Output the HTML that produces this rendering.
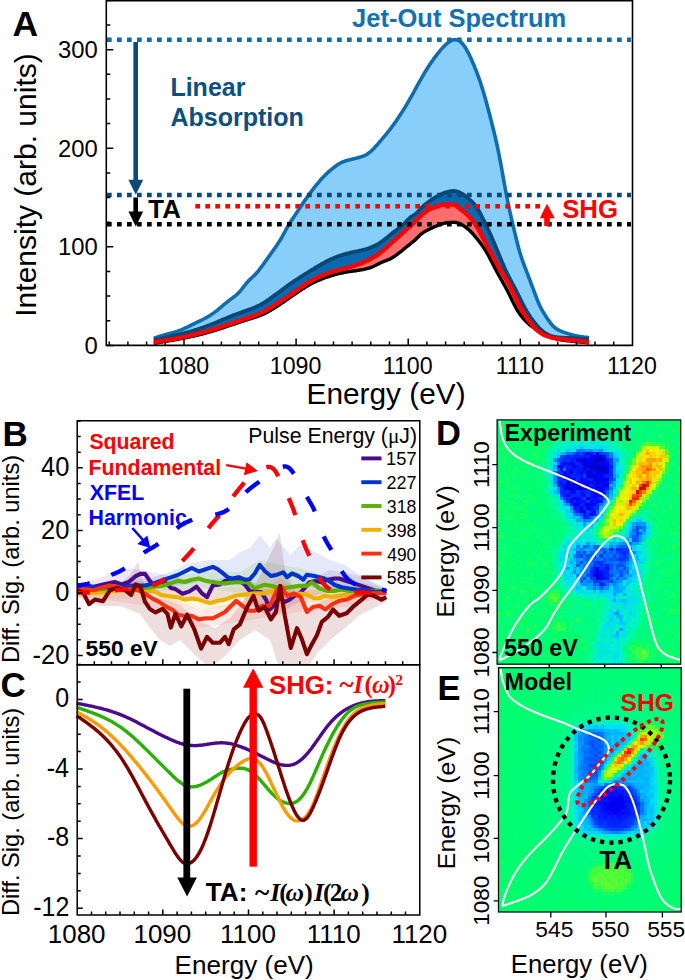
<!DOCTYPE html>
<html><head><meta charset="utf-8"><style>
html,body{margin:0;padding:0;background:#fff;}
body{width:685px;height:980px;overflow:hidden;font-family:"Liberation Sans",sans-serif;}
svg{display:block;}
</style></head><body>
<svg width="685" height="980" viewBox="0 0 685 980">
<path d="M153.8 338.2 L154.8 337.9 L155.8 337.6 L156.8 337.3 L157.8 336.9 L158.8 336.6 L159.8 336.3 L160.8 336 L161.8 335.7 L162.8 335.4 L163.8 335.1 L164.8 334.8 L165.8 334.6 L166.8 334.3 L167.8 334 L168.8 333.7 L169.8 333.5 L170.8 333.2 L171.8 332.9 L172.8 332.6 L173.8 332.4 L174.8 332.1 L175.8 331.8 L176.8 331.4 L177.8 331.1 L178.8 330.7 L179.8 330.4 L180.8 330 L181.8 329.6 L182.8 329.1 L183.8 328.7 L184.8 328.2 L185.8 327.7 L186.8 327.3 L187.8 326.8 L188.8 326.3 L189.8 325.8 L190.8 325.3 L191.8 324.8 L192.8 324.3 L193.8 323.8 L194.8 323.3 L195.8 322.8 L196.8 322.4 L197.8 321.9 L198.8 321.4 L199.8 321 L200.8 320.5 L201.8 320 L202.8 319.5 L203.8 319 L204.8 318.5 L205.8 317.9 L206.8 317.4 L207.8 316.8 L208.8 316.2 L209.8 315.6 L210.8 315 L211.8 314.3 L212.8 313.6 L213.8 312.9 L214.8 312.1 L215.8 311.4 L216.8 310.6 L217.8 309.8 L218.8 308.9 L219.8 308.1 L220.8 307.3 L221.8 306.4 L222.8 305.6 L223.8 304.7 L224.8 303.9 L225.8 303.1 L226.8 302.3 L227.8 301.4 L228.8 300.7 L229.8 299.9 L230.8 299.1 L231.8 298.4 L232.8 297.7 L233.8 296.9 L234.8 296.2 L235.8 295.4 L236.8 294.5 L237.8 293.6 L238.8 292.6 L239.8 291.5 L240.8 290.3 L241.8 289.1 L242.8 287.8 L243.8 286.5 L244.8 285.3 L245.8 284 L246.8 282.8 L247.8 281.7 L248.8 280.6 L249.8 279.6 L250.8 278.7 L251.8 277.7 L252.8 276.8 L253.8 275.8 L254.8 274.9 L255.8 273.8 L256.8 272.7 L257.8 271.6 L258.8 270.3 L259.8 269 L260.8 267.7 L261.8 266.4 L262.8 265 L263.8 263.6 L264.8 262.2 L265.8 260.8 L266.8 259.4 L267.8 258 L268.8 256.6 L269.8 255.2 L270.8 253.8 L271.8 252.4 L272.8 251 L273.8 249.6 L274.8 248.2 L275.8 246.7 L276.8 245.3 L277.8 243.7 L278.8 242.2 L279.8 240.6 L280.8 239 L281.8 237.3 L282.8 235.5 L283.8 233.7 L284.8 231.9 L285.8 230 L286.8 228.2 L287.8 226.4 L288.8 224.7 L289.8 223.1 L290.8 221.4 L291.8 219.9 L292.8 218.4 L293.8 216.9 L294.8 215.4 L295.8 214 L296.8 212.5 L297.8 211 L298.8 209.6 L299.8 208.1 L300.8 206.6 L301.8 205.1 L302.8 203.6 L303.8 202.1 L304.8 200.6 L305.8 199.1 L306.8 197.7 L307.8 196.3 L308.8 194.9 L309.8 193.5 L310.8 192.2 L311.8 190.8 L312.8 189.5 L313.8 188.2 L314.8 187 L315.8 185.7 L316.8 184.5 L317.8 183.2 L318.8 182.1 L319.8 180.9 L320.8 179.7 L321.8 178.6 L322.8 177.6 L323.8 176.5 L324.8 175.5 L325.8 174.5 L326.8 173.5 L327.8 172.6 L328.8 171.7 L329.8 170.8 L330.8 170 L331.8 169.1 L332.8 168.3 L333.8 167.5 L334.8 166.8 L335.8 166 L336.8 165.3 L337.8 164.6 L338.8 164 L339.8 163.4 L340.8 162.9 L341.8 162.4 L342.8 161.9 L343.8 161.5 L344.8 161.2 L345.8 160.8 L346.8 160.6 L347.8 160.3 L348.8 160 L349.8 159.8 L350.8 159.5 L351.8 159.3 L352.8 159 L353.8 158.8 L354.8 158.5 L355.8 158.3 L356.8 158 L357.8 157.8 L358.8 157.5 L359.8 157.2 L360.8 156.9 L361.8 156.6 L362.8 156.3 L363.8 155.9 L364.8 155.5 L365.8 155 L366.8 154.4 L367.8 153.8 L368.8 153 L369.8 152.2 L370.8 151.4 L371.8 150.5 L372.8 149.5 L373.8 148.5 L374.8 147.4 L375.8 146.3 L376.8 145.2 L377.8 144.1 L378.8 142.9 L379.8 141.7 L380.8 140.6 L381.8 139.4 L382.8 138.2 L383.8 137 L384.8 135.9 L385.8 134.6 L386.8 133.4 L387.8 132.2 L388.8 130.9 L389.8 129.6 L390.8 128.3 L391.8 127 L392.8 125.7 L393.8 124.3 L394.8 122.9 L395.8 121.5 L396.8 120 L397.8 118.6 L398.8 117.1 L399.8 115.5 L400.8 114 L401.8 112.5 L402.8 110.9 L403.8 109.3 L404.8 107.6 L405.8 106 L406.8 104.3 L407.8 102.6 L408.8 100.9 L409.8 99.1 L410.8 97.3 L411.8 95.6 L412.8 93.8 L413.8 92 L414.8 90.2 L415.8 88.3 L416.8 86.5 L417.8 84.7 L418.8 82.9 L419.8 81.1 L420.8 79.4 L421.8 77.6 L422.8 75.9 L423.8 74.1 L424.8 72.4 L425.8 70.8 L426.8 69.2 L427.8 67.6 L428.8 66 L429.8 64.5 L430.8 63 L431.8 61.6 L432.8 60.2 L433.8 58.8 L434.8 57.4 L435.8 56.1 L436.8 54.8 L437.8 53.5 L438.8 52.3 L439.8 51.1 L440.8 49.9 L441.8 48.7 L442.8 47.6 L443.8 46.5 L444.8 45.5 L445.8 44.5 L446.8 43.6 L447.8 42.8 L448.8 42 L449.8 41.3 L450.8 40.8 L451.8 40.3 L452.8 40 L453.8 39.8 L454.8 39.7 L455.8 39.7 L456.8 39.9 L457.8 40.2 L458.8 40.7 L459.8 41.3 L460.8 42.1 L461.8 43 L462.8 44.1 L463.8 45.4 L464.8 46.8 L465.8 48.4 L466.8 50.1 L467.8 52 L468.8 53.9 L469.8 56 L470.8 58.1 L471.8 60.3 L472.8 62.6 L473.8 65 L474.8 67.4 L475.8 69.9 L476.8 72.4 L477.8 75.1 L478.8 77.8 L479.8 80.7 L480.8 83.7 L481.8 86.8 L482.8 90 L483.8 93.3 L484.8 96.8 L485.8 100.3 L486.8 104 L487.8 107.7 L488.8 111.5 L489.8 115.3 L490.8 119.2 L491.8 123.2 L492.8 127.2 L493.8 131.2 L494.8 135.3 L495.8 139.6 L496.8 144 L497.8 148.7 L498.8 153.5 L499.8 158.6 L500.8 163.9 L501.8 169.5 L502.8 175.1 L503.8 180.7 L504.8 186.3 L505.8 191.7 L506.8 196.9 L507.8 201.9 L508.8 206.7 L509.8 211.3 L510.8 215.7 L511.8 220.1 L512.8 224.3 L513.8 228.6 L514.8 232.8 L515.8 237 L516.8 241 L517.8 245 L518.8 248.8 L519.8 252.3 L520.8 255.5 L521.8 258.6 L522.8 261.5 L523.8 264.2 L524.8 266.9 L525.8 269.5 L526.8 272.1 L527.8 274.7 L528.8 277.3 L529.8 279.9 L530.8 282.6 L531.8 285.3 L532.8 287.9 L533.8 290.6 L534.8 293.3 L535.8 296 L536.8 298.6 L537.8 301.1 L538.8 303.5 L539.8 305.7 L540.8 307.7 L541.8 309.6 L542.8 311.4 L543.8 313 L544.8 314.6 L545.8 316.2 L546.8 317.7 L547.8 319.2 L548.8 320.6 L549.8 322 L550.8 323.3 L551.8 324.6 L552.8 325.7 L553.8 326.7 L554.8 327.6 L555.8 328.4 L556.8 329 L557.8 329.6 L558.8 330.2 L559.8 330.7 L560.8 331.1 L561.8 331.5 L562.8 331.9 L563.8 332.2 L564.8 332.6 L565.8 332.9 L566.8 333.2 L567.8 333.6 L568.8 333.9 L569.8 334.2 L570.8 334.5 L571.8 334.8 L572.8 335 L573.8 335.3 L574.8 335.5 L575.8 335.7 L576.8 336 L577.8 336.1 L578.8 336.3 L579.8 336.5 L580.8 336.7 L581.8 336.8 L582.8 336.9 L583.8 337.1 L584.8 337.2 L585.8 337.3 L586.8 337.4 L587.8 337.6 L588.8 337.7 L589 337.7 L589 345.4 L153.8 345.4 Z" fill="#87cefa"/>
<path d="M153.8 339.9 L154.8 339.7 L155.8 339.5 L156.8 339.3 L157.8 339.1 L158.8 338.9 L159.8 338.7 L160.8 338.5 L161.8 338.3 L162.8 338 L163.8 337.8 L164.8 337.6 L165.8 337.4 L166.8 337.2 L167.8 337 L168.8 336.8 L169.8 336.5 L170.8 336.3 L171.8 336.1 L172.8 335.9 L173.8 335.6 L174.8 335.4 L175.8 335.2 L176.8 334.9 L177.8 334.7 L178.8 334.5 L179.8 334.2 L180.8 334 L181.8 333.7 L182.8 333.5 L183.8 333.2 L184.8 332.9 L185.8 332.7 L186.8 332.4 L187.8 332.1 L188.8 331.8 L189.8 331.6 L190.8 331.3 L191.8 331 L192.8 330.7 L193.8 330.4 L194.8 330.1 L195.8 329.8 L196.8 329.5 L197.8 329.2 L198.8 328.8 L199.8 328.5 L200.8 328.2 L201.8 327.8 L202.8 327.5 L203.8 327.2 L204.8 326.8 L205.8 326.5 L206.8 326.1 L207.8 325.7 L208.8 325.3 L209.8 325 L210.8 324.6 L211.8 324.2 L212.8 323.8 L213.8 323.4 L214.8 323 L215.8 322.6 L216.8 322.2 L217.8 321.7 L218.8 321.3 L219.8 320.9 L220.8 320.5 L221.8 320 L222.8 319.6 L223.8 319.2 L224.8 318.8 L225.8 318.4 L226.8 317.9 L227.8 317.5 L228.8 317.1 L229.8 316.7 L230.8 316.3 L231.8 315.9 L232.8 315.5 L233.8 315.1 L234.8 314.7 L235.8 314.4 L236.8 314 L237.8 313.6 L238.8 313.3 L239.8 312.9 L240.8 312.5 L241.8 312.2 L242.8 311.8 L243.8 311.4 L244.8 311.1 L245.8 310.7 L246.8 310.4 L247.8 310 L248.8 309.6 L249.8 309.3 L250.8 308.9 L251.8 308.5 L252.8 308.2 L253.8 307.8 L254.8 307.4 L255.8 307 L256.8 306.5 L257.8 306.1 L258.8 305.6 L259.8 305.1 L260.8 304.6 L261.8 304 L262.8 303.4 L263.8 302.8 L264.8 302.2 L265.8 301.6 L266.8 300.9 L267.8 300.2 L268.8 299.5 L269.8 298.8 L270.8 298.1 L271.8 297.4 L272.8 296.6 L273.8 295.9 L274.8 295.1 L275.8 294.4 L276.8 293.7 L277.8 292.9 L278.8 292.2 L279.8 291.4 L280.8 290.7 L281.8 289.9 L282.8 289.2 L283.8 288.5 L284.8 287.7 L285.8 287 L286.8 286.3 L287.8 285.6 L288.8 284.8 L289.8 284.1 L290.8 283.4 L291.8 282.8 L292.8 282.1 L293.8 281.4 L294.8 280.7 L295.8 280.1 L296.8 279.4 L297.8 278.8 L298.8 278.1 L299.8 277.5 L300.8 276.8 L301.8 276.2 L302.8 275.6 L303.8 275 L304.8 274.3 L305.8 273.7 L306.8 273.1 L307.8 272.5 L308.8 271.8 L309.8 271.2 L310.8 270.6 L311.8 270 L312.8 269.4 L313.8 268.8 L314.8 268.1 L315.8 267.5 L316.8 266.9 L317.8 266.3 L318.8 265.7 L319.8 265.2 L320.8 264.6 L321.8 264 L322.8 263.4 L323.8 262.9 L324.8 262.3 L325.8 261.8 L326.8 261.3 L327.8 260.8 L328.8 260.3 L329.8 259.8 L330.8 259.3 L331.8 258.9 L332.8 258.4 L333.8 258 L334.8 257.6 L335.8 257.2 L336.8 256.8 L337.8 256.4 L338.8 256.1 L339.8 255.7 L340.8 255.4 L341.8 255.1 L342.8 254.7 L343.8 254.4 L344.8 254.2 L345.8 253.9 L346.8 253.6 L347.8 253.3 L348.8 253.1 L349.8 252.8 L350.8 252.6 L351.8 252.4 L352.8 252.2 L353.8 252 L354.8 251.7 L355.8 251.5 L356.8 251.3 L357.8 251.1 L358.8 250.9 L359.8 250.7 L360.8 250.5 L361.8 250.2 L362.8 250 L363.8 249.7 L364.8 249.5 L365.8 249.2 L366.8 248.9 L367.8 248.6 L368.8 248.3 L369.8 247.9 L370.8 247.5 L371.8 247.1 L372.8 246.7 L373.8 246.3 L374.8 245.8 L375.8 245.3 L376.8 244.8 L377.8 244.2 L378.8 243.6 L379.8 243 L380.8 242.3 L381.8 241.6 L382.8 240.9 L383.8 240.1 L384.8 239.4 L385.8 238.6 L386.8 237.8 L387.8 236.9 L388.8 236.1 L389.8 235.3 L390.8 234.5 L391.8 233.6 L392.8 232.8 L393.8 232 L394.8 231.2 L395.8 230.5 L396.8 229.7 L397.8 229 L398.8 228.2 L399.8 227.5 L400.8 226.7 L401.8 225.9 L402.8 225 L403.8 224.1 L404.8 223.1 L405.8 222 L406.8 220.9 L407.8 219.8 L408.8 218.8 L409.8 217.9 L410.8 217.1 L411.8 216.4 L412.8 215.8 L413.8 215.2 L414.8 214.5 L415.8 213.7 L416.8 212.8 L417.8 211.8 L418.8 210.8 L419.8 209.7 L420.8 208.6 L421.8 207.6 L422.8 206.7 L423.8 205.7 L424.8 204.8 L425.8 204 L426.8 203.2 L427.8 202.4 L428.8 201.7 L429.8 200.9 L430.8 200.2 L431.8 199.5 L432.8 198.9 L433.8 198.3 L434.8 197.7 L435.8 197.1 L436.8 196.5 L437.8 196 L438.8 195.5 L439.8 194.9 L440.8 194.4 L441.8 194 L442.8 193.5 L443.8 193.1 L444.8 192.7 L445.8 192.3 L446.8 192 L447.8 191.8 L448.8 191.5 L449.8 191.3 L450.8 191.2 L451.8 191.1 L452.8 191 L453.8 191 L454.8 191.1 L455.8 191.2 L456.8 191.4 L457.8 191.7 L458.8 192.1 L459.8 192.6 L460.8 193.1 L461.8 193.6 L462.8 194.2 L463.8 194.9 L464.8 195.6 L465.8 196.4 L466.8 197.2 L467.8 198 L468.8 198.9 L469.8 199.8 L470.8 200.7 L471.8 201.6 L472.8 202.6 L473.8 203.7 L474.8 204.9 L475.8 206.2 L476.8 207.6 L477.8 209.1 L478.8 210.8 L479.8 212.6 L480.8 214.5 L481.8 216.5 L482.8 218.5 L483.8 220.4 L484.8 222.4 L485.8 224.5 L486.8 226.5 L487.8 228.7 L488.8 230.8 L489.8 233.1 L490.8 235.3 L491.8 237.6 L492.8 239.9 L493.8 242.2 L494.8 244.6 L495.8 247 L496.8 249.4 L497.8 251.8 L498.8 254.2 L499.8 256.7 L500.8 259.1 L501.8 261.5 L502.8 263.8 L503.8 266.1 L504.8 268.4 L505.8 270.6 L506.8 272.7 L507.8 274.7 L508.8 276.7 L509.8 278.7 L510.8 280.6 L511.8 282.5 L512.8 284.3 L513.8 286.2 L514.8 288.1 L515.8 290 L516.8 292 L517.8 294 L518.8 296 L519.8 298 L520.8 300 L521.8 302.1 L522.8 304 L523.8 306 L524.8 307.8 L525.8 309.6 L526.8 311.4 L527.8 313 L528.8 314.6 L529.8 316.1 L530.8 317.6 L531.8 319 L532.8 320.3 L533.8 321.7 L534.8 323 L535.8 324.2 L536.8 325.4 L537.8 326.5 L538.8 327.6 L539.8 328.6 L540.8 329.5 L541.8 330.4 L542.8 331.3 L543.8 332 L544.8 332.7 L545.8 333.4 L546.8 333.9 L547.8 334.5 L548.8 334.9 L549.8 335.4 L550.8 335.8 L551.8 336.1 L552.8 336.4 L553.8 336.6 L554.8 336.9 L555.8 337 L556.8 337.2 L557.8 337.3 L558.8 337.4 L559.8 337.5 L560.8 337.6 L561.8 337.6 L562.8 337.7 L563.8 337.7 L564.8 337.8 L565.8 337.8 L566.8 337.8 L567.8 337.9 L568.8 337.9 L569.8 338 L570.8 338 L571.8 338.1 L572.8 338.1 L573.8 338.2 L574.8 338.3 L575.8 338.3 L576.8 338.4 L577.8 338.4 L578.8 338.5 L579.8 338.6 L580.8 338.7 L581.8 338.7 L582.8 338.8 L583.8 338.9 L584.8 339 L585.8 339 L586.8 339.1 L587.8 339.2 L588.8 339.3 L589 339.3 L589 345.4 L153.8 345.4 Z" fill="#0a68ad"/>
<path d="M153.8 342.2 L154.8 342.1 L155.8 341.9 L156.8 341.8 L157.8 341.6 L158.8 341.5 L159.8 341.3 L160.8 341.2 L161.8 341 L162.8 340.9 L163.8 340.7 L164.8 340.6 L165.8 340.4 L166.8 340.2 L167.8 340.1 L168.8 339.9 L169.8 339.7 L170.8 339.6 L171.8 339.4 L172.8 339.2 L173.8 339 L174.8 338.8 L175.8 338.6 L176.8 338.4 L177.8 338.2 L178.8 338 L179.8 337.8 L180.8 337.6 L181.8 337.4 L182.8 337.2 L183.8 337 L184.8 336.8 L185.8 336.6 L186.8 336.3 L187.8 336.1 L188.8 335.9 L189.8 335.6 L190.8 335.4 L191.8 335.2 L192.8 334.9 L193.8 334.7 L194.8 334.5 L195.8 334.2 L196.8 334 L197.8 333.7 L198.8 333.5 L199.8 333.2 L200.8 333 L201.8 332.7 L202.8 332.4 L203.8 332.2 L204.8 331.9 L205.8 331.6 L206.8 331.4 L207.8 331.1 L208.8 330.8 L209.8 330.5 L210.8 330.2 L211.8 329.9 L212.8 329.6 L213.8 329.3 L214.8 329 L215.8 328.7 L216.8 328.3 L217.8 328 L218.8 327.7 L219.8 327.4 L220.8 327 L221.8 326.7 L222.8 326.4 L223.8 326 L224.8 325.7 L225.8 325.3 L226.8 325 L227.8 324.7 L228.8 324.3 L229.8 324 L230.8 323.6 L231.8 323.3 L232.8 323 L233.8 322.6 L234.8 322.3 L235.8 321.9 L236.8 321.6 L237.8 321.3 L238.8 320.9 L239.8 320.6 L240.8 320.3 L241.8 319.9 L242.8 319.6 L243.8 319.3 L244.8 318.9 L245.8 318.6 L246.8 318.3 L247.8 317.9 L248.8 317.6 L249.8 317.3 L250.8 316.9 L251.8 316.6 L252.8 316.3 L253.8 315.9 L254.8 315.6 L255.8 315.2 L256.8 314.8 L257.8 314.4 L258.8 314 L259.8 313.6 L260.8 313.1 L261.8 312.7 L262.8 312.2 L263.8 311.6 L264.8 311.1 L265.8 310.6 L266.8 310 L267.8 309.4 L268.8 308.8 L269.8 308.2 L270.8 307.6 L271.8 307 L272.8 306.4 L273.8 305.8 L274.8 305.1 L275.8 304.5 L276.8 303.9 L277.8 303.2 L278.8 302.6 L279.8 302 L280.8 301.3 L281.8 300.7 L282.8 300 L283.8 299.4 L284.8 298.7 L285.8 298 L286.8 297.4 L287.8 296.7 L288.8 296 L289.8 295.3 L290.8 294.6 L291.8 293.9 L292.8 293.2 L293.8 292.5 L294.8 291.8 L295.8 291.1 L296.8 290.4 L297.8 289.7 L298.8 289 L299.8 288.3 L300.8 287.6 L301.8 286.9 L302.8 286.2 L303.8 285.5 L304.8 284.9 L305.8 284.2 L306.8 283.6 L307.8 282.9 L308.8 282.3 L309.8 281.7 L310.8 281.1 L311.8 280.6 L312.8 280 L313.8 279.5 L314.8 278.9 L315.8 278.4 L316.8 277.9 L317.8 277.4 L318.8 277 L319.8 276.5 L320.8 276.1 L321.8 275.7 L322.8 275.2 L323.8 274.8 L324.8 274.4 L325.8 274.1 L326.8 273.7 L327.8 273.3 L328.8 273 L329.8 272.7 L330.8 272.3 L331.8 272 L332.8 271.7 L333.8 271.4 L334.8 271.1 L335.8 270.8 L336.8 270.6 L337.8 270.3 L338.8 270 L339.8 269.8 L340.8 269.5 L341.8 269.2 L342.8 269 L343.8 268.7 L344.8 268.4 L345.8 268.2 L346.8 267.9 L347.8 267.6 L348.8 267.3 L349.8 267.1 L350.8 266.8 L351.8 266.5 L352.8 266.2 L353.8 265.9 L354.8 265.5 L355.8 265.2 L356.8 264.9 L357.8 264.5 L358.8 264.2 L359.8 263.8 L360.8 263.4 L361.8 263 L362.8 262.6 L363.8 262.2 L364.8 261.7 L365.8 261.3 L366.8 260.8 L367.8 260.4 L368.8 259.9 L369.8 259.3 L370.8 258.8 L371.8 258.3 L372.8 257.7 L373.8 257.1 L374.8 256.5 L375.8 255.9 L376.8 255.3 L377.8 254.6 L378.8 253.9 L379.8 253.2 L380.8 252.4 L381.8 251.6 L382.8 250.8 L383.8 250 L384.8 249.1 L385.8 248.2 L386.8 247.3 L387.8 246.4 L388.8 245.5 L389.8 244.5 L390.8 243.6 L391.8 242.7 L392.8 241.8 L393.8 240.9 L394.8 240 L395.8 239.1 L396.8 238.2 L397.8 237.3 L398.8 236.4 L399.8 235.5 L400.8 234.6 L401.8 233.7 L402.8 232.8 L403.8 231.9 L404.8 231 L405.8 230.1 L406.8 229.2 L407.8 228.3 L408.8 227.4 L409.8 226.5 L410.8 225.6 L411.8 224.7 L412.8 223.8 L413.8 222.8 L414.8 221.9 L415.8 220.9 L416.8 219.9 L417.8 218.9 L418.8 217.9 L419.8 216.9 L420.8 215.9 L421.8 215 L422.8 214.1 L423.8 213.2 L424.8 212.4 L425.8 211.7 L426.8 211 L427.8 210.4 L428.8 209.8 L429.8 209.3 L430.8 208.8 L431.8 208.4 L432.8 207.9 L433.8 207.5 L434.8 207.1 L435.8 206.7 L436.8 206.4 L437.8 206 L438.8 205.7 L439.8 205.4 L440.8 205.2 L441.8 205 L442.8 204.9 L443.8 204.7 L444.8 204.7 L445.8 204.6 L446.8 204.5 L447.8 204.5 L448.8 204.5 L449.8 204.5 L450.8 204.5 L451.8 204.6 L452.8 204.6 L453.8 204.7 L454.8 205 L455.8 205.5 L456.8 206.1 L457.8 206.9 L458.8 207.7 L459.8 208.6 L460.8 209.5 L461.8 210.3 L462.8 211.1 L463.8 211.8 L464.8 212.6 L465.8 213.4 L466.8 214.3 L467.8 215.3 L468.8 216.3 L469.8 217.4 L470.8 218.5 L471.8 219.7 L472.8 220.9 L473.8 222.2 L474.8 223.5 L475.8 224.9 L476.8 226.4 L477.8 228.1 L478.8 229.9 L479.8 231.7 L480.8 233.7 L481.8 235.6 L482.8 237.5 L483.8 239.4 L484.8 241.3 L485.8 243.2 L486.8 245.1 L487.8 247 L488.8 248.9 L489.8 250.8 L490.8 252.7 L491.8 254.5 L492.8 256.4 L493.8 258.2 L494.8 260 L495.8 261.8 L496.8 263.6 L497.8 265.3 L498.8 267.1 L499.8 268.8 L500.8 270.5 L501.8 272.2 L502.8 273.8 L503.8 275.4 L504.8 277.1 L505.8 278.7 L506.8 280.4 L507.8 282.1 L508.8 283.9 L509.8 285.7 L510.8 287.6 L511.8 289.6 L512.8 291.6 L513.8 293.8 L514.8 296 L515.8 298.2 L516.8 300.3 L517.8 302.4 L518.8 304.4 L519.8 306.3 L520.8 308.1 L521.8 309.9 L522.8 311.5 L523.8 313.1 L524.8 314.7 L525.8 316.2 L526.8 317.7 L527.8 319.1 L528.8 320.5 L529.8 321.9 L530.8 323.2 L531.8 324.5 L532.8 325.7 L533.8 326.8 L534.8 327.9 L535.8 328.9 L536.8 329.9 L537.8 330.8 L538.8 331.6 L539.8 332.3 L540.8 333 L541.8 333.6 L542.8 334.2 L543.8 334.7 L544.8 335.2 L545.8 335.6 L546.8 336 L547.8 336.4 L548.8 336.7 L549.8 337 L550.8 337.3 L551.8 337.6 L552.8 337.8 L553.8 338 L554.8 338.2 L555.8 338.4 L556.8 338.6 L557.8 338.7 L558.8 338.8 L559.8 339 L560.8 339.1 L561.8 339.2 L562.8 339.3 L563.8 339.4 L564.8 339.5 L565.8 339.6 L566.8 339.7 L567.8 339.8 L568.8 339.9 L569.8 340 L570.8 340.1 L571.8 340.2 L572.8 340.3 L573.8 340.4 L574.8 340.5 L575.8 340.6 L576.8 340.7 L577.8 340.8 L578.8 340.9 L579.8 341.1 L580.8 341.2 L581.8 341.3 L582.8 341.4 L583.8 341.5 L584.8 341.6 L585.8 341.7 L586.8 341.8 L587.8 342 L588.8 342.1 L589 342.1 L589 345.4 L153.8 345.4 Z" fill="#ff6e6e"/>
<path d="M153.8 343.3 L154.8 343.1 L155.8 343 L156.8 342.8 L157.8 342.7 L158.8 342.5 L159.8 342.3 L160.8 342.2 L161.8 342 L162.8 341.9 L163.8 341.7 L164.8 341.5 L165.8 341.4 L166.8 341.2 L167.8 341 L168.8 340.9 L169.8 340.7 L170.8 340.5 L171.8 340.3 L172.8 340.2 L173.8 340 L174.8 339.8 L175.8 339.6 L176.8 339.5 L177.8 339.3 L178.8 339.1 L179.8 338.9 L180.8 338.7 L181.8 338.5 L182.8 338.3 L183.8 338.1 L184.8 337.9 L185.8 337.7 L186.8 337.5 L187.8 337.3 L188.8 337.1 L189.8 336.9 L190.8 336.7 L191.8 336.4 L192.8 336.2 L193.8 336 L194.8 335.8 L195.8 335.5 L196.8 335.3 L197.8 335.1 L198.8 334.8 L199.8 334.6 L200.8 334.3 L201.8 334.1 L202.8 333.8 L203.8 333.5 L204.8 333.3 L205.8 333 L206.8 332.7 L207.8 332.5 L208.8 332.2 L209.8 331.9 L210.8 331.6 L211.8 331.3 L212.8 331 L213.8 330.7 L214.8 330.4 L215.8 330.1 L216.8 329.8 L217.8 329.4 L218.8 329.1 L219.8 328.8 L220.8 328.5 L221.8 328.2 L222.8 327.8 L223.8 327.5 L224.8 327.2 L225.8 326.8 L226.8 326.5 L227.8 326.1 L228.8 325.8 L229.8 325.5 L230.8 325.1 L231.8 324.8 L232.8 324.5 L233.8 324.1 L234.8 323.8 L235.8 323.4 L236.8 323.1 L237.8 322.8 L238.8 322.4 L239.8 322.1 L240.8 321.8 L241.8 321.4 L242.8 321.1 L243.8 320.8 L244.8 320.4 L245.8 320.1 L246.8 319.8 L247.8 319.5 L248.8 319.2 L249.8 318.9 L250.8 318.6 L251.8 318.3 L252.8 317.9 L253.8 317.6 L254.8 317.3 L255.8 317 L256.8 316.7 L257.8 316.3 L258.8 316 L259.8 315.6 L260.8 315.2 L261.8 314.8 L262.8 314.3 L263.8 313.9 L264.8 313.4 L265.8 312.9 L266.8 312.4 L267.8 311.9 L268.8 311.3 L269.8 310.8 L270.8 310.2 L271.8 309.6 L272.8 309 L273.8 308.4 L274.8 307.8 L275.8 307.1 L276.8 306.5 L277.8 305.9 L278.8 305.2 L279.8 304.5 L280.8 303.9 L281.8 303.2 L282.8 302.5 L283.8 301.8 L284.8 301.1 L285.8 300.4 L286.8 299.7 L287.8 299 L288.8 298.3 L289.8 297.6 L290.8 296.9 L291.8 296.2 L292.8 295.5 L293.8 294.8 L294.8 294.1 L295.8 293.5 L296.8 292.8 L297.8 292.1 L298.8 291.4 L299.8 290.8 L300.8 290.1 L301.8 289.4 L302.8 288.8 L303.8 288.2 L304.8 287.5 L305.8 286.9 L306.8 286.3 L307.8 285.7 L308.8 285.2 L309.8 284.6 L310.8 284.1 L311.8 283.5 L312.8 283 L313.8 282.5 L314.8 282 L315.8 281.6 L316.8 281.1 L317.8 280.6 L318.8 280.2 L319.8 279.8 L320.8 279.4 L321.8 279 L322.8 278.6 L323.8 278.2 L324.8 277.8 L325.8 277.5 L326.8 277.1 L327.8 276.8 L328.8 276.5 L329.8 276.2 L330.8 275.9 L331.8 275.6 L332.8 275.3 L333.8 275 L334.8 274.7 L335.8 274.4 L336.8 274.2 L337.8 273.9 L338.8 273.7 L339.8 273.5 L340.8 273.2 L341.8 273 L342.8 272.8 L343.8 272.6 L344.8 272.4 L345.8 272.2 L346.8 272 L347.8 271.9 L348.8 271.7 L349.8 271.5 L350.8 271.4 L351.8 271.2 L352.8 271.1 L353.8 271 L354.8 270.8 L355.8 270.7 L356.8 270.5 L357.8 270.4 L358.8 270.2 L359.8 270.1 L360.8 269.9 L361.8 269.7 L362.8 269.6 L363.8 269.4 L364.8 269.1 L365.8 268.9 L366.8 268.6 L367.8 268.4 L368.8 268.1 L369.8 267.8 L370.8 267.4 L371.8 267.1 L372.8 266.7 L373.8 266.2 L374.8 265.8 L375.8 265.3 L376.8 264.8 L377.8 264.3 L378.8 263.7 L379.8 263.2 L380.8 262.7 L381.8 262.2 L382.8 261.8 L383.8 261.4 L384.8 261 L385.8 260.7 L386.8 260.3 L387.8 259.9 L388.8 259.5 L389.8 259.1 L390.8 258.6 L391.8 258 L392.8 257.4 L393.8 256.8 L394.8 256.1 L395.8 255.4 L396.8 254.7 L397.8 254 L398.8 253.2 L399.8 252.4 L400.8 251.6 L401.8 250.8 L402.8 250 L403.8 249.1 L404.8 248.3 L405.8 247.5 L406.8 246.7 L407.8 245.9 L408.8 245.1 L409.8 244.3 L410.8 243.5 L411.8 242.7 L412.8 241.9 L413.8 241.1 L414.8 240.2 L415.8 239.2 L416.8 238.2 L417.8 237.2 L418.8 236.2 L419.8 235.2 L420.8 234.3 L421.8 233.5 L422.8 232.8 L423.8 232.1 L424.8 231.6 L425.8 231 L426.8 230.5 L427.8 230 L428.8 229.5 L429.8 229 L430.8 228.5 L431.8 228.1 L432.8 227.6 L433.8 227.1 L434.8 226.7 L435.8 226.2 L436.8 225.8 L437.8 225.4 L438.8 225.1 L439.8 224.7 L440.8 224.3 L441.8 224 L442.8 223.7 L443.8 223.4 L444.8 223.2 L445.8 223 L446.8 222.8 L447.8 222.7 L448.8 222.6 L449.8 222.5 L450.8 222.4 L451.8 222.4 L452.8 222.4 L453.8 222.3 L454.8 222.4 L455.8 222.5 L456.8 222.7 L457.8 223 L458.8 223.3 L459.8 223.7 L460.8 224.2 L461.8 224.7 L462.8 225.3 L463.8 225.9 L464.8 226.6 L465.8 227.3 L466.8 228.1 L467.8 228.9 L468.8 229.8 L469.8 230.7 L470.8 231.7 L471.8 232.7 L472.8 233.8 L473.8 234.9 L474.8 236.1 L475.8 237.3 L476.8 238.5 L477.8 239.7 L478.8 241 L479.8 242.3 L480.8 243.6 L481.8 245 L482.8 246.4 L483.8 247.8 L484.8 249.3 L485.8 250.9 L486.8 252.6 L487.8 254.4 L488.8 256.3 L489.8 258.2 L490.8 260.1 L491.8 262 L492.8 264 L493.8 266 L494.8 267.9 L495.8 269.8 L496.8 271.7 L497.8 273.5 L498.8 275.3 L499.8 277 L500.8 278.8 L501.8 280.5 L502.8 282.3 L503.8 284.1 L504.8 285.9 L505.8 287.7 L506.8 289.6 L507.8 291.6 L508.8 293.6 L509.8 295.6 L510.8 297.6 L511.8 299.7 L512.8 301.7 L513.8 303.7 L514.8 305.6 L515.8 307.5 L516.8 309.3 L517.8 311 L518.8 312.6 L519.8 314.1 L520.8 315.5 L521.8 316.8 L522.8 318 L523.8 319.2 L524.8 320.2 L525.8 321.3 L526.8 322.2 L527.8 323.1 L528.8 324 L529.8 324.8 L530.8 325.6 L531.8 326.3 L532.8 327 L533.8 327.7 L534.8 328.4 L535.8 329 L536.8 329.7 L537.8 330.3 L538.8 330.9 L539.8 331.5 L540.8 332.1 L541.8 332.7 L542.8 333.3 L543.8 333.8 L544.8 334.3 L545.8 334.9 L546.8 335.3 L547.8 335.8 L548.8 336.3 L549.8 336.7 L550.8 337.1 L551.8 337.4 L552.8 337.8 L553.8 338.1 L554.8 338.4 L555.8 338.7 L556.8 339 L557.8 339.2 L558.8 339.4 L559.8 339.6 L560.8 339.8 L561.8 340 L562.8 340.1 L563.8 340.3 L564.8 340.4 L565.8 340.5 L566.8 340.7 L567.8 340.8 L568.8 340.9 L569.8 341 L570.8 341.1 L571.8 341.2 L572.8 341.3 L573.8 341.4 L574.8 341.5 L575.8 341.6 L576.8 341.7 L577.8 341.8 L578.8 341.9 L579.8 342 L580.8 342.1 L581.8 342.1 L582.8 342.2 L583.8 342.3 L584.8 342.4 L585.8 342.5 L586.8 342.6 L587.8 342.7 L588.8 342.8 L589 342.8 L589 346 L153.8 346 Z" fill="#fff"/>
<path d="M153.8 338.2 L154.8 337.9 L155.8 337.6 L156.8 337.3 L157.8 336.9 L158.8 336.6 L159.8 336.3 L160.8 336 L161.8 335.7 L162.8 335.4 L163.8 335.1 L164.8 334.8 L165.8 334.6 L166.8 334.3 L167.8 334 L168.8 333.7 L169.8 333.5 L170.8 333.2 L171.8 332.9 L172.8 332.6 L173.8 332.4 L174.8 332.1 L175.8 331.8 L176.8 331.4 L177.8 331.1 L178.8 330.7 L179.8 330.4 L180.8 330 L181.8 329.6 L182.8 329.1 L183.8 328.7 L184.8 328.2 L185.8 327.7 L186.8 327.3 L187.8 326.8 L188.8 326.3 L189.8 325.8 L190.8 325.3 L191.8 324.8 L192.8 324.3 L193.8 323.8 L194.8 323.3 L195.8 322.8 L196.8 322.4 L197.8 321.9 L198.8 321.4 L199.8 321 L200.8 320.5 L201.8 320 L202.8 319.5 L203.8 319 L204.8 318.5 L205.8 317.9 L206.8 317.4 L207.8 316.8 L208.8 316.2 L209.8 315.6 L210.8 315 L211.8 314.3 L212.8 313.6 L213.8 312.9 L214.8 312.1 L215.8 311.4 L216.8 310.6 L217.8 309.8 L218.8 308.9 L219.8 308.1 L220.8 307.3 L221.8 306.4 L222.8 305.6 L223.8 304.7 L224.8 303.9 L225.8 303.1 L226.8 302.3 L227.8 301.4 L228.8 300.7 L229.8 299.9 L230.8 299.1 L231.8 298.4 L232.8 297.7 L233.8 296.9 L234.8 296.2 L235.8 295.4 L236.8 294.5 L237.8 293.6 L238.8 292.6 L239.8 291.5 L240.8 290.3 L241.8 289.1 L242.8 287.8 L243.8 286.5 L244.8 285.3 L245.8 284 L246.8 282.8 L247.8 281.7 L248.8 280.6 L249.8 279.6 L250.8 278.7 L251.8 277.7 L252.8 276.8 L253.8 275.8 L254.8 274.9 L255.8 273.8 L256.8 272.7 L257.8 271.6 L258.8 270.3 L259.8 269 L260.8 267.7 L261.8 266.4 L262.8 265 L263.8 263.6 L264.8 262.2 L265.8 260.8 L266.8 259.4 L267.8 258 L268.8 256.6 L269.8 255.2 L270.8 253.8 L271.8 252.4 L272.8 251 L273.8 249.6 L274.8 248.2 L275.8 246.7 L276.8 245.3 L277.8 243.7 L278.8 242.2 L279.8 240.6 L280.8 239 L281.8 237.3 L282.8 235.5 L283.8 233.7 L284.8 231.9 L285.8 230 L286.8 228.2 L287.8 226.4 L288.8 224.7 L289.8 223.1 L290.8 221.4 L291.8 219.9 L292.8 218.4 L293.8 216.9 L294.8 215.4 L295.8 214 L296.8 212.5 L297.8 211 L298.8 209.6 L299.8 208.1 L300.8 206.6 L301.8 205.1 L302.8 203.6 L303.8 202.1 L304.8 200.6 L305.8 199.1 L306.8 197.7 L307.8 196.3 L308.8 194.9 L309.8 193.5 L310.8 192.2 L311.8 190.8 L312.8 189.5 L313.8 188.2 L314.8 187 L315.8 185.7 L316.8 184.5 L317.8 183.2 L318.8 182.1 L319.8 180.9 L320.8 179.7 L321.8 178.6 L322.8 177.6 L323.8 176.5 L324.8 175.5 L325.8 174.5 L326.8 173.5 L327.8 172.6 L328.8 171.7 L329.8 170.8 L330.8 170 L331.8 169.1 L332.8 168.3 L333.8 167.5 L334.8 166.8 L335.8 166 L336.8 165.3 L337.8 164.6 L338.8 164 L339.8 163.4 L340.8 162.9 L341.8 162.4 L342.8 161.9 L343.8 161.5 L344.8 161.2 L345.8 160.8 L346.8 160.6 L347.8 160.3 L348.8 160 L349.8 159.8 L350.8 159.5 L351.8 159.3 L352.8 159 L353.8 158.8 L354.8 158.5 L355.8 158.3 L356.8 158 L357.8 157.8 L358.8 157.5 L359.8 157.2 L360.8 156.9 L361.8 156.6 L362.8 156.3 L363.8 155.9 L364.8 155.5 L365.8 155 L366.8 154.4 L367.8 153.8 L368.8 153 L369.8 152.2 L370.8 151.4 L371.8 150.5 L372.8 149.5 L373.8 148.5 L374.8 147.4 L375.8 146.3 L376.8 145.2 L377.8 144.1 L378.8 142.9 L379.8 141.7 L380.8 140.6 L381.8 139.4 L382.8 138.2 L383.8 137 L384.8 135.9 L385.8 134.6 L386.8 133.4 L387.8 132.2 L388.8 130.9 L389.8 129.6 L390.8 128.3 L391.8 127 L392.8 125.7 L393.8 124.3 L394.8 122.9 L395.8 121.5 L396.8 120 L397.8 118.6 L398.8 117.1 L399.8 115.5 L400.8 114 L401.8 112.5 L402.8 110.9 L403.8 109.3 L404.8 107.6 L405.8 106 L406.8 104.3 L407.8 102.6 L408.8 100.9 L409.8 99.1 L410.8 97.3 L411.8 95.6 L412.8 93.8 L413.8 92 L414.8 90.2 L415.8 88.3 L416.8 86.5 L417.8 84.7 L418.8 82.9 L419.8 81.1 L420.8 79.4 L421.8 77.6 L422.8 75.9 L423.8 74.1 L424.8 72.4 L425.8 70.8 L426.8 69.2 L427.8 67.6 L428.8 66 L429.8 64.5 L430.8 63 L431.8 61.6 L432.8 60.2 L433.8 58.8 L434.8 57.4 L435.8 56.1 L436.8 54.8 L437.8 53.5 L438.8 52.3 L439.8 51.1 L440.8 49.9 L441.8 48.7 L442.8 47.6 L443.8 46.5 L444.8 45.5 L445.8 44.5 L446.8 43.6 L447.8 42.8 L448.8 42 L449.8 41.3 L450.8 40.8 L451.8 40.3 L452.8 40 L453.8 39.8 L454.8 39.7 L455.8 39.7 L456.8 39.9 L457.8 40.2 L458.8 40.7 L459.8 41.3 L460.8 42.1 L461.8 43 L462.8 44.1 L463.8 45.4 L464.8 46.8 L465.8 48.4 L466.8 50.1 L467.8 52 L468.8 53.9 L469.8 56 L470.8 58.1 L471.8 60.3 L472.8 62.6 L473.8 65 L474.8 67.4 L475.8 69.9 L476.8 72.4 L477.8 75.1 L478.8 77.8 L479.8 80.7 L480.8 83.7 L481.8 86.8 L482.8 90 L483.8 93.3 L484.8 96.8 L485.8 100.3 L486.8 104 L487.8 107.7 L488.8 111.5 L489.8 115.3 L490.8 119.2 L491.8 123.2 L492.8 127.2 L493.8 131.2 L494.8 135.3 L495.8 139.6 L496.8 144 L497.8 148.7 L498.8 153.5 L499.8 158.6 L500.8 163.9 L501.8 169.5 L502.8 175.1 L503.8 180.7 L504.8 186.3 L505.8 191.7 L506.8 196.9 L507.8 201.9 L508.8 206.7 L509.8 211.3 L510.8 215.7 L511.8 220.1 L512.8 224.3 L513.8 228.6 L514.8 232.8 L515.8 237 L516.8 241 L517.8 245 L518.8 248.8 L519.8 252.3 L520.8 255.5 L521.8 258.6 L522.8 261.5 L523.8 264.2 L524.8 266.9 L525.8 269.5 L526.8 272.1 L527.8 274.7 L528.8 277.3 L529.8 279.9 L530.8 282.6 L531.8 285.3 L532.8 287.9 L533.8 290.6 L534.8 293.3 L535.8 296 L536.8 298.6 L537.8 301.1 L538.8 303.5 L539.8 305.7 L540.8 307.7 L541.8 309.6 L542.8 311.4 L543.8 313 L544.8 314.6 L545.8 316.2 L546.8 317.7 L547.8 319.2 L548.8 320.6 L549.8 322 L550.8 323.3 L551.8 324.6 L552.8 325.7 L553.8 326.7 L554.8 327.6 L555.8 328.4 L556.8 329 L557.8 329.6 L558.8 330.2 L559.8 330.7 L560.8 331.1 L561.8 331.5 L562.8 331.9 L563.8 332.2 L564.8 332.6 L565.8 332.9 L566.8 333.2 L567.8 333.6 L568.8 333.9 L569.8 334.2 L570.8 334.5 L571.8 334.8 L572.8 335 L573.8 335.3 L574.8 335.5 L575.8 335.7 L576.8 336 L577.8 336.1 L578.8 336.3 L579.8 336.5 L580.8 336.7 L581.8 336.8 L582.8 336.9 L583.8 337.1 L584.8 337.2 L585.8 337.3 L586.8 337.4 L587.8 337.6 L588.8 337.7 L589 337.7" fill="none" stroke="#116cae" stroke-width="3.6"/>
<path d="M153.8 339.9 L154.8 339.7 L155.8 339.5 L156.8 339.3 L157.8 339.1 L158.8 338.9 L159.8 338.7 L160.8 338.5 L161.8 338.3 L162.8 338 L163.8 337.8 L164.8 337.6 L165.8 337.4 L166.8 337.2 L167.8 337 L168.8 336.8 L169.8 336.5 L170.8 336.3 L171.8 336.1 L172.8 335.9 L173.8 335.6 L174.8 335.4 L175.8 335.2 L176.8 334.9 L177.8 334.7 L178.8 334.5 L179.8 334.2 L180.8 334 L181.8 333.7 L182.8 333.5 L183.8 333.2 L184.8 332.9 L185.8 332.7 L186.8 332.4 L187.8 332.1 L188.8 331.8 L189.8 331.6 L190.8 331.3 L191.8 331 L192.8 330.7 L193.8 330.4 L194.8 330.1 L195.8 329.8 L196.8 329.5 L197.8 329.2 L198.8 328.8 L199.8 328.5 L200.8 328.2 L201.8 327.8 L202.8 327.5 L203.8 327.2 L204.8 326.8 L205.8 326.5 L206.8 326.1 L207.8 325.7 L208.8 325.3 L209.8 325 L210.8 324.6 L211.8 324.2 L212.8 323.8 L213.8 323.4 L214.8 323 L215.8 322.6 L216.8 322.2 L217.8 321.7 L218.8 321.3 L219.8 320.9 L220.8 320.5 L221.8 320 L222.8 319.6 L223.8 319.2 L224.8 318.8 L225.8 318.4 L226.8 317.9 L227.8 317.5 L228.8 317.1 L229.8 316.7 L230.8 316.3 L231.8 315.9 L232.8 315.5 L233.8 315.1 L234.8 314.7 L235.8 314.4 L236.8 314 L237.8 313.6 L238.8 313.3 L239.8 312.9 L240.8 312.5 L241.8 312.2 L242.8 311.8 L243.8 311.4 L244.8 311.1 L245.8 310.7 L246.8 310.4 L247.8 310 L248.8 309.6 L249.8 309.3 L250.8 308.9 L251.8 308.5 L252.8 308.2 L253.8 307.8 L254.8 307.4 L255.8 307 L256.8 306.5 L257.8 306.1 L258.8 305.6 L259.8 305.1 L260.8 304.6 L261.8 304 L262.8 303.4 L263.8 302.8 L264.8 302.2 L265.8 301.6 L266.8 300.9 L267.8 300.2 L268.8 299.5 L269.8 298.8 L270.8 298.1 L271.8 297.4 L272.8 296.6 L273.8 295.9 L274.8 295.1 L275.8 294.4 L276.8 293.7 L277.8 292.9 L278.8 292.2 L279.8 291.4 L280.8 290.7 L281.8 289.9 L282.8 289.2 L283.8 288.5 L284.8 287.7 L285.8 287 L286.8 286.3 L287.8 285.6 L288.8 284.8 L289.8 284.1 L290.8 283.4 L291.8 282.8 L292.8 282.1 L293.8 281.4 L294.8 280.7 L295.8 280.1 L296.8 279.4 L297.8 278.8 L298.8 278.1 L299.8 277.5 L300.8 276.8 L301.8 276.2 L302.8 275.6 L303.8 275 L304.8 274.3 L305.8 273.7 L306.8 273.1 L307.8 272.5 L308.8 271.8 L309.8 271.2 L310.8 270.6 L311.8 270 L312.8 269.4 L313.8 268.8 L314.8 268.1 L315.8 267.5 L316.8 266.9 L317.8 266.3 L318.8 265.7 L319.8 265.2 L320.8 264.6 L321.8 264 L322.8 263.4 L323.8 262.9 L324.8 262.3 L325.8 261.8 L326.8 261.3 L327.8 260.8 L328.8 260.3 L329.8 259.8 L330.8 259.3 L331.8 258.9 L332.8 258.4 L333.8 258 L334.8 257.6 L335.8 257.2 L336.8 256.8 L337.8 256.4 L338.8 256.1 L339.8 255.7 L340.8 255.4 L341.8 255.1 L342.8 254.7 L343.8 254.4 L344.8 254.2 L345.8 253.9 L346.8 253.6 L347.8 253.3 L348.8 253.1 L349.8 252.8 L350.8 252.6 L351.8 252.4 L352.8 252.2 L353.8 252 L354.8 251.7 L355.8 251.5 L356.8 251.3 L357.8 251.1 L358.8 250.9 L359.8 250.7 L360.8 250.5 L361.8 250.2 L362.8 250 L363.8 249.7 L364.8 249.5 L365.8 249.2 L366.8 248.9 L367.8 248.6 L368.8 248.3 L369.8 247.9 L370.8 247.5 L371.8 247.1 L372.8 246.7 L373.8 246.3 L374.8 245.8 L375.8 245.3 L376.8 244.8 L377.8 244.2 L378.8 243.6 L379.8 243 L380.8 242.3 L381.8 241.6 L382.8 240.9 L383.8 240.1 L384.8 239.4 L385.8 238.6 L386.8 237.8 L387.8 236.9 L388.8 236.1 L389.8 235.3 L390.8 234.5 L391.8 233.6 L392.8 232.8 L393.8 232 L394.8 231.2 L395.8 230.5 L396.8 229.7 L397.8 229 L398.8 228.2 L399.8 227.5 L400.8 226.7 L401.8 225.9 L402.8 225 L403.8 224.1 L404.8 223.1 L405.8 222 L406.8 220.9 L407.8 219.8 L408.8 218.8 L409.8 217.9 L410.8 217.1 L411.8 216.4 L412.8 215.8 L413.8 215.2 L414.8 214.5 L415.8 213.7 L416.8 212.8 L417.8 211.8 L418.8 210.8 L419.8 209.7 L420.8 208.6 L421.8 207.6 L422.8 206.7 L423.8 205.7 L424.8 204.8 L425.8 204 L426.8 203.2 L427.8 202.4 L428.8 201.7 L429.8 200.9 L430.8 200.2 L431.8 199.5 L432.8 198.9 L433.8 198.3 L434.8 197.7 L435.8 197.1 L436.8 196.5 L437.8 196 L438.8 195.5 L439.8 194.9 L440.8 194.4 L441.8 194 L442.8 193.5 L443.8 193.1 L444.8 192.7 L445.8 192.3 L446.8 192 L447.8 191.8 L448.8 191.5 L449.8 191.3 L450.8 191.2 L451.8 191.1 L452.8 191 L453.8 191 L454.8 191.1 L455.8 191.2 L456.8 191.4 L457.8 191.7 L458.8 192.1 L459.8 192.6 L460.8 193.1 L461.8 193.6 L462.8 194.2 L463.8 194.9 L464.8 195.6 L465.8 196.4 L466.8 197.2 L467.8 198 L468.8 198.9 L469.8 199.8 L470.8 200.7 L471.8 201.6 L472.8 202.6 L473.8 203.7 L474.8 204.9 L475.8 206.2 L476.8 207.6 L477.8 209.1 L478.8 210.8 L479.8 212.6 L480.8 214.5 L481.8 216.5 L482.8 218.5 L483.8 220.4 L484.8 222.4 L485.8 224.5 L486.8 226.5 L487.8 228.7 L488.8 230.8 L489.8 233.1 L490.8 235.3 L491.8 237.6 L492.8 239.9 L493.8 242.2 L494.8 244.6 L495.8 247 L496.8 249.4 L497.8 251.8 L498.8 254.2 L499.8 256.7 L500.8 259.1 L501.8 261.5 L502.8 263.8 L503.8 266.1 L504.8 268.4 L505.8 270.6 L506.8 272.7 L507.8 274.7 L508.8 276.7 L509.8 278.7 L510.8 280.6 L511.8 282.5 L512.8 284.3 L513.8 286.2 L514.8 288.1 L515.8 290 L516.8 292 L517.8 294 L518.8 296 L519.8 298 L520.8 300 L521.8 302.1 L522.8 304 L523.8 306 L524.8 307.8 L525.8 309.6 L526.8 311.4 L527.8 313 L528.8 314.6 L529.8 316.1 L530.8 317.6 L531.8 319 L532.8 320.3 L533.8 321.7 L534.8 323 L535.8 324.2 L536.8 325.4 L537.8 326.5 L538.8 327.6 L539.8 328.6 L540.8 329.5 L541.8 330.4 L542.8 331.3 L543.8 332 L544.8 332.7 L545.8 333.4 L546.8 333.9 L547.8 334.5 L548.8 334.9 L549.8 335.4 L550.8 335.8 L551.8 336.1 L552.8 336.4 L553.8 336.6 L554.8 336.9 L555.8 337 L556.8 337.2 L557.8 337.3 L558.8 337.4 L559.8 337.5 L560.8 337.6 L561.8 337.6 L562.8 337.7 L563.8 337.7 L564.8 337.8 L565.8 337.8 L566.8 337.8 L567.8 337.9 L568.8 337.9 L569.8 338 L570.8 338 L571.8 338.1 L572.8 338.1 L573.8 338.2 L574.8 338.3 L575.8 338.3 L576.8 338.4 L577.8 338.4 L578.8 338.5 L579.8 338.6 L580.8 338.7 L581.8 338.7 L582.8 338.8 L583.8 338.9 L584.8 339 L585.8 339 L586.8 339.1 L587.8 339.2 L588.8 339.3 L589 339.3" fill="none" stroke="#0a4774" stroke-width="3.8"/>
<path d="M153.8 343.3 L154.8 343.1 L155.8 343 L156.8 342.8 L157.8 342.7 L158.8 342.5 L159.8 342.3 L160.8 342.2 L161.8 342 L162.8 341.9 L163.8 341.7 L164.8 341.5 L165.8 341.4 L166.8 341.2 L167.8 341 L168.8 340.9 L169.8 340.7 L170.8 340.5 L171.8 340.3 L172.8 340.2 L173.8 340 L174.8 339.8 L175.8 339.6 L176.8 339.5 L177.8 339.3 L178.8 339.1 L179.8 338.9 L180.8 338.7 L181.8 338.5 L182.8 338.3 L183.8 338.1 L184.8 337.9 L185.8 337.7 L186.8 337.5 L187.8 337.3 L188.8 337.1 L189.8 336.9 L190.8 336.7 L191.8 336.4 L192.8 336.2 L193.8 336 L194.8 335.8 L195.8 335.5 L196.8 335.3 L197.8 335.1 L198.8 334.8 L199.8 334.6 L200.8 334.3 L201.8 334.1 L202.8 333.8 L203.8 333.5 L204.8 333.3 L205.8 333 L206.8 332.7 L207.8 332.5 L208.8 332.2 L209.8 331.9 L210.8 331.6 L211.8 331.3 L212.8 331 L213.8 330.7 L214.8 330.4 L215.8 330.1 L216.8 329.8 L217.8 329.4 L218.8 329.1 L219.8 328.8 L220.8 328.5 L221.8 328.2 L222.8 327.8 L223.8 327.5 L224.8 327.2 L225.8 326.8 L226.8 326.5 L227.8 326.1 L228.8 325.8 L229.8 325.5 L230.8 325.1 L231.8 324.8 L232.8 324.5 L233.8 324.1 L234.8 323.8 L235.8 323.4 L236.8 323.1 L237.8 322.8 L238.8 322.4 L239.8 322.1 L240.8 321.8 L241.8 321.4 L242.8 321.1 L243.8 320.8 L244.8 320.4 L245.8 320.1 L246.8 319.8 L247.8 319.5 L248.8 319.2 L249.8 318.9 L250.8 318.6 L251.8 318.3 L252.8 317.9 L253.8 317.6 L254.8 317.3 L255.8 317 L256.8 316.7 L257.8 316.3 L258.8 316 L259.8 315.6 L260.8 315.2 L261.8 314.8 L262.8 314.3 L263.8 313.9 L264.8 313.4 L265.8 312.9 L266.8 312.4 L267.8 311.9 L268.8 311.3 L269.8 310.8 L270.8 310.2 L271.8 309.6 L272.8 309 L273.8 308.4 L274.8 307.8 L275.8 307.1 L276.8 306.5 L277.8 305.9 L278.8 305.2 L279.8 304.5 L280.8 303.9 L281.8 303.2 L282.8 302.5 L283.8 301.8 L284.8 301.1 L285.8 300.4 L286.8 299.7 L287.8 299 L288.8 298.3 L289.8 297.6 L290.8 296.9 L291.8 296.2 L292.8 295.5 L293.8 294.8 L294.8 294.1 L295.8 293.5 L296.8 292.8 L297.8 292.1 L298.8 291.4 L299.8 290.8 L300.8 290.1 L301.8 289.4 L302.8 288.8 L303.8 288.2 L304.8 287.5 L305.8 286.9 L306.8 286.3 L307.8 285.7 L308.8 285.2 L309.8 284.6 L310.8 284.1 L311.8 283.5 L312.8 283 L313.8 282.5 L314.8 282 L315.8 281.6 L316.8 281.1 L317.8 280.6 L318.8 280.2 L319.8 279.8 L320.8 279.4 L321.8 279 L322.8 278.6 L323.8 278.2 L324.8 277.8 L325.8 277.5 L326.8 277.1 L327.8 276.8 L328.8 276.5 L329.8 276.2 L330.8 275.9 L331.8 275.6 L332.8 275.3 L333.8 275 L334.8 274.7 L335.8 274.4 L336.8 274.2 L337.8 273.9 L338.8 273.7 L339.8 273.5 L340.8 273.2 L341.8 273 L342.8 272.8 L343.8 272.6 L344.8 272.4 L345.8 272.2 L346.8 272 L347.8 271.9 L348.8 271.7 L349.8 271.5 L350.8 271.4 L351.8 271.2 L352.8 271.1 L353.8 271 L354.8 270.8 L355.8 270.7 L356.8 270.5 L357.8 270.4 L358.8 270.2 L359.8 270.1 L360.8 269.9 L361.8 269.7 L362.8 269.6 L363.8 269.4 L364.8 269.1 L365.8 268.9 L366.8 268.6 L367.8 268.4 L368.8 268.1 L369.8 267.8 L370.8 267.4 L371.8 267.1 L372.8 266.7 L373.8 266.2 L374.8 265.8 L375.8 265.3 L376.8 264.8 L377.8 264.3 L378.8 263.7 L379.8 263.2 L380.8 262.7 L381.8 262.2 L382.8 261.8 L383.8 261.4 L384.8 261 L385.8 260.7 L386.8 260.3 L387.8 259.9 L388.8 259.5 L389.8 259.1 L390.8 258.6 L391.8 258 L392.8 257.4 L393.8 256.8 L394.8 256.1 L395.8 255.4 L396.8 254.7 L397.8 254 L398.8 253.2 L399.8 252.4 L400.8 251.6 L401.8 250.8 L402.8 250 L403.8 249.1 L404.8 248.3 L405.8 247.5 L406.8 246.7 L407.8 245.9 L408.8 245.1 L409.8 244.3 L410.8 243.5 L411.8 242.7 L412.8 241.9 L413.8 241.1 L414.8 240.2 L415.8 239.2 L416.8 238.2 L417.8 237.2 L418.8 236.2 L419.8 235.2 L420.8 234.3 L421.8 233.5 L422.8 232.8 L423.8 232.1 L424.8 231.6 L425.8 231 L426.8 230.5 L427.8 230 L428.8 229.5 L429.8 229 L430.8 228.5 L431.8 228.1 L432.8 227.6 L433.8 227.1 L434.8 226.7 L435.8 226.2 L436.8 225.8 L437.8 225.4 L438.8 225.1 L439.8 224.7 L440.8 224.3 L441.8 224 L442.8 223.7 L443.8 223.4 L444.8 223.2 L445.8 223 L446.8 222.8 L447.8 222.7 L448.8 222.6 L449.8 222.5 L450.8 222.4 L451.8 222.4 L452.8 222.4 L453.8 222.3 L454.8 222.4 L455.8 222.5 L456.8 222.7 L457.8 223 L458.8 223.3 L459.8 223.7 L460.8 224.2 L461.8 224.7 L462.8 225.3 L463.8 225.9 L464.8 226.6 L465.8 227.3 L466.8 228.1 L467.8 228.9 L468.8 229.8 L469.8 230.7 L470.8 231.7 L471.8 232.7 L472.8 233.8 L473.8 234.9 L474.8 236.1 L475.8 237.3 L476.8 238.5 L477.8 239.7 L478.8 241 L479.8 242.3 L480.8 243.6 L481.8 245 L482.8 246.4 L483.8 247.8 L484.8 249.3 L485.8 250.9 L486.8 252.6 L487.8 254.4 L488.8 256.3 L489.8 258.2 L490.8 260.1 L491.8 262 L492.8 264 L493.8 266 L494.8 267.9 L495.8 269.8 L496.8 271.7 L497.8 273.5 L498.8 275.3 L499.8 277 L500.8 278.8 L501.8 280.5 L502.8 282.3 L503.8 284.1 L504.8 285.9 L505.8 287.7 L506.8 289.6 L507.8 291.6 L508.8 293.6 L509.8 295.6 L510.8 297.6 L511.8 299.7 L512.8 301.7 L513.8 303.7 L514.8 305.6 L515.8 307.5 L516.8 309.3 L517.8 311 L518.8 312.6 L519.8 314.1 L520.8 315.5 L521.8 316.8 L522.8 318 L523.8 319.2 L524.8 320.2 L525.8 321.3 L526.8 322.2 L527.8 323.1 L528.8 324 L529.8 324.8 L530.8 325.6 L531.8 326.3 L532.8 327 L533.8 327.7 L534.8 328.4 L535.8 329 L536.8 329.7 L537.8 330.3 L538.8 330.9 L539.8 331.5 L540.8 332.1 L541.8 332.7 L542.8 333.3 L543.8 333.8 L544.8 334.3 L545.8 334.9 L546.8 335.3 L547.8 335.8 L548.8 336.3 L549.8 336.7 L550.8 337.1 L551.8 337.4 L552.8 337.8 L553.8 338.1 L554.8 338.4 L555.8 338.7 L556.8 339 L557.8 339.2 L558.8 339.4 L559.8 339.6 L560.8 339.8 L561.8 340 L562.8 340.1 L563.8 340.3 L564.8 340.4 L565.8 340.5 L566.8 340.7 L567.8 340.8 L568.8 340.9 L569.8 341 L570.8 341.1 L571.8 341.2 L572.8 341.3 L573.8 341.4 L574.8 341.5 L575.8 341.6 L576.8 341.7 L577.8 341.8 L578.8 341.9 L579.8 342 L580.8 342.1 L581.8 342.1 L582.8 342.2 L583.8 342.3 L584.8 342.4 L585.8 342.5 L586.8 342.6 L587.8 342.7 L588.8 342.8 L589 342.8" fill="none" stroke="#000" stroke-width="3.4"/>
<path d="M153.8 342.2 L154.8 342.1 L155.8 341.9 L156.8 341.8 L157.8 341.6 L158.8 341.5 L159.8 341.3 L160.8 341.2 L161.8 341 L162.8 340.9 L163.8 340.7 L164.8 340.6 L165.8 340.4 L166.8 340.2 L167.8 340.1 L168.8 339.9 L169.8 339.7 L170.8 339.6 L171.8 339.4 L172.8 339.2 L173.8 339 L174.8 338.8 L175.8 338.6 L176.8 338.4 L177.8 338.2 L178.8 338 L179.8 337.8 L180.8 337.6 L181.8 337.4 L182.8 337.2 L183.8 337 L184.8 336.8 L185.8 336.6 L186.8 336.3 L187.8 336.1 L188.8 335.9 L189.8 335.6 L190.8 335.4 L191.8 335.2 L192.8 334.9 L193.8 334.7 L194.8 334.5 L195.8 334.2 L196.8 334 L197.8 333.7 L198.8 333.5 L199.8 333.2 L200.8 333 L201.8 332.7 L202.8 332.4 L203.8 332.2 L204.8 331.9 L205.8 331.6 L206.8 331.4 L207.8 331.1 L208.8 330.8 L209.8 330.5 L210.8 330.2 L211.8 329.9 L212.8 329.6 L213.8 329.3 L214.8 329 L215.8 328.7 L216.8 328.3 L217.8 328 L218.8 327.7 L219.8 327.4 L220.8 327 L221.8 326.7 L222.8 326.4 L223.8 326 L224.8 325.7 L225.8 325.3 L226.8 325 L227.8 324.7 L228.8 324.3 L229.8 324 L230.8 323.6 L231.8 323.3 L232.8 323 L233.8 322.6 L234.8 322.3 L235.8 321.9 L236.8 321.6 L237.8 321.3 L238.8 320.9 L239.8 320.6 L240.8 320.3 L241.8 319.9 L242.8 319.6 L243.8 319.3 L244.8 318.9 L245.8 318.6 L246.8 318.3 L247.8 317.9 L248.8 317.6 L249.8 317.3 L250.8 316.9 L251.8 316.6 L252.8 316.3 L253.8 315.9 L254.8 315.6 L255.8 315.2 L256.8 314.8 L257.8 314.4 L258.8 314 L259.8 313.6 L260.8 313.1 L261.8 312.7 L262.8 312.2 L263.8 311.6 L264.8 311.1 L265.8 310.6 L266.8 310 L267.8 309.4 L268.8 308.8 L269.8 308.2 L270.8 307.6 L271.8 307 L272.8 306.4 L273.8 305.8 L274.8 305.1 L275.8 304.5 L276.8 303.9 L277.8 303.2 L278.8 302.6 L279.8 302 L280.8 301.3 L281.8 300.7 L282.8 300 L283.8 299.4 L284.8 298.7 L285.8 298 L286.8 297.4 L287.8 296.7 L288.8 296 L289.8 295.3 L290.8 294.6 L291.8 293.9 L292.8 293.2 L293.8 292.5 L294.8 291.8 L295.8 291.1 L296.8 290.4 L297.8 289.7 L298.8 289 L299.8 288.3 L300.8 287.6 L301.8 286.9 L302.8 286.2 L303.8 285.5 L304.8 284.9 L305.8 284.2 L306.8 283.6 L307.8 282.9 L308.8 282.3 L309.8 281.7 L310.8 281.1 L311.8 280.6 L312.8 280 L313.8 279.5 L314.8 278.9 L315.8 278.4 L316.8 277.9 L317.8 277.4 L318.8 277 L319.8 276.5 L320.8 276.1 L321.8 275.7 L322.8 275.2 L323.8 274.8 L324.8 274.4 L325.8 274.1 L326.8 273.7 L327.8 273.3 L328.8 273 L329.8 272.7 L330.8 272.3 L331.8 272 L332.8 271.7 L333.8 271.4 L334.8 271.1 L335.8 270.8 L336.8 270.6 L337.8 270.3 L338.8 270 L339.8 269.8 L340.8 269.5 L341.8 269.2 L342.8 269 L343.8 268.7 L344.8 268.4 L345.8 268.2 L346.8 267.9 L347.8 267.6 L348.8 267.3 L349.8 267.1 L350.8 266.8 L351.8 266.5 L352.8 266.2 L353.8 265.9 L354.8 265.5 L355.8 265.2 L356.8 264.9 L357.8 264.5 L358.8 264.2 L359.8 263.8 L360.8 263.4 L361.8 263 L362.8 262.6 L363.8 262.2 L364.8 261.7 L365.8 261.3 L366.8 260.8 L367.8 260.4 L368.8 259.9 L369.8 259.3 L370.8 258.8 L371.8 258.3 L372.8 257.7 L373.8 257.1 L374.8 256.5 L375.8 255.9 L376.8 255.3 L377.8 254.6 L378.8 253.9 L379.8 253.2 L380.8 252.4 L381.8 251.6 L382.8 250.8 L383.8 250 L384.8 249.1 L385.8 248.2 L386.8 247.3 L387.8 246.4 L388.8 245.5 L389.8 244.5 L390.8 243.6 L391.8 242.7 L392.8 241.8 L393.8 240.9 L394.8 240 L395.8 239.1 L396.8 238.2 L397.8 237.3 L398.8 236.4 L399.8 235.5 L400.8 234.6 L401.8 233.7 L402.8 232.8 L403.8 231.9 L404.8 231 L405.8 230.1 L406.8 229.2 L407.8 228.3 L408.8 227.4 L409.8 226.5 L410.8 225.6 L411.8 224.7 L412.8 223.8 L413.8 222.8 L414.8 221.9 L415.8 220.9 L416.8 219.9 L417.8 218.9 L418.8 217.9 L419.8 216.9 L420.8 215.9 L421.8 215 L422.8 214.1 L423.8 213.2 L424.8 212.4 L425.8 211.7 L426.8 211 L427.8 210.4 L428.8 209.8 L429.8 209.3 L430.8 208.8 L431.8 208.4 L432.8 207.9 L433.8 207.5 L434.8 207.1 L435.8 206.7 L436.8 206.4 L437.8 206 L438.8 205.7 L439.8 205.4 L440.8 205.2 L441.8 205 L442.8 204.9 L443.8 204.7 L444.8 204.7 L445.8 204.6 L446.8 204.5 L447.8 204.5 L448.8 204.5 L449.8 204.5 L450.8 204.5 L451.8 204.6 L452.8 204.6 L453.8 204.7 L454.8 205 L455.8 205.5 L456.8 206.1 L457.8 206.9 L458.8 207.7 L459.8 208.6 L460.8 209.5 L461.8 210.3 L462.8 211.1 L463.8 211.8 L464.8 212.6 L465.8 213.4 L466.8 214.3 L467.8 215.3 L468.8 216.3 L469.8 217.4 L470.8 218.5 L471.8 219.7 L472.8 220.9 L473.8 222.2 L474.8 223.5 L475.8 224.9 L476.8 226.4 L477.8 228.1 L478.8 229.9 L479.8 231.7 L480.8 233.7 L481.8 235.6 L482.8 237.5 L483.8 239.4 L484.8 241.3 L485.8 243.2 L486.8 245.1 L487.8 247 L488.8 248.9 L489.8 250.8 L490.8 252.7 L491.8 254.5 L492.8 256.4 L493.8 258.2 L494.8 260 L495.8 261.8 L496.8 263.6 L497.8 265.3 L498.8 267.1 L499.8 268.8 L500.8 270.5 L501.8 272.2 L502.8 273.8 L503.8 275.4 L504.8 277.1 L505.8 278.7 L506.8 280.4 L507.8 282.1 L508.8 283.9 L509.8 285.7 L510.8 287.6 L511.8 289.6 L512.8 291.6 L513.8 293.8 L514.8 296 L515.8 298.2 L516.8 300.3 L517.8 302.4 L518.8 304.4 L519.8 306.3 L520.8 308.1 L521.8 309.9 L522.8 311.5 L523.8 313.1 L524.8 314.7 L525.8 316.2 L526.8 317.7 L527.8 319.1 L528.8 320.5 L529.8 321.9 L530.8 323.2 L531.8 324.5 L532.8 325.7 L533.8 326.8 L534.8 327.9 L535.8 328.9 L536.8 329.9 L537.8 330.8 L538.8 331.6 L539.8 332.3 L540.8 333 L541.8 333.6 L542.8 334.2 L543.8 334.7 L544.8 335.2 L545.8 335.6 L546.8 336 L547.8 336.4 L548.8 336.7 L549.8 337 L550.8 337.3 L551.8 337.6 L552.8 337.8 L553.8 338 L554.8 338.2 L555.8 338.4 L556.8 338.6 L557.8 338.7 L558.8 338.8 L559.8 339 L560.8 339.1 L561.8 339.2 L562.8 339.3 L563.8 339.4 L564.8 339.5 L565.8 339.6 L566.8 339.7 L567.8 339.8 L568.8 339.9 L569.8 340 L570.8 340.1 L571.8 340.2 L572.8 340.3 L573.8 340.4 L574.8 340.5 L575.8 340.6 L576.8 340.7 L577.8 340.8 L578.8 340.9 L579.8 341.1 L580.8 341.2 L581.8 341.3 L582.8 341.4 L583.8 341.5 L584.8 341.6 L585.8 341.7 L586.8 341.8 L587.8 342 L588.8 342.1 L589 342.1" fill="none" stroke="#ff0000" stroke-width="4.4"/>
<line x1="107" y1="39.8" x2="631" y2="39.8" stroke="#116cae" stroke-dasharray="4.7 5.3" stroke-width="4.5"/>
<line x1="107" y1="195" x2="631" y2="195" stroke="#0b4a78" stroke-dasharray="4.7 5.3" stroke-width="4.5"/>
<line x1="195.3" y1="206.3" x2="541" y2="206.3" stroke="#ff0000" stroke-dasharray="4.7 5.3" stroke-width="4.5"/>
<line x1="107" y1="224.2" x2="631" y2="224.2" stroke="#000" stroke-dasharray="4.7 5.3" stroke-width="4.5"/>
<rect x="133.4" y="42" width="4.6" height="140" fill="#0b4a78"/>
<polygon points="128.4,179.8 143.2,179.8 135.8,194.8" fill="#0b4a78"/>
<rect x="133.4" y="197.5" width="4.6" height="15" fill="#000"/>
<polygon points="128.4,211.6 143.2,211.6 135.8,226.6" fill="#000"/>
<rect x="544.2" y="216" width="5.6" height="10" fill="#ff0000"/>
<polygon points="539.8,218.2 554.8,218.2 547,203.7" fill="#ff0000"/>
<path d="M106.3 0.7 H632.5 V345.4 H106.3 Z" fill="none" stroke="#000" stroke-width="1.6"/>
<path d="M106.3 345.4 h7 M106.3 320.8 h4 M106.3 296.1 h4 M106.3 271.5 h4 M106.3 246.8 h7 M106.3 222.2 h4 M106.3 197.5 h4 M106.3 172.9 h4 M106.3 148.3 h7 M106.3 123.6 h4 M106.3 99 h4 M106.3 74.3 h4 M106.3 49.7 h7 M106.3 25 h4 M106.3 0.4 h4 M109.3 345.4 v-4 M127.9 345.4 v-4 M146.6 345.4 v-4 M165.3 345.4 v-4 M184 345.4 v-7 M202.7 345.4 v-4 M221.4 345.4 v-4 M240.1 345.4 v-4 M258.7 345.4 v-4 M277.4 345.4 v-4 M296.1 345.4 v-7 M314.8 345.4 v-4 M333.5 345.4 v-4 M352.1 345.4 v-4 M370.8 345.4 v-4 M389.5 345.4 v-4 M408.2 345.4 v-7 M426.9 345.4 v-4 M445.6 345.4 v-4 M464.2 345.4 v-4 M482.9 345.4 v-4 M501.6 345.4 v-4 M520.3 345.4 v-7 M539 345.4 v-4 M557.7 345.4 v-4 M576.4 345.4 v-4 M595 345.4 v-4 M613.7 345.4 v-4" stroke="#000" stroke-width="1.5" fill="none"/>
<text x="84.4" y="353.6" font-family='"Liberation Sans", sans-serif' font-size="23.80" font-weight="normal" fill="#000" text-anchor="start" >0</text>
<text x="58" y="255" font-family='"Liberation Sans", sans-serif' font-size="23.80" font-weight="normal" fill="#000" text-anchor="start" >100</text>
<text x="58" y="156.5" font-family='"Liberation Sans", sans-serif' font-size="23.80" font-weight="normal" fill="#000" text-anchor="start" >200</text>
<text x="58" y="57.9" font-family='"Liberation Sans", sans-serif' font-size="23.80" font-weight="normal" fill="#000" text-anchor="start" >300</text>
<text x="157.7" y="373.8" font-family='"Liberation Sans", sans-serif' font-size="23.20" font-weight="normal" fill="#000" text-anchor="start" >1080</text>
<text x="269.8" y="373.8" font-family='"Liberation Sans", sans-serif' font-size="23.20" font-weight="normal" fill="#000" text-anchor="start" >1090</text>
<text x="382.8" y="373.8" font-family='"Liberation Sans", sans-serif' font-size="23.20" font-weight="normal" fill="#000" text-anchor="start" >1100</text>
<text x="495.8" y="373.8" font-family='"Liberation Sans", sans-serif' font-size="23.20" font-weight="normal" fill="#000" text-anchor="start" >1110</text>
<text x="607" y="373.8" font-family='"Liberation Sans", sans-serif' font-size="23.20" font-weight="normal" fill="#000" text-anchor="start" >1120</text>
<text x="306.6" y="403.6" font-family='"Liberation Sans", sans-serif' font-size="29.80" font-weight="normal" fill="#000" text-anchor="start" >Energy (eV)</text>
<text x="0" y="0" font-family='"Liberation Sans", sans-serif' font-size="30.00" font-weight="normal" fill="#000" text-anchor="middle" transform="translate(35.6,185) rotate(-90)">Intensity (arb. units)</text>
<text x="12.4" y="36.1" font-family='"Liberation Sans", sans-serif' font-size="35.50" font-weight="bold" fill="#000" text-anchor="start" >A</text>
<text x="352.1" y="26.6" font-family='"Liberation Sans", sans-serif' font-size="25.52" font-weight="bold" fill="#1470b4" text-anchor="start" >Jet-Out Spectrum</text>
<text x="170.4" y="95.6" font-family='"Liberation Sans", sans-serif' font-size="25.00" font-weight="bold" fill="#0d4f7e" text-anchor="start" >Linear</text>
<text x="170.5" y="125.7" font-family='"Liberation Sans", sans-serif' font-size="25.00" font-weight="bold" fill="#0d4f7e" text-anchor="start" >Absorption</text>
<text x="148.3" y="218.4" font-family='"Liberation Sans", sans-serif' font-size="25.82" font-weight="bold" fill="#000" text-anchor="start" >TA</text>
<text x="562.2" y="218.2" font-family='"Liberation Sans", sans-serif' font-size="25.78" font-weight="bold" fill="#ff0000" text-anchor="start" >SHG</text>
<polygon points="77,586 100,588 120,584 130,575 138,562 143,580 150,598 165,600 180,605 200,622 215,628 230,618 240,605 255,585 265,565 275,545 279.6,532.8 285,570 295,592 310,612 320,602 340,596 360,590 386,592 386,602 360,615 345,628 330,640 318,652 310,664 278,664 270,640 255,630 240,640 225,656 215,664 205,664 195,655 180,640 170,646 160,640 150,628 140,614 120,606 100,606 77,597" fill="#7a0000" fill-opacity="0.13"/>
<polygon points="77,584 100,584 130,581 150,578 170,572 190,563 210,560 230,560 240,552 250,548 260,535 270,548 276,538 290,555 300,545 315,552 330,560 345,565 360,575 386,588 386,594 340,592 300,585 250,585 200,582 150,590 77,591" fill="#0033cc" fill-opacity="0.11"/>
<polygon points="77,587 150,582 200,572 240,572 260,560 280,565 300,568 320,575 350,580 386,588 386,594 340,596 300,594 260,595 200,588 150,592 77,594" fill="#55aa10" fill-opacity="0.12"/>
<polygon points="77,585 130,568 150,572 200,582 240,575 270,590 300,585 330,570 360,576 386,590 386,595 360,592 330,590 300,602 270,618 240,596 210,602 170,596 130,590 77,594" fill="#4b0a8c" fill-opacity="0.1"/>
<polygon points="77,586 150,584 200,592 250,586 300,585 350,588 386,589 386,596 350,600 300,603 250,604 200,610 150,598 77,597" fill="#f0b000" fill-opacity="0.12"/>
<polygon points="77,585 150,590 200,610 250,600 280,578 300,590 350,590 386,590 386,596 350,606 300,612 250,620 200,628 150,606 77,596" fill="#ff3010" fill-opacity="0.1"/>
<polyline points="77.3,589.1 89,587.9 103,584.4 114.7,582 121.7,584.4 128.7,582 135.7,576.2 140.4,573.9 145.1,573.9 149.8,580.9 154.4,585.5 161.4,585.5 166.1,583.2 170.8,587.9 175.4,589.1 182.5,593.7 189.5,591.4 196.5,586.7 202.3,593.7 207,597.2 212.8,585.5 219.8,584.4 225,581 232.4,579.7 239.9,581 244.9,584.7 249.8,590.9 254.8,592.1 261,592.1 266,599.6 269.7,609.5 274.6,604.5 279.6,597.1 284.6,602 289.5,599.6 294.5,595.8 299.5,593.4 304.4,588.4 309.4,582.2 315.6,581 321.8,582.2 328,579.7 334.2,578.5 339.2,578.5 346.6,581 354.1,583.4 361.5,585.9 369,588.4 376.4,590.9 386.3,592.1" fill="none" stroke="#4b0a8c" stroke-width="4.1" stroke-linejoin="round"/>
<polyline points="77.3,592.6 89,592.6 98.4,592.6 110,591.4 121.7,590.2 133.4,590.2 145.1,590.2 154.4,591.4 161.4,594.9 168.4,596.1 177.8,597.2 184.8,599.6 191.8,598.4 198.8,599.6 205.8,601.9 210.5,603.1 217.5,600.7 225,599.6 234.9,595.8 244.9,594.6 254.8,593.4 264.7,593.4 272.2,590.9 278.4,588.4 284.6,593.4 292,594.6 299.5,593.4 306.9,594.6 314.4,598.3 319.3,598.3 324.3,595.8 331.7,597.1 339.2,595.8 346.6,594.6 354.1,593.4 364,592.1 373.9,592.1 386.3,592.1" fill="none" stroke="#f0b000" stroke-width="4.1" stroke-linejoin="round"/>
<polyline points="77.3,590.9 89,590.2 100.7,589.1 112.4,587.9 121.7,589.1 133.4,589.1 145.1,587.9 154.4,586.7 163.8,585.5 170.8,583.2 177.8,580.9 184.8,582 191.8,579.7 198.8,578.5 205.8,580.9 212.8,582 219.8,583.2 225,583.4 234.9,582.2 247.3,582.2 254.8,588.4 264.7,584.7 272.2,585.9 279.6,588.4 289.5,587.2 299.5,585.9 306.9,585.9 311.9,582.2 319.3,588.4 326.8,590.9 334.2,590.9 341.7,589.6 349.1,590.9 356.5,590.9 366.5,590.9 376.4,590.9 386.3,590.9" fill="none" stroke="#5aaf00" stroke-width="4.1" stroke-linejoin="round"/>
<polyline points="77.3,586.7 86.7,585.5 98.4,587.9 110,586.7 121.7,586.7 133.4,585.5 145.1,585.5 154.4,583.2 163.8,579.7 170.8,577.4 177.8,575 184.8,571.5 191.8,568 198.8,571.5 205.8,569.2 212.8,566.9 217.5,569.2 222.2,572.7 228,577.5 232.4,578.5 238.7,577.2 244.9,579.7 249.8,579.2 254.8,573.5 259.7,564.8 264.7,571 270.9,576 277.1,574.7 283.3,572.3 287.1,577.2 292,573.5 298.2,576 303.2,579.7 306.9,574.7 314.4,576 319.3,577.2 324.3,578.5 329.2,581 334.2,584.7 341.7,587.2 349.1,588.4 356.5,589.6 366.5,590.9 376.4,592.1 386.3,590.9" fill="none" stroke="#0033cc" stroke-width="4.1" stroke-linejoin="round"/>
<polyline points="77.3,590.2 84.3,589.1 93.7,590.2 100.7,587.9 110,585.5 117,586.7 124.1,589.1 132.2,589.1 138.1,590.2 145.1,593.7 152.1,598.4 159.1,601.9 166.1,606.6 173.1,610.1 177.8,614.7 184.8,615.9 191.8,615.9 198.8,619.4 205.8,618.3 212.8,618.3 219.8,614.7 225,612 230,607 236.2,600.8 242.4,605.8 248.6,610.7 254.8,610.7 262.2,605.8 269.7,605.8 277.1,589.6 280.8,585.9 287.1,595.8 294.5,593.4 300.7,597.1 306.9,612 313.1,607 319.3,605.8 325.5,609.5 331.7,604.5 339.2,600.8 346.6,599.6 354.1,595.8 361.5,594.6 368.9,593.4 376.4,593.4 386.3,592.6" fill="none" stroke="#ff3010" stroke-width="4.1" stroke-linejoin="round"/>
<polyline points="77.3,590.2 83.2,592.6 89,604.2 94.9,599.6 103,601.2 110,590.2 117,587.9 125.2,590.2 131.1,594.9 135.7,584.4 140.4,586.7 145.1,601.9 149.8,608.9 155.6,612.4 162.6,608.9 167.3,613.6 170.8,627.6 175.4,613.6 181.3,626.4 187.1,614.7 194.1,628.8 201.1,648.6 207,636.9 212.8,642.8 219.8,642.8 225,636.8 228.7,644.2 233.7,629.4 239.9,624.4 247.3,607 253.5,595.8 258.5,610.7 264.7,607 270.9,619.4 275.9,612 280.1,585.9 284.6,614.5 290.8,648 297,628.1 301.9,639.3 306.9,654.2 311.9,644.2 316.8,635.6 321.8,621.9 328,616.9 333,609.5 339.2,615.7 346.6,613.2 354.1,605.8 360.3,600.8 367.7,594.6 373.9,595.8 381.4,599.6 386.3,597.1" fill="none" stroke="#7a0000" stroke-width="4.1" stroke-linejoin="round"/>
<path d="M77.3 592.6 L77.8 592.6 L78.3 592.6 L78.8 592.6 L79.3 592.6 L79.8 592.6 L80.3 592.7 L80.8 592.7 L81.3 592.7 L81.8 592.7 L82.3 592.7 L82.8 592.7 L83.3 592.7 L83.8 592.7 L84.3 592.7 L84.8 592.7 L85.3 592.7 L85.8 592.7 L86.3 592.7 L86.8 592.7 L87.3 592.7 L87.8 592.7 L88.3 592.7 L88.8 592.6 L89.3 592.6 L89.8 592.6 M114.8 590.2 L115.3 590.1 L115.8 590.1 L116.3 590.1 L116.8 590 L117.3 590 L117.8 589.9 L118.3 589.9 L118.8 589.8 L119.3 589.8 L119.8 589.8 L120.3 589.7 L120.8 589.7 L121.3 589.7 L121.8 589.6 L122.3 589.6 L122.8 589.5 L123.3 589.5 L123.8 589.5 L124.3 589.4 L124.8 589.4 L125.3 589.3 L125.8 589.3 L126.3 589.2 L126.8 589.2 L127.3 589.1 L127.8 589.1 L128.3 589 M152.3 585.5 L152.8 585.3 L153.3 585.1 L153.8 585 L154.3 584.8 L154.8 584.6 L155.3 584.4 L155.8 584.2 L156.3 584 L156.8 583.7 L157.3 583.5 L157.8 583.3 L158.3 583 L158.8 582.7 L159.3 582.5 L159.8 582.2 L160.3 581.9 L160.8 581.6 L161.3 581.3 L161.8 580.9 L162.3 580.6 L162.8 580.3 L163.3 579.9 L163.8 579.5 L164.3 579.2 L164.8 578.8 M182.3 561.1 L182.8 560.6 L183.3 560 L183.8 559.5 L184.3 559 L184.8 558.4 L185.3 557.9 L185.8 557.4 L186.3 556.8 L186.8 556.3 L187.3 555.8 L187.8 555.2 L188.3 554.7 L188.8 554.1 L189.3 553.6 L189.8 553 L190.3 552.4 L190.8 551.9 L191.3 551.3 L191.8 550.7 L192.3 550.1 L192.8 549.5 L193.3 548.9 L193.8 548.3 M208.3 528.2 L208.8 527.6 L209.3 527 L209.8 526.4 L210.3 525.8 L210.8 525.2 L211.3 524.6 L211.8 524 L212.3 523.4 L212.8 522.8 L213.3 522.3 L213.8 521.7 L214.3 521.1 L214.8 520.6 L215.3 520 L215.8 519.4 L216.3 518.8 L216.8 518.3 L217.3 517.7 L217.8 517.1 L218.3 516.5 L218.8 515.9 L219.3 515.3 M233.3 496.5 L233.8 495.8 L234.3 495.1 L234.8 494.4 L235.3 493.8 L235.8 493.1 L236.3 492.5 L236.8 491.8 L237.3 491.2 L237.8 490.5 L238.3 489.9 L238.8 489.3 L239.3 488.6 L239.8 488 L240.3 487.4 L240.8 486.8 L241.3 486.2 L241.8 485.6 L242.3 485 L242.8 484.4 L243.3 483.8 L243.8 483.3 L244.3 482.7 M266.3 467.2 L266.8 467.1 L267.3 467.1 L267.8 467 L268.3 467 L268.8 467 L269.3 467 L269.8 467.1 L270.3 467.2 L270.8 467.3 L271.3 467.5 L271.8 467.7 L272.3 468 L272.8 468.4 L273.3 468.8 L273.8 469.3 L274.3 469.8 L274.8 470.5 L275.3 471.2 L275.8 471.9 L276.3 472.7 L276.8 473.5 L277.3 474.4 L277.8 475.3 L278.3 476.2 M288.8 498.2 L289.3 499.4 L289.8 500.6 L290.3 501.8 L290.8 503 L291.3 504.2 L291.8 505.5 L292.3 506.7 L292.8 508 L293.3 509.3 L293.8 510.7 L294.3 512.1 L294.8 513.6 L295.3 515.1 M302.8 540.2 L303.3 541.6 L303.8 543 L304.3 544.3 L304.8 545.6 L305.3 546.8 L305.8 548 L306.3 549.2 L306.8 550.3 L307.3 551.4 L307.8 552.5 L308.3 553.6 L308.8 554.7 L309.3 555.8 M319.3 577.2 L319.8 578 L320.3 578.9 L320.8 579.7 L321.3 580.5 L321.8 581.2 L322.3 581.9 L322.8 582.6 L323.3 583.2 L323.8 583.9 L324.3 584.4 L324.8 585 L325.3 585.5 L325.8 586.1 L326.3 586.5 L326.8 587 L327.3 587.4 L327.8 587.8 L328.3 588.2 L328.8 588.6 L329.3 588.9 L329.8 589.2 L330.3 589.5 M354.3 592.3 L354.8 592.3 L355.3 592.3 L355.8 592.3 L356.3 592.3 L356.8 592.3 L357.3 592.4 L357.8 592.4 L358.3 592.4 L358.8 592.4 L359.3 592.4 L359.8 592.4 L360.3 592.4 L360.8 592.5 L361.3 592.5 L361.8 592.5 L362.3 592.5 L362.8 592.5 L363.3 592.5 L363.8 592.6 L364.3 592.6 L364.8 592.6 L365.3 592.6 L365.8 592.6 L366.3 592.6 L366.8 592.7 L367.3 592.7 L367.8 592.7 L368.3 592.7 L368.8 592.7 L369.3 592.7 L369.8 592.8 L370.3 592.8 L370.8 592.8 L371.3 592.8" fill="none" stroke="#ff0000" stroke-width="4.3"/>
<path d="M77.3 585.5 L77.8 585.4 L78.3 585.4 L78.8 585.3 L79.3 585.2 L79.8 585.2 L80.3 585.1 L80.8 585 L81.3 584.9 L81.8 584.9 L82.3 584.8 L82.8 584.7 L83.3 584.6 L83.8 584.6 L84.3 584.5 L84.8 584.4 L85.3 584.3 L85.8 584.2 L86.3 584.1 L86.8 584 L87.3 583.9 L87.8 583.8 L88.3 583.7 L88.8 583.6 L89.3 583.4 L89.8 583.3 M111.3 575 L111.8 574.7 L112.3 574.5 L112.8 574.3 L113.3 574.1 L113.8 573.9 L114.3 573.7 L114.8 573.5 L115.3 573.3 L115.8 573 L116.3 572.8 L116.8 572.6 L117.3 572.4 L117.8 572.1 L118.3 571.9 L118.8 571.7 L119.3 571.4 L119.8 571.2 L120.3 570.9 L120.8 570.6 L121.3 570.4 L121.8 570.1 L122.3 569.8 L122.8 569.5 L123.3 569.2 L123.8 568.9 L124.3 568.6 L124.8 568.3 M143.8 552.8 L144.3 552.4 L144.8 552.1 L145.3 551.7 L145.8 551.4 L146.3 551.1 L146.8 550.8 L147.3 550.5 L147.8 550.2 L148.3 549.9 L148.8 549.6 L149.3 549.3 L149.8 549 L150.3 548.7 L150.8 548.4 L151.3 548.2 L151.8 547.9 L152.3 547.6 L152.8 547.3 L153.3 547 L153.8 546.7 L154.3 546.4 L154.8 546.1 L155.3 545.8 L155.8 545.5 L156.3 545.2 L156.8 544.9 L157.3 544.5 L157.8 544.2 L158.3 543.8 M176.8 528.2 L177.3 527.8 L177.8 527.5 L178.3 527.1 L178.8 526.7 L179.3 526.4 L179.8 526.1 L180.3 525.7 L180.8 525.4 L181.3 525.1 L181.8 524.8 L182.3 524.5 L182.8 524.2 L183.3 523.9 L183.8 523.7 L184.3 523.4 L184.8 523.1 L185.3 522.9 L185.8 522.6 L186.3 522.4 L186.8 522.1 L187.3 521.9 L187.8 521.7 L188.3 521.5 L188.8 521.2 L189.3 521 L189.8 520.8 L190.3 520.6 L190.8 520.4 L191.3 520.3 L191.8 520.1 L192.3 519.9 M215.3 514.7 L215.8 514.6 L216.3 514.4 L216.8 514.3 L217.3 514.2 L217.8 514.1 L218.3 513.9 L218.8 513.8 L219.3 513.6 L219.8 513.5 L220.3 513.3 L220.8 513.1 L221.3 513 L221.8 512.8 L222.3 512.6 L222.8 512.4 L223.3 512.2 L223.8 511.9 L224.3 511.7 L224.8 511.5 L225.3 511.2 L225.8 510.9 L226.3 510.6 L226.8 510.3 L227.3 510 L227.8 509.7 L228.3 509.4 L228.8 509 M245.8 492.3 L246.3 491.8 L246.8 491.4 L247.3 490.9 L247.8 490.5 L248.3 490.1 L248.8 489.6 L249.3 489.2 L249.8 488.8 L250.3 488.4 L250.8 488 L251.3 487.6 L251.8 487.2 L252.3 486.8 L252.8 486.4 L253.3 486.1 L253.8 485.7 L254.3 485.3 L254.8 484.9 L255.3 484.6 L255.8 484.2 L256.3 483.8 L256.8 483.5 L257.3 483.1 L257.8 482.7 L258.3 482.4 L258.8 482 L259.3 481.6 M282.8 466.8 L283.3 466.7 L283.8 466.5 L284.3 466.5 L284.8 466.4 L285.3 466.4 L285.8 466.5 L286.3 466.6 L286.8 466.7 L287.3 466.9 L287.8 467.1 L288.3 467.4 L288.8 467.8 L289.3 468.2 L289.8 468.6 L290.3 469.1 L290.8 469.7 L291.3 470.2 L291.8 470.9 L292.3 471.5 L292.8 472.2 L293.3 473 L293.8 473.7 M306.8 496.8 L307.3 497.6 L307.8 498.5 L308.3 499.3 L308.8 500.1 L309.3 500.9 L309.8 501.8 L310.3 502.6 L310.8 503.4 L311.3 504.3 L311.8 505.2 L312.3 506.1 L312.8 507.1 L313.3 508.1 L313.8 509.2 L314.3 510.3 L314.8 511.4 M323.8 536.3 L324.3 537.5 L324.8 538.5 L325.3 539.5 L325.8 540.5 L326.3 541.4 L326.8 542.3 L327.3 543.2 L327.8 544.1 L328.3 544.9 L328.8 545.7 L329.3 546.6 L329.8 547.4 L330.3 548.2 L330.8 549.1 L331.3 550 M341.8 571.2 L342.3 572 L342.8 572.8 L343.3 573.6 L343.8 574.3 L344.3 575 L344.8 575.7 L345.3 576.3 L345.8 576.9 L346.3 577.5 L346.8 578.1 L347.3 578.6 L347.8 579.1 L348.3 579.5 L348.8 580 L349.3 580.4 L349.8 580.8 L350.3 581.2 L350.8 581.6 L351.3 581.9 L351.8 582.2 L352.3 582.5 L352.8 582.8 L353.3 583.1 L353.8 583.4 L354.3 583.7 L354.8 583.9 L355.3 584.1 L355.8 584.4 L356.3 584.6 M381.8 589.7 L382.3 589.8 L382.8 589.9 L383.3 590 L383.8 590.2 L384.3 590.3 L384.8 590.5 L385.3 590.6 L385.8 590.7 L386.3 590.9" fill="none" stroke="#0000ff" stroke-width="4.3"/>
<line x1="226.2" y1="465.1" x2="246" y2="468.6" stroke="#ff0000" stroke-width="2.2"/>
<polygon points="246.5,462.3 243.9,475.2 257.9,471" fill="#ff0000"/>
<line x1="132.3" y1="528" x2="143.5" y2="540.5" stroke="#0000ff" stroke-width="2.6"/>
<polygon points="137.3,543.9 147.4,535.6 150.4,548" fill="#0000ff"/>
<path d="M77.2 420.8 H419.8 V664.8 H77.2 Z" fill="none" stroke="#000" stroke-width="1.5"/>
<path d="M77.2 655.4 h5.5 M77.2 639.8 h3.5 M77.2 624.2 h3.5 M77.2 608.5 h3.5 M77.2 592.9 h5.5 M77.2 577.3 h3.5 M77.2 561.6 h3.5 M77.2 546 h3.5 M77.2 530.4 h5.5 M77.2 514.7 h3.5 M77.2 499.1 h3.5 M77.2 483.5 h3.5 M77.2 467.8 h5.5 M77.2 452.2 h3.5 M77.2 436.5 h3.5 M77.2 420.9 h3.5 M94.3 664.8 v-3.5 M111.5 664.8 v-3.5 M128.6 664.8 v-3.5 M145.7 664.8 v-3.5 M162.8 664.8 v-5.5 M180 664.8 v-3.5 M197.1 664.8 v-3.5 M214.2 664.8 v-3.5 M231.4 664.8 v-3.5 M248.5 664.8 v-5.5 M265.6 664.8 v-3.5 M282.8 664.8 v-3.5 M299.9 664.8 v-3.5 M317 664.8 v-3.5 M334.1 664.8 v-5.5 M351.3 664.8 v-3.5 M368.4 664.8 v-3.5 M385.5 664.8 v-3.5 M402.7 664.8 v-3.5" stroke="#000" stroke-width="1.5" fill="none"/>
<text x="41.1" y="476.3" font-family='"Liberation Sans", sans-serif' font-size="25.50" font-weight="normal" fill="#000" text-anchor="start" transform="matrix(1 0 0 1.1 0 -47.63)">40</text>
<text x="41.1" y="538.9" font-family='"Liberation Sans", sans-serif' font-size="25.50" font-weight="normal" fill="#000" text-anchor="start" transform="matrix(1 0 0 1.1 0 -53.89)">20</text>
<text x="55.2" y="601.4" font-family='"Liberation Sans", sans-serif' font-size="25.50" font-weight="normal" fill="#000" text-anchor="start" transform="matrix(1 0 0 1.1 0 -60.14)">0</text>
<text x="32.5" y="663.9" font-family='"Liberation Sans", sans-serif' font-size="25.50" font-weight="normal" fill="#000" text-anchor="start" transform="matrix(1 0 0 1.1 0 -66.39)">-20</text>
<text x="0" y="0" font-family='"Liberation Sans", sans-serif' font-size="23.60" font-weight="normal" fill="#000" text-anchor="middle" transform="translate(18.9,559) rotate(-90)">Diff. Sig. (arb. units)</text>
<text x="2.5" y="445.7" font-family='"Liberation Sans", sans-serif' font-size="35.00" font-weight="bold" fill="#000" text-anchor="start" >B</text>
<text x="89.4" y="448.9" font-family='"Liberation Sans", sans-serif' font-size="21.30" font-weight="bold" fill="#ff0000" text-anchor="start" >Squared</text>
<text x="88.6" y="474.7" font-family='"Liberation Sans", sans-serif' font-size="21.30" font-weight="bold" fill="#ff0000" text-anchor="start" >Fundamental</text>
<text x="89.8" y="499.6" font-family='"Liberation Sans", sans-serif' font-size="21.30" font-weight="bold" fill="#0000ff" text-anchor="start" >XFEL</text>
<text x="88.6" y="525.1" font-family='"Liberation Sans", sans-serif' font-size="21.30" font-weight="bold" fill="#0000ff" text-anchor="start" >Harmonic</text>
<text x="248.3" y="443.1" font-family='"Liberation Sans", sans-serif' font-size="21.29" font-weight="normal" fill="#000" text-anchor="start" >Pulse Energy (<tspan font-family='"Liberation Serif", serif'>μ</tspan>J)</text>
<line x1="361.3" y1="458.4" x2="381.5" y2="458.4" stroke="#4b0a8c" stroke-width="3.9"/>
<text x="386.1" y="465.3" font-family='"Liberation Sans", sans-serif' font-size="18.25" font-weight="normal" fill="#000" text-anchor="start" >157</text>
<line x1="361.3" y1="482.2" x2="381.5" y2="482.2" stroke="#0033cc" stroke-width="3.9"/>
<text x="386.6" y="489.1" font-family='"Liberation Sans", sans-serif' font-size="17.96" font-weight="normal" fill="#000" text-anchor="start" >227</text>
<line x1="361.3" y1="506" x2="381.5" y2="506" stroke="#5aaf00" stroke-width="3.9"/>
<text x="386.8" y="512.9" font-family='"Liberation Sans", sans-serif' font-size="17.73" font-weight="normal" fill="#000" text-anchor="start" >318</text>
<line x1="361.3" y1="529.8" x2="381.5" y2="529.8" stroke="#f0b000" stroke-width="3.9"/>
<text x="386.8" y="536.7" font-family='"Liberation Sans", sans-serif' font-size="17.73" font-weight="normal" fill="#000" text-anchor="start" >398</text>
<line x1="361.3" y1="553.6" x2="381.5" y2="553.6" stroke="#ff3010" stroke-width="3.9"/>
<text x="387.2" y="560.5" font-family='"Liberation Sans", sans-serif' font-size="17.45" font-weight="normal" fill="#000" text-anchor="start" >490</text>
<line x1="361.3" y1="577.4" x2="381.5" y2="577.4" stroke="#7a0000" stroke-width="3.9"/>
<text x="386.8" y="584.3" font-family='"Liberation Sans", sans-serif' font-size="17.73" font-weight="normal" fill="#000" text-anchor="start" >585</text>
<text x="85.6" y="655.9" font-family='"Liberation Sans", sans-serif' font-size="22.78" font-weight="bold" fill="#000" text-anchor="start" >550 eV</text>
<path d="M76.6 703.3 L77.6 703.5 L78.6 703.7 L79.6 703.9 L80.6 704 L81.6 704.2 L82.6 704.4 L83.6 704.6 L84.6 704.8 L85.6 705 L86.6 705.2 L87.6 705.4 L88.6 705.6 L89.6 705.8 L90.6 706 L91.6 706.2 L92.6 706.4 L93.6 706.6 L94.6 706.9 L95.6 707.1 L96.6 707.3 L97.6 707.6 L98.6 707.8 L99.6 708 L100.6 708.3 L101.6 708.5 L102.6 708.8 L103.6 709.1 L104.6 709.3 L105.6 709.6 L106.6 709.9 L107.6 710.2 L108.6 710.5 L109.6 710.8 L110.6 711.1 L111.6 711.4 L112.6 711.8 L113.6 712.1 L114.6 712.4 L115.6 712.8 L116.6 713.2 L117.6 713.5 L118.6 713.9 L119.6 714.3 L120.6 714.7 L121.6 715.1 L122.6 715.5 L123.6 715.9 L124.6 716.3 L125.6 716.8 L126.6 717.2 L127.6 717.7 L128.6 718.2 L129.6 718.6 L130.6 719.1 L131.6 719.6 L132.6 720.1 L133.6 720.6 L134.6 721.1 L135.6 721.6 L136.6 722.1 L137.6 722.6 L138.6 723.2 L139.6 723.7 L140.6 724.2 L141.6 724.7 L142.6 725.3 L143.6 725.8 L144.6 726.3 L145.6 726.9 L146.6 727.4 L147.6 727.9 L148.6 728.5 L149.6 729 L150.6 729.5 L151.6 730.1 L152.6 730.6 L153.6 731.1 L154.6 731.6 L155.6 732.2 L156.6 732.7 L157.6 733.2 L158.6 733.7 L159.6 734.2 L160.6 734.7 L161.6 735.2 L162.6 735.7 L163.6 736.2 L164.6 736.7 L165.6 737.2 L166.6 737.6 L167.6 738.1 L168.6 738.6 L169.6 739 L170.6 739.5 L171.6 739.9 L172.6 740.3 L173.6 740.8 L174.6 741.2 L175.6 741.6 L176.6 742 L177.6 742.4 L178.6 742.7 L179.6 743.1 L180.6 743.4 L181.6 743.7 L182.6 744 L183.6 744.3 L184.6 744.5 L185.6 744.7 L186.6 744.9 L187.6 745.1 L188.6 745.2 L189.6 745.3 L190.6 745.4 L191.6 745.5 L192.6 745.5 L193.6 745.6 L194.6 745.6 L195.6 745.6 L196.6 745.5 L197.6 745.5 L198.6 745.4 L199.6 745.3 L200.6 745.2 L201.6 745.1 L202.6 745 L203.6 744.9 L204.6 744.7 L205.6 744.6 L206.6 744.4 L207.6 744.2 L208.6 744.1 L209.6 743.9 L210.6 743.8 L211.6 743.6 L212.6 743.5 L213.6 743.4 L214.6 743.2 L215.6 743.1 L216.6 743 L217.6 743 L218.6 742.9 L219.6 742.9 L220.6 742.8 L221.6 742.8 L222.6 742.8 L223.6 742.9 L224.6 742.9 L225.6 743 L226.6 743.1 L227.6 743.2 L228.6 743.4 L229.6 743.5 L230.6 743.7 L231.6 743.9 L232.6 744.2 L233.6 744.4 L234.6 744.7 L235.6 745 L236.6 745.3 L237.6 745.7 L238.6 746 L239.6 746.4 L240.6 746.7 L241.6 747.1 L242.6 747.5 L243.6 747.8 L244.6 748.2 L245.6 748.6 L246.6 749 L247.6 749.5 L248.6 749.9 L249.6 750.3 L250.6 750.8 L251.6 751.2 L252.6 751.7 L253.6 752.2 L254.6 752.7 L255.6 753.1 L256.6 753.6 L257.6 754.2 L258.6 754.7 L259.6 755.2 L260.6 755.7 L261.6 756.2 L262.6 756.7 L263.6 757.2 L264.6 757.8 L265.6 758.3 L266.6 758.8 L267.6 759.3 L268.6 759.8 L269.6 760.3 L270.6 760.7 L271.6 761.2 L272.6 761.7 L273.6 762.1 L274.6 762.5 L275.6 762.9 L276.6 763.3 L277.6 763.7 L278.6 764 L279.6 764.3 L280.6 764.6 L281.6 764.8 L282.6 765 L283.6 765.2 L284.6 765.3 L285.6 765.4 L286.6 765.4 L287.6 765.4 L288.6 765.4 L289.6 765.3 L290.6 765.1 L291.6 764.9 L292.6 764.6 L293.6 764.3 L294.6 763.9 L295.6 763.4 L296.6 762.9 L297.6 762.3 L298.6 761.7 L299.6 761 L300.6 760.2 L301.6 759.4 L302.6 758.5 L303.6 757.5 L304.6 756.5 L305.6 755.4 L306.6 754.3 L307.6 753.2 L308.6 752 L309.6 750.7 L310.6 749.5 L311.6 748.2 L312.6 746.8 L313.6 745.4 L314.6 744.1 L315.6 742.6 L316.6 741.2 L317.6 739.8 L318.6 738.4 L319.6 736.9 L320.6 735.5 L321.6 734.1 L322.6 732.6 L323.6 731.3 L324.6 729.9 L325.6 728.5 L326.6 727.2 L327.6 726 L328.6 724.7 L329.6 723.6 L330.6 722.4 L331.6 721.3 L332.6 720.2 L333.6 719.2 L334.6 718.2 L335.6 717.2 L336.6 716.3 L337.6 715.4 L338.6 714.6 L339.6 713.8 L340.6 713 L341.6 712.3 L342.6 711.6 L343.6 710.9 L344.6 710.2 L345.6 709.6 L346.6 709 L347.6 708.5 L348.6 708 L349.6 707.5 L350.6 707 L351.6 706.5 L352.6 706.1 L353.6 705.7 L354.6 705.3 L355.6 704.9 L356.6 704.5 L357.6 704.2 L358.6 703.9 L359.6 703.6 L360.6 703.3 L361.6 703 L362.6 702.8 L363.6 702.5 L364.6 702.3 L365.6 702.1 L366.6 701.9 L367.6 701.8 L368.6 701.6 L369.6 701.5 L370.6 701.4 L371.6 701.3 L372.6 701.2 L373.6 701.1 L374.6 701 L375.6 701 L376.6 700.9 L377.6 700.9 L378.6 700.9 L379.6 700.8 L380.6 700.8 L381.6 700.8 L382.6 700.8 L383.6 700.8 L384.6 700.8 L385.3 700.8" fill="none" stroke="#4b0a8c" stroke-width="3.4" stroke-linejoin="round"/>
<path d="M76.6 707.3 L77.6 707.6 L78.6 708 L79.6 708.3 L80.6 708.6 L81.6 709 L82.6 709.3 L83.6 709.6 L84.6 710 L85.6 710.3 L86.6 710.7 L87.6 711 L88.6 711.4 L89.6 711.8 L90.6 712.1 L91.6 712.5 L92.6 712.9 L93.6 713.3 L94.6 713.6 L95.6 714 L96.6 714.4 L97.6 714.9 L98.6 715.3 L99.6 715.7 L100.6 716.1 L101.6 716.6 L102.6 717 L103.6 717.5 L104.6 718 L105.6 718.4 L106.6 718.9 L107.6 719.4 L108.6 720 L109.6 720.5 L110.6 721 L111.6 721.6 L112.6 722.1 L113.6 722.7 L114.6 723.3 L115.6 723.9 L116.6 724.6 L117.6 725.2 L118.6 725.9 L119.6 726.5 L120.6 727.2 L121.6 727.9 L122.6 728.6 L123.6 729.4 L124.6 730.1 L125.6 730.9 L126.6 731.7 L127.6 732.5 L128.6 733.3 L129.6 734.1 L130.6 735 L131.6 735.8 L132.6 736.7 L133.6 737.6 L134.6 738.5 L135.6 739.4 L136.6 740.3 L137.6 741.3 L138.6 742.2 L139.6 743.1 L140.6 744.1 L141.6 745 L142.6 746 L143.6 747 L144.6 748 L145.6 748.9 L146.6 749.9 L147.6 750.9 L148.6 751.9 L149.6 752.9 L150.6 753.9 L151.6 754.9 L152.6 755.9 L153.6 756.9 L154.6 757.9 L155.6 758.9 L156.6 759.9 L157.6 760.9 L158.6 761.9 L159.6 762.9 L160.6 763.9 L161.6 764.9 L162.6 765.9 L163.6 766.9 L164.6 767.9 L165.6 768.9 L166.6 769.9 L167.6 770.9 L168.6 771.8 L169.6 772.8 L170.6 773.8 L171.6 774.8 L172.6 775.8 L173.6 776.7 L174.6 777.6 L175.6 778.6 L176.6 779.5 L177.6 780.3 L178.6 781.2 L179.6 781.9 L180.6 782.7 L181.6 783.4 L182.6 784 L183.6 784.6 L184.6 785.2 L185.6 785.6 L186.6 786 L187.6 786.3 L188.6 786.6 L189.6 786.8 L190.6 786.9 L191.6 786.9 L192.6 786.9 L193.6 786.8 L194.6 786.7 L195.6 786.5 L196.6 786.3 L197.6 786 L198.6 785.7 L199.6 785.4 L200.6 785 L201.6 784.6 L202.6 784.1 L203.6 783.6 L204.6 783.1 L205.6 782.6 L206.6 782 L207.6 781.4 L208.6 780.8 L209.6 780.2 L210.6 779.6 L211.6 778.9 L212.6 778.3 L213.6 777.6 L214.6 776.9 L215.6 776.3 L216.6 775.6 L217.6 775 L218.6 774.3 L219.6 773.8 L220.6 773.2 L221.6 772.6 L222.6 772.1 L223.6 771.7 L224.6 771.3 L225.6 770.9 L226.6 770.5 L227.6 770.2 L228.6 770 L229.6 769.7 L230.6 769.4 L231.6 769.2 L232.6 769 L233.6 768.8 L234.6 768.6 L235.6 768.5 L236.6 768.3 L237.6 768.2 L238.6 768.2 L239.6 768.2 L240.6 768.2 L241.6 768.2 L242.6 768.3 L243.6 768.5 L244.6 768.7 L245.6 769 L246.6 769.3 L247.6 769.7 L248.6 770.1 L249.6 770.7 L250.6 771.2 L251.6 771.9 L252.6 772.6 L253.6 773.4 L254.6 774.2 L255.6 775.2 L256.6 776.1 L257.6 777.2 L258.6 778.2 L259.6 779.3 L260.6 780.4 L261.6 781.6 L262.6 782.8 L263.6 783.9 L264.6 785.1 L265.6 786.3 L266.6 787.5 L267.6 788.7 L268.6 789.8 L269.6 790.9 L270.6 792 L271.6 793.1 L272.6 794.1 L273.6 795.1 L274.6 796 L275.6 796.9 L276.6 797.8 L277.6 798.6 L278.6 799.3 L279.6 800 L280.6 800.6 L281.6 801.2 L282.6 801.7 L283.6 802.2 L284.6 802.6 L285.6 802.9 L286.6 803.2 L287.6 803.4 L288.6 803.5 L289.6 803.6 L290.6 803.6 L291.6 803.5 L292.6 803.3 L293.6 803 L294.6 802.6 L295.6 802.1 L296.6 801.5 L297.6 800.8 L298.6 800 L299.6 799 L300.6 798 L301.6 796.9 L302.6 795.6 L303.6 794.2 L304.6 792.8 L305.6 791.2 L306.6 789.5 L307.6 787.8 L308.6 785.9 L309.6 784 L310.6 781.9 L311.6 779.8 L312.6 777.6 L313.6 775.4 L314.6 773.1 L315.6 770.8 L316.6 768.5 L317.6 766.2 L318.6 763.8 L319.6 761.5 L320.6 759.2 L321.6 756.9 L322.6 754.6 L323.6 752.4 L324.6 750.2 L325.6 748.1 L326.6 746 L327.6 743.9 L328.6 741.9 L329.6 739.9 L330.6 738 L331.6 736.1 L332.6 734.2 L333.6 732.4 L334.6 730.7 L335.6 729 L336.6 727.3 L337.6 725.7 L338.6 724.2 L339.6 722.7 L340.6 721.2 L341.6 719.9 L342.6 718.5 L343.6 717.3 L344.6 716.1 L345.6 714.9 L346.6 713.9 L347.6 712.9 L348.6 711.9 L349.6 711 L350.6 710.2 L351.6 709.5 L352.6 708.8 L353.6 708.2 L354.6 707.6 L355.6 707.1 L356.6 706.6 L357.6 706.2 L358.6 705.8 L359.6 705.4 L360.6 705.1 L361.6 704.8 L362.6 704.5 L363.6 704.3 L364.6 704 L365.6 703.8 L366.6 703.6 L367.6 703.5 L368.6 703.3 L369.6 703.2 L370.6 703 L371.6 702.9 L372.6 702.8 L373.6 702.7 L374.6 702.6 L375.6 702.6 L376.6 702.5 L377.6 702.5 L378.6 702.4 L379.6 702.4 L380.6 702.3 L381.6 702.3 L382.6 702.3 L383.6 702.2 L384.6 702.2 L385.3 702.2" fill="none" stroke="#2ab000" stroke-width="3.4" stroke-linejoin="round"/>
<path d="M76.6 711.8 L77.6 712.3 L78.6 712.9 L79.6 713.4 L80.6 714 L81.6 714.5 L82.6 715.1 L83.6 715.7 L84.6 716.2 L85.6 716.8 L86.6 717.4 L87.6 718 L88.6 718.6 L89.6 719.2 L90.6 719.8 L91.6 720.4 L92.6 721.1 L93.6 721.7 L94.6 722.4 L95.6 723.1 L96.6 723.8 L97.6 724.5 L98.6 725.2 L99.6 726 L100.6 726.7 L101.6 727.5 L102.6 728.3 L103.6 729.1 L104.6 729.9 L105.6 730.8 L106.6 731.6 L107.6 732.5 L108.6 733.3 L109.6 734.2 L110.6 735.2 L111.6 736.1 L112.6 737 L113.6 738 L114.6 738.9 L115.6 739.9 L116.6 740.9 L117.6 741.9 L118.6 742.9 L119.6 743.9 L120.6 745 L121.6 746 L122.6 747.1 L123.6 748.1 L124.6 749.2 L125.6 750.3 L126.6 751.4 L127.6 752.5 L128.6 753.7 L129.6 754.8 L130.6 756 L131.6 757.1 L132.6 758.3 L133.6 759.5 L134.6 760.7 L135.6 761.9 L136.6 763.1 L137.6 764.3 L138.6 765.5 L139.6 766.7 L140.6 768 L141.6 769.2 L142.6 770.5 L143.6 771.8 L144.6 773 L145.6 774.3 L146.6 775.6 L147.6 776.9 L148.6 778.2 L149.6 779.5 L150.6 780.8 L151.6 782.1 L152.6 783.5 L153.6 784.8 L154.6 786.1 L155.6 787.5 L156.6 788.8 L157.6 790.2 L158.6 791.5 L159.6 792.9 L160.6 794.3 L161.6 795.6 L162.6 797 L163.6 798.4 L164.6 799.8 L165.6 801.2 L166.6 802.6 L167.6 804 L168.6 805.4 L169.6 806.8 L170.6 808.3 L171.6 809.7 L172.6 811.1 L173.6 812.5 L174.6 813.9 L175.6 815.3 L176.6 816.6 L177.6 817.9 L178.6 819.2 L179.6 820.3 L180.6 821.4 L181.6 822.4 L182.6 823.3 L183.6 824.1 L184.6 824.8 L185.6 825.4 L186.6 825.8 L187.6 826.1 L188.6 826.3 L189.6 826.3 L190.6 826.2 L191.6 826 L192.6 825.6 L193.6 825.1 L194.6 824.4 L195.6 823.6 L196.6 822.7 L197.6 821.7 L198.6 820.5 L199.6 819.2 L200.6 817.9 L201.6 816.4 L202.6 814.9 L203.6 813.2 L204.6 811.6 L205.6 809.8 L206.6 808.1 L207.6 806.3 L208.6 804.5 L209.6 802.7 L210.6 800.9 L211.6 799.1 L212.6 797.3 L213.6 795.6 L214.6 793.9 L215.6 792.2 L216.6 790.6 L217.6 788.9 L218.6 787.4 L219.6 785.8 L220.6 784.3 L221.6 782.8 L222.6 781.4 L223.6 780 L224.6 778.7 L225.6 777.4 L226.6 776.2 L227.6 775 L228.6 773.8 L229.6 772.7 L230.6 771.7 L231.6 770.6 L232.6 769.6 L233.6 768.7 L234.6 767.8 L235.6 766.9 L236.6 766 L237.6 765.2 L238.6 764.4 L239.6 763.7 L240.6 762.9 L241.6 762.3 L242.6 761.6 L243.6 761 L244.6 760.4 L245.6 759.9 L246.6 759.5 L247.6 759.1 L248.6 758.8 L249.6 758.6 L250.6 758.5 L251.6 758.5 L252.6 758.6 L253.6 758.9 L254.6 759.2 L255.6 759.7 L256.6 760.3 L257.6 761.1 L258.6 762 L259.6 763 L260.6 764.1 L261.6 765.4 L262.6 766.8 L263.6 768.4 L264.6 770.1 L265.6 771.8 L266.6 773.7 L267.6 775.6 L268.6 777.6 L269.6 779.6 L270.6 781.7 L271.6 783.9 L272.6 786 L273.6 788.2 L274.6 790.3 L275.6 792.5 L276.6 794.6 L277.6 796.7 L278.6 798.8 L279.6 800.8 L280.6 802.8 L281.6 804.7 L282.6 806.5 L283.6 808.3 L284.6 809.9 L285.6 811.5 L286.6 813 L287.6 814.3 L288.6 815.6 L289.6 816.7 L290.6 817.7 L291.6 818.6 L292.6 819.3 L293.6 819.9 L294.6 820.4 L295.6 820.7 L296.6 820.9 L297.6 820.9 L298.6 820.9 L299.6 820.7 L300.6 820.3 L301.6 819.9 L302.6 819.3 L303.6 818.6 L304.6 817.7 L305.6 816.7 L306.6 815.6 L307.6 814.3 L308.6 812.8 L309.6 811.2 L310.6 809.4 L311.6 807.5 L312.6 805.3 L313.6 803.1 L314.6 800.7 L315.6 798.2 L316.6 795.6 L317.6 792.9 L318.6 790.1 L319.6 787.3 L320.6 784.4 L321.6 781.5 L322.6 778.6 L323.6 775.7 L324.6 772.8 L325.6 770 L326.6 767.1 L327.6 764.3 L328.6 761.5 L329.6 758.8 L330.6 756.1 L331.6 753.5 L332.6 750.9 L333.6 748.4 L334.6 746 L335.6 743.6 L336.6 741.2 L337.6 739 L338.6 736.8 L339.6 734.8 L340.6 732.8 L341.6 730.9 L342.6 729 L343.6 727.3 L344.6 725.6 L345.6 724 L346.6 722.5 L347.6 721 L348.6 719.7 L349.6 718.4 L350.6 717.2 L351.6 716 L352.6 715 L353.6 714 L354.6 713.1 L355.6 712.2 L356.6 711.4 L357.6 710.7 L358.6 710 L359.6 709.4 L360.6 708.9 L361.6 708.4 L362.6 707.9 L363.6 707.5 L364.6 707.1 L365.6 706.7 L366.6 706.4 L367.6 706.1 L368.6 705.8 L369.6 705.6 L370.6 705.4 L371.6 705.1 L372.6 705 L373.6 704.8 L374.6 704.6 L375.6 704.5 L376.6 704.4 L377.6 704.2 L378.6 704.1 L379.6 704 L380.6 704 L381.6 703.9 L382.6 703.8 L383.6 703.7 L384.6 703.6 L385.3 703.6" fill="none" stroke="#ff9a00" stroke-width="3.4" stroke-linejoin="round"/>
<path d="M76.6 715.7 L77.6 716.4 L78.6 717.1 L79.6 717.7 L80.6 718.4 L81.6 719.1 L82.6 719.8 L83.6 720.5 L84.6 721.2 L85.6 721.9 L86.6 722.6 L87.6 723.4 L88.6 724.1 L89.6 724.8 L90.6 725.6 L91.6 726.4 L92.6 727.1 L93.6 727.9 L94.6 728.7 L95.6 729.5 L96.6 730.4 L97.6 731.2 L98.6 732.1 L99.6 733 L100.6 733.9 L101.6 734.8 L102.6 735.8 L103.6 736.7 L104.6 737.7 L105.6 738.7 L106.6 739.8 L107.6 740.8 L108.6 741.9 L109.6 743 L110.6 744.2 L111.6 745.3 L112.6 746.5 L113.6 747.8 L114.6 749 L115.6 750.3 L116.6 751.6 L117.6 752.9 L118.6 754.3 L119.6 755.7 L120.6 757.1 L121.6 758.6 L122.6 760.1 L123.6 761.7 L124.6 763.3 L125.6 764.9 L126.6 766.5 L127.6 768.2 L128.6 769.9 L129.6 771.6 L130.6 773.4 L131.6 775.2 L132.6 776.9 L133.6 778.8 L134.6 780.6 L135.6 782.4 L136.6 784.3 L137.6 786.2 L138.6 788 L139.6 789.9 L140.6 791.8 L141.6 793.7 L142.6 795.6 L143.6 797.5 L144.6 799.4 L145.6 801.3 L146.6 803.1 L147.6 805 L148.6 806.9 L149.6 808.7 L150.6 810.5 L151.6 812.3 L152.6 814.2 L153.6 815.9 L154.6 817.7 L155.6 819.5 L156.6 821.3 L157.6 823 L158.6 824.8 L159.6 826.5 L160.6 828.2 L161.6 830 L162.6 831.7 L163.6 833.4 L164.6 835.1 L165.6 836.8 L166.6 838.5 L167.6 840.2 L168.6 841.9 L169.6 843.6 L170.6 845.3 L171.6 847 L172.6 848.7 L173.6 850.3 L174.6 852 L175.6 853.6 L176.6 855.1 L177.6 856.5 L178.6 857.9 L179.6 859.1 L180.6 860.2 L181.6 861.2 L182.6 862.1 L183.6 862.8 L184.6 863.3 L185.6 863.6 L186.6 863.8 L187.6 863.8 L188.6 863.6 L189.6 863.3 L190.6 862.8 L191.6 862.2 L192.6 861.4 L193.6 860.5 L194.6 859.5 L195.6 858.3 L196.6 857 L197.6 855.5 L198.6 853.9 L199.6 852.1 L200.6 850.2 L201.6 848.2 L202.6 846 L203.6 843.7 L204.6 841.2 L205.6 838.6 L206.6 835.9 L207.6 833.1 L208.6 830.1 L209.6 827.1 L210.6 824 L211.6 820.8 L212.6 817.5 L213.6 814.2 L214.6 810.8 L215.6 807.4 L216.6 803.9 L217.6 800.5 L218.6 797 L219.6 793.5 L220.6 790 L221.6 786.5 L222.6 783.1 L223.6 779.6 L224.6 776.2 L225.6 772.8 L226.6 769.5 L227.6 766.3 L228.6 763.1 L229.6 760 L230.6 756.9 L231.6 754 L232.6 751.1 L233.6 748.3 L234.6 745.6 L235.6 743 L236.6 740.4 L237.6 738 L238.6 735.6 L239.6 733.3 L240.6 731.1 L241.6 728.9 L242.6 726.9 L243.6 725 L244.6 723.2 L245.6 721.5 L246.6 720 L247.6 718.6 L248.6 717.4 L249.6 716.4 L250.6 715.5 L251.6 714.9 L252.6 714.5 L253.6 714.2 L254.6 714.1 L255.6 714.1 L256.6 714.3 L257.6 714.7 L258.6 715.3 L259.6 716.2 L260.6 717.4 L261.6 719 L262.6 720.9 L263.6 723 L264.6 725.4 L265.6 728 L266.6 730.6 L267.6 733.4 L268.6 736.2 L269.6 739.1 L270.6 742 L271.6 745 L272.6 748 L273.6 751.1 L274.6 754.2 L275.6 757.4 L276.6 760.5 L277.6 763.7 L278.6 766.9 L279.6 770 L280.6 773.2 L281.6 776.4 L282.6 779.5 L283.6 782.6 L284.6 785.7 L285.6 788.7 L286.6 791.6 L287.6 794.4 L288.6 797.2 L289.6 799.9 L290.6 802.4 L291.6 804.9 L292.6 807.2 L293.6 809.4 L294.6 811.4 L295.6 813.3 L296.6 815 L297.6 816.5 L298.6 817.7 L299.6 818.8 L300.6 819.6 L301.6 820.1 L302.6 820.3 L303.6 820.3 L304.6 819.9 L305.6 819.2 L306.6 818.3 L307.6 817.1 L308.6 815.7 L309.6 814.1 L310.6 812.3 L311.6 810.3 L312.6 808.3 L313.6 806.1 L314.6 803.9 L315.6 801.6 L316.6 799.2 L317.6 796.7 L318.6 794.2 L319.6 791.6 L320.6 789 L321.6 786.3 L322.6 783.6 L323.6 780.8 L324.6 778 L325.6 775.2 L326.6 772.4 L327.6 769.6 L328.6 766.8 L329.6 763.9 L330.6 761.1 L331.6 758.3 L332.6 755.6 L333.6 752.9 L334.6 750.2 L335.6 747.6 L336.6 745.1 L337.6 742.6 L338.6 740.2 L339.6 737.9 L340.6 735.7 L341.6 733.7 L342.6 731.7 L343.6 729.9 L344.6 728.1 L345.6 726.5 L346.6 724.9 L347.6 723.5 L348.6 722.1 L349.6 720.9 L350.6 719.7 L351.6 718.6 L352.6 717.5 L353.6 716.6 L354.6 715.7 L355.6 714.8 L356.6 714.1 L357.6 713.4 L358.6 712.7 L359.6 712.1 L360.6 711.5 L361.6 711 L362.6 710.6 L363.6 710.1 L364.6 709.8 L365.6 709.4 L366.6 709.1 L367.6 708.8 L368.6 708.5 L369.6 708.3 L370.6 708.1 L371.6 707.8 L372.6 707.7 L373.6 707.5 L374.6 707.3 L375.6 707.2 L376.6 707.1 L377.6 707 L378.6 706.8 L379.6 706.7 L380.6 706.7 L381.6 706.6 L382.6 706.5 L383.6 706.4 L384.6 706.3 L385.3 706.3" fill="none" stroke="#7a0000" stroke-width="3.4" stroke-linejoin="round"/>
<rect x="183.4" y="688.7" width="6.8" height="190" fill="#000"/>
<polygon points="177.3,877.5 196.9,877.5 187.1,896.5" fill="#000"/>
<rect x="249.5" y="686" width="7.4" height="180.7" fill="#ff0000"/>
<polygon points="243,687.8 263.3,687.8 253.2,668.3" fill="#ff0000"/>
<path d="M77.2 664.8 H419.8 V915.0 H77.2 Z" fill="none" stroke="#000" stroke-width="1.5"/>
<path d="M77.2 908.2 h5.5 M77.2 890.8 h3.5 M77.2 873.4 h3.5 M77.2 856 h3.5 M77.2 838.6 h5.5 M77.2 821.2 h3.5 M77.2 803.8 h3.5 M77.2 786.4 h3.5 M77.2 769 h5.5 M77.2 751.6 h3.5 M77.2 734.2 h3.5 M77.2 716.8 h3.5 M77.2 699.4 h5.5 M77.2 682 h3.5 M77.2 664.6 h3.5 M91.5 915.0 v-3.5 M105.7 915.0 v-3.5 M120 915.0 v-3.5 M134.3 915.0 v-3.5 M148.6 915.0 v-3.5 M162.8 915.0 v-5.5 M177.1 915.0 v-3.5 M191.4 915.0 v-3.5 M205.7 915.0 v-3.5 M220 915.0 v-3.5 M234.2 915.0 v-3.5 M248.5 915.0 v-5.5 M262.8 915.0 v-3.5 M277 915.0 v-3.5 M291.3 915.0 v-3.5 M305.6 915.0 v-3.5 M319.9 915.0 v-3.5 M334.1 915.0 v-5.5 M348.4 915.0 v-3.5 M362.7 915.0 v-3.5 M377 915.0 v-3.5 M391.3 915.0 v-3.5 M405.5 915.0 v-3.5" stroke="#000" stroke-width="1.5" fill="none"/>
<text x="55.2" y="707.3" font-family='"Liberation Sans", sans-serif' font-size="25.00" font-weight="normal" fill="#000" text-anchor="start" transform="matrix(1 0 0 1.1 0 -70.73)">0</text>
<text x="46.7" y="776.9" font-family='"Liberation Sans", sans-serif' font-size="25.00" font-weight="normal" fill="#000" text-anchor="start" transform="matrix(1 0 0 1.1 0 -77.69)">-4</text>
<text x="47" y="846.5" font-family='"Liberation Sans", sans-serif' font-size="25.00" font-weight="normal" fill="#000" text-anchor="start" transform="matrix(1 0 0 1.1 0 -84.65)">-8</text>
<text x="33.3" y="916.1" font-family='"Liberation Sans", sans-serif' font-size="25.00" font-weight="normal" fill="#000" text-anchor="start" transform="matrix(1 0 0 1.1 0 -91.61)">-12</text>
<text x="47.8" y="943.2" font-family='"Liberation Sans", sans-serif' font-size="25.96" font-weight="normal" fill="#000" text-anchor="start" >1080</text>
<text x="133.5" y="943.2" font-family='"Liberation Sans", sans-serif' font-size="25.96" font-weight="normal" fill="#000" text-anchor="start" >1090</text>
<text x="220.1" y="943.2" font-family='"Liberation Sans", sans-serif' font-size="25.96" font-weight="normal" fill="#000" text-anchor="start" >1100</text>
<text x="306.7" y="943.2" font-family='"Liberation Sans", sans-serif' font-size="25.96" font-weight="normal" fill="#000" text-anchor="start" >1110</text>
<text x="391.4" y="943.2" font-family='"Liberation Sans", sans-serif' font-size="25.96" font-weight="normal" fill="#000" text-anchor="start" >1120</text>
<text x="174.6" y="973.9" font-family='"Liberation Sans", sans-serif' font-size="26.08" font-weight="normal" fill="#000" text-anchor="start" >Energy (eV)</text>
<text x="0" y="0" font-family='"Liberation Sans", sans-serif' font-size="23.60" font-weight="normal" fill="#000" text-anchor="middle" transform="translate(18.9,812) rotate(-90)">Diff. Sig. (arb. units)</text>
<text x="0.6" y="697" font-family='"Liberation Sans", sans-serif' font-size="35.00" font-weight="bold" fill="#000" text-anchor="start" >C</text>
<text x="269" y="693.5" font-family='"Liberation Sans", sans-serif' font-size="25.70" font-weight="bold" fill="#ff0000" text-anchor="start" >SHG:</text>
<text x="339.6" y="693.2" font-family='"Liberation Serif", serif' font-size="27.00" font-weight="bold" fill="#ff0000" text-anchor="start" >~</text>
<text x="353.6" y="693.1" font-family='"Liberation Serif", serif' font-size="24.50" font-weight="bold" font-style="italic" fill="#ff0000" text-anchor="start" >I</text>
<text x="364.5" y="693.1" font-family='"Liberation Serif", serif' font-size="24.50" font-weight="bold" fill="#ff0000" text-anchor="start" >(</text>
<text x="372.1" y="693.1" font-family='"Liberation Serif", serif' font-size="24.50" font-weight="bold" font-style="italic" fill="#ff0000" text-anchor="start" >ω</text>
<text x="387.7" y="693.1" font-family='"Liberation Serif", serif' font-size="24.50" font-weight="bold" fill="#ff0000" text-anchor="start" >)</text>
<text x="395.4" y="684.9" font-family='"Liberation Serif", serif' font-size="15.00" font-weight="bold" fill="#ff0000" text-anchor="start" >2</text>
<text x="205.8" y="900.5" font-family='"Liberation Sans", sans-serif' font-size="26.13" font-weight="bold" fill="#000" text-anchor="start" >TA:</text>
<text x="255" y="900.5" font-family='"Liberation Serif", serif' font-size="27.50" font-weight="bold" fill="#000" text-anchor="start" >~</text>
<text x="270.2" y="900.7" font-family='"Liberation Serif", serif' font-size="25.50" font-weight="bold" font-style="italic" fill="#000" text-anchor="start" >I</text>
<text x="279.3" y="900.7" font-family='"Liberation Serif", serif' font-size="25.50" font-weight="bold" fill="#000" text-anchor="start" >(</text>
<text x="285.5" y="900.7" font-family='"Liberation Serif", serif' font-size="25.50" font-weight="bold" font-style="italic" fill="#000" text-anchor="start" >ω</text>
<text x="304.2" y="900.7" font-family='"Liberation Serif", serif' font-size="25.50" font-weight="bold" fill="#000" text-anchor="start" >)</text>
<text x="313.9" y="900.7" font-family='"Liberation Serif", serif' font-size="25.50" font-weight="bold" font-style="italic" fill="#000" text-anchor="start" >I</text>
<text x="322.9" y="900.7" font-family='"Liberation Serif", serif' font-size="25.50" font-weight="bold" fill="#000" text-anchor="start" >(</text>
<text x="329.7" y="900.7" font-family='"Liberation Serif", serif' font-size="25.50" font-weight="bold" fill="#000" text-anchor="start" >2</text>
<text x="340.6" y="900.7" font-family='"Liberation Serif", serif' font-size="25.50" font-weight="bold" font-style="italic" fill="#000" text-anchor="start" >ω</text>
<text x="361.2" y="900.7" font-family='"Liberation Serif", serif' font-size="25.50" font-weight="bold" fill="#000" text-anchor="start" >)</text>
<rect x="497.1" y="419.9" width="183.6" height="244.3" fill="#00fe6e"/>
<g shape-rendering="crispEdges">
<path fill="#10fd64" d="M500.4 419.9h3.3v3.2h-3.3zM510.3 419.9h3.3v3.2h-3.3zM569.7 419.9h3.3v3.2h-3.3zM596.1 419.9h3.3v3.2h-3.3zM606 419.9h3.3v3.2h-3.3zM658.8 419.9h3.3v3.2h-3.3zM668.7 419.9h3.3v3.2h-3.3zM675.3 419.9h3.3v3.2h-3.3zM497.1 423.1h3.3v3.2h-3.3zM533.4 423.1h3.3v3.2h-3.3zM543.3 423.1h3.3v3.2h-3.3zM655.5 423.1h3.3v3.2h-3.3zM668.7 423.1h3.3v3.2h-3.3zM500.4 426.3h3.3v3.2h-3.3zM520.2 426.3h6.6v3.2h-6.6zM639 426.3h3.3v3.2h-3.3zM520.2 429.5h3.3v3.2h-3.3zM533.4 429.5h3.3v3.2h-3.3zM606 429.5h3.3v3.2h-3.3zM625.8 429.5h3.3v3.2h-3.3zM672 429.5h3.3v3.2h-3.3zM563.1 432.7h3.3v3.2h-3.3zM668.7 432.7h3.3v3.2h-3.3zM497.1 435.9h3.3v3.2h-3.3zM533.4 435.9h3.3v3.2h-3.3zM556.5 435.9h3.3v3.2h-3.3zM658.8 435.9h6.6v3.2h-6.6zM500.4 439.1h3.3v3.2h-3.3zM540 439.1h3.3v3.2h-3.3zM645.6 439.1h3.3v3.2h-3.3zM652.2 439.1h3.3v3.2h-3.3zM665.4 439.1h3.3v3.2h-3.3zM678.6 439.1h2.1v3.2h-2.1zM520.2 442.3h3.3v3.2h-3.3zM665.4 442.3h6.6v3.2h-6.6zM497.1 445.5h3.3v3.2h-3.3zM503.7 445.5h3.3v3.2h-3.3zM533.4 445.5h6.6v3.2h-6.6zM543.3 445.5h3.3v3.2h-3.3zM665.4 445.5h3.3v3.2h-3.3zM500.4 448.7h3.3v3.2h-3.3zM507 448.7h3.3v3.2h-3.3zM523.5 448.7h3.3v3.2h-3.3zM536.7 448.7h3.3v3.2h-3.3zM635.7 448.7h3.3v3.2h-3.3zM668.7 448.7h3.3v3.2h-3.3zM500.4 451.9h9.9v3.2h-9.9zM668.7 451.9h3.3v3.2h-3.3zM678.6 451.9h2.1v3.2h-2.1zM500.4 455.1h6.6v3.2h-6.6zM510.3 455.1h6.6v3.2h-6.6zM536.7 455.1h3.3v3.2h-3.3zM632.4 455.1h3.3v3.2h-3.3zM503.7 458.3h3.3v3.2h-3.3zM513.6 458.3h3.3v3.2h-3.3zM520.2 458.3h3.3v3.2h-3.3zM533.4 458.3h3.3v3.2h-3.3zM540 458.3h3.3v3.2h-3.3zM629.1 458.3h3.3v3.2h-3.3zM497.1 461.5h9.9v3.2h-9.9zM629.1 461.5h3.3v3.2h-3.3zM668.7 461.5h6.6v3.2h-6.6zM678.6 461.5h2.1v3.2h-2.1zM507 464.7h3.3v3.2h-3.3zM513.6 464.7h3.3v3.2h-3.3zM526.8 464.7h6.6v3.2h-6.6zM668.7 464.7h3.3v3.2h-3.3zM500.4 467.9h3.3v3.2h-3.3zM507 467.9h3.3v3.2h-3.3zM513.6 467.9h6.6v3.2h-6.6zM503.7 471.1h3.3v3.2h-3.3zM520.2 471.1h6.6v3.2h-6.6zM668.7 471.1h3.3v3.2h-3.3zM503.7 474.3h6.6v3.2h-6.6zM520.2 474.3h3.3v3.2h-3.3zM665.4 474.3h3.3v3.2h-3.3zM675.3 474.3h3.3v3.2h-3.3zM500.4 477.5h3.3v3.2h-3.3zM507 477.5h3.3v3.2h-3.3zM662.1 477.5h3.3v3.2h-3.3zM672 477.5h3.3v3.2h-3.3zM497.1 480.7h3.3v3.2h-3.3zM507 480.7h3.3v3.2h-3.3zM516.9 480.7h3.3v3.2h-3.3zM675.3 480.7h3.3v3.2h-3.3zM500.4 483.9h3.3v3.2h-3.3zM513.6 483.9h3.3v3.2h-3.3zM665.4 483.9h3.3v3.2h-3.3zM675.3 483.9h5.4v3.2h-5.4zM507 487.1h3.3v3.2h-3.3zM516.9 487.1h3.3v3.2h-3.3zM675.3 487.1h3.3v3.2h-3.3zM507 490.3h3.3v3.2h-3.3zM516.9 490.3h3.3v3.2h-3.3zM655.5 490.3h3.3v3.2h-3.3zM675.3 490.3h5.4v3.2h-5.4zM497.1 493.5h3.3v3.2h-3.3zM510.3 493.5h9.9v3.2h-9.9zM523.5 493.5h9.9v3.2h-9.9zM662.1 493.5h3.3v3.2h-3.3zM668.7 493.5h3.3v3.2h-3.3zM500.4 496.7h3.3v3.2h-3.3zM507 496.7h3.3v3.2h-3.3zM513.6 496.7h3.3v3.2h-3.3zM526.8 496.7h3.3v3.2h-3.3zM533.4 496.7h3.3v3.2h-3.3zM510.3 499.9h3.3v3.2h-3.3zM533.4 499.9h3.3v3.2h-3.3zM658.8 499.9h3.3v3.2h-3.3zM500.4 503.1h3.3v3.2h-3.3zM510.3 503.1h3.3v3.2h-3.3zM546.6 503.1h3.3v3.2h-3.3zM648.9 503.1h3.3v3.2h-3.3zM675.3 503.1h3.3v3.2h-3.3zM497.1 506.3h6.6v3.2h-6.6zM507 506.3h6.6v3.2h-6.6zM516.9 506.3h6.6v3.2h-6.6zM655.5 506.3h3.3v3.2h-3.3zM513.6 509.5h3.3v3.2h-3.3zM523.5 509.5h3.3v3.2h-3.3zM606 509.5h3.3v3.2h-3.3zM635.7 509.5h3.3v3.2h-3.3zM662.1 509.5h3.3v3.2h-3.3zM497.1 512.7h9.9v3.2h-9.9zM510.3 512.7h6.6v3.2h-6.6zM536.7 512.7h3.3v3.2h-3.3zM652.2 512.7h3.3v3.2h-3.3zM662.1 512.7h3.3v3.2h-3.3zM497.1 515.9h3.3v3.2h-3.3zM503.7 515.9h6.6v3.2h-6.6zM520.2 515.9h6.6v3.2h-6.6zM672 515.9h6.6v3.2h-6.6zM513.6 519.1h3.3v3.2h-3.3zM523.5 519.1h3.3v3.2h-3.3zM658.8 519.1h3.3v3.2h-3.3zM665.4 519.1h3.3v3.2h-3.3zM530.1 522.3h3.3v3.2h-3.3zM599.4 522.3h3.3v3.2h-3.3zM497.1 525.5h3.3v3.2h-3.3zM530.1 525.5h3.3v3.2h-3.3zM546.6 525.5h3.3v3.2h-3.3zM655.5 525.5h3.3v3.2h-3.3zM675.3 525.5h5.4v3.2h-5.4zM497.1 528.7h3.3v3.2h-3.3zM533.4 528.7h3.3v3.2h-3.3zM500.4 531.9h3.3v3.2h-3.3zM536.7 531.9h3.3v3.2h-3.3zM543.3 531.9h3.3v3.2h-3.3zM658.8 531.9h3.3v3.2h-3.3zM668.7 531.9h9.9v3.2h-9.9zM497.1 535.1h3.3v3.2h-3.3zM520.2 535.1h3.3v3.2h-3.3zM536.7 535.1h3.3v3.2h-3.3zM513.6 538.3h6.6v3.2h-6.6zM526.8 538.3h3.3v3.2h-3.3zM546.6 538.3h3.3v3.2h-3.3zM652.2 538.3h3.3v3.2h-3.3zM497.1 541.5h3.3v3.2h-3.3zM675.3 541.5h3.3v3.2h-3.3zM503.7 544.7h3.3v3.2h-3.3zM536.7 544.7h3.3v3.2h-3.3zM543.3 544.7h3.3v3.2h-3.3zM672 544.7h6.6v3.2h-6.6zM520.2 547.9h9.9v3.2h-9.9zM662.1 547.9h6.6v3.2h-6.6zM672 547.9h3.3v3.2h-3.3zM497.1 551.1h9.9v3.2h-9.9zM510.3 551.1h3.3v3.2h-3.3zM678.6 551.1h2.1v3.2h-2.1zM513.6 554.3h3.3v3.2h-3.3zM536.7 554.3h3.3v3.2h-3.3zM500.4 557.5h3.3v3.2h-3.3zM526.8 557.5h3.3v3.2h-3.3zM540 557.5h3.3v3.2h-3.3zM678.6 557.5h2.1v3.2h-2.1zM497.1 560.7h6.6v3.2h-6.6zM510.3 560.7h3.3v3.2h-3.3zM526.8 560.7h9.9v3.2h-9.9zM543.3 560.7h3.3v3.2h-3.3zM655.5 560.7h3.3v3.2h-3.3zM675.3 560.7h5.4v3.2h-5.4zM500.4 563.9h6.6v3.2h-6.6zM533.4 563.9h3.3v3.2h-3.3zM543.3 563.9h3.3v3.2h-3.3zM672 563.9h3.3v3.2h-3.3zM516.9 567.1h3.3v3.2h-3.3zM672 567.1h6.6v3.2h-6.6zM536.7 570.3h3.3v3.2h-3.3zM662.1 570.3h3.3v3.2h-3.3zM672 570.3h3.3v3.2h-3.3zM503.7 573.5h3.3v3.2h-3.3zM530.1 573.5h3.3v3.2h-3.3zM665.4 573.5h3.3v3.2h-3.3zM513.6 576.7h3.3v3.2h-3.3zM520.2 576.7h3.3v3.2h-3.3zM526.8 576.7h6.6v3.2h-6.6zM503.7 579.9h3.3v3.2h-3.3zM510.3 579.9h3.3v3.2h-3.3zM523.5 579.9h3.3v3.2h-3.3zM530.1 583.1h3.3v3.2h-3.3zM546.6 583.1h3.3v3.2h-3.3zM655.5 583.1h3.3v3.2h-3.3zM665.4 583.1h6.6v3.2h-6.6zM497.1 586.3h6.6v3.2h-6.6zM513.6 586.3h3.3v3.2h-3.3zM526.8 586.3h9.9v3.2h-9.9zM540 586.3h3.3v3.2h-3.3zM556.5 586.3h3.3v3.2h-3.3zM500.4 589.5h3.3v3.2h-3.3zM507 589.5h3.3v3.2h-3.3zM523.5 589.5h3.3v3.2h-3.3zM533.4 589.5h3.3v3.2h-3.3zM652.2 589.5h3.3v3.2h-3.3zM510.3 592.7h3.3v3.2h-3.3zM530.1 592.7h3.3v3.2h-3.3zM543.3 592.7h6.6v3.2h-6.6zM678.6 592.7h2.1v3.2h-2.1zM497.1 595.9h3.3v3.2h-3.3zM540 595.9h3.3v3.2h-3.3zM668.7 595.9h3.3v3.2h-3.3zM675.3 595.9h3.3v3.2h-3.3zM526.8 599.1h3.3v3.2h-3.3zM540 599.1h9.9v3.2h-9.9zM665.4 599.1h3.3v3.2h-3.3zM672 599.1h3.3v3.2h-3.3zM678.6 599.1h2.1v3.2h-2.1zM516.9 602.3h3.3v3.2h-3.3zM526.8 602.3h3.3v3.2h-3.3zM556.5 602.3h3.3v3.2h-3.3zM569.7 602.3h3.3v3.2h-3.3zM586.2 602.3h3.3v3.2h-3.3zM513.6 605.5h6.6v3.2h-6.6zM523.5 605.5h3.3v3.2h-3.3zM549.9 605.5h3.3v3.2h-3.3zM559.8 605.5h3.3v3.2h-3.3zM648.9 605.5h3.3v3.2h-3.3zM668.7 605.5h3.3v3.2h-3.3zM503.7 608.7h3.3v3.2h-3.3zM516.9 608.7h3.3v3.2h-3.3zM530.1 608.7h3.3v3.2h-3.3zM546.6 608.7h3.3v3.2h-3.3zM662.1 608.7h3.3v3.2h-3.3zM500.4 611.9h6.6v3.2h-6.6zM530.1 611.9h3.3v3.2h-3.3zM543.3 611.9h6.6v3.2h-6.6zM668.7 611.9h3.3v3.2h-3.3zM678.6 611.9h2.1v3.2h-2.1zM507 615.1h6.6v3.2h-6.6zM526.8 615.1h3.3v3.2h-3.3zM533.4 615.1h3.3v3.2h-3.3zM596.1 615.1h3.3v3.2h-3.3zM497.1 618.3h3.3v3.2h-3.3zM516.9 618.3h9.9v3.2h-9.9zM543.3 618.3h3.3v3.2h-3.3zM553.2 618.3h6.6v3.2h-6.6zM652.2 618.3h3.3v3.2h-3.3zM678.6 618.3h2.1v3.2h-2.1zM497.1 621.5h6.6v3.2h-6.6zM510.3 621.5h3.3v3.2h-3.3zM516.9 621.5h6.6v3.2h-6.6zM530.1 621.5h3.3v3.2h-3.3zM549.9 621.5h6.6v3.2h-6.6zM559.8 621.5h3.3v3.2h-3.3zM569.7 621.5h3.3v3.2h-3.3zM510.3 624.7h3.3v3.2h-3.3zM520.2 624.7h3.3v3.2h-3.3zM533.4 624.7h3.3v3.2h-3.3zM569.7 624.7h3.3v3.2h-3.3zM672 624.7h3.3v3.2h-3.3zM500.4 627.9h3.3v3.2h-3.3zM523.5 627.9h3.3v3.2h-3.3zM546.6 627.9h6.6v3.2h-6.6zM579.6 627.9h3.3v3.2h-3.3zM665.4 627.9h3.3v3.2h-3.3zM516.9 634.3h6.6v3.2h-6.6zM536.7 634.3h3.3v3.2h-3.3zM573 634.3h3.3v3.2h-3.3zM675.3 634.3h5.4v3.2h-5.4zM510.3 637.5h3.3v3.2h-3.3zM530.1 637.5h3.3v3.2h-3.3zM553.2 637.5h3.3v3.2h-3.3zM559.8 637.5h3.3v3.2h-3.3zM566.4 637.5h3.3v3.2h-3.3zM665.4 637.5h3.3v3.2h-3.3zM678.6 637.5h2.1v3.2h-2.1zM500.4 640.7h3.3v3.2h-3.3zM533.4 640.7h6.6v3.2h-6.6zM546.6 640.7h3.3v3.2h-3.3zM556.5 640.7h3.3v3.2h-3.3zM569.7 640.7h3.3v3.2h-3.3zM582.9 640.7h3.3v3.2h-3.3zM635.7 640.7h3.3v3.2h-3.3zM665.4 640.7h3.3v3.2h-3.3zM497.1 643.9h3.3v3.2h-3.3zM526.8 643.9h6.6v3.2h-6.6zM549.9 643.9h3.3v3.2h-3.3zM556.5 643.9h3.3v3.2h-3.3zM635.7 643.9h6.6v3.2h-6.6zM672 643.9h3.3v3.2h-3.3zM497.1 647.1h3.3v3.2h-3.3zM507 647.1h3.3v3.2h-3.3zM516.9 647.1h3.3v3.2h-3.3zM523.5 647.1h6.6v3.2h-6.6zM543.3 647.1h3.3v3.2h-3.3zM549.9 647.1h3.3v3.2h-3.3zM566.4 647.1h3.3v3.2h-3.3zM579.6 647.1h3.3v3.2h-3.3zM632.4 647.1h3.3v3.2h-3.3zM652.2 647.1h3.3v3.2h-3.3zM668.7 647.1h6.6v3.2h-6.6zM678.6 647.1h2.1v3.2h-2.1zM510.3 650.3h3.3v3.2h-3.3zM655.5 650.3h3.3v3.2h-3.3zM662.1 650.3h6.6v3.2h-6.6zM507 653.5h3.3v3.2h-3.3zM513.6 653.5h3.3v3.2h-3.3zM526.8 653.5h3.3v3.2h-3.3zM536.7 653.5h3.3v3.2h-3.3zM543.3 653.5h3.3v3.2h-3.3zM559.8 653.5h6.6v3.2h-6.6zM652.2 653.5h3.3v3.2h-3.3zM672 653.5h3.3v3.2h-3.3zM497.1 656.7h3.3v3.2h-3.3zM503.7 656.7h3.3v3.2h-3.3zM540 656.7h3.3v3.2h-3.3zM566.4 656.7h3.3v3.2h-3.3zM573 656.7h3.3v3.2h-3.3zM625.8 656.7h6.6v3.2h-6.6zM665.4 656.7h3.3v3.2h-3.3zM672 656.7h3.3v3.2h-3.3zM523.5 659.9h3.3v3.2h-3.3zM530.1 659.9h6.6v3.2h-6.6zM546.6 659.9h3.3v3.2h-3.3zM569.7 659.9h6.6v3.2h-6.6zM642.3 659.9h3.3v3.2h-3.3zM658.8 659.9h3.3v3.2h-3.3zM665.4 659.9h3.3v3.2h-3.3zM672 659.9h3.3v3.2h-3.3zM507 663.1h3.3v1.1h-3.3zM526.8 663.1h3.3v1.1h-3.3zM642.3 663.1h3.3v1.1h-3.3zM668.7 663.1h6.6v1.1h-6.6z"/>
<path fill="#00fd79" d="M507 419.9h3.3v3.2h-3.3zM536.7 419.9h3.3v3.2h-3.3zM543.3 419.9h3.3v3.2h-3.3zM553.2 419.9h16.5v3.2h-16.5zM582.9 419.9h3.3v3.2h-3.3zM589.5 419.9h6.6v3.2h-6.6zM609.3 419.9h6.6v3.2h-6.6zM622.5 419.9h6.6v3.2h-6.6zM635.7 419.9h3.3v3.2h-3.3zM642.3 419.9h3.3v3.2h-3.3zM652.2 419.9h3.3v3.2h-3.3zM665.4 419.9h3.3v3.2h-3.3zM672 419.9h3.3v3.2h-3.3zM678.6 419.9h2.1v3.2h-2.1zM503.7 423.1h3.3v3.2h-3.3zM516.9 423.1h6.6v3.2h-6.6zM546.6 423.1h6.6v3.2h-6.6zM563.1 423.1h3.3v3.2h-3.3zM569.7 423.1h6.6v3.2h-6.6zM579.6 423.1h3.3v3.2h-3.3zM592.8 423.1h3.3v3.2h-3.3zM602.7 423.1h13.2v3.2h-13.2zM629.1 423.1h6.6v3.2h-6.6zM642.3 423.1h3.3v3.2h-3.3zM648.9 423.1h3.3v3.2h-3.3zM662.1 423.1h3.3v3.2h-3.3zM675.3 423.1h3.3v3.2h-3.3zM510.3 426.3h3.3v3.2h-3.3zM516.9 426.3h3.3v3.2h-3.3zM526.8 426.3h3.3v3.2h-3.3zM540 426.3h6.6v3.2h-6.6zM549.9 426.3h9.9v3.2h-9.9zM563.1 426.3h3.3v3.2h-3.3zM569.7 426.3h3.3v3.2h-3.3zM576.3 426.3h3.3v3.2h-3.3zM582.9 426.3h3.3v3.2h-3.3zM602.7 426.3h3.3v3.2h-3.3zM612.6 426.3h6.6v3.2h-6.6zM635.7 426.3h3.3v3.2h-3.3zM658.8 426.3h6.6v3.2h-6.6zM497.1 429.5h3.3v3.2h-3.3zM516.9 429.5h3.3v3.2h-3.3zM523.5 429.5h6.6v3.2h-6.6zM543.3 429.5h3.3v3.2h-3.3zM556.5 429.5h6.6v3.2h-6.6zM566.4 429.5h6.6v3.2h-6.6zM582.9 429.5h3.3v3.2h-3.3zM596.1 429.5h3.3v3.2h-3.3zM612.6 429.5h3.3v3.2h-3.3zM632.4 429.5h3.3v3.2h-3.3zM642.3 429.5h9.9v3.2h-9.9zM655.5 429.5h9.9v3.2h-9.9zM497.1 432.7h3.3v3.2h-3.3zM503.7 432.7h3.3v3.2h-3.3zM510.3 432.7h6.6v3.2h-6.6zM536.7 432.7h3.3v3.2h-3.3zM543.3 432.7h6.6v3.2h-6.6zM553.2 432.7h3.3v3.2h-3.3zM573 432.7h3.3v3.2h-3.3zM579.6 432.7h3.3v3.2h-3.3zM596.1 432.7h3.3v3.2h-3.3zM609.3 432.7h3.3v3.2h-3.3zM619.2 432.7h3.3v3.2h-3.3zM629.1 432.7h3.3v3.2h-3.3zM635.7 432.7h6.6v3.2h-6.6zM648.9 432.7h3.3v3.2h-3.3zM662.1 432.7h6.6v3.2h-6.6zM510.3 435.9h3.3v3.2h-3.3zM520.2 435.9h6.6v3.2h-6.6zM530.1 435.9h3.3v3.2h-3.3zM549.9 435.9h3.3v3.2h-3.3zM582.9 435.9h3.3v3.2h-3.3zM629.1 435.9h3.3v3.2h-3.3zM639 435.9h6.6v3.2h-6.6zM648.9 435.9h9.9v3.2h-9.9zM672 435.9h3.3v3.2h-3.3zM510.3 439.1h3.3v3.2h-3.3zM516.9 439.1h3.3v3.2h-3.3zM533.4 439.1h6.6v3.2h-6.6zM553.2 439.1h6.6v3.2h-6.6zM609.3 439.1h3.3v3.2h-3.3zM619.2 439.1h3.3v3.2h-3.3zM629.1 439.1h3.3v3.2h-3.3zM655.5 439.1h3.3v3.2h-3.3zM672 439.1h3.3v3.2h-3.3zM507 442.3h3.3v3.2h-3.3zM516.9 442.3h3.3v3.2h-3.3zM523.5 442.3h9.9v3.2h-9.9zM546.6 442.3h3.3v3.2h-3.3zM632.4 442.3h9.9v3.2h-9.9zM675.3 442.3h3.3v3.2h-3.3zM516.9 445.5h3.3v3.2h-3.3zM546.6 445.5h3.3v3.2h-3.3zM622.5 445.5h3.3v3.2h-3.3zM668.7 445.5h3.3v3.2h-3.3zM675.3 445.5h5.4v3.2h-5.4zM497.1 448.7h3.3v3.2h-3.3zM503.7 448.7h3.3v3.2h-3.3zM516.9 448.7h6.6v3.2h-6.6zM526.8 448.7h6.6v3.2h-6.6zM625.8 448.7h3.3v3.2h-3.3zM497.1 451.9h3.3v3.2h-3.3zM543.3 451.9h3.3v3.2h-3.3zM672 451.9h3.3v3.2h-3.3zM520.2 455.1h6.6v3.2h-6.6zM540 455.1h3.3v3.2h-3.3zM546.6 455.1h3.3v3.2h-3.3zM500.4 458.3h3.3v3.2h-3.3zM516.9 458.3h3.3v3.2h-3.3zM523.5 458.3h3.3v3.2h-3.3zM530.1 458.3h3.3v3.2h-3.3zM625.8 458.3h3.3v3.2h-3.3zM672 458.3h8.7v3.2h-8.7zM513.6 461.5h6.6v3.2h-6.6zM526.8 461.5h3.3v3.2h-3.3zM625.8 461.5h3.3v3.2h-3.3zM497.1 464.7h9.9v3.2h-9.9zM516.9 464.7h3.3v3.2h-3.3zM533.4 464.7h6.6v3.2h-6.6zM543.3 464.7h3.3v3.2h-3.3zM672 464.7h3.3v3.2h-3.3zM497.1 467.9h3.3v3.2h-3.3zM520.2 467.9h3.3v3.2h-3.3zM530.1 467.9h3.3v3.2h-3.3zM672 467.9h3.3v3.2h-3.3zM507 471.1h6.6v3.2h-6.6zM516.9 471.1h3.3v3.2h-3.3zM678.6 471.1h2.1v3.2h-2.1zM516.9 474.3h3.3v3.2h-3.3zM523.5 474.3h6.6v3.2h-6.6zM533.4 474.3h3.3v3.2h-3.3zM672 474.3h3.3v3.2h-3.3zM678.6 474.3h2.1v3.2h-2.1zM503.7 477.5h3.3v3.2h-3.3zM510.3 477.5h3.3v3.2h-3.3zM516.9 477.5h3.3v3.2h-3.3zM533.4 477.5h3.3v3.2h-3.3zM540 477.5h3.3v3.2h-3.3zM510.3 480.7h3.3v3.2h-3.3zM526.8 480.7h3.3v3.2h-3.3zM536.7 480.7h6.6v3.2h-6.6zM665.4 480.7h3.3v3.2h-3.3zM678.6 480.7h2.1v3.2h-2.1zM510.3 483.9h3.3v3.2h-3.3zM530.1 483.9h3.3v3.2h-3.3zM540 483.9h6.6v3.2h-6.6zM619.2 483.9h3.3v3.2h-3.3zM672 483.9h3.3v3.2h-3.3zM497.1 487.1h3.3v3.2h-3.3zM526.8 487.1h3.3v3.2h-3.3zM536.7 487.1h6.6v3.2h-6.6zM658.8 487.1h6.6v3.2h-6.6zM678.6 487.1h2.1v3.2h-2.1zM500.4 490.3h6.6v3.2h-6.6zM513.6 490.3h3.3v3.2h-3.3zM520.2 490.3h6.6v3.2h-6.6zM540 490.3h3.3v3.2h-3.3zM507 493.5h3.3v3.2h-3.3zM540 493.5h6.6v3.2h-6.6zM675.3 493.5h3.3v3.2h-3.3zM503.7 496.7h3.3v3.2h-3.3zM516.9 496.7h3.3v3.2h-3.3zM530.1 496.7h3.3v3.2h-3.3zM540 496.7h3.3v3.2h-3.3zM662.1 496.7h3.3v3.2h-3.3zM672 496.7h3.3v3.2h-3.3zM678.6 496.7h2.1v3.2h-2.1zM513.6 499.9h6.6v3.2h-6.6zM526.8 499.9h3.3v3.2h-3.3zM536.7 499.9h9.9v3.2h-9.9zM662.1 499.9h3.3v3.2h-3.3zM513.6 503.1h6.6v3.2h-6.6zM523.5 503.1h3.3v3.2h-3.3zM543.3 503.1h3.3v3.2h-3.3zM662.1 503.1h3.3v3.2h-3.3zM530.1 506.3h6.6v3.2h-6.6zM540 506.3h6.6v3.2h-6.6zM658.8 506.3h3.3v3.2h-3.3zM665.4 506.3h3.3v3.2h-3.3zM675.3 506.3h3.3v3.2h-3.3zM497.1 509.5h3.3v3.2h-3.3zM526.8 509.5h6.6v3.2h-6.6zM536.7 509.5h3.3v3.2h-3.3zM543.3 509.5h3.3v3.2h-3.3zM553.2 509.5h3.3v3.2h-3.3zM639 509.5h3.3v3.2h-3.3zM652.2 509.5h3.3v3.2h-3.3zM665.4 509.5h6.6v3.2h-6.6zM678.6 509.5h2.1v3.2h-2.1zM516.9 512.7h3.3v3.2h-3.3zM530.1 512.7h3.3v3.2h-3.3zM540 512.7h3.3v3.2h-3.3zM546.6 512.7h3.3v3.2h-3.3zM655.5 512.7h3.3v3.2h-3.3zM668.7 512.7h9.9v3.2h-9.9zM513.6 515.9h3.3v3.2h-3.3zM530.1 515.9h3.3v3.2h-3.3zM536.7 515.9h3.3v3.2h-3.3zM546.6 515.9h3.3v3.2h-3.3zM655.5 515.9h3.3v3.2h-3.3zM662.1 515.9h3.3v3.2h-3.3zM668.7 515.9h3.3v3.2h-3.3zM678.6 515.9h2.1v3.2h-2.1zM503.7 519.1h3.3v3.2h-3.3zM516.9 519.1h6.6v3.2h-6.6zM526.8 519.1h19.8v3.2h-19.8zM549.9 519.1h9.9v3.2h-9.9zM655.5 519.1h3.3v3.2h-3.3zM662.1 519.1h3.3v3.2h-3.3zM678.6 519.1h2.1v3.2h-2.1zM497.1 522.3h6.6v3.2h-6.6zM507 522.3h3.3v3.2h-3.3zM533.4 522.3h16.5v3.2h-16.5zM559.8 522.3h3.3v3.2h-3.3zM655.5 522.3h9.9v3.2h-9.9zM672 522.3h3.3v3.2h-3.3zM678.6 522.3h2.1v3.2h-2.1zM503.7 525.5h3.3v3.2h-3.3zM510.3 525.5h3.3v3.2h-3.3zM520.2 525.5h3.3v3.2h-3.3zM553.2 525.5h6.6v3.2h-6.6zM652.2 525.5h3.3v3.2h-3.3zM668.7 525.5h3.3v3.2h-3.3zM500.4 528.7h6.6v3.2h-6.6zM523.5 528.7h3.3v3.2h-3.3zM536.7 528.7h3.3v3.2h-3.3zM549.9 528.7h3.3v3.2h-3.3zM556.5 528.7h6.6v3.2h-6.6zM619.2 528.7h3.3v3.2h-3.3zM662.1 528.7h3.3v3.2h-3.3zM678.6 528.7h2.1v3.2h-2.1zM507 531.9h3.3v3.2h-3.3zM526.8 531.9h9.9v3.2h-9.9zM540 531.9h3.3v3.2h-3.3zM546.6 531.9h6.6v3.2h-6.6zM559.8 531.9h3.3v3.2h-3.3zM665.4 531.9h3.3v3.2h-3.3zM678.6 531.9h2.1v3.2h-2.1zM523.5 535.1h6.6v3.2h-6.6zM543.3 535.1h3.3v3.2h-3.3zM553.2 535.1h3.3v3.2h-3.3zM559.8 535.1h3.3v3.2h-3.3zM596.1 535.1h3.3v3.2h-3.3zM612.6 535.1h3.3v3.2h-3.3zM655.5 535.1h3.3v3.2h-3.3zM662.1 535.1h6.6v3.2h-6.6zM675.3 535.1h5.4v3.2h-5.4zM497.1 538.3h3.3v3.2h-3.3zM507 538.3h3.3v3.2h-3.3zM520.2 538.3h3.3v3.2h-3.3zM533.4 538.3h9.9v3.2h-9.9zM553.2 538.3h3.3v3.2h-3.3zM599.4 538.3h3.3v3.2h-3.3zM665.4 538.3h6.6v3.2h-6.6zM675.3 538.3h5.4v3.2h-5.4zM500.4 541.5h6.6v3.2h-6.6zM510.3 541.5h3.3v3.2h-3.3zM520.2 541.5h6.6v3.2h-6.6zM530.1 541.5h9.9v3.2h-9.9zM549.9 541.5h6.6v3.2h-6.6zM665.4 541.5h3.3v3.2h-3.3zM510.3 544.7h9.9v3.2h-9.9zM530.1 544.7h6.6v3.2h-6.6zM652.2 544.7h3.3v3.2h-3.3zM658.8 544.7h13.2v3.2h-13.2zM497.1 547.9h9.9v3.2h-9.9zM516.9 547.9h3.3v3.2h-3.3zM536.7 547.9h9.9v3.2h-9.9zM648.9 547.9h3.3v3.2h-3.3zM658.8 547.9h3.3v3.2h-3.3zM668.7 547.9h3.3v3.2h-3.3zM513.6 551.1h3.3v3.2h-3.3zM543.3 551.1h6.6v3.2h-6.6zM662.1 551.1h3.3v3.2h-3.3zM668.7 551.1h9.9v3.2h-9.9zM510.3 554.3h3.3v3.2h-3.3zM533.4 554.3h3.3v3.2h-3.3zM540 554.3h3.3v3.2h-3.3zM549.9 554.3h3.3v3.2h-3.3zM655.5 554.3h3.3v3.2h-3.3zM662.1 554.3h6.6v3.2h-6.6zM675.3 554.3h5.4v3.2h-5.4zM507 557.5h3.3v3.2h-3.3zM513.6 557.5h6.6v3.2h-6.6zM523.5 557.5h3.3v3.2h-3.3zM533.4 557.5h3.3v3.2h-3.3zM543.3 557.5h3.3v3.2h-3.3zM655.5 557.5h3.3v3.2h-3.3zM668.7 557.5h3.3v3.2h-3.3zM507 560.7h3.3v3.2h-3.3zM516.9 560.7h9.9v3.2h-9.9zM536.7 560.7h6.6v3.2h-6.6zM546.6 560.7h6.6v3.2h-6.6zM662.1 560.7h3.3v3.2h-3.3zM668.7 560.7h3.3v3.2h-3.3zM520.2 563.9h3.3v3.2h-3.3zM540 563.9h3.3v3.2h-3.3zM546.6 563.9h3.3v3.2h-3.3zM652.2 563.9h3.3v3.2h-3.3zM658.8 563.9h3.3v3.2h-3.3zM668.7 563.9h3.3v3.2h-3.3zM675.3 563.9h3.3v3.2h-3.3zM500.4 567.1h3.3v3.2h-3.3zM520.2 567.1h6.6v3.2h-6.6zM530.1 567.1h3.3v3.2h-3.3zM540 567.1h13.2v3.2h-13.2zM648.9 567.1h3.3v3.2h-3.3zM658.8 567.1h6.6v3.2h-6.6zM678.6 567.1h2.1v3.2h-2.1zM503.7 570.3h6.6v3.2h-6.6zM516.9 570.3h3.3v3.2h-3.3zM530.1 570.3h6.6v3.2h-6.6zM540 570.3h6.6v3.2h-6.6zM549.9 570.3h3.3v3.2h-3.3zM652.2 570.3h3.3v3.2h-3.3zM675.3 570.3h3.3v3.2h-3.3zM507 573.5h3.3v3.2h-3.3zM523.5 573.5h6.6v3.2h-6.6zM533.4 573.5h3.3v3.2h-3.3zM543.3 573.5h3.3v3.2h-3.3zM645.6 573.5h13.2v3.2h-13.2zM662.1 573.5h3.3v3.2h-3.3zM678.6 573.5h2.1v3.2h-2.1zM500.4 576.7h3.3v3.2h-3.3zM510.3 576.7h3.3v3.2h-3.3zM516.9 576.7h3.3v3.2h-3.3zM523.5 576.7h3.3v3.2h-3.3zM533.4 576.7h6.6v3.2h-6.6zM546.6 576.7h3.3v3.2h-3.3zM645.6 576.7h3.3v3.2h-3.3zM658.8 576.7h6.6v3.2h-6.6zM668.7 576.7h3.3v3.2h-3.3zM507 579.9h3.3v3.2h-3.3zM520.2 579.9h3.3v3.2h-3.3zM530.1 579.9h3.3v3.2h-3.3zM540 579.9h3.3v3.2h-3.3zM549.9 579.9h3.3v3.2h-3.3zM652.2 579.9h6.6v3.2h-6.6zM665.4 579.9h3.3v3.2h-3.3zM678.6 579.9h2.1v3.2h-2.1zM507 583.1h3.3v3.2h-3.3zM526.8 583.1h3.3v3.2h-3.3zM536.7 583.1h3.3v3.2h-3.3zM543.3 583.1h3.3v3.2h-3.3zM556.5 583.1h3.3v3.2h-3.3zM648.9 583.1h3.3v3.2h-3.3zM662.1 583.1h3.3v3.2h-3.3zM675.3 583.1h3.3v3.2h-3.3zM520.2 586.3h3.3v3.2h-3.3zM543.3 586.3h13.2v3.2h-13.2zM645.6 586.3h3.3v3.2h-3.3zM665.4 586.3h6.6v3.2h-6.6zM513.6 589.5h3.3v3.2h-3.3zM546.6 589.5h3.3v3.2h-3.3zM655.5 589.5h9.9v3.2h-9.9zM668.7 589.5h3.3v3.2h-3.3zM675.3 589.5h3.3v3.2h-3.3zM497.1 592.7h3.3v3.2h-3.3zM507 592.7h3.3v3.2h-3.3zM520.2 592.7h3.3v3.2h-3.3zM658.8 592.7h3.3v3.2h-3.3zM500.4 595.9h6.6v3.2h-6.6zM516.9 595.9h3.3v3.2h-3.3zM523.5 595.9h6.6v3.2h-6.6zM533.4 595.9h6.6v3.2h-6.6zM559.8 595.9h3.3v3.2h-3.3zM648.9 595.9h3.3v3.2h-3.3zM662.1 595.9h6.6v3.2h-6.6zM672 595.9h3.3v3.2h-3.3zM678.6 595.9h2.1v3.2h-2.1zM520.2 599.1h3.3v3.2h-3.3zM530.1 599.1h3.3v3.2h-3.3zM536.7 599.1h3.3v3.2h-3.3zM579.6 599.1h3.3v3.2h-3.3zM655.5 599.1h3.3v3.2h-3.3zM668.7 599.1h3.3v3.2h-3.3zM507 602.3h6.6v3.2h-6.6zM520.2 602.3h6.6v3.2h-6.6zM536.7 602.3h3.3v3.2h-3.3zM563.1 602.3h3.3v3.2h-3.3zM573 602.3h3.3v3.2h-3.3zM599.4 602.3h3.3v3.2h-3.3zM648.9 602.3h3.3v3.2h-3.3zM668.7 602.3h3.3v3.2h-3.3zM497.1 605.5h3.3v3.2h-3.3zM507 605.5h3.3v3.2h-3.3zM530.1 605.5h3.3v3.2h-3.3zM553.2 605.5h6.6v3.2h-6.6zM589.5 605.5h3.3v3.2h-3.3zM615.9 605.5h3.3v3.2h-3.3zM662.1 605.5h6.6v3.2h-6.6zM672 605.5h6.6v3.2h-6.6zM520.2 608.7h6.6v3.2h-6.6zM533.4 608.7h3.3v3.2h-3.3zM540 608.7h6.6v3.2h-6.6zM549.9 608.7h3.3v3.2h-3.3zM573 608.7h3.3v3.2h-3.3zM589.5 608.7h6.6v3.2h-6.6zM645.6 608.7h3.3v3.2h-3.3zM658.8 608.7h3.3v3.2h-3.3zM665.4 608.7h3.3v3.2h-3.3zM516.9 611.9h3.3v3.2h-3.3zM549.9 611.9h13.2v3.2h-13.2zM586.2 611.9h3.3v3.2h-3.3zM675.3 611.9h3.3v3.2h-3.3zM497.1 615.1h3.3v3.2h-3.3zM516.9 615.1h3.3v3.2h-3.3zM523.5 615.1h3.3v3.2h-3.3zM540 615.1h6.6v3.2h-6.6zM553.2 615.1h3.3v3.2h-3.3zM563.1 615.1h3.3v3.2h-3.3zM576.3 615.1h3.3v3.2h-3.3zM652.2 615.1h3.3v3.2h-3.3zM658.8 615.1h6.6v3.2h-6.6zM500.4 618.3h9.9v3.2h-9.9zM513.6 618.3h3.3v3.2h-3.3zM533.4 618.3h6.6v3.2h-6.6zM569.7 618.3h3.3v3.2h-3.3zM582.9 618.3h3.3v3.2h-3.3zM592.8 618.3h3.3v3.2h-3.3zM642.3 618.3h3.3v3.2h-3.3zM648.9 618.3h3.3v3.2h-3.3zM655.5 618.3h3.3v3.2h-3.3zM672 618.3h3.3v3.2h-3.3zM503.7 621.5h3.3v3.2h-3.3zM536.7 621.5h6.6v3.2h-6.6zM546.6 621.5h3.3v3.2h-3.3zM566.4 621.5h3.3v3.2h-3.3zM576.3 621.5h3.3v3.2h-3.3zM589.5 621.5h3.3v3.2h-3.3zM596.1 621.5h3.3v3.2h-3.3zM642.3 621.5h9.9v3.2h-9.9zM662.1 621.5h6.6v3.2h-6.6zM497.1 624.7h3.3v3.2h-3.3zM503.7 624.7h6.6v3.2h-6.6zM530.1 624.7h3.3v3.2h-3.3zM543.3 624.7h9.9v3.2h-9.9zM573 624.7h3.3v3.2h-3.3zM579.6 624.7h3.3v3.2h-3.3zM586.2 624.7h3.3v3.2h-3.3zM639 624.7h3.3v3.2h-3.3zM652.2 624.7h6.6v3.2h-6.6zM665.4 624.7h3.3v3.2h-3.3zM513.6 627.9h9.9v3.2h-9.9zM533.4 627.9h3.3v3.2h-3.3zM543.3 627.9h3.3v3.2h-3.3zM566.4 627.9h3.3v3.2h-3.3zM573 627.9h3.3v3.2h-3.3zM589.5 627.9h3.3v3.2h-3.3zM645.6 627.9h6.6v3.2h-6.6zM655.5 627.9h3.3v3.2h-3.3zM510.3 631.1h3.3v3.2h-3.3zM536.7 631.1h3.3v3.2h-3.3zM543.3 631.1h6.6v3.2h-6.6zM576.3 631.1h3.3v3.2h-3.3zM648.9 631.1h3.3v3.2h-3.3zM658.8 631.1h3.3v3.2h-3.3zM665.4 631.1h3.3v3.2h-3.3zM678.6 631.1h2.1v3.2h-2.1zM523.5 634.3h3.3v3.2h-3.3zM530.1 634.3h6.6v3.2h-6.6zM540 634.3h3.3v3.2h-3.3zM546.6 634.3h6.6v3.2h-6.6zM579.6 634.3h3.3v3.2h-3.3zM592.8 634.3h3.3v3.2h-3.3zM639 634.3h3.3v3.2h-3.3zM648.9 634.3h3.3v3.2h-3.3zM672 634.3h3.3v3.2h-3.3zM503.7 637.5h3.3v3.2h-3.3zM546.6 637.5h6.6v3.2h-6.6zM569.7 637.5h9.9v3.2h-9.9zM586.2 637.5h3.3v3.2h-3.3zM635.7 637.5h6.6v3.2h-6.6zM652.2 637.5h3.3v3.2h-3.3zM662.1 637.5h3.3v3.2h-3.3zM672 637.5h6.6v3.2h-6.6zM497.1 640.7h3.3v3.2h-3.3zM503.7 640.7h3.3v3.2h-3.3zM510.3 640.7h6.6v3.2h-6.6zM520.2 640.7h3.3v3.2h-3.3zM540 640.7h6.6v3.2h-6.6zM553.2 640.7h3.3v3.2h-3.3zM559.8 640.7h3.3v3.2h-3.3zM566.4 640.7h3.3v3.2h-3.3zM573 640.7h3.3v3.2h-3.3zM632.4 640.7h3.3v3.2h-3.3zM639 640.7h3.3v3.2h-3.3zM648.9 640.7h3.3v3.2h-3.3zM658.8 640.7h6.6v3.2h-6.6zM668.7 640.7h3.3v3.2h-3.3zM675.3 640.7h3.3v3.2h-3.3zM516.9 643.9h3.3v3.2h-3.3zM533.4 643.9h3.3v3.2h-3.3zM563.1 643.9h6.6v3.2h-6.6zM573 643.9h9.9v3.2h-9.9zM625.8 643.9h3.3v3.2h-3.3zM655.5 643.9h3.3v3.2h-3.3zM665.4 643.9h3.3v3.2h-3.3zM675.3 643.9h5.4v3.2h-5.4zM536.7 647.1h6.6v3.2h-6.6zM556.5 647.1h3.3v3.2h-3.3zM563.1 647.1h3.3v3.2h-3.3zM569.7 647.1h3.3v3.2h-3.3zM665.4 647.1h3.3v3.2h-3.3zM675.3 647.1h3.3v3.2h-3.3zM497.1 650.3h6.6v3.2h-6.6zM507 650.3h3.3v3.2h-3.3zM513.6 650.3h9.9v3.2h-9.9zM530.1 650.3h9.9v3.2h-9.9zM543.3 650.3h3.3v3.2h-3.3zM553.2 650.3h3.3v3.2h-3.3zM563.1 650.3h6.6v3.2h-6.6zM573 650.3h9.9v3.2h-9.9zM622.5 650.3h9.9v3.2h-9.9zM668.7 650.3h3.3v3.2h-3.3zM510.3 653.5h3.3v3.2h-3.3zM523.5 653.5h3.3v3.2h-3.3zM530.1 653.5h6.6v3.2h-6.6zM549.9 653.5h3.3v3.2h-3.3zM556.5 653.5h3.3v3.2h-3.3zM566.4 653.5h3.3v3.2h-3.3zM573 653.5h16.5v3.2h-16.5zM632.4 653.5h3.3v3.2h-3.3zM655.5 653.5h6.6v3.2h-6.6zM665.4 653.5h6.6v3.2h-6.6zM675.3 653.5h3.3v3.2h-3.3zM507 656.7h3.3v3.2h-3.3zM530.1 656.7h3.3v3.2h-3.3zM543.3 656.7h3.3v3.2h-3.3zM569.7 656.7h3.3v3.2h-3.3zM582.9 656.7h3.3v3.2h-3.3zM675.3 656.7h3.3v3.2h-3.3zM507 659.9h3.3v3.2h-3.3zM516.9 659.9h3.3v3.2h-3.3zM526.8 659.9h3.3v3.2h-3.3zM543.3 659.9h3.3v3.2h-3.3zM549.9 659.9h6.6v3.2h-6.6zM559.8 659.9h3.3v3.2h-3.3zM576.3 659.9h6.6v3.2h-6.6zM652.2 659.9h3.3v3.2h-3.3zM668.7 659.9h3.3v3.2h-3.3zM678.6 659.9h2.1v3.2h-2.1zM510.3 663.1h3.3v1.1h-3.3zM516.9 663.1h3.3v1.1h-3.3zM533.4 663.1h3.3v1.1h-3.3zM563.1 663.1h3.3v1.1h-3.3zM573 663.1h3.3v1.1h-3.3zM579.6 663.1h3.3v1.1h-3.3zM632.4 663.1h3.3v1.1h-3.3zM652.2 663.1h3.3v1.1h-3.3zM662.1 663.1h6.6v1.1h-6.6z"/>
<path fill="#00f99a" d="M576.3 419.9h3.3v3.2h-3.3zM625.8 423.1h3.3v3.2h-3.3zM579.6 429.5h3.3v3.2h-3.3zM622.5 432.7h3.3v3.2h-3.3zM573 435.9h3.3v3.2h-3.3zM579.6 435.9h3.3v3.2h-3.3zM586.2 435.9h3.3v3.2h-3.3zM596.1 435.9h3.3v3.2h-3.3zM606 435.9h3.3v3.2h-3.3zM615.9 435.9h3.3v3.2h-3.3zM622.5 435.9h3.3v3.2h-3.3zM569.7 439.1h3.3v3.2h-3.3zM576.3 439.1h6.6v3.2h-6.6zM592.8 439.1h3.3v3.2h-3.3zM606 439.1h3.3v3.2h-3.3zM615.9 439.1h3.3v3.2h-3.3zM559.8 442.3h3.3v3.2h-3.3zM549.9 445.5h3.3v3.2h-3.3zM546.6 448.7h3.3v3.2h-3.3zM619.2 448.7h3.3v3.2h-3.3zM622.5 451.9h3.3v3.2h-3.3zM625.8 455.1h3.3v3.2h-3.3zM619.2 458.3h3.3v3.2h-3.3zM543.3 467.9h3.3v3.2h-3.3zM619.2 474.3h3.3v3.2h-3.3zM549.9 499.9h3.3v3.2h-3.3zM549.9 503.1h3.3v3.2h-3.3zM553.2 506.3h3.3v3.2h-3.3zM645.6 509.5h6.6v3.2h-6.6zM632.4 515.9h3.3v3.2h-3.3zM642.3 515.9h6.6v3.2h-6.6zM566.4 531.9h3.3v3.2h-3.3zM652.2 531.9h3.3v3.2h-3.3zM563.1 535.1h3.3v3.2h-3.3zM569.7 535.1h3.3v3.2h-3.3zM648.9 535.1h3.3v3.2h-3.3zM606 538.3h3.3v3.2h-3.3zM559.8 541.5h3.3v3.2h-3.3zM642.3 541.5h3.3v3.2h-3.3zM665.4 557.5h3.3v3.2h-3.3zM553.2 567.1h3.3v3.2h-3.3zM553.2 570.3h3.3v3.2h-3.3zM645.6 570.3h3.3v3.2h-3.3zM559.8 573.5h3.3v3.2h-3.3zM553.2 576.7h3.3v3.2h-3.3zM559.8 576.7h3.3v3.2h-3.3zM642.3 576.7h3.3v3.2h-3.3zM642.3 583.1h3.3v3.2h-3.3zM569.7 589.5h3.3v3.2h-3.3zM645.6 589.5h3.3v3.2h-3.3zM573 595.9h3.3v3.2h-3.3zM589.5 599.1h3.3v3.2h-3.3zM599.4 599.1h3.3v3.2h-3.3zM592.8 602.3h3.3v3.2h-3.3zM642.3 602.3h3.3v3.2h-3.3zM569.7 605.5h3.3v3.2h-3.3zM592.8 605.5h3.3v3.2h-3.3zM599.4 605.5h6.6v3.2h-6.6zM642.3 605.5h3.3v3.2h-3.3zM576.3 611.9h3.3v3.2h-3.3zM596.1 611.9h3.3v3.2h-3.3zM569.7 615.1h3.3v3.2h-3.3zM599.4 615.1h3.3v3.2h-3.3zM596.1 618.3h3.3v3.2h-3.3zM639 618.3h3.3v3.2h-3.3zM639 621.5h3.3v3.2h-3.3zM589.5 624.7h3.3v3.2h-3.3zM596.1 624.7h3.3v3.2h-3.3zM635.7 624.7h3.3v3.2h-3.3zM596.1 627.9h3.3v3.2h-3.3zM612.6 627.9h3.3v3.2h-3.3zM629.1 634.3h3.3v3.2h-3.3zM589.5 643.9h3.3v3.2h-3.3zM622.5 647.1h3.3v3.2h-3.3zM586.2 656.7h3.3v3.2h-3.3z"/>
<path fill="#00fa8f" d="M579.6 419.9h3.3v3.2h-3.3zM599.4 419.9h3.3v3.2h-3.3zM619.2 419.9h3.3v3.2h-3.3zM582.9 423.1h6.6v3.2h-6.6zM586.2 426.3h6.6v3.2h-6.6zM619.2 426.3h3.3v3.2h-3.3zM648.9 426.3h3.3v3.2h-3.3zM586.2 429.5h3.3v3.2h-3.3zM599.4 429.5h3.3v3.2h-3.3zM609.3 429.5h3.3v3.2h-3.3zM622.5 429.5h3.3v3.2h-3.3zM569.7 432.7h3.3v3.2h-3.3zM592.8 432.7h3.3v3.2h-3.3zM599.4 432.7h6.6v3.2h-6.6zM615.9 432.7h3.3v3.2h-3.3zM625.8 432.7h3.3v3.2h-3.3zM632.4 432.7h3.3v3.2h-3.3zM655.5 432.7h3.3v3.2h-3.3zM569.7 435.9h3.3v3.2h-3.3zM576.3 435.9h3.3v3.2h-3.3zM589.5 435.9h3.3v3.2h-3.3zM609.3 435.9h6.6v3.2h-6.6zM559.8 439.1h3.3v3.2h-3.3zM622.5 439.1h6.6v3.2h-6.6zM619.2 442.3h3.3v3.2h-3.3zM549.9 448.7h3.3v3.2h-3.3zM629.1 451.9h3.3v3.2h-3.3zM629.1 455.1h3.3v3.2h-3.3zM543.3 458.3h3.3v3.2h-3.3zM543.3 461.5h3.3v3.2h-3.3zM540 464.7h3.3v3.2h-3.3zM546.6 471.1h3.3v3.2h-3.3zM543.3 474.3h3.3v3.2h-3.3zM668.7 474.3h3.3v3.2h-3.3zM543.3 477.5h3.3v3.2h-3.3zM520.2 487.1h3.3v3.2h-3.3zM543.3 487.1h3.3v3.2h-3.3zM615.9 490.3h3.3v3.2h-3.3zM546.6 493.5h3.3v3.2h-3.3zM546.6 496.7h9.9v3.2h-9.9zM652.2 496.7h3.3v3.2h-3.3zM675.3 499.9h3.3v3.2h-3.3zM609.3 503.1h3.3v3.2h-3.3zM549.9 506.3h3.3v3.2h-3.3zM556.5 512.7h3.3v3.2h-3.3zM639 512.7h3.3v3.2h-3.3zM645.6 512.7h3.3v3.2h-3.3zM549.9 515.9h9.9v3.2h-9.9zM648.9 519.1h3.3v3.2h-3.3zM559.8 525.5h3.3v3.2h-3.3zM622.5 525.5h3.3v3.2h-3.3zM530.1 528.7h3.3v3.2h-3.3zM566.4 528.7h3.3v3.2h-3.3zM596.1 528.7h3.3v3.2h-3.3zM553.2 531.9h3.3v3.2h-3.3zM655.5 531.9h3.3v3.2h-3.3zM559.8 538.3h3.3v3.2h-3.3zM648.9 538.3h3.3v3.2h-3.3zM546.6 541.5h3.3v3.2h-3.3zM652.2 541.5h3.3v3.2h-3.3zM549.9 544.7h3.3v3.2h-3.3zM556.5 544.7h3.3v3.2h-3.3zM655.5 544.7h3.3v3.2h-3.3zM648.9 551.1h3.3v3.2h-3.3zM553.2 554.3h3.3v3.2h-3.3zM645.6 560.7h6.6v3.2h-6.6zM553.2 563.9h3.3v3.2h-3.3zM655.5 563.9h3.3v3.2h-3.3zM658.8 570.3h3.3v3.2h-3.3zM553.2 573.5h3.3v3.2h-3.3zM549.9 576.7h3.3v3.2h-3.3zM556.5 576.7h3.3v3.2h-3.3zM655.5 576.7h3.3v3.2h-3.3zM645.6 579.9h3.3v3.2h-3.3zM645.6 583.1h3.3v3.2h-3.3zM648.9 586.3h3.3v3.2h-3.3zM642.3 589.5h3.3v3.2h-3.3zM566.4 592.7h3.3v3.2h-3.3zM642.3 592.7h6.6v3.2h-6.6zM655.5 592.7h3.3v3.2h-3.3zM576.3 595.9h6.6v3.2h-6.6zM642.3 595.9h6.6v3.2h-6.6zM652.2 595.9h3.3v3.2h-3.3zM566.4 599.1h3.3v3.2h-3.3zM573 599.1h3.3v3.2h-3.3zM582.9 599.1h3.3v3.2h-3.3zM596.1 599.1h3.3v3.2h-3.3zM602.7 599.1h3.3v3.2h-3.3zM639 599.1h3.3v3.2h-3.3zM648.9 599.1h3.3v3.2h-3.3zM576.3 602.3h3.3v3.2h-3.3zM582.9 602.3h3.3v3.2h-3.3zM596.1 602.3h3.3v3.2h-3.3zM573 605.5h3.3v3.2h-3.3zM586.2 605.5h3.3v3.2h-3.3zM596.1 605.5h3.3v3.2h-3.3zM655.5 605.5h3.3v3.2h-3.3zM566.4 608.7h6.6v3.2h-6.6zM576.3 608.7h3.3v3.2h-3.3zM586.2 608.7h3.3v3.2h-3.3zM599.4 608.7h3.3v3.2h-3.3zM563.1 611.9h3.3v3.2h-3.3zM573 611.9h3.3v3.2h-3.3zM589.5 611.9h3.3v3.2h-3.3zM658.8 611.9h3.3v3.2h-3.3zM582.9 615.1h3.3v3.2h-3.3zM589.5 615.1h3.3v3.2h-3.3zM639 615.1h3.3v3.2h-3.3zM589.5 618.3h3.3v3.2h-3.3zM573 621.5h3.3v3.2h-3.3zM592.8 621.5h3.3v3.2h-3.3zM582.9 624.7h3.3v3.2h-3.3zM645.6 624.7h3.3v3.2h-3.3zM576.3 627.9h3.3v3.2h-3.3zM629.1 627.9h3.3v3.2h-3.3zM635.7 627.9h3.3v3.2h-3.3zM589.5 631.1h3.3v3.2h-3.3zM596.1 631.1h3.3v3.2h-3.3zM632.4 631.1h3.3v3.2h-3.3zM540 637.5h3.3v3.2h-3.3zM632.4 637.5h3.3v3.2h-3.3zM589.5 640.7h3.3v3.2h-3.3zM589.5 650.3h3.3v3.2h-3.3zM625.8 653.5h3.3v3.2h-3.3zM629.1 659.9h3.3v3.2h-3.3zM625.8 663.1h3.3v1.1h-3.3z"/>
<path fill="#00fc84" d="M586.2 419.9h3.3v3.2h-3.3zM602.7 419.9h3.3v3.2h-3.3zM615.9 419.9h3.3v3.2h-3.3zM629.1 419.9h6.6v3.2h-6.6zM639 419.9h3.3v3.2h-3.3zM536.7 423.1h3.3v3.2h-3.3zM566.4 423.1h3.3v3.2h-3.3zM596.1 423.1h6.6v3.2h-6.6zM615.9 423.1h6.6v3.2h-6.6zM635.7 423.1h3.3v3.2h-3.3zM665.4 423.1h3.3v3.2h-3.3zM530.1 426.3h3.3v3.2h-3.3zM573 426.3h3.3v3.2h-3.3zM579.6 426.3h3.3v3.2h-3.3zM596.1 426.3h6.6v3.2h-6.6zM606 426.3h6.6v3.2h-6.6zM625.8 426.3h9.9v3.2h-9.9zM642.3 426.3h3.3v3.2h-3.3zM553.2 429.5h3.3v3.2h-3.3zM563.1 429.5h3.3v3.2h-3.3zM592.8 429.5h3.3v3.2h-3.3zM615.9 429.5h6.6v3.2h-6.6zM629.1 429.5h3.3v3.2h-3.3zM639 429.5h3.3v3.2h-3.3zM652.2 429.5h3.3v3.2h-3.3zM526.8 432.7h3.3v3.2h-3.3zM559.8 432.7h3.3v3.2h-3.3zM566.4 432.7h3.3v3.2h-3.3zM576.3 432.7h3.3v3.2h-3.3zM582.9 432.7h9.9v3.2h-9.9zM606 432.7h3.3v3.2h-3.3zM612.6 432.7h3.3v3.2h-3.3zM645.6 432.7h3.3v3.2h-3.3zM675.3 432.7h3.3v3.2h-3.3zM559.8 435.9h9.9v3.2h-9.9zM592.8 435.9h3.3v3.2h-3.3zM599.4 435.9h3.3v3.2h-3.3zM619.2 435.9h3.3v3.2h-3.3zM632.4 435.9h6.6v3.2h-6.6zM645.6 435.9h3.3v3.2h-3.3zM503.7 439.1h3.3v3.2h-3.3zM546.6 439.1h3.3v3.2h-3.3zM563.1 439.1h3.3v3.2h-3.3zM635.7 439.1h3.3v3.2h-3.3zM536.7 442.3h3.3v3.2h-3.3zM625.8 442.3h3.3v3.2h-3.3zM615.9 445.5h3.3v3.2h-3.3zM629.1 445.5h9.9v3.2h-9.9zM629.1 448.7h3.3v3.2h-3.3zM526.8 451.9h3.3v3.2h-3.3zM543.3 455.1h3.3v3.2h-3.3zM675.3 455.1h3.3v3.2h-3.3zM533.4 461.5h3.3v3.2h-3.3zM540 461.5h3.3v3.2h-3.3zM625.8 464.7h3.3v3.2h-3.3zM526.8 467.9h3.3v3.2h-3.3zM500.4 471.1h3.3v3.2h-3.3zM526.8 471.1h3.3v3.2h-3.3zM533.4 471.1h3.3v3.2h-3.3zM675.3 471.1h3.3v3.2h-3.3zM540 474.3h3.3v3.2h-3.3zM513.6 477.5h3.3v3.2h-3.3zM520.2 477.5h3.3v3.2h-3.3zM668.7 477.5h3.3v3.2h-3.3zM675.3 477.5h3.3v3.2h-3.3zM662.1 483.9h3.3v3.2h-3.3zM668.7 483.9h3.3v3.2h-3.3zM513.6 487.1h3.3v3.2h-3.3zM543.3 490.3h3.3v3.2h-3.3zM658.8 490.3h6.6v3.2h-6.6zM668.7 490.3h6.6v3.2h-6.6zM520.2 493.5h3.3v3.2h-3.3zM652.2 493.5h6.6v3.2h-6.6zM655.5 496.7h6.6v3.2h-6.6zM665.4 496.7h6.6v3.2h-6.6zM507 499.9h3.3v3.2h-3.3zM530.1 499.9h3.3v3.2h-3.3zM546.6 499.9h3.3v3.2h-3.3zM648.9 499.9h6.6v3.2h-6.6zM665.4 499.9h3.3v3.2h-3.3zM530.1 503.1h3.3v3.2h-3.3zM658.8 503.1h3.3v3.2h-3.3zM546.6 506.3h3.3v3.2h-3.3zM648.9 506.3h3.3v3.2h-3.3zM662.1 506.3h3.3v3.2h-3.3zM507 509.5h3.3v3.2h-3.3zM533.4 509.5h3.3v3.2h-3.3zM642.3 509.5h3.3v3.2h-3.3zM655.5 509.5h3.3v3.2h-3.3zM543.3 512.7h3.3v3.2h-3.3zM549.9 512.7h6.6v3.2h-6.6zM635.7 512.7h3.3v3.2h-3.3zM648.9 512.7h3.3v3.2h-3.3zM526.8 515.9h3.3v3.2h-3.3zM559.8 515.9h3.3v3.2h-3.3zM648.9 515.9h3.3v3.2h-3.3zM658.8 515.9h3.3v3.2h-3.3zM546.6 519.1h3.3v3.2h-3.3zM559.8 519.1h3.3v3.2h-3.3zM645.6 519.1h3.3v3.2h-3.3zM549.9 522.3h3.3v3.2h-3.3zM556.5 522.3h3.3v3.2h-3.3zM566.4 522.3h3.3v3.2h-3.3zM652.2 522.3h3.3v3.2h-3.3zM665.4 522.3h3.3v3.2h-3.3zM540 525.5h3.3v3.2h-3.3zM563.1 525.5h3.3v3.2h-3.3zM596.1 525.5h3.3v3.2h-3.3zM658.8 525.5h3.3v3.2h-3.3zM540 528.7h3.3v3.2h-3.3zM546.6 528.7h3.3v3.2h-3.3zM553.2 528.7h3.3v3.2h-3.3zM652.2 528.7h6.6v3.2h-6.6zM563.1 531.9h3.3v3.2h-3.3zM615.9 531.9h3.3v3.2h-3.3zM662.1 531.9h3.3v3.2h-3.3zM556.5 535.1h3.3v3.2h-3.3zM652.2 535.1h3.3v3.2h-3.3zM672 535.1h3.3v3.2h-3.3zM543.3 538.3h3.3v3.2h-3.3zM549.9 538.3h3.3v3.2h-3.3zM556.5 538.3h3.3v3.2h-3.3zM672 538.3h3.3v3.2h-3.3zM556.5 541.5h3.3v3.2h-3.3zM645.6 541.5h6.6v3.2h-6.6zM655.5 541.5h3.3v3.2h-3.3zM678.6 541.5h2.1v3.2h-2.1zM553.2 544.7h3.3v3.2h-3.3zM648.9 544.7h3.3v3.2h-3.3zM549.9 547.9h3.3v3.2h-3.3zM520.2 551.1h6.6v3.2h-6.6zM549.9 551.1h3.3v3.2h-3.3zM652.2 551.1h9.9v3.2h-9.9zM516.9 554.3h3.3v3.2h-3.3zM530.1 554.3h3.3v3.2h-3.3zM652.2 554.3h3.3v3.2h-3.3zM668.7 554.3h3.3v3.2h-3.3zM546.6 557.5h6.6v3.2h-6.6zM648.9 557.5h6.6v3.2h-6.6zM658.8 557.5h3.3v3.2h-3.3zM672 557.5h3.3v3.2h-3.3zM652.2 560.7h3.3v3.2h-3.3zM536.7 563.9h3.3v3.2h-3.3zM648.9 563.9h3.3v3.2h-3.3zM652.2 567.1h3.3v3.2h-3.3zM648.9 570.3h3.3v3.2h-3.3zM655.5 570.3h3.3v3.2h-3.3zM668.7 570.3h3.3v3.2h-3.3zM648.9 576.7h6.6v3.2h-6.6zM543.3 579.9h3.3v3.2h-3.3zM553.2 579.9h6.6v3.2h-6.6zM675.3 579.9h3.3v3.2h-3.3zM513.6 583.1h3.3v3.2h-3.3zM533.4 583.1h3.3v3.2h-3.3zM553.2 583.1h3.3v3.2h-3.3zM652.2 583.1h3.3v3.2h-3.3zM642.3 586.3h3.3v3.2h-3.3zM652.2 586.3h3.3v3.2h-3.3zM658.8 586.3h3.3v3.2h-3.3zM497.1 589.5h3.3v3.2h-3.3zM559.8 589.5h6.6v3.2h-6.6zM648.9 589.5h3.3v3.2h-3.3zM665.4 589.5h3.3v3.2h-3.3zM500.4 592.7h3.3v3.2h-3.3zM563.1 592.7h3.3v3.2h-3.3zM569.7 592.7h3.3v3.2h-3.3zM648.9 592.7h3.3v3.2h-3.3zM566.4 595.9h6.6v3.2h-6.6zM569.7 599.1h3.3v3.2h-3.3zM576.3 599.1h3.3v3.2h-3.3zM586.2 599.1h3.3v3.2h-3.3zM645.6 599.1h3.3v3.2h-3.3zM652.2 599.1h3.3v3.2h-3.3zM662.1 599.1h3.3v3.2h-3.3zM579.6 602.3h3.3v3.2h-3.3zM589.5 602.3h3.3v3.2h-3.3zM645.6 602.3h3.3v3.2h-3.3zM658.8 602.3h3.3v3.2h-3.3zM533.4 605.5h3.3v3.2h-3.3zM566.4 605.5h3.3v3.2h-3.3zM576.3 605.5h9.9v3.2h-9.9zM645.6 605.5h3.3v3.2h-3.3zM579.6 608.7h6.6v3.2h-6.6zM596.1 608.7h3.3v3.2h-3.3zM642.3 608.7h3.3v3.2h-3.3zM520.2 611.9h3.3v3.2h-3.3zM536.7 611.9h3.3v3.2h-3.3zM566.4 611.9h3.3v3.2h-3.3zM579.6 611.9h6.6v3.2h-6.6zM592.8 611.9h3.3v3.2h-3.3zM642.3 611.9h3.3v3.2h-3.3zM652.2 611.9h6.6v3.2h-6.6zM556.5 615.1h3.3v3.2h-3.3zM566.4 615.1h3.3v3.2h-3.3zM579.6 615.1h3.3v3.2h-3.3zM586.2 615.1h3.3v3.2h-3.3zM642.3 615.1h9.9v3.2h-9.9zM655.5 615.1h3.3v3.2h-3.3zM510.3 618.3h3.3v3.2h-3.3zM549.9 618.3h3.3v3.2h-3.3zM573 618.3h3.3v3.2h-3.3zM579.6 618.3h3.3v3.2h-3.3zM645.6 618.3h3.3v3.2h-3.3zM658.8 618.3h3.3v3.2h-3.3zM675.3 618.3h3.3v3.2h-3.3zM513.6 621.5h3.3v3.2h-3.3zM579.6 621.5h6.6v3.2h-6.6zM675.3 621.5h3.3v3.2h-3.3zM500.4 624.7h3.3v3.2h-3.3zM576.3 624.7h3.3v3.2h-3.3zM662.1 624.7h3.3v3.2h-3.3zM569.7 627.9h3.3v3.2h-3.3zM582.9 627.9h6.6v3.2h-6.6zM642.3 627.9h3.3v3.2h-3.3zM662.1 627.9h3.3v3.2h-3.3zM573 631.1h3.3v3.2h-3.3zM579.6 631.1h9.9v3.2h-9.9zM592.8 631.1h3.3v3.2h-3.3zM635.7 631.1h3.3v3.2h-3.3zM642.3 631.1h3.3v3.2h-3.3zM652.2 631.1h3.3v3.2h-3.3zM582.9 634.3h9.9v3.2h-9.9zM635.7 634.3h3.3v3.2h-3.3zM642.3 634.3h6.6v3.2h-6.6zM658.8 634.3h3.3v3.2h-3.3zM533.4 637.5h3.3v3.2h-3.3zM582.9 637.5h3.3v3.2h-3.3zM592.8 637.5h3.3v3.2h-3.3zM629.1 637.5h3.3v3.2h-3.3zM648.9 637.5h3.3v3.2h-3.3zM658.8 637.5h3.3v3.2h-3.3zM668.7 637.5h3.3v3.2h-3.3zM586.2 640.7h3.3v3.2h-3.3zM513.6 643.9h3.3v3.2h-3.3zM523.5 643.9h3.3v3.2h-3.3zM536.7 643.9h6.6v3.2h-6.6zM569.7 643.9h3.3v3.2h-3.3zM586.2 643.9h3.3v3.2h-3.3zM622.5 643.9h3.3v3.2h-3.3zM662.1 643.9h3.3v3.2h-3.3zM668.7 643.9h3.3v3.2h-3.3zM520.2 647.1h3.3v3.2h-3.3zM533.4 647.1h3.3v3.2h-3.3zM559.8 647.1h3.3v3.2h-3.3zM573 647.1h3.3v3.2h-3.3zM589.5 647.1h3.3v3.2h-3.3zM586.2 650.3h3.3v3.2h-3.3zM497.1 653.5h3.3v3.2h-3.3zM546.6 653.5h3.3v3.2h-3.3zM662.1 653.5h3.3v3.2h-3.3zM579.6 656.7h3.3v3.2h-3.3zM586.2 659.9h6.6v3.2h-6.6zM625.8 659.9h3.3v3.2h-3.3zM662.1 659.9h3.3v3.2h-3.3zM576.3 663.1h3.3v1.1h-3.3zM582.9 663.1h6.6v1.1h-6.6zM655.5 663.1h3.3v1.1h-3.3z"/>
<path fill="#1ffd59" d="M536.7 426.3h3.3v3.2h-3.3zM675.3 426.3h3.3v3.2h-3.3zM546.6 429.5h3.3v3.2h-3.3zM533.4 442.3h3.3v3.2h-3.3zM662.1 442.3h3.3v3.2h-3.3zM500.4 445.5h3.3v3.2h-3.3zM526.8 445.5h3.3v3.2h-3.3zM672 445.5h3.3v3.2h-3.3zM520.2 451.9h3.3v3.2h-3.3zM533.4 451.9h3.3v3.2h-3.3zM533.4 455.1h3.3v3.2h-3.3zM625.8 467.9h3.3v3.2h-3.3zM665.4 467.9h3.3v3.2h-3.3zM675.3 467.9h3.3v3.2h-3.3zM625.8 471.1h3.3v3.2h-3.3zM665.4 471.1h3.3v3.2h-3.3zM513.6 474.3h3.3v3.2h-3.3zM662.1 474.3h3.3v3.2h-3.3zM536.7 477.5h3.3v3.2h-3.3zM500.4 480.7h3.3v3.2h-3.3zM510.3 487.1h3.3v3.2h-3.3zM530.1 487.1h3.3v3.2h-3.3zM655.5 487.1h3.3v3.2h-3.3zM672 487.1h3.3v3.2h-3.3zM652.2 490.3h3.3v3.2h-3.3zM675.3 496.7h3.3v3.2h-3.3zM503.7 499.9h3.3v3.2h-3.3zM497.1 503.1h3.3v3.2h-3.3zM642.3 503.1h3.3v3.2h-3.3zM652.2 503.1h3.3v3.2h-3.3zM668.7 503.1h3.3v3.2h-3.3zM668.7 506.3h3.3v3.2h-3.3zM520.2 512.7h3.3v3.2h-3.3zM510.3 515.9h3.3v3.2h-3.3zM625.8 519.1h3.3v3.2h-3.3zM513.6 525.5h3.3v3.2h-3.3zM668.7 528.7h3.3v3.2h-3.3zM523.5 531.9h3.3v3.2h-3.3zM596.1 531.9h3.3v3.2h-3.3zM513.6 563.9h3.3v3.2h-3.3zM526.8 563.9h3.3v3.2h-3.3zM497.1 567.1h3.3v3.2h-3.3zM546.6 570.3h3.3v3.2h-3.3zM510.3 586.3h3.3v3.2h-3.3zM549.9 589.5h9.9v3.2h-9.9zM678.6 589.5h2.1v3.2h-2.1zM672 592.7h3.3v3.2h-3.3zM507 595.9h3.3v3.2h-3.3zM503.7 599.1h3.3v3.2h-3.3zM523.5 599.1h3.3v3.2h-3.3zM549.9 599.1h3.3v3.2h-3.3zM549.9 602.3h6.6v3.2h-6.6zM678.6 605.5h2.1v3.2h-2.1zM553.2 608.7h3.3v3.2h-3.3zM668.7 608.7h9.9v3.2h-9.9zM497.1 611.9h3.3v3.2h-3.3zM536.7 615.1h3.3v3.2h-3.3zM559.8 615.1h3.3v3.2h-3.3zM576.3 618.3h3.3v3.2h-3.3zM563.1 621.5h3.3v3.2h-3.3zM553.2 624.7h3.3v3.2h-3.3zM559.8 624.7h6.6v3.2h-6.6zM553.2 627.9h3.3v3.2h-3.3zM526.8 631.1h3.3v3.2h-3.3zM553.2 631.1h3.3v3.2h-3.3zM579.6 637.5h3.3v3.2h-3.3zM655.5 637.5h3.3v3.2h-3.3zM632.4 643.9h3.3v3.2h-3.3zM645.6 643.9h3.3v3.2h-3.3zM530.1 647.1h3.3v3.2h-3.3zM582.9 647.1h3.3v3.2h-3.3zM642.3 647.1h6.6v3.2h-6.6zM655.5 647.1h3.3v3.2h-3.3zM546.6 650.3h6.6v3.2h-6.6zM648.9 650.3h3.3v3.2h-3.3zM520.2 653.5h3.3v3.2h-3.3zM629.1 653.5h3.3v3.2h-3.3zM516.9 656.7h3.3v3.2h-3.3zM632.4 656.7h6.6v3.2h-6.6zM645.6 656.7h6.6v3.2h-6.6zM563.1 659.9h3.3v3.2h-3.3zM635.7 659.9h6.6v3.2h-6.6zM648.9 659.9h3.3v3.2h-3.3zM675.3 659.9h3.3v3.2h-3.3zM639 663.1h3.3v1.1h-3.3z"/>
<path fill="#2ffc4f" d="M658.8 432.7h3.3v3.2h-3.3zM642.3 442.3h3.3v3.2h-3.3zM658.8 442.3h3.3v3.2h-3.3zM639 445.5h3.3v3.2h-3.3zM668.7 455.1h3.3v3.2h-3.3zM665.4 461.5h3.3v3.2h-3.3zM665.4 464.7h3.3v3.2h-3.3zM622.5 477.5h3.3v3.2h-3.3zM615.9 493.5h3.3v3.2h-3.3zM648.9 493.5h3.3v3.2h-3.3zM523.5 499.9h3.3v3.2h-3.3zM612.6 499.9h3.3v3.2h-3.3zM632.4 512.7h3.3v3.2h-3.3zM629.1 515.9h3.3v3.2h-3.3zM602.7 519.1h3.3v3.2h-3.3zM599.4 525.5h3.3v3.2h-3.3zM612.6 531.9h3.3v3.2h-3.3zM500.4 535.1h3.3v3.2h-3.3zM520.2 589.5h3.3v3.2h-3.3zM553.2 592.7h6.6v3.2h-6.6zM546.6 595.9h3.3v3.2h-3.3zM556.5 595.9h3.3v3.2h-3.3zM556.5 599.1h3.3v3.2h-3.3zM507 611.9h3.3v3.2h-3.3zM556.5 621.5h3.3v3.2h-3.3zM526.8 627.9h3.3v3.2h-3.3zM556.5 627.9h9.9v3.2h-9.9zM629.1 647.1h3.3v3.2h-3.3zM639 647.1h3.3v3.2h-3.3zM632.4 650.3h3.3v3.2h-3.3zM639 650.3h3.3v3.2h-3.3zM645.6 650.3h3.3v3.2h-3.3zM639 653.5h3.3v3.2h-3.3z"/>
<path fill="#00f8a6" d="M602.7 435.9h3.3v3.2h-3.3zM596.1 439.1h3.3v3.2h-3.3zM602.7 439.1h3.3v3.2h-3.3zM553.2 442.3h3.3v3.2h-3.3zM615.9 442.3h3.3v3.2h-3.3zM553.2 445.5h3.3v3.2h-3.3zM619.2 445.5h3.3v3.2h-3.3zM622.5 448.7h3.3v3.2h-3.3zM619.2 451.9h3.3v3.2h-3.3zM625.8 451.9h3.3v3.2h-3.3zM622.5 461.5h3.3v3.2h-3.3zM622.5 467.9h3.3v3.2h-3.3zM543.3 471.1h3.3v3.2h-3.3zM622.5 471.1h3.3v3.2h-3.3zM546.6 477.5h3.3v3.2h-3.3zM546.6 483.9h3.3v3.2h-3.3zM546.6 487.1h3.3v3.2h-3.3zM546.6 490.3h3.3v3.2h-3.3zM612.6 496.7h3.3v3.2h-3.3zM556.5 506.3h3.3v3.2h-3.3zM606 506.3h3.3v3.2h-3.3zM556.5 509.5h3.3v3.2h-3.3zM559.8 512.7h6.6v3.2h-6.6zM642.3 512.7h3.3v3.2h-3.3zM563.1 519.1h3.3v3.2h-3.3zM599.4 519.1h3.3v3.2h-3.3zM648.9 522.3h3.3v3.2h-3.3zM566.4 525.5h6.6v3.2h-6.6zM569.7 528.7h3.3v3.2h-3.3zM592.8 528.7h3.3v3.2h-3.3zM576.3 531.9h3.3v3.2h-3.3zM619.2 531.9h3.3v3.2h-3.3zM553.2 547.9h3.3v3.2h-3.3zM553.2 551.1h3.3v3.2h-3.3zM553.2 557.5h3.3v3.2h-3.3zM645.6 557.5h3.3v3.2h-3.3zM642.3 563.9h6.6v3.2h-6.6zM556.5 573.5h3.3v3.2h-3.3zM559.8 583.1h3.3v3.2h-3.3zM639 583.1h3.3v3.2h-3.3zM559.8 586.3h6.6v3.2h-6.6zM635.7 586.3h6.6v3.2h-6.6zM566.4 589.5h3.3v3.2h-3.3zM639 589.5h3.3v3.2h-3.3zM592.8 592.7h3.3v3.2h-3.3zM582.9 595.9h3.3v3.2h-3.3zM622.5 595.9h3.3v3.2h-3.3zM592.8 599.1h3.3v3.2h-3.3zM639 605.5h3.3v3.2h-3.3zM639 608.7h3.3v3.2h-3.3zM639 611.9h3.3v3.2h-3.3zM592.8 615.1h3.3v3.2h-3.3zM599.4 618.3h3.3v3.2h-3.3zM635.7 621.5h3.3v3.2h-3.3zM632.4 634.3h3.3v3.2h-3.3zM599.4 637.5h3.3v3.2h-3.3zM612.6 640.7h3.3v3.2h-3.3zM589.5 653.5h3.3v3.2h-3.3zM609.3 653.5h3.3v3.2h-3.3zM589.5 656.7h3.3v3.2h-3.3zM622.5 656.7h3.3v3.2h-3.3zM592.8 659.9h3.3v3.2h-3.3zM622.5 659.9h3.3v3.2h-3.3zM622.5 663.1h3.3v1.1h-3.3z"/>
<path fill="#00f6b1" d="M566.4 439.1h3.3v3.2h-3.3zM573 439.1h3.3v3.2h-3.3zM573 442.3h3.3v3.2h-3.3zM609.3 442.3h3.3v3.2h-3.3zM563.1 448.7h3.3v3.2h-3.3zM546.6 451.9h3.3v3.2h-3.3zM622.5 455.1h3.3v3.2h-3.3zM546.6 458.3h6.6v3.2h-6.6zM546.6 467.9h3.3v3.2h-3.3zM546.6 480.7h3.3v3.2h-3.3zM619.2 480.7h3.3v3.2h-3.3zM549.9 483.9h3.3v3.2h-3.3zM549.9 493.5h3.3v3.2h-3.3zM553.2 499.9h3.3v3.2h-3.3zM609.3 499.9h3.3v3.2h-3.3zM553.2 503.1h3.3v3.2h-3.3zM566.4 519.1h3.3v3.2h-3.3zM592.8 525.5h3.3v3.2h-3.3zM573 528.7h3.3v3.2h-3.3zM622.5 528.7h3.3v3.2h-3.3zM569.7 531.9h3.3v3.2h-3.3zM592.8 531.9h3.3v3.2h-3.3zM592.8 535.1h3.3v3.2h-3.3zM569.7 538.3h3.3v3.2h-3.3zM596.1 538.3h3.3v3.2h-3.3zM645.6 544.7h3.3v3.2h-3.3zM642.3 547.9h6.6v3.2h-6.6zM645.6 551.1h3.3v3.2h-3.3zM648.9 554.3h3.3v3.2h-3.3zM553.2 560.7h3.3v3.2h-3.3zM556.5 563.9h6.6v3.2h-6.6zM645.6 567.1h3.3v3.2h-3.3zM642.3 579.9h3.3v3.2h-3.3zM563.1 583.1h3.3v3.2h-3.3zM602.7 595.9h3.3v3.2h-3.3zM606 599.1h3.3v3.2h-3.3zM599.4 611.9h6.6v3.2h-6.6zM635.7 611.9h3.3v3.2h-3.3zM606 618.3h3.3v3.2h-3.3zM622.5 618.3h3.3v3.2h-3.3zM629.1 624.7h3.3v3.2h-3.3zM629.1 631.1h3.3v3.2h-3.3zM625.8 634.3h3.3v3.2h-3.3zM619.2 637.5h3.3v3.2h-3.3zM592.8 640.7h3.3v3.2h-3.3zM625.8 640.7h3.3v3.2h-3.3zM592.8 643.9h3.3v3.2h-3.3zM619.2 643.9h3.3v3.2h-3.3zM592.8 650.3h3.3v3.2h-3.3zM622.5 653.5h3.3v3.2h-3.3zM602.7 656.7h3.3v3.2h-3.3zM592.8 663.1h3.3v1.1h-3.3z"/>
<path fill="#00f2c5" d="M582.9 439.1h3.3v3.2h-3.3zM566.4 442.3h3.3v3.2h-3.3zM582.9 442.3h3.3v3.2h-3.3zM612.6 442.3h3.3v3.2h-3.3zM556.5 445.5h3.3v3.2h-3.3zM622.5 458.3h3.3v3.2h-3.3zM546.6 461.5h3.3v3.2h-3.3zM619.2 461.5h3.3v3.2h-3.3zM619.2 464.7h3.3v3.2h-3.3zM546.6 474.3h3.3v3.2h-3.3zM602.7 512.7h3.3v3.2h-3.3zM563.1 515.9h3.3v3.2h-3.3zM629.1 519.1h3.3v3.2h-3.3zM573 522.3h3.3v3.2h-3.3zM573 525.5h3.3v3.2h-3.3zM648.9 528.7h3.3v3.2h-3.3zM589.5 531.9h3.3v3.2h-3.3zM615.9 535.1h3.3v3.2h-3.3zM609.3 538.3h3.3v3.2h-3.3zM563.1 541.5h3.3v3.2h-3.3zM596.1 541.5h3.3v3.2h-3.3zM556.5 551.1h3.3v3.2h-3.3zM645.6 554.3h3.3v3.2h-3.3zM642.3 567.1h3.3v3.2h-3.3zM642.3 570.3h3.3v3.2h-3.3zM573 592.7h3.3v3.2h-3.3zM589.5 595.9h3.3v3.2h-3.3zM606 605.5h3.3v3.2h-3.3zM602.7 608.7h3.3v3.2h-3.3zM622.5 608.7h3.3v3.2h-3.3zM635.7 608.7h3.3v3.2h-3.3zM625.8 611.9h3.3v3.2h-3.3zM602.7 615.1h3.3v3.2h-3.3zM632.4 618.3h3.3v3.2h-3.3zM629.1 621.5h6.6v3.2h-6.6zM615.9 624.7h3.3v3.2h-3.3zM632.4 624.7h3.3v3.2h-3.3zM615.9 627.9h3.3v3.2h-3.3zM609.3 643.9h6.6v3.2h-6.6zM609.3 647.1h3.3v3.2h-3.3zM619.2 650.3h3.3v3.2h-3.3zM592.8 653.5h3.3v3.2h-3.3zM596.1 656.7h3.3v3.2h-3.3zM619.2 656.7h3.3v3.2h-3.3zM606 659.9h3.3v3.2h-3.3z"/>
<path fill="#00f5bc" d="M586.2 439.1h6.6v3.2h-6.6zM612.6 439.1h3.3v3.2h-3.3zM576.3 442.3h3.3v3.2h-3.3zM553.2 448.7h3.3v3.2h-3.3zM559.8 448.7h3.3v3.2h-3.3zM549.9 461.5h3.3v3.2h-3.3zM546.6 464.7h3.3v3.2h-3.3zM622.5 464.7h3.3v3.2h-3.3zM619.2 477.5h3.3v3.2h-3.3zM615.9 487.1h3.3v3.2h-3.3zM559.8 509.5h6.6v3.2h-6.6zM596.1 522.3h3.3v3.2h-3.3zM625.8 522.3h3.3v3.2h-3.3zM579.6 528.7h3.3v3.2h-3.3zM589.5 528.7h3.3v3.2h-3.3zM579.6 531.9h3.3v3.2h-3.3zM622.5 531.9h3.3v3.2h-3.3zM563.1 538.3h3.3v3.2h-3.3zM615.9 538.3h3.3v3.2h-3.3zM645.6 538.3h3.3v3.2h-3.3zM556.5 547.9h3.3v3.2h-3.3zM556.5 567.1h3.3v3.2h-3.3zM629.1 586.3h3.3v3.2h-3.3zM635.7 589.5h3.3v3.2h-3.3zM579.6 592.7h3.3v3.2h-3.3zM592.8 595.9h3.3v3.2h-3.3zM599.4 595.9h3.3v3.2h-3.3zM639 595.9h3.3v3.2h-3.3zM642.3 599.1h3.3v3.2h-3.3zM602.7 602.3h3.3v3.2h-3.3zM639 602.3h3.3v3.2h-3.3zM635.7 605.5h3.3v3.2h-3.3zM606 608.7h3.3v3.2h-3.3zM635.7 615.1h3.3v3.2h-3.3zM635.7 618.3h3.3v3.2h-3.3zM599.4 621.5h6.6v3.2h-6.6zM599.4 624.7h3.3v3.2h-3.3zM606 631.1h3.3v3.2h-3.3zM612.6 631.1h3.3v3.2h-3.3zM596.1 637.5h3.3v3.2h-3.3zM606 637.5h3.3v3.2h-3.3zM625.8 637.5h3.3v3.2h-3.3zM606 640.7h3.3v3.2h-3.3zM619.2 640.7h6.6v3.2h-6.6zM612.6 647.1h3.3v3.2h-3.3zM596.1 650.3h3.3v3.2h-3.3zM599.4 659.9h3.3v3.2h-3.3z"/>
<path fill="#00efcd" d="M599.4 439.1h3.3v3.2h-3.3zM556.5 442.3h3.3v3.2h-3.3zM563.1 442.3h3.3v3.2h-3.3zM599.4 442.3h6.6v3.2h-6.6zM609.3 445.5h6.6v3.2h-6.6zM612.6 448.7h6.6v3.2h-6.6zM615.9 483.9h3.3v3.2h-3.3zM549.9 487.1h3.3v3.2h-3.3zM612.6 490.3h3.3v3.2h-3.3zM556.5 499.9h3.3v3.2h-3.3zM639 515.9h3.3v3.2h-3.3zM632.4 519.1h3.3v3.2h-3.3zM642.3 519.1h3.3v3.2h-3.3zM573 531.9h3.3v3.2h-3.3zM582.9 531.9h3.3v3.2h-3.3zM566.4 535.1h3.3v3.2h-3.3zM582.9 538.3h3.3v3.2h-3.3zM592.8 538.3h3.3v3.2h-3.3zM599.4 541.5h3.3v3.2h-3.3zM559.8 544.7h3.3v3.2h-3.3zM635.7 544.7h6.6v3.2h-6.6zM559.8 547.9h3.3v3.2h-3.3zM642.3 554.3h3.3v3.2h-3.3zM639 557.5h3.3v3.2h-3.3zM556.5 560.7h3.3v3.2h-3.3zM639 563.9h3.3v3.2h-3.3zM559.8 570.3h3.3v3.2h-3.3zM639 573.5h6.6v3.2h-6.6zM559.8 579.9h3.3v3.2h-3.3zM635.7 579.9h6.6v3.2h-6.6zM635.7 583.1h3.3v3.2h-3.3zM566.4 586.3h3.3v3.2h-3.3zM582.9 586.3h3.3v3.2h-3.3zM573 589.5h3.3v3.2h-3.3zM596.1 589.5h3.3v3.2h-3.3zM629.1 592.7h3.3v3.2h-3.3zM635.7 592.7h3.3v3.2h-3.3zM586.2 595.9h3.3v3.2h-3.3zM596.1 595.9h3.3v3.2h-3.3zM606 602.3h3.3v3.2h-3.3zM609.3 605.5h3.3v3.2h-3.3zM632.4 605.5h3.3v3.2h-3.3zM612.6 608.7h3.3v3.2h-3.3zM632.4 608.7h3.3v3.2h-3.3zM606 611.9h3.3v3.2h-3.3zM622.5 615.1h3.3v3.2h-3.3zM629.1 615.1h3.3v3.2h-3.3zM599.4 627.9h3.3v3.2h-3.3zM625.8 627.9h3.3v3.2h-3.3zM632.4 627.9h3.3v3.2h-3.3zM599.4 631.1h3.3v3.2h-3.3zM596.1 634.3h3.3v3.2h-3.3zM606 634.3h3.3v3.2h-3.3zM602.7 637.5h3.3v3.2h-3.3zM609.3 637.5h6.6v3.2h-6.6zM596.1 643.9h3.3v3.2h-3.3zM592.8 647.1h6.6v3.2h-6.6zM619.2 647.1h3.3v3.2h-3.3zM606 653.5h3.3v3.2h-3.3zM619.2 653.5h3.3v3.2h-3.3zM596.1 659.9h3.3v3.2h-3.3zM589.5 663.1h3.3v1.1h-3.3zM596.1 663.1h3.3v1.1h-3.3zM606 663.1h3.3v1.1h-3.3z"/>
<path fill="#00e8de" d="M569.7 442.3h3.3v3.2h-3.3zM589.5 442.3h9.9v3.2h-9.9zM606 445.5h3.3v3.2h-3.3zM549.9 455.1h3.3v3.2h-3.3zM549.9 467.9h3.3v3.2h-3.3zM549.9 474.3h3.3v3.2h-3.3zM549.9 477.5h3.3v3.2h-3.3zM549.9 480.7h3.3v3.2h-3.3zM556.5 496.7h3.3v3.2h-3.3zM559.8 506.3h3.3v3.2h-3.3zM566.4 506.3h3.3v3.2h-3.3zM569.7 522.3h3.3v3.2h-3.3zM576.3 522.3h3.3v3.2h-3.3zM648.9 525.5h3.3v3.2h-3.3zM648.9 531.9h3.3v3.2h-3.3zM582.9 535.1h6.6v3.2h-6.6zM586.2 538.3h3.3v3.2h-3.3zM573 541.5h3.3v3.2h-3.3zM606 541.5h3.3v3.2h-3.3zM566.4 544.7h3.3v3.2h-3.3zM639 547.9h3.3v3.2h-3.3zM556.5 554.3h3.3v3.2h-3.3zM563.1 554.3h3.3v3.2h-3.3zM569.7 554.3h3.3v3.2h-3.3zM639 554.3h3.3v3.2h-3.3zM556.5 557.5h3.3v3.2h-3.3zM559.8 560.7h3.3v3.2h-3.3zM639 567.1h3.3v3.2h-3.3zM635.7 573.5h3.3v3.2h-3.3zM566.4 579.9h6.6v3.2h-6.6zM573 583.1h3.3v3.2h-3.3zM629.1 583.1h3.3v3.2h-3.3zM573 586.3h3.3v3.2h-3.3zM625.8 586.3h3.3v3.2h-3.3zM632.4 589.5h3.3v3.2h-3.3zM582.9 592.7h6.6v3.2h-6.6zM625.8 592.7h3.3v3.2h-3.3zM619.2 595.9h3.3v3.2h-3.3zM635.7 595.9h3.3v3.2h-3.3zM622.5 611.9h3.3v3.2h-3.3zM632.4 611.9h3.3v3.2h-3.3zM612.6 618.3h3.3v3.2h-3.3zM629.1 618.3h3.3v3.2h-3.3zM625.8 621.5h3.3v3.2h-3.3zM606 624.7h6.6v3.2h-6.6zM622.5 624.7h3.3v3.2h-3.3zM619.2 631.1h3.3v3.2h-3.3zM625.8 631.1h3.3v3.2h-3.3zM596.1 640.7h6.6v3.2h-6.6zM599.4 643.9h6.6v3.2h-6.6zM599.4 647.1h3.3v3.2h-3.3zM599.4 650.3h3.3v3.2h-3.3zM615.9 650.3h3.3v3.2h-3.3zM602.7 653.5h3.3v3.2h-3.3zM612.6 659.9h3.3v3.2h-3.3z"/>
<path fill="#00e4e6" d="M579.6 442.3h3.3v3.2h-3.3zM582.9 445.5h6.6v3.2h-6.6zM596.1 445.5h3.3v3.2h-3.3zM549.9 464.7h3.3v3.2h-3.3zM619.2 467.9h3.3v3.2h-3.3zM549.9 471.1h3.3v3.2h-3.3zM619.2 471.1h3.3v3.2h-3.3zM549.9 490.3h3.3v3.2h-3.3zM553.2 493.5h3.3v3.2h-3.3zM559.8 499.9h3.3v3.2h-3.3zM559.8 503.1h3.3v3.2h-3.3zM602.7 509.5h3.3v3.2h-3.3zM576.3 525.5h3.3v3.2h-3.3zM625.8 528.7h3.3v3.2h-3.3zM573 535.1h3.3v3.2h-3.3zM622.5 535.1h3.3v3.2h-3.3zM566.4 538.3h3.3v3.2h-3.3zM573 538.3h9.9v3.2h-9.9zM619.2 538.3h3.3v3.2h-3.3zM579.6 541.5h6.6v3.2h-6.6zM602.7 541.5h3.3v3.2h-3.3zM563.1 547.9h3.3v3.2h-3.3zM635.7 547.9h3.3v3.2h-3.3zM559.8 551.1h3.3v3.2h-3.3zM559.8 554.3h3.3v3.2h-3.3zM563.1 557.5h3.3v3.2h-3.3zM632.4 563.9h6.6v3.2h-6.6zM632.4 567.1h6.6v3.2h-6.6zM639 570.3h3.3v3.2h-3.3zM639 576.7h3.3v3.2h-3.3zM563.1 579.9h3.3v3.2h-3.3zM573 579.9h3.3v3.2h-3.3zM622.5 579.9h3.3v3.2h-3.3zM566.4 583.1h3.3v3.2h-3.3zM622.5 583.1h3.3v3.2h-3.3zM632.4 583.1h3.3v3.2h-3.3zM569.7 586.3h3.3v3.2h-3.3zM576.3 589.5h3.3v3.2h-3.3zM589.5 589.5h3.3v3.2h-3.3zM589.5 592.7h3.3v3.2h-3.3zM639 592.7h3.3v3.2h-3.3zM606 595.9h3.3v3.2h-3.3zM615.9 595.9h3.3v3.2h-3.3zM625.8 595.9h3.3v3.2h-3.3zM615.9 599.1h3.3v3.2h-3.3zM632.4 599.1h3.3v3.2h-3.3zM612.6 602.3h3.3v3.2h-3.3zM619.2 602.3h3.3v3.2h-3.3zM632.4 602.3h3.3v3.2h-3.3zM612.6 605.5h3.3v3.2h-3.3zM625.8 605.5h3.3v3.2h-3.3zM612.6 615.1h3.3v3.2h-3.3zM615.9 618.3h3.3v3.2h-3.3zM609.3 621.5h9.9v3.2h-9.9zM619.2 624.7h3.3v3.2h-3.3zM602.7 627.9h3.3v3.2h-3.3zM602.7 631.1h3.3v3.2h-3.3zM609.3 631.1h3.3v3.2h-3.3zM609.3 640.7h3.3v3.2h-3.3zM606 643.9h3.3v3.2h-3.3zM615.9 643.9h3.3v3.2h-3.3zM602.7 650.3h3.3v3.2h-3.3zM599.4 653.5h3.3v3.2h-3.3zM592.8 656.7h3.3v3.2h-3.3zM599.4 656.7h3.3v3.2h-3.3zM606 656.7h3.3v3.2h-3.3zM615.9 659.9h3.3v3.2h-3.3zM599.4 663.1h3.3v1.1h-3.3zM615.9 663.1h3.3v1.1h-3.3z"/>
<path fill="#00ebd5" d="M586.2 442.3h3.3v3.2h-3.3zM606 442.3h3.3v3.2h-3.3zM559.8 445.5h13.2v3.2h-13.2zM606 448.7h6.6v3.2h-6.6zM549.9 451.9h3.3v3.2h-3.3zM619.2 455.1h3.3v3.2h-3.3zM556.5 503.1h3.3v3.2h-3.3zM635.7 515.9h3.3v3.2h-3.3zM569.7 519.1h3.3v3.2h-3.3zM592.8 522.3h3.3v3.2h-3.3zM579.6 525.5h3.3v3.2h-3.3zM625.8 525.5h3.3v3.2h-3.3zM576.3 528.7h3.3v3.2h-3.3zM582.9 528.7h3.3v3.2h-3.3zM586.2 531.9h3.3v3.2h-3.3zM576.3 535.1h6.6v3.2h-6.6zM589.5 538.3h3.3v3.2h-3.3zM642.3 551.1h3.3v3.2h-3.3zM566.4 557.5h3.3v3.2h-3.3zM556.5 570.3h3.3v3.2h-3.3zM573 573.5h3.3v3.2h-3.3zM635.7 576.7h3.3v3.2h-3.3zM632.4 586.3h3.3v3.2h-3.3zM582.9 589.5h3.3v3.2h-3.3zM629.1 589.5h3.3v3.2h-3.3zM576.3 592.7h3.3v3.2h-3.3zM619.2 592.7h3.3v3.2h-3.3zM632.4 592.7h3.3v3.2h-3.3zM632.4 595.9h3.3v3.2h-3.3zM635.7 599.1h3.3v3.2h-3.3zM609.3 602.3h3.3v3.2h-3.3zM635.7 602.3h3.3v3.2h-3.3zM619.2 605.5h3.3v3.2h-3.3zM625.8 608.7h3.3v3.2h-3.3zM625.8 615.1h3.3v3.2h-3.3zM632.4 615.1h3.3v3.2h-3.3zM602.7 618.3h3.3v3.2h-3.3zM625.8 624.7h3.3v3.2h-3.3zM606 627.9h3.3v3.2h-3.3zM599.4 634.3h3.3v3.2h-3.3zM619.2 634.3h3.3v3.2h-3.3zM622.5 637.5h3.3v3.2h-3.3zM602.7 640.7h3.3v3.2h-3.3zM615.9 640.7h3.3v3.2h-3.3zM602.7 647.1h3.3v3.2h-3.3zM615.9 647.1h3.3v3.2h-3.3zM609.3 650.3h6.6v3.2h-6.6zM596.1 653.5h3.3v3.2h-3.3zM609.3 656.7h3.3v3.2h-3.3zM615.9 656.7h3.3v3.2h-3.3zM602.7 659.9h3.3v3.2h-3.3zM609.3 659.9h3.3v3.2h-3.3zM619.2 659.9h3.3v3.2h-3.3zM609.3 663.1h3.3v1.1h-3.3zM619.2 663.1h3.3v1.1h-3.3z"/>
<path fill="#5efa30" d="M645.6 442.3h3.3v3.2h-3.3zM632.4 461.5h3.3v3.2h-3.3zM655.5 483.9h3.3v3.2h-3.3zM606 512.7h3.3v3.2h-3.3zM602.7 522.3h3.3v3.2h-3.3zM619.2 525.5h3.3v3.2h-3.3zM599.4 535.1h3.3v3.2h-3.3zM549.9 595.9h3.3v3.2h-3.3zM553.2 599.1h3.3v3.2h-3.3zM556.5 624.7h3.3v3.2h-3.3z"/>
<path fill="#3efb44" d="M648.9 442.3h9.9v3.2h-9.9zM665.4 451.9h3.3v3.2h-3.3zM622.5 522.3h3.3v3.2h-3.3zM549.9 592.7h3.3v3.2h-3.3zM635.7 647.1h3.3v3.2h-3.3zM635.7 650.3h3.3v3.2h-3.3zM635.7 653.5h3.3v3.2h-3.3zM645.6 653.5h3.3v3.2h-3.3zM639 656.7h6.6v3.2h-6.6z"/>
<path fill="#00d6fa" d="M573 445.5h3.3v3.2h-3.3zM599.4 445.5h3.3v3.2h-3.3zM556.5 448.7h3.3v3.2h-3.3zM569.7 448.7h3.3v3.2h-3.3zM602.7 448.7h3.3v3.2h-3.3zM612.6 451.9h3.3v3.2h-3.3zM615.9 455.1h3.3v3.2h-3.3zM553.2 461.5h3.3v3.2h-3.3zM615.9 471.1h3.3v3.2h-3.3zM599.4 515.9h3.3v3.2h-3.3zM586.2 522.3h3.3v3.2h-3.3zM629.1 522.3h3.3v3.2h-3.3zM586.2 528.7h3.3v3.2h-3.3zM619.2 535.1h3.3v3.2h-3.3zM645.6 535.1h3.3v3.2h-3.3zM622.5 538.3h3.3v3.2h-3.3zM629.1 538.3h3.3v3.2h-3.3zM569.7 541.5h3.3v3.2h-3.3zM589.5 541.5h3.3v3.2h-3.3zM566.4 547.9h3.3v3.2h-3.3zM632.4 547.9h3.3v3.2h-3.3zM563.1 551.1h6.6v3.2h-6.6zM639 551.1h3.3v3.2h-3.3zM632.4 554.3h3.3v3.2h-3.3zM559.8 557.5h3.3v3.2h-3.3zM642.3 557.5h3.3v3.2h-3.3zM566.4 560.7h3.3v3.2h-3.3zM573 560.7h3.3v3.2h-3.3zM635.7 560.7h3.3v3.2h-3.3zM629.1 570.3h3.3v3.2h-3.3zM563.1 573.5h3.3v3.2h-3.3zM566.4 576.7h3.3v3.2h-3.3zM629.1 576.7h3.3v3.2h-3.3zM609.3 586.3h3.3v3.2h-3.3zM609.3 589.5h3.3v3.2h-3.3zM609.3 615.1h3.3v3.2h-3.3zM612.6 653.5h3.3v3.2h-3.3z"/>
<path fill="#00e1ee" d="M576.3 445.5h3.3v3.2h-3.3zM589.5 445.5h6.6v3.2h-6.6zM573 448.7h3.3v3.2h-3.3zM553.2 451.9h3.3v3.2h-3.3zM615.9 451.9h3.3v3.2h-3.3zM553.2 455.1h3.3v3.2h-3.3zM615.9 467.9h3.3v3.2h-3.3zM615.9 477.5h3.3v3.2h-3.3zM553.2 487.1h3.3v3.2h-3.3zM556.5 493.5h3.3v3.2h-3.3zM569.7 512.7h3.3v3.2h-3.3zM566.4 515.9h3.3v3.2h-3.3zM573 519.1h3.3v3.2h-3.3zM579.6 522.3h3.3v3.2h-3.3zM645.6 522.3h3.3v3.2h-3.3zM625.8 531.9h3.3v3.2h-3.3zM589.5 535.1h3.3v3.2h-3.3zM632.4 557.5h3.3v3.2h-3.3zM563.1 567.1h3.3v3.2h-3.3zM566.4 570.3h3.3v3.2h-3.3zM635.7 570.3h3.3v3.2h-3.3zM563.1 576.7h3.3v3.2h-3.3zM569.7 576.7h3.3v3.2h-3.3zM586.2 589.5h3.3v3.2h-3.3zM622.5 589.5h6.6v3.2h-6.6zM606 592.7h3.3v3.2h-3.3zM609.3 595.9h3.3v3.2h-3.3zM609.3 599.1h3.3v3.2h-3.3zM629.1 599.1h3.3v3.2h-3.3zM625.8 602.3h6.6v3.2h-6.6zM629.1 605.5h3.3v3.2h-3.3zM609.3 611.9h3.3v3.2h-3.3zM619.2 611.9h3.3v3.2h-3.3zM606 615.1h3.3v3.2h-3.3zM625.8 618.3h3.3v3.2h-3.3zM602.7 624.7h3.3v3.2h-3.3zM609.3 627.9h3.3v3.2h-3.3zM622.5 627.9h3.3v3.2h-3.3zM622.5 631.1h3.3v3.2h-3.3zM602.7 634.3h3.3v3.2h-3.3zM609.3 634.3h3.3v3.2h-3.3zM615.9 637.5h3.3v3.2h-3.3zM606 647.1h3.3v3.2h-3.3zM606 650.3h3.3v3.2h-3.3zM602.7 663.1h3.3v1.1h-3.3z"/>
<path fill="#00c3fc" d="M579.6 445.5h3.3v3.2h-3.3zM559.8 451.9h3.3v3.2h-3.3zM556.5 455.1h3.3v3.2h-3.3zM612.6 455.1h3.3v3.2h-3.3zM553.2 467.9h3.3v3.2h-3.3zM615.9 474.3h3.3v3.2h-3.3zM553.2 490.3h3.3v3.2h-3.3zM609.3 496.7h3.3v3.2h-3.3zM602.7 506.3h3.3v3.2h-3.3zM573 515.9h6.6v3.2h-6.6zM596.1 515.9h3.3v3.2h-3.3zM582.9 525.5h3.3v3.2h-3.3zM589.5 525.5h3.3v3.2h-3.3zM579.6 544.7h3.3v3.2h-3.3zM566.4 554.3h3.3v3.2h-3.3zM635.7 554.3h3.3v3.2h-3.3zM629.1 563.9h3.3v3.2h-3.3zM576.3 567.1h3.3v3.2h-3.3zM576.3 570.3h3.3v3.2h-3.3zM632.4 570.3h3.3v3.2h-3.3zM576.3 576.7h3.3v3.2h-3.3zM619.2 583.1h3.3v3.2h-3.3zM625.8 583.1h3.3v3.2h-3.3zM576.3 586.3h3.3v3.2h-3.3zM615.9 615.1h6.6v3.2h-6.6zM619.2 618.3h3.3v3.2h-3.3zM622.5 621.5h3.3v3.2h-3.3zM615.9 634.3h3.3v3.2h-3.3z"/>
<path fill="#00ddf7" d="M602.7 445.5h3.3v3.2h-3.3zM556.5 451.9h3.3v3.2h-3.3zM615.9 464.7h3.3v3.2h-3.3zM615.9 480.7h3.3v3.2h-3.3zM612.6 493.5h3.3v3.2h-3.3zM606 503.1h3.3v3.2h-3.3zM563.1 506.3h3.3v3.2h-3.3zM566.4 512.7h3.3v3.2h-3.3zM586.2 525.5h3.3v3.2h-3.3zM645.6 528.7h3.3v3.2h-3.3zM645.6 531.9h3.3v3.2h-3.3zM566.4 541.5h3.3v3.2h-3.3zM569.7 544.7h6.6v3.2h-6.6zM642.3 544.7h3.3v3.2h-3.3zM569.7 547.9h3.3v3.2h-3.3zM569.7 551.1h6.6v3.2h-6.6zM563.1 560.7h3.3v3.2h-3.3zM642.3 560.7h3.3v3.2h-3.3zM563.1 563.9h9.9v3.2h-9.9zM559.8 567.1h3.3v3.2h-3.3zM569.7 567.1h3.3v3.2h-3.3zM566.4 573.5h3.3v3.2h-3.3zM573 576.7h3.3v3.2h-3.3zM632.4 576.7h3.3v3.2h-3.3zM576.3 579.9h3.3v3.2h-3.3zM632.4 579.9h3.3v3.2h-3.3zM569.7 583.1h3.3v3.2h-3.3zM576.3 583.1h3.3v3.2h-3.3zM579.6 586.3h3.3v3.2h-3.3zM596.1 592.7h9.9v3.2h-9.9zM609.3 592.7h3.3v3.2h-3.3zM629.1 595.9h3.3v3.2h-3.3zM615.9 602.3h3.3v3.2h-3.3zM622.5 605.5h3.3v3.2h-3.3zM609.3 608.7h3.3v3.2h-3.3zM619.2 608.7h3.3v3.2h-3.3zM629.1 608.7h3.3v3.2h-3.3zM612.6 624.7h3.3v3.2h-3.3zM622.5 634.3h3.3v3.2h-3.3zM615.9 653.5h3.3v3.2h-3.3zM612.6 656.7h3.3v3.2h-3.3z"/>
<path fill="#aaf810" d="M642.3 445.5h3.3v3.2h-3.3zM662.1 467.9h3.3v3.2h-3.3zM625.8 474.3h3.3v3.2h-3.3zM652.2 487.1h3.3v3.2h-3.3zM632.4 509.5h3.3v3.2h-3.3zM615.9 525.5h3.3v3.2h-3.3zM606 535.1h3.3v3.2h-3.3z"/>
<path fill="#d8f405" d="M645.6 445.5h3.3v3.2h-3.3zM642.3 448.7h3.3v3.2h-3.3zM639 451.9h3.3v3.2h-3.3zM658.8 461.5h3.3v3.2h-3.3zM629.1 471.1h3.3v3.2h-3.3zM619.2 503.1h3.3v3.2h-3.3zM612.6 509.5h3.3v3.2h-3.3zM622.5 519.1h3.3v3.2h-3.3zM602.7 528.7h6.6v3.2h-6.6z"/>
<path fill="#e3f304" d="M648.9 445.5h3.3v3.2h-3.3zM655.5 445.5h3.3v3.2h-3.3zM645.6 455.1h3.3v3.2h-3.3zM655.5 455.1h3.3v3.2h-3.3zM662.1 461.5h3.3v3.2h-3.3zM662.1 464.7h3.3v3.2h-3.3zM625.8 480.7h3.3v3.2h-3.3zM619.2 493.5h3.3v3.2h-3.3zM619.2 496.7h3.3v3.2h-3.3zM622.5 499.9h3.3v3.2h-3.3zM622.5 506.3h3.3v3.2h-3.3zM629.1 509.5h3.3v3.2h-3.3zM609.3 522.3h3.3v3.2h-3.3zM619.2 522.3h3.3v3.2h-3.3z"/>
<path fill="#cef507" d="M652.2 445.5h3.3v3.2h-3.3zM658.8 448.7h3.3v3.2h-3.3zM635.7 458.3h3.3v3.2h-3.3zM632.4 464.7h3.3v3.2h-3.3zM652.2 477.5h3.3v3.2h-3.3zM619.2 490.3h3.3v3.2h-3.3zM642.3 493.5h3.3v3.2h-3.3zM615.9 499.9h3.3v3.2h-3.3zM612.6 506.3h3.3v3.2h-3.3zM622.5 509.5h3.3v3.2h-3.3zM609.3 515.9h3.3v3.2h-3.3zM625.8 515.9h3.3v3.2h-3.3zM602.7 525.5h3.3v3.2h-3.3zM609.3 525.5h6.6v3.2h-6.6z"/>
<path fill="#4efb3a" d="M658.8 445.5h6.6v3.2h-6.6zM639 448.7h3.3v3.2h-3.3zM665.4 448.7h3.3v3.2h-3.3zM658.8 480.7h3.3v3.2h-3.3zM619.2 487.1h3.3v3.2h-3.3zM609.3 506.3h3.3v3.2h-3.3zM606 515.9h3.3v3.2h-3.3zM609.3 535.1h3.3v3.2h-3.3zM553.2 595.9h3.3v3.2h-3.3zM642.3 653.5h3.3v3.2h-3.3z"/>
<path fill="#00ccfb" d="M566.4 448.7h3.3v3.2h-3.3zM615.9 461.5h3.3v3.2h-3.3zM612.6 487.1h3.3v3.2h-3.3zM566.4 509.5h3.3v3.2h-3.3zM599.4 509.5h3.3v3.2h-3.3zM569.7 515.9h3.3v3.2h-3.3zM635.7 519.1h3.3v3.2h-3.3zM629.1 525.5h3.3v3.2h-3.3zM645.6 525.5h3.3v3.2h-3.3zM625.8 535.1h3.3v3.2h-3.3zM642.3 535.1h3.3v3.2h-3.3zM612.6 538.3h3.3v3.2h-3.3zM642.3 538.3h3.3v3.2h-3.3zM576.3 541.5h3.3v3.2h-3.3zM592.8 541.5h3.3v3.2h-3.3zM639 541.5h3.3v3.2h-3.3zM563.1 544.7h3.3v3.2h-3.3zM602.7 544.7h6.6v3.2h-6.6zM632.4 544.7h3.3v3.2h-3.3zM635.7 551.1h3.3v3.2h-3.3zM569.7 557.5h3.3v3.2h-3.3zM632.4 560.7h3.3v3.2h-3.3zM639 560.7h3.3v3.2h-3.3zM563.1 570.3h3.3v3.2h-3.3zM569.7 570.3h3.3v3.2h-3.3zM569.7 573.5h3.3v3.2h-3.3zM632.4 573.5h3.3v3.2h-3.3zM625.8 579.9h6.6v3.2h-6.6zM579.6 589.5h3.3v3.2h-3.3zM602.7 589.5h6.6v3.2h-6.6zM615.9 592.7h3.3v3.2h-3.3zM612.6 595.9h3.3v3.2h-3.3zM619.2 599.1h9.9v3.2h-9.9zM622.5 602.3h3.3v3.2h-3.3zM615.9 608.7h3.3v3.2h-3.3zM629.1 611.9h3.3v3.2h-3.3zM609.3 618.3h3.3v3.2h-3.3zM606 621.5h3.3v3.2h-3.3zM619.2 621.5h3.3v3.2h-3.3zM612.6 634.3h3.3v3.2h-3.3zM612.6 663.1h3.3v1.1h-3.3z"/>
<path fill="#0088ff" d="M576.3 448.7h3.3v3.2h-3.3zM582.9 448.7h3.3v3.2h-3.3zM609.3 451.9h3.3v3.2h-3.3zM553.2 480.7h3.3v3.2h-3.3zM559.8 496.7h3.3v3.2h-3.3zM606 496.7h3.3v3.2h-3.3zM602.7 499.9h3.3v3.2h-3.3zM566.4 503.1h3.3v3.2h-3.3zM573 512.7h3.3v3.2h-3.3zM579.6 515.9h3.3v3.2h-3.3zM586.2 519.1h3.3v3.2h-3.3zM642.3 528.7h3.3v3.2h-3.3zM632.4 531.9h3.3v3.2h-3.3zM576.3 544.7h3.3v3.2h-3.3zM609.3 544.7h3.3v3.2h-3.3zM615.9 544.7h3.3v3.2h-3.3zM579.6 547.9h3.3v3.2h-3.3zM606 547.9h3.3v3.2h-3.3zM596.1 551.1h3.3v3.2h-3.3zM632.4 551.1h3.3v3.2h-3.3zM573 554.3h3.3v3.2h-3.3zM596.1 554.3h3.3v3.2h-3.3zM576.3 557.5h3.3v3.2h-3.3zM576.3 560.7h3.3v3.2h-3.3zM625.8 560.7h3.3v3.2h-3.3zM582.9 570.3h3.3v3.2h-3.3zM619.2 576.7h3.3v3.2h-3.3zM615.9 579.9h3.3v3.2h-3.3zM582.9 583.1h3.3v3.2h-3.3z"/>
<path fill="#0075ff" d="M579.6 448.7h3.3v3.2h-3.3zM566.4 451.9h3.3v3.2h-3.3zM556.5 461.5h3.3v3.2h-3.3zM563.1 467.9h3.3v3.2h-3.3zM609.3 487.1h3.3v3.2h-3.3zM599.4 503.1h3.3v3.2h-3.3zM629.1 541.5h3.3v3.2h-3.3zM579.6 551.1h3.3v3.2h-3.3zM606 551.1h3.3v3.2h-3.3zM612.6 551.1h3.3v3.2h-3.3zM582.9 554.3h3.3v3.2h-3.3zM602.7 554.3h3.3v3.2h-3.3zM609.3 554.3h3.3v3.2h-3.3zM589.5 557.5h3.3v3.2h-3.3zM589.5 560.7h3.3v3.2h-3.3zM612.6 560.7h3.3v3.2h-3.3zM612.6 563.9h3.3v3.2h-3.3zM579.6 570.3h3.3v3.2h-3.3zM586.2 570.3h3.3v3.2h-3.3zM612.6 570.3h6.6v3.2h-6.6zM612.6 573.5h3.3v3.2h-3.3zM579.6 576.7h3.3v3.2h-3.3zM589.5 579.9h3.3v3.2h-3.3zM612.6 579.9h3.3v3.2h-3.3zM596.1 583.1h3.3v3.2h-3.3z"/>
<path fill="#0092ff" d="M586.2 448.7h6.6v3.2h-6.6zM599.4 448.7h3.3v3.2h-3.3zM553.2 458.3h3.3v3.2h-3.3zM612.6 461.5h3.3v3.2h-3.3zM553.2 474.3h3.3v3.2h-3.3zM612.6 474.3h3.3v3.2h-3.3zM553.2 477.5h3.3v3.2h-3.3zM556.5 487.1h3.3v3.2h-3.3zM569.7 506.3h3.3v3.2h-3.3zM635.7 522.3h3.3v3.2h-3.3zM632.4 525.5h3.3v3.2h-3.3zM629.1 531.9h3.3v3.2h-3.3zM629.1 535.1h3.3v3.2h-3.3zM622.5 541.5h3.3v3.2h-3.3zM599.4 544.7h3.3v3.2h-3.3zM582.9 547.9h3.3v3.2h-3.3zM629.1 554.3h3.3v3.2h-3.3zM582.9 560.7h3.3v3.2h-3.3zM573 570.3h3.3v3.2h-3.3zM582.9 573.5h3.3v3.2h-3.3zM615.9 573.5h3.3v3.2h-3.3zM622.5 573.5h3.3v3.2h-3.3zM586.2 576.7h3.3v3.2h-3.3zM612.6 576.7h3.3v3.2h-3.3zM582.9 579.9h3.3v3.2h-3.3zM602.7 586.3h6.6v3.2h-6.6zM615.9 611.9h3.3v3.2h-3.3z"/>
<path fill="#00affd" d="M592.8 448.7h6.6v3.2h-6.6zM563.1 451.9h3.3v3.2h-3.3zM553.2 464.7h3.3v3.2h-3.3zM612.6 480.7h3.3v3.2h-3.3zM609.3 483.9h3.3v3.2h-3.3zM563.1 503.1h3.3v3.2h-3.3zM602.7 503.1h3.3v3.2h-3.3zM569.7 509.5h3.3v3.2h-3.3zM579.6 519.1h3.3v3.2h-3.3zM589.5 522.3h3.3v3.2h-3.3zM639 528.7h3.3v3.2h-3.3zM642.3 531.9h3.3v3.2h-3.3zM589.5 544.7h3.3v3.2h-3.3zM612.6 544.7h3.3v3.2h-3.3zM629.1 544.7h3.3v3.2h-3.3zM569.7 560.7h3.3v3.2h-3.3zM629.1 560.7h3.3v3.2h-3.3zM566.4 567.1h3.3v3.2h-3.3zM573 567.1h3.3v3.2h-3.3zM625.8 576.7h3.3v3.2h-3.3zM586.2 586.3h3.3v3.2h-3.3zM599.4 589.5h3.3v3.2h-3.3zM612.6 589.5h3.3v3.2h-3.3zM619.2 589.5h3.3v3.2h-3.3zM612.6 611.9h3.3v3.2h-3.3zM615.9 631.1h3.3v3.2h-3.3z"/>
<path fill="#fdc700" d="M645.6 448.7h3.3v3.2h-3.3zM662.1 455.1h3.3v3.2h-3.3zM642.3 461.5h3.3v3.2h-3.3zM635.7 467.9h3.3v3.2h-3.3zM652.2 471.1h6.6v3.2h-6.6zM635.7 474.3h3.3v3.2h-3.3zM648.9 474.3h3.3v3.2h-3.3zM639 480.7h3.3v3.2h-3.3zM639 496.7h3.3v3.2h-3.3zM629.1 506.3h3.3v3.2h-3.3zM612.6 522.3h3.3v3.2h-3.3z"/>
<path fill="#edf202" d="M648.9 448.7h3.3v3.2h-3.3zM662.1 458.3h3.3v3.2h-3.3zM658.8 471.1h3.3v3.2h-3.3zM629.1 474.3h3.3v3.2h-3.3zM629.1 483.9h3.3v3.2h-3.3zM652.2 483.9h3.3v3.2h-3.3zM622.5 496.7h3.3v3.2h-3.3zM639 499.9h3.3v3.2h-3.3zM609.3 512.7h3.3v3.2h-3.3zM625.8 512.7h3.3v3.2h-3.3z"/>
<path fill="#fae900" d="M652.2 448.7h3.3v3.2h-3.3zM658.8 451.9h3.3v3.2h-3.3zM655.5 467.9h3.3v3.2h-3.3zM655.5 474.3h3.3v3.2h-3.3zM648.9 483.9h3.3v3.2h-3.3zM625.8 490.3h3.3v3.2h-3.3zM625.8 493.5h3.3v3.2h-3.3zM625.8 496.7h3.3v3.2h-3.3zM625.8 509.5h3.3v3.2h-3.3zM612.6 512.7h3.3v3.2h-3.3zM612.6 515.9h3.3v3.2h-3.3zM615.9 519.1h3.3v3.2h-3.3z"/>
<path fill="#f8f000" d="M655.5 448.7h3.3v3.2h-3.3zM655.5 451.9h3.3v3.2h-3.3zM632.4 467.9h3.3v3.2h-3.3zM632.4 477.5h3.3v3.2h-3.3zM632.4 480.7h3.3v3.2h-3.3zM635.7 483.9h3.3v3.2h-3.3zM625.8 487.1h3.3v3.2h-3.3zM648.9 487.1h3.3v3.2h-3.3zM622.5 490.3h3.3v3.2h-3.3zM615.9 506.3h6.6v3.2h-6.6zM615.9 509.5h3.3v3.2h-3.3zM622.5 515.9h3.3v3.2h-3.3zM615.9 522.3h3.3v3.2h-3.3z"/>
<path fill="#b9f80a" d="M662.1 448.7h3.3v3.2h-3.3zM639 455.1h3.3v3.2h-3.3zM665.4 458.3h3.3v3.2h-3.3zM625.8 483.9h3.3v3.2h-3.3zM622.5 487.1h3.3v3.2h-3.3zM648.9 490.3h3.3v3.2h-3.3zM615.9 496.7h3.3v3.2h-3.3zM635.7 506.3h3.3v3.2h-3.3zM606 519.1h6.6v3.2h-6.6z"/>
<path fill="#007eff" d="M569.7 451.9h3.3v3.2h-3.3zM609.3 455.1h3.3v3.2h-3.3zM553.2 471.1h3.3v3.2h-3.3zM606 493.5h3.3v3.2h-3.3zM563.1 499.9h3.3v3.2h-3.3zM642.3 525.5h3.3v3.2h-3.3zM625.8 541.5h3.3v3.2h-3.3zM586.2 544.7h3.3v3.2h-3.3zM592.8 547.9h3.3v3.2h-3.3zM599.4 551.1h3.3v3.2h-3.3zM599.4 557.5h3.3v3.2h-3.3zM615.9 560.7h3.3v3.2h-3.3zM582.9 563.9h3.3v3.2h-3.3zM586.2 567.1h3.3v3.2h-3.3zM612.6 567.1h3.3v3.2h-3.3zM619.2 567.1h3.3v3.2h-3.3zM625.8 567.1h3.3v3.2h-3.3zM622.5 570.3h3.3v3.2h-3.3zM576.3 573.5h6.6v3.2h-6.6zM622.5 576.7h3.3v3.2h-3.3zM586.2 579.9h3.3v3.2h-3.3zM606 583.1h3.3v3.2h-3.3zM612.6 583.1h3.3v3.2h-3.3zM592.8 586.3h3.3v3.2h-3.3z"/>
<path fill="#0044ff" d="M573 451.9h3.3v3.2h-3.3zM559.8 458.3h3.3v3.2h-3.3zM602.7 496.7h3.3v3.2h-3.3zM635.7 525.5h3.3v3.2h-3.3zM635.7 531.9h3.3v3.2h-3.3zM622.5 547.9h3.3v3.2h-3.3zM629.1 547.9h3.3v3.2h-3.3zM582.9 551.1h3.3v3.2h-3.3zM579.6 554.3h3.3v3.2h-3.3zM592.8 554.3h3.3v3.2h-3.3zM612.6 554.3h3.3v3.2h-3.3zM619.2 554.3h3.3v3.2h-3.3zM615.9 557.5h3.3v3.2h-3.3zM589.5 567.1h3.3v3.2h-3.3zM609.3 573.5h3.3v3.2h-3.3zM582.9 576.7h3.3v3.2h-3.3zM599.4 579.9h3.3v3.2h-3.3zM609.3 579.9h3.3v3.2h-3.3z"/>
<path fill="#002eff" d="M576.3 451.9h3.3v3.2h-3.3zM566.4 458.3h3.3v3.2h-3.3zM563.1 464.7h3.3v3.2h-3.3zM609.3 467.9h3.3v3.2h-3.3zM556.5 471.1h6.6v3.2h-6.6zM609.3 474.3h3.3v3.2h-3.3zM559.8 477.5h3.3v3.2h-3.3zM576.3 477.5h3.3v3.2h-3.3zM563.1 480.7h3.3v3.2h-3.3zM559.8 487.1h3.3v3.2h-3.3zM576.3 490.3h3.3v3.2h-3.3zM566.4 499.9h3.3v3.2h-3.3zM586.2 499.9h3.3v3.2h-3.3zM596.1 503.1h3.3v3.2h-3.3zM582.9 506.3h3.3v3.2h-3.3zM596.1 506.3h3.3v3.2h-3.3zM586.2 512.7h3.3v3.2h-3.3zM586.2 515.9h3.3v3.2h-3.3zM619.2 547.9h3.3v3.2h-3.3zM622.5 554.3h3.3v3.2h-3.3zM619.2 557.5h3.3v3.2h-3.3zM596.1 560.7h6.6v3.2h-6.6zM599.4 563.9h3.3v3.2h-3.3zM602.7 567.1h3.3v3.2h-3.3z"/>
<path fill="#004dff" d="M579.6 451.9h3.3v3.2h-3.3zM602.7 451.9h3.3v3.2h-3.3zM559.8 455.1h3.3v3.2h-3.3zM606 455.1h3.3v3.2h-3.3zM556.5 458.3h3.3v3.2h-3.3zM573 509.5h3.3v3.2h-3.3zM579.6 512.7h3.3v3.2h-3.3zM615.9 551.1h3.3v3.2h-3.3zM625.8 554.3h3.3v3.2h-3.3zM602.7 557.5h3.3v3.2h-3.3zM609.3 557.5h3.3v3.2h-3.3zM625.8 557.5h3.3v3.2h-3.3zM579.6 560.7h3.3v3.2h-3.3zM592.8 560.7h3.3v3.2h-3.3zM602.7 560.7h3.3v3.2h-3.3zM596.1 563.9h3.3v3.2h-3.3zM609.3 563.9h3.3v3.2h-3.3zM615.9 563.9h6.6v3.2h-6.6zM586.2 573.5h3.3v3.2h-3.3zM619.2 573.5h3.3v3.2h-3.3z"/>
<path fill="#0027ff" d="M582.9 451.9h3.3v3.2h-3.3zM566.4 455.1h3.3v3.2h-3.3zM579.6 455.1h3.3v3.2h-3.3zM586.2 455.1h3.3v3.2h-3.3zM563.1 458.3h3.3v3.2h-3.3zM559.8 461.5h3.3v3.2h-3.3zM576.3 461.5h3.3v3.2h-3.3zM573 471.1h3.3v3.2h-3.3zM609.3 471.1h3.3v3.2h-3.3zM559.8 474.3h3.3v3.2h-3.3zM569.7 474.3h6.6v3.2h-6.6zM566.4 477.5h3.3v3.2h-3.3zM556.5 480.7h3.3v3.2h-3.3zM556.5 483.9h3.3v3.2h-3.3zM589.5 483.9h3.3v3.2h-3.3zM559.8 490.3h3.3v3.2h-3.3zM566.4 490.3h3.3v3.2h-3.3zM582.9 490.3h6.6v3.2h-6.6zM569.7 493.5h9.9v3.2h-9.9zM602.7 493.5h3.3v3.2h-3.3zM566.4 496.7h3.3v3.2h-3.3zM599.4 496.7h3.3v3.2h-3.3zM569.7 503.1h3.3v3.2h-3.3zM579.6 503.1h3.3v3.2h-3.3zM592.8 506.3h3.3v3.2h-3.3zM609.3 547.9h3.3v3.2h-3.3zM606 563.9h3.3v3.2h-3.3zM589.5 570.3h3.3v3.2h-3.3zM606 570.3h3.3v3.2h-3.3zM606 573.5h3.3v3.2h-3.3z"/>
<path fill="#0000f9" d="M586.2 451.9h3.3v3.2h-3.3zM586.2 458.3h3.3v3.2h-3.3zM602.7 458.3h3.3v3.2h-3.3zM563.1 461.5h3.3v3.2h-3.3zM569.7 461.5h3.3v3.2h-3.3zM599.4 461.5h3.3v3.2h-3.3zM559.8 464.7h3.3v3.2h-3.3zM573 464.7h3.3v3.2h-3.3zM563.1 471.1h3.3v3.2h-3.3zM599.4 471.1h3.3v3.2h-3.3zM563.1 474.3h3.3v3.2h-3.3zM599.4 474.3h3.3v3.2h-3.3zM602.7 477.5h3.3v3.2h-3.3zM566.4 480.7h3.3v3.2h-3.3zM582.9 480.7h3.3v3.2h-3.3zM569.7 483.9h3.3v3.2h-3.3zM582.9 483.9h3.3v3.2h-3.3zM592.8 483.9h3.3v3.2h-3.3zM606 483.9h3.3v3.2h-3.3zM582.9 487.1h3.3v3.2h-3.3zM599.4 487.1h3.3v3.2h-3.3zM573 496.7h3.3v3.2h-3.3zM579.6 506.3h3.3v3.2h-3.3zM586.2 506.3h3.3v3.2h-3.3zM592.8 573.5h3.3v3.2h-3.3z"/>
<path fill="#0018ff" d="M589.5 451.9h3.3v3.2h-3.3zM582.9 455.1h3.3v3.2h-3.3zM573 461.5h3.3v3.2h-3.3zM569.7 464.7h3.3v3.2h-3.3zM566.4 467.9h3.3v3.2h-3.3zM573 467.9h6.6v3.2h-6.6zM566.4 471.1h3.3v3.2h-3.3zM582.9 471.1h3.3v3.2h-3.3zM556.5 474.3h3.3v3.2h-3.3zM586.2 477.5h3.3v3.2h-3.3zM589.5 490.3h3.3v3.2h-3.3zM602.7 490.3h3.3v3.2h-3.3zM579.6 493.5h3.3v3.2h-3.3zM569.7 496.7h3.3v3.2h-3.3zM579.6 496.7h3.3v3.2h-3.3zM589.5 496.7h3.3v3.2h-3.3zM596.1 496.7h3.3v3.2h-3.3zM579.6 499.9h3.3v3.2h-3.3zM592.8 499.9h3.3v3.2h-3.3zM599.4 499.9h3.3v3.2h-3.3zM573 506.3h3.3v3.2h-3.3zM589.5 509.5h3.3v3.2h-3.3zM582.9 515.9h3.3v3.2h-3.3zM592.8 570.3h3.3v3.2h-3.3zM599.4 583.1h3.3v3.2h-3.3z"/>
<path fill="#0036ff" d="M592.8 451.9h3.3v3.2h-3.3zM563.1 455.1h3.3v3.2h-3.3zM569.7 455.1h3.3v3.2h-3.3zM556.5 477.5h3.3v3.2h-3.3zM586.2 493.5h3.3v3.2h-3.3zM563.1 496.7h3.3v3.2h-3.3zM625.8 547.9h3.3v3.2h-3.3zM619.2 551.1h3.3v3.2h-3.3zM625.8 551.1h3.3v3.2h-3.3zM622.5 557.5h3.3v3.2h-3.3zM592.8 563.9h3.3v3.2h-3.3zM599.4 567.1h3.3v3.2h-3.3zM589.5 573.5h3.3v3.2h-3.3zM592.8 576.7h3.3v3.2h-3.3z"/>
<path fill="#0000ef" d="M596.1 451.9h3.3v3.2h-3.3zM592.8 455.1h3.3v3.2h-3.3zM599.4 455.1h3.3v3.2h-3.3zM589.5 458.3h6.6v3.2h-6.6zM589.5 461.5h3.3v3.2h-3.3zM596.1 461.5h3.3v3.2h-3.3zM602.7 461.5h3.3v3.2h-3.3zM592.8 467.9h3.3v3.2h-3.3zM569.7 471.1h3.3v3.2h-3.3zM602.7 471.1h6.6v3.2h-6.6zM573 477.5h3.3v3.2h-3.3zM596.1 477.5h6.6v3.2h-6.6zM586.2 480.7h3.3v3.2h-3.3zM563.1 487.1h3.3v3.2h-3.3zM596.1 490.3h3.3v3.2h-3.3zM596.1 499.9h3.3v3.2h-3.3zM573 503.1h3.3v3.2h-3.3zM579.6 509.5h3.3v3.2h-3.3zM596.1 570.3h3.3v3.2h-3.3z"/>
<path fill="#003dff" d="M599.4 451.9h3.3v3.2h-3.3zM609.3 458.3h3.3v3.2h-3.3zM609.3 461.5h3.3v3.2h-3.3zM582.9 474.3h3.3v3.2h-3.3zM609.3 477.5h3.3v3.2h-3.3zM559.8 493.5h3.3v3.2h-3.3zM582.9 496.7h3.3v3.2h-3.3zM586.2 509.5h3.3v3.2h-3.3zM602.7 551.1h3.3v3.2h-3.3zM599.4 554.3h3.3v3.2h-3.3zM602.7 563.9h3.3v3.2h-3.3zM622.5 567.1h3.3v3.2h-3.3zM589.5 576.7h3.3v3.2h-3.3zM592.8 579.9h6.6v3.2h-6.6zM602.7 583.1h3.3v3.2h-3.3z"/>
<path fill="#0057ff" d="M606 451.9h3.3v3.2h-3.3zM556.5 467.9h3.3v3.2h-3.3zM606 490.3h3.3v3.2h-3.3zM635.7 528.7h3.3v3.2h-3.3zM635.7 535.1h3.3v3.2h-3.3zM632.4 538.3h3.3v3.2h-3.3zM582.9 544.7h3.3v3.2h-3.3zM586.2 554.3h3.3v3.2h-3.3zM619.2 560.7h3.3v3.2h-3.3zM576.3 563.9h3.3v3.2h-3.3zM609.3 567.1h3.3v3.2h-3.3zM615.9 567.1h3.3v3.2h-3.3zM619.2 570.3h3.3v3.2h-3.3zM606 579.9h3.3v3.2h-3.3zM592.8 583.1h3.3v3.2h-3.3z"/>
<path fill="#7cf924" d="M635.7 451.9h3.3v3.2h-3.3zM629.1 464.7h3.3v3.2h-3.3zM662.1 471.1h3.3v3.2h-3.3zM658.8 477.5h3.3v3.2h-3.3zM645.6 493.5h3.3v3.2h-3.3zM645.6 496.7h3.3v3.2h-3.3zM642.3 499.9h3.3v3.2h-3.3z"/>
<path fill="#fbe100" d="M642.3 451.9h3.3v3.2h-3.3zM642.3 455.1h3.3v3.2h-3.3zM642.3 458.3h3.3v3.2h-3.3zM635.7 464.7h3.3v3.2h-3.3zM632.4 474.3h3.3v3.2h-3.3zM635.7 477.5h3.3v3.2h-3.3zM629.1 490.3h3.3v3.2h-3.3zM622.5 493.5h3.3v3.2h-3.3zM615.9 503.1h3.3v3.2h-3.3zM632.4 506.3h3.3v3.2h-3.3zM619.2 509.5h3.3v3.2h-3.3zM615.9 512.7h3.3v3.2h-3.3zM622.5 512.7h3.3v3.2h-3.3zM619.2 515.9h3.3v3.2h-3.3z"/>
<path fill="#ffa300" d="M645.6 451.9h3.3v3.2h-3.3zM645.6 458.3h9.9v3.2h-9.9zM658.8 458.3h3.3v3.2h-3.3zM642.3 467.9h3.3v3.2h-3.3zM652.2 467.9h3.3v3.2h-3.3zM639 474.3h3.3v3.2h-3.3zM645.6 474.3h3.3v3.2h-3.3zM645.6 477.5h3.3v3.2h-3.3zM632.4 503.1h3.3v3.2h-3.3z"/>
<path fill="#fcd000" d="M648.9 451.9h3.3v3.2h-3.3zM662.1 451.9h3.3v3.2h-3.3zM658.8 455.1h3.3v3.2h-3.3zM655.5 461.5h3.3v3.2h-3.3zM652.2 464.7h3.3v3.2h-3.3zM639 471.1h3.3v3.2h-3.3zM648.9 471.1h3.3v3.2h-3.3zM652.2 474.3h3.3v3.2h-3.3zM629.1 477.5h3.3v3.2h-3.3zM632.4 483.9h3.3v3.2h-3.3zM629.1 487.1h3.3v3.2h-3.3zM632.4 490.3h3.3v3.2h-3.3zM629.1 493.5h3.3v3.2h-3.3zM635.7 499.9h3.3v3.2h-3.3z"/>
<path fill="#fcd800" d="M652.2 451.9h3.3v3.2h-3.3zM652.2 455.1h3.3v3.2h-3.3zM639 458.3h3.3v3.2h-3.3zM635.7 461.5h3.3v3.2h-3.3zM652.2 461.5h3.3v3.2h-3.3zM632.4 471.1h3.3v3.2h-3.3zM642.3 474.3h3.3v3.2h-3.3zM652.2 480.7h3.3v3.2h-3.3zM645.6 490.3h3.3v3.2h-3.3zM625.8 499.9h3.3v3.2h-3.3zM619.2 519.1h3.3v3.2h-3.3z"/>
<path fill="#0020ff" d="M573 455.1h6.6v3.2h-6.6zM573 458.3h3.3v3.2h-3.3zM606 458.3h3.3v3.2h-3.3zM566.4 464.7h3.3v3.2h-3.3zM579.6 464.7h3.3v3.2h-3.3zM609.3 464.7h3.3v3.2h-3.3zM576.3 474.3h3.3v3.2h-3.3zM606 474.3h3.3v3.2h-3.3zM563.1 477.5h3.3v3.2h-3.3zM589.5 477.5h3.3v3.2h-3.3zM569.7 480.7h3.3v3.2h-3.3zM559.8 483.9h3.3v3.2h-3.3zM606 487.1h3.3v3.2h-3.3zM563.1 490.3h3.3v3.2h-3.3zM563.1 493.5h3.3v3.2h-3.3zM573 499.9h3.3v3.2h-3.3zM576.3 506.3h3.3v3.2h-3.3zM576.3 509.5h3.3v3.2h-3.3zM615.9 547.9h3.3v3.2h-3.3zM622.5 551.1h3.3v3.2h-3.3zM602.7 570.3h3.3v3.2h-3.3zM602.7 573.5h3.3v3.2h-3.3zM606 576.7h3.3v3.2h-3.3z"/>
<path fill="#0003ff" d="M589.5 455.1h3.3v3.2h-3.3zM576.3 458.3h3.3v3.2h-3.3zM606 461.5h3.3v3.2h-3.3zM606 464.7h3.3v3.2h-3.3zM579.6 471.1h3.3v3.2h-3.3zM566.4 474.3h3.3v3.2h-3.3zM596.1 474.3h3.3v3.2h-3.3zM569.7 477.5h3.3v3.2h-3.3zM579.6 477.5h3.3v3.2h-3.3zM589.5 480.7h3.3v3.2h-3.3zM599.4 480.7h6.6v3.2h-6.6zM586.2 483.9h3.3v3.2h-3.3zM596.1 483.9h3.3v3.2h-3.3zM573 487.1h3.3v3.2h-3.3zM596.1 487.1h3.3v3.2h-3.3zM569.7 490.3h3.3v3.2h-3.3zM592.8 490.3h3.3v3.2h-3.3zM592.8 493.5h9.9v3.2h-9.9zM576.3 496.7h3.3v3.2h-3.3zM592.8 496.7h3.3v3.2h-3.3zM569.7 499.9h3.3v3.2h-3.3zM586.2 503.1h9.9v3.2h-9.9zM589.5 512.7h3.3v3.2h-3.3z"/>
<path fill="#0000e5" d="M596.1 455.1h3.3v3.2h-3.3zM579.6 458.3h3.3v3.2h-3.3zM582.9 461.5h6.6v3.2h-6.6zM586.2 464.7h3.3v3.2h-3.3zM582.9 467.9h3.3v3.2h-3.3zM596.1 467.9h3.3v3.2h-3.3zM606 467.9h3.3v3.2h-3.3zM586.2 474.3h6.6v3.2h-6.6zM576.3 480.7h3.3v3.2h-3.3zM576.3 483.9h3.3v3.2h-3.3zM589.5 487.1h3.3v3.2h-3.3zM599.4 490.3h3.3v3.2h-3.3zM582.9 493.5h3.3v3.2h-3.3zM576.3 503.1h3.3v3.2h-3.3zM582.9 509.5h3.3v3.2h-3.3zM596.1 567.1h3.3v3.2h-3.3zM599.4 573.5h3.3v3.2h-3.3z"/>
<path fill="#0011ff" d="M602.7 455.1h3.3v3.2h-3.3zM569.7 458.3h3.3v3.2h-3.3zM566.4 461.5h3.3v3.2h-3.3zM576.3 464.7h3.3v3.2h-3.3zM559.8 467.9h3.3v3.2h-3.3zM579.6 467.9h3.3v3.2h-3.3zM586.2 467.9h3.3v3.2h-3.3zM576.3 471.1h3.3v3.2h-3.3zM579.6 474.3h3.3v3.2h-3.3zM602.7 474.3h3.3v3.2h-3.3zM582.9 477.5h3.3v3.2h-3.3zM559.8 480.7h3.3v3.2h-3.3zM592.8 480.7h3.3v3.2h-3.3zM599.4 483.9h3.3v3.2h-3.3zM592.8 487.1h3.3v3.2h-3.3zM602.7 487.1h3.3v3.2h-3.3zM579.6 490.3h3.3v3.2h-3.3zM589.5 493.5h3.3v3.2h-3.3zM582.9 499.9h3.3v3.2h-3.3zM582.9 512.7h3.3v3.2h-3.3zM592.8 512.7h3.3v3.2h-3.3zM592.8 567.1h3.3v3.2h-3.3zM599.4 570.3h3.3v3.2h-3.3zM602.7 576.7h3.3v3.2h-3.3z"/>
<path fill="#c3f708" d="M635.7 455.1h3.3v3.2h-3.3zM658.8 474.3h3.3v3.2h-3.3zM655.5 477.5h3.3v3.2h-3.3zM622.5 503.1h3.3v3.2h-3.3zM635.7 503.1h3.3v3.2h-3.3zM615.9 515.9h3.3v3.2h-3.3zM606 525.5h3.3v3.2h-3.3zM602.7 531.9h3.3v3.2h-3.3zM602.7 535.1h3.3v3.2h-3.3z"/>
<path fill="#febf00" d="M648.9 455.1h3.3v3.2h-3.3zM645.6 461.5h3.3v3.2h-3.3zM655.5 464.7h6.6v3.2h-6.6zM639 477.5h3.3v3.2h-3.3zM629.1 480.7h3.3v3.2h-3.3zM635.7 487.1h3.3v3.2h-3.3zM629.1 496.7h3.3v3.2h-3.3zM625.8 503.1h3.3v3.2h-3.3zM612.6 519.1h3.3v3.2h-3.3z"/>
<path fill="#9bf917" d="M665.4 455.1h3.3v3.2h-3.3zM625.8 477.5h3.3v3.2h-3.3zM622.5 483.9h3.3v3.2h-3.3zM619.2 499.9h3.3v3.2h-3.3zM629.1 512.7h3.3v3.2h-3.3zM606 531.9h3.3v3.2h-3.3z"/>
<path fill="#0000db" d="M582.9 458.3h3.3v3.2h-3.3zM592.8 464.7h3.3v3.2h-3.3zM589.5 467.9h3.3v3.2h-3.3zM589.5 471.1h3.3v3.2h-3.3zM592.8 477.5h3.3v3.2h-3.3zM566.4 483.9h3.3v3.2h-3.3zM573 483.9h3.3v3.2h-3.3zM579.6 483.9h3.3v3.2h-3.3zM602.7 483.9h3.3v3.2h-3.3zM569.7 487.1h3.3v3.2h-3.3zM576.3 487.1h6.6v3.2h-6.6zM586.2 487.1h3.3v3.2h-3.3z"/>
<path fill="#0000aa" d="M596.1 458.3h3.3v3.2h-3.3zM599.4 467.9h3.3v3.2h-3.3z"/>
<path fill="#0000d1" d="M599.4 458.3h3.3v3.2h-3.3zM596.1 464.7h9.9v3.2h-9.9zM586.2 471.1h3.3v3.2h-3.3zM592.8 474.3h3.3v3.2h-3.3zM606 477.5h3.3v3.2h-3.3zM573 480.7h3.3v3.2h-3.3zM596.1 480.7h3.3v3.2h-3.3zM566.4 487.1h3.3v3.2h-3.3z"/>
<path fill="#00a6fe" d="M612.6 458.3h6.6v3.2h-6.6zM612.6 471.1h3.3v3.2h-3.3zM609.3 490.3h3.3v3.2h-3.3zM599.4 512.7h3.3v3.2h-3.3zM632.4 522.3h3.3v3.2h-3.3zM625.8 538.3h3.3v3.2h-3.3zM586.2 541.5h3.3v3.2h-3.3zM586.2 547.9h3.3v3.2h-3.3zM629.1 551.1h3.3v3.2h-3.3zM629.1 557.5h3.3v3.2h-3.3zM619.2 579.9h3.3v3.2h-3.3zM579.6 583.1h3.3v3.2h-3.3zM589.5 583.1h3.3v3.2h-3.3zM609.3 583.1h3.3v3.2h-3.3zM615.9 583.1h3.3v3.2h-3.3zM589.5 586.3h3.3v3.2h-3.3zM615.9 586.3h3.3v3.2h-3.3zM615.9 589.5h3.3v3.2h-3.3zM622.5 592.7h3.3v3.2h-3.3zM612.6 599.1h3.3v3.2h-3.3zM619.2 627.9h3.3v3.2h-3.3z"/>
<path fill="#6dfa2a" d="M632.4 458.3h3.3v3.2h-3.3zM629.1 467.9h3.3v3.2h-3.3zM612.6 503.1h3.3v3.2h-3.3zM606 522.3h3.3v3.2h-3.3zM599.4 528.7h3.3v3.2h-3.3zM612.6 528.7h6.6v3.2h-6.6zM642.3 650.3h3.3v3.2h-3.3z"/>
<path fill="#feb600" d="M655.5 458.3h3.3v3.2h-3.3zM639 461.5h3.3v3.2h-3.3zM658.8 467.9h3.3v3.2h-3.3zM635.7 471.1h3.3v3.2h-3.3zM642.3 477.5h3.3v3.2h-3.3zM648.9 477.5h3.3v3.2h-3.3zM625.8 506.3h3.3v3.2h-3.3zM619.2 512.7h3.3v3.2h-3.3z"/>
<path fill="#000aff" d="M579.6 461.5h3.3v3.2h-3.3zM556.5 464.7h3.3v3.2h-3.3zM569.7 467.9h3.3v3.2h-3.3zM592.8 471.1h3.3v3.2h-3.3zM579.6 480.7h3.3v3.2h-3.3zM606 480.7h3.3v3.2h-3.3zM563.1 483.9h3.3v3.2h-3.3zM573 490.3h3.3v3.2h-3.3zM566.4 493.5h3.3v3.2h-3.3zM576.3 499.9h3.3v3.2h-3.3zM589.5 499.9h3.3v3.2h-3.3zM582.9 503.1h3.3v3.2h-3.3zM589.5 506.3h3.3v3.2h-3.3zM592.8 509.5h3.3v3.2h-3.3zM606 567.1h3.3v3.2h-3.3zM599.4 576.7h3.3v3.2h-3.3z"/>
<path fill="#0000be" d="M592.8 461.5h3.3v3.2h-3.3zM586.2 496.7h3.3v3.2h-3.3zM596.1 573.5h3.3v3.2h-3.3zM596.1 576.7h3.3v3.2h-3.3z"/>
<path fill="#ff9800" d="M648.9 461.5h3.3v3.2h-3.3zM642.3 464.7h3.3v3.2h-3.3zM645.6 471.1h3.3v3.2h-3.3z"/>
<path fill="#0000c8" d="M582.9 464.7h3.3v3.2h-3.3zM589.5 464.7h3.3v3.2h-3.3zM602.7 467.9h3.3v3.2h-3.3zM596.1 471.1h3.3v3.2h-3.3z"/>
<path fill="#009cff" d="M612.6 464.7h3.3v3.2h-3.3zM612.6 467.9h3.3v3.2h-3.3zM612.6 483.9h3.3v3.2h-3.3zM556.5 490.3h3.3v3.2h-3.3zM592.8 515.9h3.3v3.2h-3.3zM576.3 519.1h3.3v3.2h-3.3zM589.5 519.1h6.6v3.2h-6.6zM582.9 522.3h3.3v3.2h-3.3zM639 522.3h6.6v3.2h-6.6zM639 535.1h3.3v3.2h-3.3zM639 538.3h3.3v3.2h-3.3zM619.2 541.5h3.3v3.2h-3.3zM632.4 541.5h6.6v3.2h-6.6zM576.3 547.9h3.3v3.2h-3.3zM589.5 547.9h3.3v3.2h-3.3zM586.2 551.1h3.3v3.2h-3.3zM579.6 557.5h3.3v3.2h-3.3zM579.6 563.9h3.3v3.2h-3.3zM625.8 563.9h3.3v3.2h-3.3zM579.6 567.1h3.3v3.2h-3.3zM625.8 573.5h6.6v3.2h-6.6zM586.2 583.1h3.3v3.2h-3.3zM596.1 586.3h3.3v3.2h-3.3zM612.6 586.3h3.3v3.2h-3.3zM612.6 592.7h3.3v3.2h-3.3z"/>
<path fill="#ffad00" d="M639 464.7h3.3v3.2h-3.3zM639 467.9h3.3v3.2h-3.3zM635.7 480.7h3.3v3.2h-3.3zM632.4 487.1h3.3v3.2h-3.3zM645.6 487.1h3.3v3.2h-3.3z"/>
<path fill="#ff8d00" d="M645.6 464.7h6.6v3.2h-6.6zM648.9 480.7h3.3v3.2h-3.3z"/>
<path fill="#fe5600" d="M645.6 467.9h3.3v3.2h-3.3zM632.4 493.5h3.3v3.2h-3.3zM639 493.5h3.3v3.2h-3.3zM629.1 503.1h3.3v3.2h-3.3z"/>
<path fill="#ff7700" d="M648.9 467.9h3.3v3.2h-3.3zM642.3 480.7h3.3v3.2h-3.3z"/>
<path fill="#ff8200" d="M642.3 471.1h3.3v3.2h-3.3zM642.3 490.3h3.3v3.2h-3.3z"/>
<path fill="#0061ff" d="M612.6 477.5h3.3v3.2h-3.3zM609.3 480.7h3.3v3.2h-3.3zM596.1 509.5h3.3v3.2h-3.3zM589.5 515.9h3.3v3.2h-3.3zM632.4 535.1h3.3v3.2h-3.3zM635.7 538.3h3.3v3.2h-3.3zM592.8 544.7h6.6v3.2h-6.6zM619.2 544.7h9.9v3.2h-9.9zM596.1 547.9h9.9v3.2h-9.9zM576.3 551.1h3.3v3.2h-3.3zM589.5 551.1h3.3v3.2h-3.3zM609.3 551.1h3.3v3.2h-3.3zM576.3 554.3h3.3v3.2h-3.3zM589.5 554.3h3.3v3.2h-3.3zM586.2 557.5h3.3v3.2h-3.3zM596.1 557.5h3.3v3.2h-3.3zM612.6 557.5h3.3v3.2h-3.3zM622.5 563.9h3.3v3.2h-3.3zM615.9 576.7h3.3v3.2h-3.3zM579.6 579.9h3.3v3.2h-3.3zM602.7 579.9h3.3v3.2h-3.3zM599.4 586.3h3.3v3.2h-3.3z"/>
<path fill="#8bf91d" d="M622.5 480.7h3.3v3.2h-3.3zM655.5 480.7h3.3v3.2h-3.3zM642.3 496.7h3.3v3.2h-3.3zM639 503.1h3.3v3.2h-3.3zM609.3 509.5h3.3v3.2h-3.3zM609.3 528.7h3.3v3.2h-3.3zM599.4 531.9h3.3v3.2h-3.3zM609.3 531.9h3.3v3.2h-3.3z"/>
<path fill="#f32900" d="M645.6 480.7h3.3v3.2h-3.3zM632.4 496.7h6.6v3.2h-6.6z"/>
<path fill="#00b9fc" d="M553.2 483.9h3.3v3.2h-3.3zM609.3 493.5h3.3v3.2h-3.3zM606 499.9h3.3v3.2h-3.3zM599.4 506.3h3.3v3.2h-3.3zM596.1 519.1h3.3v3.2h-3.3zM639 519.1h3.3v3.2h-3.3zM629.1 528.7h3.3v3.2h-3.3zM609.3 541.5h9.9v3.2h-9.9zM573 547.9h3.3v3.2h-3.3zM573 557.5h3.3v3.2h-3.3zM635.7 557.5h3.3v3.2h-3.3zM573 563.9h3.3v3.2h-3.3zM629.1 567.1h3.3v3.2h-3.3zM619.2 586.3h6.6v3.2h-6.6zM592.8 589.5h3.3v3.2h-3.3z"/>
<path fill="#fb4a00" d="M639 483.9h3.3v3.2h-3.3z"/>
<path fill="#d40700" d="M642.3 483.9h3.3v3.2h-3.3zM635.7 490.3h3.3v3.2h-3.3z"/>
<path fill="#f01e00" d="M645.6 483.9h3.3v3.2h-3.3z"/>
<path fill="#b50300" d="M639 487.1h3.3v3.2h-3.3z"/>
<path fill="#de0800" d="M642.3 487.1h3.3v3.2h-3.3z"/>
<path fill="#f83f00" d="M639 490.3h3.3v3.2h-3.3zM635.7 493.5h3.3v3.2h-3.3z"/>
<path fill="#ed1300" d="M629.1 499.9h3.3v3.2h-3.3z"/>
<path fill="#ff6100" d="M632.4 499.9h3.3v3.2h-3.3z"/>
<path fill="#006bff" d="M576.3 512.7h3.3v3.2h-3.3zM596.1 512.7h3.3v3.2h-3.3zM582.9 519.1h3.3v3.2h-3.3zM639 525.5h3.3v3.2h-3.3zM632.4 528.7h3.3v3.2h-3.3zM639 531.9h3.3v3.2h-3.3zM612.6 547.9h3.3v3.2h-3.3zM592.8 551.1h3.3v3.2h-3.3zM606 554.3h3.3v3.2h-3.3zM615.9 554.3h3.3v3.2h-3.3zM582.9 557.5h3.3v3.2h-3.3zM592.8 557.5h3.3v3.2h-3.3zM606 557.5h3.3v3.2h-3.3zM586.2 560.7h3.3v3.2h-3.3zM606 560.7h6.6v3.2h-6.6zM622.5 560.7h3.3v3.2h-3.3zM586.2 563.9h6.6v3.2h-6.6zM582.9 567.1h3.3v3.2h-3.3zM609.3 570.3h3.3v3.2h-3.3zM625.8 570.3h3.3v3.2h-3.3zM609.3 576.7h3.3v3.2h-3.3z"/>
</g>
<path d="M499.6 420.5 L499.7 421.5 L499.9 422.9 L500.1 424.5 L500.3 426.3 L500.6 428.1 L500.8 430 L501.1 431.7 L501.4 433.2 L501.7 434.5 L501.9 435.8 L502.2 437 L502.5 438.1 L502.8 439.2 L503.2 440.3 L503.6 441.3 L504.1 442.4 L504.6 443.5 L505.2 444.5 L505.8 445.6 L506.5 446.6 L507.2 447.6 L507.9 448.6 L508.7 449.6 L509.6 450.6 L510.5 451.6 L511.5 452.5 L512.6 453.4 L513.7 454.4 L514.9 455.3 L516.1 456.2 L517.4 457 L518.7 457.9 L520.1 458.7 L521.5 459.5 L523 460.3 L524.5 461.1 L526.1 461.9 L527.8 462.7 L529.6 463.5 L531.5 464.3 L533.5 465.2 L535.7 466.1 L537.9 467 L540.3 467.9 L542.6 468.8 L545 469.8 L547.4 470.7 L549.7 471.6 L552 472.5 L554.3 473.4 L556.6 474.3 L558.9 475.2 L561.1 476.1 L563.4 477 L565.7 477.9 L568 478.9 L570.3 479.9 L572.6 480.9 L575 482 L577.3 483.1 L579.6 484.1 L581.9 485.2 L584.1 486.2 L586.2 487.1 L588.3 488 L590.3 488.9 L592.3 489.7 L594.3 490.5 L596.1 491.3 L597.9 492.1 L599.4 492.8 L600.8 493.5 L602 494.2 L602.9 494.8 L603.7 495.3 L604.4 495.9 L605 496.4 L605.5 497 L606 497.5 L606.5 498 L607 498.5 L607.4 499 L607.8 499.5 L608.2 499.9 L608.4 500.4 L608.6 500.9 L608.7 501.4 L608.7 502 L608.6 502.6 L608.3 503.2 L608 503.8 L607.6 504.4 L607.1 505.1 L606.6 505.8 L606 506.6 L605.4 507.4 L604.8 508.3 L604.1 509.3 L603.4 510.3 L602.7 511.3 L601.9 512.4 L601 513.5 L600.2 514.6 L599.3 515.6 L598.4 516.6 L597.4 517.6 L596.5 518.6 L595.5 519.6 L594.4 520.7 L593.3 521.7 L592.2 522.7 L591.1 523.8 L589.9 524.9 L588.6 526 L587.3 527.2 L586 528.3 L584.7 529.5 L583.4 530.7 L582.1 531.8 L580.9 533 L579.8 534.2 L578.6 535.4 L577.5 536.6 L576.4 537.8 L575.4 539 L574.4 540.1 L573.5 541.2 L572.7 542.2 L572 543.1 L571.3 543.9 L570.8 544.6 L570.3 545.3 L569.8 546 L569.4 546.7 L569 547.5 L568.6 548.3 L568.3 549.2 L568 550.2 L567.7 551.1 L567.5 552.1 L567.3 553.2 L567.1 554.3 L566.8 555.4 L566.6 556.5 L566.4 557.7 L566.1 559 L565.9 560.3 L565.7 561.6 L565.4 562.9 L565.2 564.2 L564.9 565.5 L564.5 566.7 L564.1 567.8 L563.8 568.8 L563.4 569.7 L563 570.7 L562.5 571.6 L561.9 572.6 L561.2 573.7 L560.4 574.9 L559.4 576.2 L558.3 577.7 L557 579.3 L555.7 580.9 L554.3 582.5 L552.9 584.1 L551.5 585.6 L550.2 587.1 L548.9 588.5 L547.6 589.9 L546.4 591.2 L545.1 592.5 L543.8 593.8 L542.5 595.1 L541.3 596.2 L540 597.4 L538.8 598.4 L537.5 599.3 L536.3 600.1 L535.1 600.9 L533.9 601.7 L532.6 602.7 L531.4 603.8 L530 605.1 L528.6 606.7 L527 608.5 L525.4 610.4 L523.8 612.4 L522.2 614.6 L520.7 616.7 L519.2 618.8 L517.8 620.8 L516.5 622.8 L515.3 624.7 L514.2 626.7 L513.1 628.7 L512 630.7 L511 632.6 L510 634.6 L509 636.6 L508 638.6 L507 640.7 L506 642.9 L505.1 645 L504.2 647.1 L503.4 649 L502.7 650.8 L502 652.4 L501.4 653.8 L501 655.1 L500.6 656.2 L500.3 657.2 L500 658.1 L499.8 658.8 L499.6 659.5 L499.4 660" fill="none" stroke="#fff" stroke-width="2.1"/>
<path d="M499.4 660.5 L500.3 660 L501.5 659.5 L502.9 658.8 L504.4 658 L506.1 657.1 L507.8 656.2 L509.5 655.4 L511 654.5 L512.5 653.7 L514 652.8 L515.5 651.9 L517 651 L518.5 650 L520 649.1 L521.5 648.1 L523 647.1 L524.5 646.1 L526.1 645.1 L527.7 644 L529.2 642.9 L530.8 641.9 L532.3 640.7 L533.8 639.6 L535.3 638.4 L536.7 637.2 L538.1 635.9 L539.5 634.7 L540.9 633.4 L542.2 632 L543.5 630.7 L544.7 629.3 L545.8 627.9 L546.8 626.5 L547.8 625 L548.6 623.5 L549.4 622 L550.2 620.4 L551 618.8 L551.9 617.2 L552.8 615.6 L553.8 613.9 L554.8 612.2 L555.9 610.5 L557 608.7 L558.1 606.9 L559.2 605.1 L560.4 603.4 L561.6 601.6 L562.8 599.9 L564.1 598.2 L565.3 596.5 L566.6 594.8 L568 593.1 L569.3 591.4 L570.7 589.5 L572.1 587.6 L573.6 585.6 L575.1 583.4 L576.6 581.2 L578.2 578.9 L579.8 576.6 L581.3 574.4 L582.8 572.1 L584.3 570 L585.7 567.9 L587.1 565.9 L588.4 563.8 L589.7 561.8 L591 559.9 L592.3 557.9 L593.6 556.1 L594.9 554.3 L596.3 552.5 L597.7 550.8 L599.1 549.1 L600.5 547.4 L601.9 545.9 L603.1 544.4 L604.3 543.1 L605.4 542 L606.3 541.1 L607 540.3 L607.7 539.7 L608.3 539.2 L608.8 538.7 L609.3 538.3 L609.9 538 L610.6 537.6 L611.3 537.2 L612.1 536.8 L612.8 536.4 L613.6 536.1 L614.4 535.9 L615.2 535.7 L616.1 535.6 L617 535.7 L618 535.9 L619 536.1 L620.1 536.5 L621.3 536.9 L622.4 537.5 L623.5 538.1 L624.5 538.9 L625.4 539.8 L626.2 540.8 L627 542 L627.7 543.3 L628.3 544.7 L629 546.2 L629.6 547.7 L630.2 549.4 L630.9 551.1 L631.6 552.9 L632.3 554.7 L633 556.7 L633.7 558.7 L634.4 560.8 L635.1 563 L635.8 565.3 L636.5 567.7 L637.2 570.2 L637.8 572.7 L638.5 575.4 L639.2 578.1 L639.8 580.9 L640.5 583.8 L641.2 586.8 L642 589.9 L642.8 593.1 L643.6 596.5 L644.5 600 L645.4 603.6 L646.3 607.2 L647.2 610.8 L648.1 614.3 L649 617.7 L649.9 621 L650.7 624.5 L651.5 627.9 L652.4 631.2 L653.2 634.4 L654.1 637.4 L655 640.2 L655.9 642.6 L656.8 644.7 L657.7 646.5 L658.7 648 L659.6 649.4 L660.6 650.5 L661.7 651.6 L662.9 652.7 L664.2 653.7 L665.7 654.7 L667.5 655.6 L669.5 656.4 L671.5 657.1 L673.4 657.8 L675.3 658.4 L676.9 658.9 L678.1 659.3 L679 659.6 L679.7 659.8 L680.1 660 L680.4 660 L680.6 660 L680.7 660 L680.9 660 L681 660" fill="none" stroke="#fff" stroke-width="2.1"/>
<rect x="497.1" y="419.9" width="183.6" height="244.3" fill="none" stroke="#111" stroke-width="1.3"/>
<rect x="498.5" y="667.7" width="182.7" height="244.3" fill="#00fe6e"/>
<g shape-rendering="crispEdges">
<path fill="#00fd79" d="M508.4 667.7h3.3v3.2h-3.3zM561.2 667.7h3.3v3.2h-3.3zM577.7 667.7h3.3v3.2h-3.3zM587.6 667.7h9.9v3.2h-9.9zM600.8 667.7h3.3v3.2h-3.3zM610.7 667.7h9.9v3.2h-9.9zM623.9 667.7h6.6v3.2h-6.6zM637.1 667.7h9.9v3.2h-9.9zM650.3 667.7h3.3v3.2h-3.3zM656.9 667.7h3.3v3.2h-3.3zM666.8 667.7h3.3v3.2h-3.3zM531.5 670.9h6.6v3.2h-6.6zM551.3 670.9h3.3v3.2h-3.3zM561.2 670.9h6.6v3.2h-6.6zM577.7 670.9h6.6v3.2h-6.6zM587.6 670.9h16.5v3.2h-16.5zM607.4 670.9h3.3v3.2h-3.3zM614 670.9h36.3v3.2h-36.3zM673.4 670.9h3.3v3.2h-3.3zM680 670.9h1.2v3.2h-1.2zM501.8 674.1h3.3v3.2h-3.3zM551.3 674.1h6.6v3.2h-6.6zM567.8 674.1h3.3v3.2h-3.3zM574.4 674.1h3.3v3.2h-3.3zM581 674.1h33v3.2h-33zM617.3 674.1h3.3v3.2h-3.3zM623.9 674.1h23.1v3.2h-23.1zM653.6 674.1h9.9v3.2h-9.9zM666.8 674.1h3.3v3.2h-3.3zM524.9 677.3h3.3v3.2h-3.3zM531.5 677.3h3.3v3.2h-3.3zM541.4 677.3h6.6v3.2h-6.6zM561.2 677.3h3.3v3.2h-3.3zM567.8 677.3h6.6v3.2h-6.6zM577.7 677.3h9.9v3.2h-9.9zM590.9 677.3h6.6v3.2h-6.6zM604.1 677.3h13.2v3.2h-13.2zM620.6 677.3h13.2v3.2h-13.2zM637.1 677.3h9.9v3.2h-9.9zM656.9 677.3h3.3v3.2h-3.3zM666.8 677.3h3.3v3.2h-3.3zM680 677.3h1.2v3.2h-1.2zM508.4 680.5h3.3v3.2h-3.3zM538.1 680.5h3.3v3.2h-3.3zM544.7 680.5h9.9v3.2h-9.9zM567.8 680.5h36.3v3.2h-36.3zM607.4 680.5h52.8v3.2h-52.8zM666.8 680.5h3.3v3.2h-3.3zM673.4 680.5h3.3v3.2h-3.3zM508.4 683.7h3.3v3.2h-3.3zM518.3 683.7h3.3v3.2h-3.3zM551.3 683.7h9.9v3.2h-9.9zM571.1 683.7h6.6v3.2h-6.6zM584.3 683.7h29.7v3.2h-29.7zM623.9 683.7h3.3v3.2h-3.3zM633.8 683.7h16.5v3.2h-16.5zM653.6 683.7h6.6v3.2h-6.6zM663.5 683.7h9.9v3.2h-9.9zM521.6 686.9h3.3v3.2h-3.3zM544.7 686.9h3.3v3.2h-3.3zM554.6 686.9h3.3v3.2h-3.3zM567.8 686.9h29.7v3.2h-29.7zM600.8 686.9h3.3v3.2h-3.3zM610.7 686.9h9.9v3.2h-9.9zM623.9 686.9h36.3v3.2h-36.3zM673.4 686.9h3.3v3.2h-3.3zM515 690.1h3.3v3.2h-3.3zM524.9 690.1h3.3v3.2h-3.3zM534.8 690.1h3.3v3.2h-3.3zM544.7 690.1h13.2v3.2h-13.2zM561.2 690.1h26.4v3.2h-26.4zM590.9 690.1h6.6v3.2h-6.6zM600.8 690.1h3.3v3.2h-3.3zM610.7 690.1h6.6v3.2h-6.6zM623.9 690.1h29.7v3.2h-29.7zM656.9 690.1h3.3v3.2h-3.3zM663.5 690.1h17.7v3.2h-17.7zM511.7 693.3h3.3v3.2h-3.3zM521.6 693.3h9.9v3.2h-9.9zM538.1 693.3h3.3v3.2h-3.3zM548 693.3h3.3v3.2h-3.3zM554.6 693.3h16.5v3.2h-16.5zM574.4 693.3h3.3v3.2h-3.3zM581 693.3h16.5v3.2h-16.5zM600.8 693.3h23.1v3.2h-23.1zM633.8 693.3h9.9v3.2h-9.9zM647 693.3h16.5v3.2h-16.5zM666.8 693.3h14.4v3.2h-14.4zM524.9 696.5h3.3v3.2h-3.3zM534.8 696.5h6.6v3.2h-6.6zM548 696.5h42.9v3.2h-42.9zM594.2 696.5h13.2v3.2h-13.2zM610.7 696.5h9.9v3.2h-9.9zM627.2 696.5h3.3v3.2h-3.3zM640.4 696.5h3.3v3.2h-3.3zM647 696.5h9.9v3.2h-9.9zM660.2 696.5h13.2v3.2h-13.2zM676.7 696.5h4.5v3.2h-4.5zM505.1 699.7h3.3v3.2h-3.3zM548 699.7h36.3v3.2h-36.3zM590.9 699.7h6.6v3.2h-6.6zM600.8 699.7h3.3v3.2h-3.3zM614 699.7h3.3v3.2h-3.3zM623.9 699.7h3.3v3.2h-3.3zM630.5 699.7h6.6v3.2h-6.6zM640.4 699.7h3.3v3.2h-3.3zM650.3 699.7h13.2v3.2h-13.2zM666.8 699.7h9.9v3.2h-9.9zM498.5 702.9h3.3v3.2h-3.3zM515 702.9h3.3v3.2h-3.3zM534.8 702.9h3.3v3.2h-3.3zM541.4 702.9h9.9v3.2h-9.9zM554.6 702.9h9.9v3.2h-9.9zM567.8 702.9h6.6v3.2h-6.6zM577.7 702.9h3.3v3.2h-3.3zM584.3 702.9h6.6v3.2h-6.6zM600.8 702.9h3.3v3.2h-3.3zM637.1 702.9h6.6v3.2h-6.6zM650.3 702.9h13.2v3.2h-13.2zM670.1 702.9h3.3v3.2h-3.3zM676.7 702.9h4.5v3.2h-4.5zM501.8 706.1h3.3v3.2h-3.3zM528.2 706.1h3.3v3.2h-3.3zM534.8 706.1h3.3v3.2h-3.3zM541.4 706.1h6.6v3.2h-6.6zM551.3 706.1h23.1v3.2h-23.1zM594.2 706.1h6.6v3.2h-6.6zM627.2 706.1h6.6v3.2h-6.6zM637.1 706.1h3.3v3.2h-3.3zM643.7 706.1h3.3v3.2h-3.3zM650.3 706.1h3.3v3.2h-3.3zM656.9 706.1h13.2v3.2h-13.2zM673.4 706.1h7.8v3.2h-7.8zM501.8 709.3h3.3v3.2h-3.3zM521.6 709.3h3.3v3.2h-3.3zM528.2 709.3h6.6v3.2h-6.6zM538.1 709.3h6.6v3.2h-6.6zM548 709.3h19.8v3.2h-19.8zM574.4 709.3h6.6v3.2h-6.6zM630.5 709.3h3.3v3.2h-3.3zM640.4 709.3h6.6v3.2h-6.6zM650.3 709.3h3.3v3.2h-3.3zM660.2 709.3h3.3v3.2h-3.3zM666.8 709.3h9.9v3.2h-9.9zM498.5 712.5h3.3v3.2h-3.3zM511.7 712.5h3.3v3.2h-3.3zM524.9 712.5h6.6v3.2h-6.6zM534.8 712.5h36.3v3.2h-36.3zM577.7 712.5h3.3v3.2h-3.3zM647 712.5h3.3v3.2h-3.3zM656.9 712.5h16.5v3.2h-16.5zM676.7 712.5h4.5v3.2h-4.5zM528.2 715.7h3.3v3.2h-3.3zM541.4 715.7h16.5v3.2h-16.5zM561.2 715.7h3.3v3.2h-3.3zM567.8 715.7h3.3v3.2h-3.3zM627.2 715.7h3.3v3.2h-3.3zM637.1 715.7h3.3v3.2h-3.3zM660.2 715.7h21v3.2h-21zM498.5 718.9h3.3v3.2h-3.3zM511.7 718.9h6.6v3.2h-6.6zM534.8 718.9h3.3v3.2h-3.3zM541.4 718.9h9.9v3.2h-9.9zM554.6 718.9h3.3v3.2h-3.3zM561.2 718.9h3.3v3.2h-3.3zM643.7 718.9h6.6v3.2h-6.6zM653.6 718.9h13.2v3.2h-13.2zM670.1 718.9h3.3v3.2h-3.3zM676.7 718.9h4.5v3.2h-4.5zM505.1 722.1h3.3v3.2h-3.3zM518.3 722.1h6.6v3.2h-6.6zM528.2 722.1h3.3v3.2h-3.3zM534.8 722.1h3.3v3.2h-3.3zM541.4 722.1h9.9v3.2h-9.9zM554.6 722.1h9.9v3.2h-9.9zM640.4 722.1h3.3v3.2h-3.3zM656.9 722.1h3.3v3.2h-3.3zM666.8 722.1h14.4v3.2h-14.4zM521.6 725.3h26.4v3.2h-26.4zM551.3 725.3h6.6v3.2h-6.6zM670.1 725.3h11.1v3.2h-11.1zM505.1 728.5h3.3v3.2h-3.3zM521.6 728.5h3.3v3.2h-3.3zM528.2 728.5h16.5v3.2h-16.5zM551.3 728.5h3.3v3.2h-3.3zM557.9 728.5h3.3v3.2h-3.3zM666.8 728.5h3.3v3.2h-3.3zM673.4 728.5h7.8v3.2h-7.8zM505.1 731.7h3.3v3.2h-3.3zM518.3 731.7h3.3v3.2h-3.3zM524.9 731.7h3.3v3.2h-3.3zM531.5 731.7h16.5v3.2h-16.5zM554.6 731.7h3.3v3.2h-3.3zM666.8 731.7h6.6v3.2h-6.6zM676.7 731.7h4.5v3.2h-4.5zM505.1 734.9h6.6v3.2h-6.6zM518.3 734.9h26.4v3.2h-26.4zM548 734.9h3.3v3.2h-3.3zM554.6 734.9h3.3v3.2h-3.3zM666.8 734.9h3.3v3.2h-3.3zM673.4 734.9h7.8v3.2h-7.8zM511.7 738.1h6.6v3.2h-6.6zM521.6 738.1h6.6v3.2h-6.6zM531.5 738.1h13.2v3.2h-13.2zM666.8 738.1h14.4v3.2h-14.4zM505.1 741.3h6.6v3.2h-6.6zM528.2 741.3h13.2v3.2h-13.2zM544.7 741.3h3.3v3.2h-3.3zM551.3 741.3h3.3v3.2h-3.3zM557.9 741.3h3.3v3.2h-3.3zM663.5 741.3h6.6v3.2h-6.6zM673.4 741.3h3.3v3.2h-3.3zM498.5 744.5h3.3v3.2h-3.3zM515 744.5h13.2v3.2h-13.2zM531.5 744.5h6.6v3.2h-6.6zM541.4 744.5h6.6v3.2h-6.6zM660.2 744.5h3.3v3.2h-3.3zM680 744.5h1.2v3.2h-1.2zM511.7 747.7h3.3v3.2h-3.3zM521.6 747.7h6.6v3.2h-6.6zM534.8 747.7h3.3v3.2h-3.3zM541.4 747.7h3.3v3.2h-3.3zM640.4 747.7h3.3v3.2h-3.3zM656.9 747.7h3.3v3.2h-3.3zM676.7 747.7h3.3v3.2h-3.3zM498.5 750.9h3.3v3.2h-3.3zM521.6 750.9h9.9v3.2h-9.9zM534.8 750.9h6.6v3.2h-6.6zM544.7 750.9h3.3v3.2h-3.3zM663.5 750.9h3.3v3.2h-3.3zM670.1 750.9h3.3v3.2h-3.3zM676.7 750.9h3.3v3.2h-3.3zM518.3 754.1h9.9v3.2h-9.9zM531.5 754.1h3.3v3.2h-3.3zM538.1 754.1h3.3v3.2h-3.3zM544.7 754.1h3.3v3.2h-3.3zM614 754.1h3.3v3.2h-3.3zM673.4 754.1h7.8v3.2h-7.8zM498.5 757.3h3.3v3.2h-3.3zM511.7 757.3h3.3v3.2h-3.3zM524.9 757.3h3.3v3.2h-3.3zM531.5 757.3h9.9v3.2h-9.9zM551.3 757.3h3.3v3.2h-3.3zM680 757.3h1.2v3.2h-1.2zM505.1 760.5h3.3v3.2h-3.3zM518.3 760.5h3.3v3.2h-3.3zM528.2 760.5h16.5v3.2h-16.5zM676.7 760.5h4.5v3.2h-4.5zM498.5 763.7h3.3v3.2h-3.3zM505.1 763.7h9.9v3.2h-9.9zM518.3 763.7h13.2v3.2h-13.2zM534.8 763.7h16.5v3.2h-16.5zM676.7 763.7h4.5v3.2h-4.5zM505.1 766.9h9.9v3.2h-9.9zM518.3 766.9h13.2v3.2h-13.2zM534.8 766.9h3.3v3.2h-3.3zM541.4 766.9h3.3v3.2h-3.3zM548 766.9h3.3v3.2h-3.3zM673.4 766.9h7.8v3.2h-7.8zM508.4 770.1h13.2v3.2h-13.2zM524.9 770.1h13.2v3.2h-13.2zM541.4 770.1h3.3v3.2h-3.3zM554.6 770.1h3.3v3.2h-3.3zM680 770.1h1.2v3.2h-1.2zM508.4 773.3h6.6v3.2h-6.6zM518.3 773.3h26.4v3.2h-26.4zM676.7 773.3h3.3v3.2h-3.3zM498.5 776.5h3.3v3.2h-3.3zM511.7 776.5h3.3v3.2h-3.3zM521.6 776.5h3.3v3.2h-3.3zM528.2 776.5h19.8v3.2h-19.8zM676.7 776.5h4.5v3.2h-4.5zM511.7 779.7h6.6v3.2h-6.6zM521.6 779.7h9.9v3.2h-9.9zM534.8 779.7h3.3v3.2h-3.3zM541.4 779.7h6.6v3.2h-6.6zM515 782.9h6.6v3.2h-6.6zM524.9 782.9h23.1v3.2h-23.1zM673.4 782.9h3.3v3.2h-3.3zM515 786.1h6.6v3.2h-6.6zM524.9 786.1h6.6v3.2h-6.6zM534.8 786.1h3.3v3.2h-3.3zM541.4 786.1h3.3v3.2h-3.3zM551.3 786.1h3.3v3.2h-3.3zM680 786.1h1.2v3.2h-1.2zM498.5 789.3h3.3v3.2h-3.3zM511.7 789.3h13.2v3.2h-13.2zM528.2 789.3h6.6v3.2h-6.6zM544.7 789.3h6.6v3.2h-6.6zM680 789.3h1.2v3.2h-1.2zM501.8 792.5h3.3v3.2h-3.3zM508.4 792.5h3.3v3.2h-3.3zM518.3 792.5h9.9v3.2h-9.9zM538.1 792.5h3.3v3.2h-3.3zM680 792.5h1.2v3.2h-1.2zM505.1 795.7h6.6v3.2h-6.6zM515 795.7h6.6v3.2h-6.6zM528.2 795.7h9.9v3.2h-9.9zM548 795.7h3.3v3.2h-3.3zM676.7 795.7h4.5v3.2h-4.5zM508.4 798.9h3.3v3.2h-3.3zM524.9 798.9h19.8v3.2h-19.8zM554.6 798.9h3.3v3.2h-3.3zM666.8 798.9h3.3v3.2h-3.3zM676.7 798.9h4.5v3.2h-4.5zM524.9 802.1h16.5v3.2h-16.5zM544.7 802.1h3.3v3.2h-3.3zM670.1 802.1h11.1v3.2h-11.1zM498.5 805.3h3.3v3.2h-3.3zM515 805.3h6.6v3.2h-6.6zM524.9 805.3h19.8v3.2h-19.8zM670.1 805.3h3.3v3.2h-3.3zM676.7 805.3h4.5v3.2h-4.5zM518.3 808.5h3.3v3.2h-3.3zM524.9 808.5h26.4v3.2h-26.4zM673.4 808.5h7.8v3.2h-7.8zM508.4 811.7h3.3v3.2h-3.3zM521.6 811.7h19.8v3.2h-19.8zM544.7 811.7h6.6v3.2h-6.6zM673.4 811.7h3.3v3.2h-3.3zM680 811.7h1.2v3.2h-1.2zM501.8 814.9h6.6v3.2h-6.6zM518.3 814.9h6.6v3.2h-6.6zM531.5 814.9h3.3v3.2h-3.3zM548 814.9h3.3v3.2h-3.3zM663.5 814.9h3.3v3.2h-3.3zM673.4 814.9h7.8v3.2h-7.8zM515 818.1h3.3v3.2h-3.3zM521.6 818.1h3.3v3.2h-3.3zM528.2 818.1h16.5v3.2h-16.5zM548 818.1h6.6v3.2h-6.6zM673.4 818.1h7.8v3.2h-7.8zM515 821.3h3.3v3.2h-3.3zM521.6 821.3h3.3v3.2h-3.3zM528.2 821.3h3.3v3.2h-3.3zM534.8 821.3h13.2v3.2h-13.2zM554.6 821.3h6.6v3.2h-6.6zM666.8 821.3h14.4v3.2h-14.4zM498.5 824.5h3.3v3.2h-3.3zM508.4 824.5h3.3v3.2h-3.3zM515 824.5h6.6v3.2h-6.6zM524.9 824.5h3.3v3.2h-3.3zM531.5 824.5h13.2v3.2h-13.2zM548 824.5h9.9v3.2h-9.9zM666.8 824.5h13.2v3.2h-13.2zM515 827.7h3.3v3.2h-3.3zM528.2 827.7h19.8v3.2h-19.8zM551.3 827.7h13.2v3.2h-13.2zM660.2 827.7h6.6v3.2h-6.6zM670.1 827.7h11.1v3.2h-11.1zM501.8 830.9h3.3v3.2h-3.3zM511.7 830.9h3.3v3.2h-3.3zM518.3 830.9h9.9v3.2h-9.9zM531.5 830.9h23.1v3.2h-23.1zM564.5 830.9h3.3v3.2h-3.3zM666.8 830.9h14.4v3.2h-14.4zM505.1 834.1h3.3v3.2h-3.3zM515 834.1h9.9v3.2h-9.9zM528.2 834.1h6.6v3.2h-6.6zM538.1 834.1h19.8v3.2h-19.8zM561.2 834.1h6.6v3.2h-6.6zM653.6 834.1h6.6v3.2h-6.6zM663.5 834.1h17.7v3.2h-17.7zM518.3 837.3h3.3v3.2h-3.3zM528.2 837.3h9.9v3.2h-9.9zM541.4 837.3h3.3v3.2h-3.3zM548 837.3h16.5v3.2h-16.5zM660.2 837.3h6.6v3.2h-6.6zM670.1 837.3h11.1v3.2h-11.1zM518.3 840.5h3.3v3.2h-3.3zM531.5 840.5h3.3v3.2h-3.3zM544.7 840.5h13.2v3.2h-13.2zM650.3 840.5h3.3v3.2h-3.3zM656.9 840.5h6.6v3.2h-6.6zM666.8 840.5h13.2v3.2h-13.2zM515 843.7h6.6v3.2h-6.6zM524.9 843.7h6.6v3.2h-6.6zM534.8 843.7h3.3v3.2h-3.3zM548 843.7h6.6v3.2h-6.6zM561.2 843.7h3.3v3.2h-3.3zM567.8 843.7h3.3v3.2h-3.3zM656.9 843.7h13.2v3.2h-13.2zM673.4 843.7h7.8v3.2h-7.8zM505.1 846.9h3.3v3.2h-3.3zM511.7 846.9h3.3v3.2h-3.3zM531.5 846.9h3.3v3.2h-3.3zM541.4 846.9h3.3v3.2h-3.3zM548 846.9h16.5v3.2h-16.5zM567.8 846.9h6.6v3.2h-6.6zM581 846.9h3.3v3.2h-3.3zM587.6 846.9h6.6v3.2h-6.6zM637.1 846.9h3.3v3.2h-3.3zM643.7 846.9h3.3v3.2h-3.3zM650.3 846.9h13.2v3.2h-13.2zM666.8 846.9h9.9v3.2h-9.9zM528.2 850.1h3.3v3.2h-3.3zM534.8 850.1h3.3v3.2h-3.3zM544.7 850.1h16.5v3.2h-16.5zM564.5 850.1h6.6v3.2h-6.6zM597.5 850.1h3.3v3.2h-3.3zM640.4 850.1h3.3v3.2h-3.3zM650.3 850.1h26.4v3.2h-26.4zM680 850.1h1.2v3.2h-1.2zM531.5 853.3h3.3v3.2h-3.3zM548 853.3h19.8v3.2h-19.8zM571.1 853.3h16.5v3.2h-16.5zM594.2 853.3h3.3v3.2h-3.3zM610.7 853.3h3.3v3.2h-3.3zM623.9 853.3h3.3v3.2h-3.3zM633.8 853.3h3.3v3.2h-3.3zM640.4 853.3h3.3v3.2h-3.3zM650.3 853.3h16.5v3.2h-16.5zM670.1 853.3h3.3v3.2h-3.3zM676.7 853.3h4.5v3.2h-4.5zM518.3 856.5h3.3v3.2h-3.3zM528.2 856.5h3.3v3.2h-3.3zM544.7 856.5h9.9v3.2h-9.9zM561.2 856.5h6.6v3.2h-6.6zM571.1 856.5h3.3v3.2h-3.3zM581 856.5h6.6v3.2h-6.6zM590.9 856.5h6.6v3.2h-6.6zM604.1 856.5h9.9v3.2h-9.9zM617.3 856.5h3.3v3.2h-3.3zM623.9 856.5h6.6v3.2h-6.6zM637.1 856.5h3.3v3.2h-3.3zM647 856.5h3.3v3.2h-3.3zM660.2 856.5h6.6v3.2h-6.6zM670.1 856.5h6.6v3.2h-6.6zM680 856.5h1.2v3.2h-1.2zM521.6 859.7h3.3v3.2h-3.3zM528.2 859.7h3.3v3.2h-3.3zM538.1 859.7h3.3v3.2h-3.3zM544.7 859.7h13.2v3.2h-13.2zM561.2 859.7h3.3v3.2h-3.3zM571.1 859.7h3.3v3.2h-3.3zM577.7 859.7h3.3v3.2h-3.3zM587.6 859.7h3.3v3.2h-3.3zM594.2 859.7h3.3v3.2h-3.3zM623.9 859.7h9.9v3.2h-9.9zM637.1 859.7h6.6v3.2h-6.6zM647 859.7h3.3v3.2h-3.3zM653.6 859.7h3.3v3.2h-3.3zM660.2 859.7h13.2v3.2h-13.2zM521.6 862.9h3.3v3.2h-3.3zM528.2 862.9h3.3v3.2h-3.3zM541.4 862.9h3.3v3.2h-3.3zM557.9 862.9h3.3v3.2h-3.3zM564.5 862.9h19.8v3.2h-19.8zM627.2 862.9h42.9v3.2h-42.9zM673.4 862.9h6.6v3.2h-6.6zM515 866.1h3.3v3.2h-3.3zM521.6 866.1h3.3v3.2h-3.3zM551.3 866.1h19.8v3.2h-19.8zM574.4 866.1h13.2v3.2h-13.2zM633.8 866.1h26.4v3.2h-26.4zM663.5 866.1h3.3v3.2h-3.3zM673.4 866.1h3.3v3.2h-3.3zM498.5 869.3h3.3v3.2h-3.3zM518.3 869.3h3.3v3.2h-3.3zM534.8 869.3h3.3v3.2h-3.3zM554.6 869.3h3.3v3.2h-3.3zM561.2 869.3h23.1v3.2h-23.1zM637.1 869.3h3.3v3.2h-3.3zM643.7 869.3h16.5v3.2h-16.5zM670.1 869.3h3.3v3.2h-3.3zM541.4 872.5h3.3v3.2h-3.3zM554.6 872.5h3.3v3.2h-3.3zM561.2 872.5h6.6v3.2h-6.6zM574.4 872.5h9.9v3.2h-9.9zM637.1 872.5h3.3v3.2h-3.3zM643.7 872.5h3.3v3.2h-3.3zM650.3 872.5h9.9v3.2h-9.9zM663.5 872.5h9.9v3.2h-9.9zM518.3 875.7h3.3v3.2h-3.3zM528.2 875.7h3.3v3.2h-3.3zM544.7 875.7h3.3v3.2h-3.3zM557.9 875.7h6.6v3.2h-6.6zM571.1 875.7h3.3v3.2h-3.3zM577.7 875.7h6.6v3.2h-6.6zM637.1 875.7h6.6v3.2h-6.6zM650.3 875.7h13.2v3.2h-13.2zM666.8 875.7h6.6v3.2h-6.6zM676.7 875.7h3.3v3.2h-3.3zM551.3 878.9h23.1v3.2h-23.1zM581 878.9h3.3v3.2h-3.3zM637.1 878.9h19.8v3.2h-19.8zM663.5 878.9h3.3v3.2h-3.3zM673.4 878.9h3.3v3.2h-3.3zM521.6 882.1h3.3v3.2h-3.3zM544.7 882.1h3.3v3.2h-3.3zM551.3 882.1h9.9v3.2h-9.9zM567.8 882.1h16.5v3.2h-16.5zM633.8 882.1h6.6v3.2h-6.6zM650.3 882.1h3.3v3.2h-3.3zM660.2 882.1h6.6v3.2h-6.6zM521.6 885.3h6.6v3.2h-6.6zM574.4 885.3h6.6v3.2h-6.6zM584.3 885.3h3.3v3.2h-3.3zM633.8 885.3h6.6v3.2h-6.6zM647 885.3h3.3v3.2h-3.3zM653.6 885.3h3.3v3.2h-3.3zM670.1 885.3h3.3v3.2h-3.3zM676.7 885.3h3.3v3.2h-3.3zM528.2 888.5h3.3v3.2h-3.3zM544.7 888.5h3.3v3.2h-3.3zM561.2 888.5h3.3v3.2h-3.3zM567.8 888.5h3.3v3.2h-3.3zM581 888.5h9.9v3.2h-9.9zM630.5 888.5h6.6v3.2h-6.6zM640.4 888.5h3.3v3.2h-3.3zM650.3 888.5h6.6v3.2h-6.6zM660.2 888.5h3.3v3.2h-3.3zM670.1 888.5h3.3v3.2h-3.3zM544.7 891.7h3.3v3.2h-3.3zM554.6 891.7h6.6v3.2h-6.6zM571.1 891.7h3.3v3.2h-3.3zM577.7 891.7h6.6v3.2h-6.6zM587.6 891.7h6.6v3.2h-6.6zM627.2 891.7h3.3v3.2h-3.3zM633.8 891.7h3.3v3.2h-3.3zM640.4 891.7h3.3v3.2h-3.3zM647 891.7h6.6v3.2h-6.6zM528.2 894.9h3.3v3.2h-3.3zM541.4 894.9h3.3v3.2h-3.3zM551.3 894.9h3.3v3.2h-3.3zM581 894.9h9.9v3.2h-9.9zM594.2 894.9h3.3v3.2h-3.3zM637.1 894.9h3.3v3.2h-3.3zM643.7 894.9h3.3v3.2h-3.3zM653.6 894.9h3.3v3.2h-3.3zM574.4 898.1h6.6v3.2h-6.6zM590.9 898.1h3.3v3.2h-3.3zM610.7 898.1h9.9v3.2h-9.9zM627.2 898.1h6.6v3.2h-6.6zM643.7 898.1h3.3v3.2h-3.3zM653.6 898.1h3.3v3.2h-3.3zM663.5 898.1h3.3v3.2h-3.3zM676.7 898.1h3.3v3.2h-3.3zM548 901.3h3.3v3.2h-3.3zM581 901.3h3.3v3.2h-3.3zM594.2 901.3h3.3v3.2h-3.3zM600.8 901.3h3.3v3.2h-3.3zM623.9 901.3h6.6v3.2h-6.6zM643.7 901.3h3.3v3.2h-3.3zM656.9 901.3h3.3v3.2h-3.3zM627.2 904.5h3.3v3.2h-3.3zM637.1 904.5h3.3v3.2h-3.3zM567.8 907.7h3.3v3.2h-3.3zM590.9 907.7h9.9v3.2h-9.9zM610.7 907.7h3.3v3.2h-3.3zM620.6 907.7h3.3v3.2h-3.3zM548 910.9h9.9v1.1h-9.9zM561.2 910.9h3.3v1.1h-3.3zM567.8 910.9h3.3v1.1h-3.3zM584.3 910.9h3.3v1.1h-3.3zM590.9 910.9h3.3v1.1h-3.3zM597.5 910.9h3.3v1.1h-3.3zM610.7 910.9h3.3v1.1h-3.3zM620.6 910.9h3.3v1.1h-3.3zM633.8 910.9h3.3v1.1h-3.3zM647 910.9h3.3v1.1h-3.3zM656.9 910.9h3.3v1.1h-3.3z"/>
<path fill="#10fd64" d="M498.5 670.9h3.3v3.2h-3.3zM521.6 680.5h3.3v3.2h-3.3zM534.8 683.7h3.3v3.2h-3.3zM528.2 702.9h3.3v3.2h-3.3zM498.5 722.1h3.3v3.2h-3.3zM647 722.1h3.3v3.2h-3.3zM663.5 731.7h3.3v3.2h-3.3zM663.5 734.9h3.3v3.2h-3.3zM660.2 741.3h3.3v3.2h-3.3zM600.8 776.5h3.3v3.2h-3.3zM511.7 811.7h3.3v3.2h-3.3zM515 837.3h3.3v3.2h-3.3zM521.6 856.5h3.3v3.2h-3.3zM498.5 859.7h6.6v3.2h-6.6zM600.8 859.7h9.9v3.2h-9.9zM614 859.7h3.3v3.2h-3.3zM594.2 862.9h3.3v3.2h-3.3zM620.6 862.9h6.6v3.2h-6.6zM630.5 869.3h3.3v3.2h-3.3zM630.5 878.9h3.3v3.2h-3.3zM505.1 882.1h3.3v3.2h-3.3zM587.6 882.1h3.3v3.2h-3.3zM630.5 882.1h3.3v3.2h-3.3zM627.2 885.3h3.3v3.2h-3.3zM623.9 888.5h3.3v3.2h-3.3zM511.7 891.7h3.3v3.2h-3.3zM600.8 891.7h6.6v3.2h-6.6zM610.7 891.7h9.9v3.2h-9.9zM501.8 894.9h3.3v3.2h-3.3zM680 894.9h1.2v3.2h-1.2zM528.2 901.3h3.3v3.2h-3.3zM515 907.7h3.3v3.2h-3.3zM541.4 910.9h3.3v1.1h-3.3zM673.4 910.9h3.3v1.1h-3.3z"/>
<path fill="#00fc84" d="M600.8 677.3h3.3v3.2h-3.3zM614 683.7h9.9v3.2h-9.9zM630.5 683.7h3.3v3.2h-3.3zM597.5 686.9h3.3v3.2h-3.3zM604.1 686.9h6.6v3.2h-6.6zM620.6 686.9h3.3v3.2h-3.3zM557.9 690.1h3.3v3.2h-3.3zM587.6 690.1h3.3v3.2h-3.3zM597.5 690.1h3.3v3.2h-3.3zM604.1 690.1h6.6v3.2h-6.6zM617.3 690.1h3.3v3.2h-3.3zM597.5 693.3h3.3v3.2h-3.3zM623.9 693.3h9.9v3.2h-9.9zM643.7 693.3h3.3v3.2h-3.3zM663.5 693.3h3.3v3.2h-3.3zM590.9 696.5h3.3v3.2h-3.3zM607.4 696.5h3.3v3.2h-3.3zM620.6 696.5h6.6v3.2h-6.6zM630.5 696.5h9.9v3.2h-9.9zM643.7 696.5h3.3v3.2h-3.3zM584.3 699.7h6.6v3.2h-6.6zM597.5 699.7h3.3v3.2h-3.3zM604.1 699.7h9.9v3.2h-9.9zM617.3 699.7h6.6v3.2h-6.6zM627.2 699.7h3.3v3.2h-3.3zM637.1 699.7h3.3v3.2h-3.3zM647 699.7h3.3v3.2h-3.3zM564.5 702.9h3.3v3.2h-3.3zM574.4 702.9h3.3v3.2h-3.3zM581 702.9h3.3v3.2h-3.3zM590.9 702.9h9.9v3.2h-9.9zM604.1 702.9h33v3.2h-33zM643.7 702.9h6.6v3.2h-6.6zM574.4 706.1h19.8v3.2h-19.8zM604.1 706.1h6.6v3.2h-6.6zM614 706.1h13.2v3.2h-13.2zM633.8 706.1h3.3v3.2h-3.3zM640.4 706.1h3.3v3.2h-3.3zM647 706.1h3.3v3.2h-3.3zM653.6 706.1h3.3v3.2h-3.3zM567.8 709.3h6.6v3.2h-6.6zM581 709.3h36.3v3.2h-36.3zM623.9 709.3h6.6v3.2h-6.6zM633.8 709.3h6.6v3.2h-6.6zM647 709.3h3.3v3.2h-3.3zM653.6 709.3h6.6v3.2h-6.6zM663.5 709.3h3.3v3.2h-3.3zM571.1 712.5h6.6v3.2h-6.6zM584.3 712.5h46.2v3.2h-46.2zM633.8 712.5h3.3v3.2h-3.3zM640.4 712.5h6.6v3.2h-6.6zM653.6 712.5h3.3v3.2h-3.3zM557.9 715.7h3.3v3.2h-3.3zM564.5 715.7h3.3v3.2h-3.3zM571.1 715.7h13.2v3.2h-13.2zM587.6 715.7h6.6v3.2h-6.6zM604.1 715.7h3.3v3.2h-3.3zM620.6 715.7h3.3v3.2h-3.3zM630.5 715.7h6.6v3.2h-6.6zM640.4 715.7h19.8v3.2h-19.8zM557.9 718.9h3.3v3.2h-3.3zM564.5 718.9h9.9v3.2h-9.9zM577.7 718.9h3.3v3.2h-3.3zM637.1 718.9h6.6v3.2h-6.6zM650.3 718.9h3.3v3.2h-3.3zM666.8 718.9h3.3v3.2h-3.3zM673.4 718.9h3.3v3.2h-3.3zM551.3 722.1h3.3v3.2h-3.3zM564.5 722.1h6.6v3.2h-6.6zM633.8 722.1h6.6v3.2h-6.6zM660.2 722.1h6.6v3.2h-6.6zM548 725.3h3.3v3.2h-3.3zM557.9 725.3h6.6v3.2h-6.6zM567.8 725.3h3.3v3.2h-3.3zM633.8 725.3h3.3v3.2h-3.3zM663.5 725.3h6.6v3.2h-6.6zM544.7 728.5h6.6v3.2h-6.6zM554.6 728.5h3.3v3.2h-3.3zM561.2 728.5h6.6v3.2h-6.6zM670.1 728.5h3.3v3.2h-3.3zM548 731.7h6.6v3.2h-6.6zM557.9 731.7h9.9v3.2h-9.9zM673.4 731.7h3.3v3.2h-3.3zM544.7 734.9h3.3v3.2h-3.3zM551.3 734.9h3.3v3.2h-3.3zM561.2 734.9h3.3v3.2h-3.3zM670.1 734.9h3.3v3.2h-3.3zM544.7 738.1h19.8v3.2h-19.8zM541.4 741.3h3.3v3.2h-3.3zM548 741.3h3.3v3.2h-3.3zM554.6 741.3h3.3v3.2h-3.3zM564.5 741.3h3.3v3.2h-3.3zM670.1 741.3h3.3v3.2h-3.3zM676.7 741.3h4.5v3.2h-4.5zM548 744.5h16.5v3.2h-16.5zM623.9 744.5h3.3v3.2h-3.3zM663.5 744.5h16.5v3.2h-16.5zM531.5 747.7h3.3v3.2h-3.3zM538.1 747.7h3.3v3.2h-3.3zM544.7 747.7h23.1v3.2h-23.1zM653.6 747.7h3.3v3.2h-3.3zM660.2 747.7h6.6v3.2h-6.6zM670.1 747.7h6.6v3.2h-6.6zM680 747.7h1.2v3.2h-1.2zM531.5 750.9h3.3v3.2h-3.3zM541.4 750.9h3.3v3.2h-3.3zM548 750.9h13.2v3.2h-13.2zM666.8 750.9h3.3v3.2h-3.3zM673.4 750.9h3.3v3.2h-3.3zM680 750.9h1.2v3.2h-1.2zM528.2 754.1h3.3v3.2h-3.3zM548 754.1h19.8v3.2h-19.8zM660.2 754.1h13.2v3.2h-13.2zM541.4 757.3h9.9v3.2h-9.9zM554.6 757.3h6.6v3.2h-6.6zM660.2 757.3h6.6v3.2h-6.6zM670.1 757.3h9.9v3.2h-9.9zM544.7 760.5h3.3v3.2h-3.3zM551.3 760.5h13.2v3.2h-13.2zM663.5 760.5h13.2v3.2h-13.2zM531.5 763.7h3.3v3.2h-3.3zM551.3 763.7h13.2v3.2h-13.2zM663.5 763.7h3.3v3.2h-3.3zM670.1 763.7h6.6v3.2h-6.6zM531.5 766.9h3.3v3.2h-3.3zM538.1 766.9h3.3v3.2h-3.3zM544.7 766.9h3.3v3.2h-3.3zM554.6 766.9h3.3v3.2h-3.3zM561.2 766.9h3.3v3.2h-3.3zM604.1 766.9h3.3v3.2h-3.3zM666.8 766.9h6.6v3.2h-6.6zM538.1 770.1h3.3v3.2h-3.3zM544.7 770.1h9.9v3.2h-9.9zM557.9 770.1h6.6v3.2h-6.6zM666.8 770.1h13.2v3.2h-13.2zM544.7 773.3h13.2v3.2h-13.2zM666.8 773.3h9.9v3.2h-9.9zM680 773.3h1.2v3.2h-1.2zM524.9 776.5h3.3v3.2h-3.3zM548 776.5h9.9v3.2h-9.9zM561.2 776.5h3.3v3.2h-3.3zM663.5 776.5h3.3v3.2h-3.3zM670.1 776.5h6.6v3.2h-6.6zM531.5 779.7h3.3v3.2h-3.3zM538.1 779.7h3.3v3.2h-3.3zM548 779.7h9.9v3.2h-9.9zM561.2 779.7h3.3v3.2h-3.3zM663.5 779.7h3.3v3.2h-3.3zM670.1 779.7h11.1v3.2h-11.1zM548 782.9h9.9v3.2h-9.9zM663.5 782.9h9.9v3.2h-9.9zM676.7 782.9h4.5v3.2h-4.5zM531.5 786.1h3.3v3.2h-3.3zM538.1 786.1h3.3v3.2h-3.3zM544.7 786.1h6.6v3.2h-6.6zM554.6 786.1h6.6v3.2h-6.6zM666.8 786.1h13.2v3.2h-13.2zM534.8 789.3h9.9v3.2h-9.9zM554.6 789.3h3.3v3.2h-3.3zM663.5 789.3h16.5v3.2h-16.5zM528.2 792.5h9.9v3.2h-9.9zM541.4 792.5h16.5v3.2h-16.5zM561.2 792.5h6.6v3.2h-6.6zM666.8 792.5h13.2v3.2h-13.2zM538.1 795.7h9.9v3.2h-9.9zM551.3 795.7h9.9v3.2h-9.9zM663.5 795.7h13.2v3.2h-13.2zM544.7 798.9h9.9v3.2h-9.9zM557.9 798.9h3.3v3.2h-3.3zM564.5 798.9h3.3v3.2h-3.3zM663.5 798.9h3.3v3.2h-3.3zM670.1 798.9h6.6v3.2h-6.6zM541.4 802.1h3.3v3.2h-3.3zM548 802.1h16.5v3.2h-16.5zM663.5 802.1h6.6v3.2h-6.6zM544.7 805.3h16.5v3.2h-16.5zM663.5 805.3h6.6v3.2h-6.6zM673.4 805.3h3.3v3.2h-3.3zM551.3 808.5h9.9v3.2h-9.9zM663.5 808.5h9.9v3.2h-9.9zM541.4 811.7h3.3v3.2h-3.3zM551.3 811.7h13.2v3.2h-13.2zM660.2 811.7h3.3v3.2h-3.3zM666.8 811.7h6.6v3.2h-6.6zM676.7 811.7h3.3v3.2h-3.3zM538.1 814.9h6.6v3.2h-6.6zM551.3 814.9h6.6v3.2h-6.6zM561.2 814.9h3.3v3.2h-3.3zM666.8 814.9h6.6v3.2h-6.6zM544.7 818.1h3.3v3.2h-3.3zM554.6 818.1h13.2v3.2h-13.2zM660.2 818.1h13.2v3.2h-13.2zM548 821.3h6.6v3.2h-6.6zM561.2 821.3h6.6v3.2h-6.6zM660.2 821.3h6.6v3.2h-6.6zM544.7 824.5h3.3v3.2h-3.3zM557.9 824.5h13.2v3.2h-13.2zM660.2 824.5h6.6v3.2h-6.6zM680 824.5h1.2v3.2h-1.2zM548 827.7h3.3v3.2h-3.3zM564.5 827.7h6.6v3.2h-6.6zM656.9 827.7h3.3v3.2h-3.3zM666.8 827.7h3.3v3.2h-3.3zM554.6 830.9h9.9v3.2h-9.9zM567.8 830.9h6.6v3.2h-6.6zM653.6 830.9h13.2v3.2h-13.2zM557.9 834.1h3.3v3.2h-3.3zM567.8 834.1h6.6v3.2h-6.6zM650.3 834.1h3.3v3.2h-3.3zM660.2 834.1h3.3v3.2h-3.3zM564.5 837.3h3.3v3.2h-3.3zM571.1 837.3h3.3v3.2h-3.3zM647 837.3h13.2v3.2h-13.2zM666.8 837.3h3.3v3.2h-3.3zM557.9 840.5h16.5v3.2h-16.5zM577.7 840.5h6.6v3.2h-6.6zM597.5 840.5h3.3v3.2h-3.3zM607.4 840.5h3.3v3.2h-3.3zM614 840.5h6.6v3.2h-6.6zM623.9 840.5h6.6v3.2h-6.6zM643.7 840.5h6.6v3.2h-6.6zM653.6 840.5h3.3v3.2h-3.3zM663.5 840.5h3.3v3.2h-3.3zM554.6 843.7h6.6v3.2h-6.6zM564.5 843.7h3.3v3.2h-3.3zM571.1 843.7h16.5v3.2h-16.5zM594.2 843.7h13.2v3.2h-13.2zM610.7 843.7h23.1v3.2h-23.1zM637.1 843.7h19.8v3.2h-19.8zM670.1 843.7h3.3v3.2h-3.3zM564.5 846.9h3.3v3.2h-3.3zM574.4 846.9h6.6v3.2h-6.6zM584.3 846.9h3.3v3.2h-3.3zM594.2 846.9h16.5v3.2h-16.5zM614 846.9h16.5v3.2h-16.5zM633.8 846.9h3.3v3.2h-3.3zM640.4 846.9h3.3v3.2h-3.3zM647 846.9h3.3v3.2h-3.3zM663.5 846.9h3.3v3.2h-3.3zM676.7 846.9h3.3v3.2h-3.3zM561.2 850.1h3.3v3.2h-3.3zM571.1 850.1h26.4v3.2h-26.4zM600.8 850.1h13.2v3.2h-13.2zM620.6 850.1h19.8v3.2h-19.8zM643.7 850.1h6.6v3.2h-6.6zM567.8 853.3h3.3v3.2h-3.3zM587.6 853.3h6.6v3.2h-6.6zM597.5 853.3h13.2v3.2h-13.2zM614 853.3h9.9v3.2h-9.9zM627.2 853.3h6.6v3.2h-6.6zM637.1 853.3h3.3v3.2h-3.3zM643.7 853.3h6.6v3.2h-6.6zM567.8 856.5h3.3v3.2h-3.3zM574.4 856.5h6.6v3.2h-6.6zM587.6 856.5h3.3v3.2h-3.3zM597.5 856.5h6.6v3.2h-6.6zM614 856.5h3.3v3.2h-3.3zM620.6 856.5h3.3v3.2h-3.3zM630.5 856.5h6.6v3.2h-6.6zM640.4 856.5h6.6v3.2h-6.6zM650.3 856.5h6.6v3.2h-6.6zM564.5 859.7h6.6v3.2h-6.6zM574.4 859.7h3.3v3.2h-3.3zM581 859.7h6.6v3.2h-6.6zM590.9 859.7h3.3v3.2h-3.3zM633.8 859.7h3.3v3.2h-3.3zM643.7 859.7h3.3v3.2h-3.3zM584.3 862.9h6.6v3.2h-6.6zM640.4 869.3h3.3v3.2h-3.3z"/>
<path fill="#00fa8f" d="M600.8 706.1h3.3v3.2h-3.3zM610.7 706.1h3.3v3.2h-3.3zM617.3 709.3h6.6v3.2h-6.6zM581 712.5h3.3v3.2h-3.3zM630.5 712.5h3.3v3.2h-3.3zM637.1 712.5h3.3v3.2h-3.3zM584.3 715.7h3.3v3.2h-3.3zM594.2 715.7h9.9v3.2h-9.9zM607.4 715.7h13.2v3.2h-13.2zM623.9 715.7h3.3v3.2h-3.3zM574.4 718.9h3.3v3.2h-3.3zM581 718.9h9.9v3.2h-9.9zM594.2 718.9h3.3v3.2h-3.3zM623.9 718.9h6.6v3.2h-6.6zM633.8 718.9h3.3v3.2h-3.3zM571.1 722.1h6.6v3.2h-6.6zM630.5 722.1h3.3v3.2h-3.3zM564.5 725.3h3.3v3.2h-3.3zM567.8 728.5h3.3v3.2h-3.3zM633.8 728.5h3.3v3.2h-3.3zM567.8 731.7h3.3v3.2h-3.3zM557.9 734.9h3.3v3.2h-3.3zM564.5 734.9h6.6v3.2h-6.6zM633.8 734.9h3.3v3.2h-3.3zM564.5 738.1h6.6v3.2h-6.6zM561.2 741.3h3.3v3.2h-3.3zM567.8 741.3h3.3v3.2h-3.3zM564.5 744.5h3.3v3.2h-3.3zM666.8 747.7h3.3v3.2h-3.3zM561.2 750.9h6.6v3.2h-6.6zM617.3 750.9h3.3v3.2h-3.3zM656.9 750.9h6.6v3.2h-6.6zM561.2 757.3h9.9v3.2h-9.9zM666.8 757.3h3.3v3.2h-3.3zM548 760.5h3.3v3.2h-3.3zM564.5 760.5h3.3v3.2h-3.3zM660.2 760.5h3.3v3.2h-3.3zM564.5 763.7h6.6v3.2h-6.6zM660.2 763.7h3.3v3.2h-3.3zM666.8 763.7h3.3v3.2h-3.3zM551.3 766.9h3.3v3.2h-3.3zM557.9 766.9h3.3v3.2h-3.3zM564.5 766.9h6.6v3.2h-6.6zM660.2 766.9h6.6v3.2h-6.6zM564.5 770.1h3.3v3.2h-3.3zM660.2 770.1h6.6v3.2h-6.6zM557.9 773.3h9.9v3.2h-9.9zM660.2 773.3h6.6v3.2h-6.6zM557.9 776.5h3.3v3.2h-3.3zM564.5 776.5h3.3v3.2h-3.3zM660.2 776.5h3.3v3.2h-3.3zM666.8 776.5h3.3v3.2h-3.3zM557.9 779.7h3.3v3.2h-3.3zM564.5 779.7h6.6v3.2h-6.6zM660.2 779.7h3.3v3.2h-3.3zM666.8 779.7h3.3v3.2h-3.3zM557.9 782.9h9.9v3.2h-9.9zM660.2 782.9h3.3v3.2h-3.3zM561.2 786.1h9.9v3.2h-9.9zM663.5 786.1h3.3v3.2h-3.3zM551.3 789.3h3.3v3.2h-3.3zM557.9 789.3h9.9v3.2h-9.9zM557.9 792.5h3.3v3.2h-3.3zM660.2 792.5h6.6v3.2h-6.6zM561.2 795.7h6.6v3.2h-6.6zM660.2 795.7h3.3v3.2h-3.3zM561.2 798.9h3.3v3.2h-3.3zM567.8 798.9h3.3v3.2h-3.3zM660.2 798.9h3.3v3.2h-3.3zM564.5 802.1h6.6v3.2h-6.6zM660.2 802.1h3.3v3.2h-3.3zM561.2 805.3h6.6v3.2h-6.6zM660.2 805.3h3.3v3.2h-3.3zM561.2 808.5h6.6v3.2h-6.6zM660.2 808.5h3.3v3.2h-3.3zM564.5 811.7h6.6v3.2h-6.6zM663.5 811.7h3.3v3.2h-3.3zM557.9 814.9h3.3v3.2h-3.3zM564.5 814.9h3.3v3.2h-3.3zM660.2 814.9h3.3v3.2h-3.3zM567.8 818.1h3.3v3.2h-3.3zM567.8 821.3h3.3v3.2h-3.3zM656.9 824.5h3.3v3.2h-3.3zM574.4 834.1h3.3v3.2h-3.3zM647 834.1h3.3v3.2h-3.3zM567.8 837.3h3.3v3.2h-3.3zM574.4 837.3h9.9v3.2h-9.9zM637.1 837.3h3.3v3.2h-3.3zM643.7 837.3h3.3v3.2h-3.3zM574.4 840.5h3.3v3.2h-3.3zM584.3 840.5h13.2v3.2h-13.2zM604.1 840.5h3.3v3.2h-3.3zM610.7 840.5h3.3v3.2h-3.3zM620.6 840.5h3.3v3.2h-3.3zM630.5 840.5h13.2v3.2h-13.2zM587.6 843.7h6.6v3.2h-6.6zM607.4 843.7h3.3v3.2h-3.3zM633.8 843.7h3.3v3.2h-3.3zM610.7 846.9h3.3v3.2h-3.3zM630.5 846.9h3.3v3.2h-3.3zM614 850.1h6.6v3.2h-6.6z"/>
<path fill="#00f99a" d="M590.9 718.9h3.3v3.2h-3.3zM597.5 718.9h16.5v3.2h-16.5zM620.6 718.9h3.3v3.2h-3.3zM630.5 718.9h3.3v3.2h-3.3zM633.8 731.7h3.3v3.2h-3.3zM567.8 744.5h3.3v3.2h-3.3zM567.8 747.7h3.3v3.2h-3.3zM650.3 747.7h3.3v3.2h-3.3zM567.8 750.9h3.3v3.2h-3.3zM653.6 750.9h3.3v3.2h-3.3zM567.8 754.1h3.3v3.2h-3.3zM656.9 754.1h3.3v3.2h-3.3zM656.9 757.3h3.3v3.2h-3.3zM567.8 760.5h3.3v3.2h-3.3zM656.9 760.5h3.3v3.2h-3.3zM567.8 770.1h3.3v3.2h-3.3zM567.8 773.3h3.3v3.2h-3.3zM600.8 773.3h3.3v3.2h-3.3zM567.8 776.5h3.3v3.2h-3.3zM610.7 776.5h3.3v3.2h-3.3zM600.8 779.7h3.3v3.2h-3.3zM567.8 782.9h3.3v3.2h-3.3zM660.2 786.1h3.3v3.2h-3.3zM567.8 789.3h3.3v3.2h-3.3zM660.2 789.3h3.3v3.2h-3.3zM567.8 792.5h3.3v3.2h-3.3zM567.8 795.7h3.3v3.2h-3.3zM567.8 808.5h3.3v3.2h-3.3zM567.8 814.9h3.3v3.2h-3.3zM656.9 821.3h3.3v3.2h-3.3zM571.1 824.5h3.3v3.2h-3.3zM571.1 827.7h3.3v3.2h-3.3zM653.6 827.7h3.3v3.2h-3.3zM584.3 837.3h3.3v3.2h-3.3zM590.9 837.3h16.5v3.2h-16.5zM627.2 837.3h3.3v3.2h-3.3zM633.8 837.3h3.3v3.2h-3.3zM640.4 837.3h3.3v3.2h-3.3zM600.8 840.5h3.3v3.2h-3.3z"/>
<path fill="#00f8a6" d="M614 718.9h6.6v3.2h-6.6zM627.2 722.1h3.3v3.2h-3.3zM571.1 725.3h3.3v3.2h-3.3zM630.5 725.3h3.3v3.2h-3.3zM656.9 763.7h3.3v3.2h-3.3zM656.9 766.9h3.3v3.2h-3.3zM567.8 805.3h3.3v3.2h-3.3zM656.9 811.7h3.3v3.2h-3.3zM656.9 814.9h3.3v3.2h-3.3zM656.9 818.1h3.3v3.2h-3.3zM571.1 821.3h3.3v3.2h-3.3zM650.3 830.9h3.3v3.2h-3.3zM587.6 837.3h3.3v3.2h-3.3zM610.7 837.3h6.6v3.2h-6.6zM620.6 837.3h6.6v3.2h-6.6zM630.5 837.3h3.3v3.2h-3.3z"/>
<path fill="#00f5bc" d="M577.7 722.1h3.3v3.2h-3.3zM594.2 722.1h3.3v3.2h-3.3zM630.5 728.5h3.3v3.2h-3.3zM571.1 731.7h3.3v3.2h-3.3zM571.1 734.9h3.3v3.2h-3.3zM630.5 738.1h3.3v3.2h-3.3zM571.1 744.5h3.3v3.2h-3.3zM571.1 754.1h3.3v3.2h-3.3zM633.8 757.3h3.3v3.2h-3.3zM607.4 760.5h3.3v3.2h-3.3zM627.2 763.7h3.3v3.2h-3.3zM571.1 776.5h3.3v3.2h-3.3zM656.9 779.7h3.3v3.2h-3.3zM571.1 782.9h3.3v3.2h-3.3zM571.1 792.5h3.3v3.2h-3.3zM656.9 792.5h3.3v3.2h-3.3zM656.9 795.7h3.3v3.2h-3.3zM656.9 798.9h3.3v3.2h-3.3zM571.1 802.1h3.3v3.2h-3.3zM656.9 802.1h3.3v3.2h-3.3zM571.1 805.3h3.3v3.2h-3.3zM571.1 808.5h3.3v3.2h-3.3zM656.9 808.5h3.3v3.2h-3.3zM571.1 811.7h3.3v3.2h-3.3zM571.1 814.9h3.3v3.2h-3.3zM571.1 818.1h3.3v3.2h-3.3zM574.4 827.7h3.3v3.2h-3.3zM647 830.9h3.3v3.2h-3.3zM633.8 834.1h3.3v3.2h-3.3z"/>
<path fill="#00f6b1" d="M581 722.1h3.3v3.2h-3.3zM571.1 728.5h3.3v3.2h-3.3zM571.1 738.1h3.3v3.2h-3.3zM627.2 741.3h3.3v3.2h-3.3zM647 747.7h3.3v3.2h-3.3zM653.6 754.1h3.3v3.2h-3.3zM610.7 757.3h3.3v3.2h-3.3zM653.6 757.3h3.3v3.2h-3.3zM630.5 760.5h3.3v3.2h-3.3zM656.9 773.3h3.3v3.2h-3.3zM604.1 779.7h3.3v3.2h-3.3zM571.1 786.1h3.3v3.2h-3.3zM656.9 786.1h3.3v3.2h-3.3zM656.9 789.3h3.3v3.2h-3.3zM571.1 798.9h3.3v3.2h-3.3zM653.6 824.5h3.3v3.2h-3.3zM574.4 830.9h3.3v3.2h-3.3zM577.7 834.1h3.3v3.2h-3.3zM643.7 834.1h3.3v3.2h-3.3zM607.4 837.3h3.3v3.2h-3.3zM617.3 837.3h3.3v3.2h-3.3z"/>
<path fill="#00f2c5" d="M584.3 722.1h6.6v3.2h-6.6zM620.6 722.1h6.6v3.2h-6.6zM627.2 725.3h3.3v3.2h-3.3zM571.1 741.3h3.3v3.2h-3.3zM643.7 747.7h3.3v3.2h-3.3zM571.1 750.9h3.3v3.2h-3.3zM650.3 750.9h3.3v3.2h-3.3zM571.1 757.3h3.3v3.2h-3.3zM571.1 760.5h3.3v3.2h-3.3zM653.6 760.5h3.3v3.2h-3.3zM571.1 763.7h3.3v3.2h-3.3zM571.1 766.9h3.3v3.2h-3.3zM571.1 770.1h3.3v3.2h-3.3zM656.9 770.1h3.3v3.2h-3.3zM656.9 776.5h3.3v3.2h-3.3zM656.9 782.9h3.3v3.2h-3.3zM571.1 789.3h3.3v3.2h-3.3zM571.1 795.7h3.3v3.2h-3.3zM656.9 805.3h3.3v3.2h-3.3zM653.6 821.3h3.3v3.2h-3.3zM577.7 830.9h3.3v3.2h-3.3zM581 834.1h3.3v3.2h-3.3zM587.6 834.1h3.3v3.2h-3.3zM630.5 834.1h3.3v3.2h-3.3zM637.1 834.1h3.3v3.2h-3.3z"/>
<path fill="#00efcd" d="M590.9 722.1h3.3v3.2h-3.3zM604.1 722.1h3.3v3.2h-3.3zM610.7 722.1h6.6v3.2h-6.6zM650.3 754.1h3.3v3.2h-3.3zM653.6 763.7h3.3v3.2h-3.3zM623.9 766.9h3.3v3.2h-3.3zM571.1 773.3h3.3v3.2h-3.3zM571.1 779.7h3.3v3.2h-3.3zM650.3 827.7h3.3v3.2h-3.3zM584.3 834.1h3.3v3.2h-3.3zM590.9 834.1h6.6v3.2h-6.6zM600.8 834.1h3.3v3.2h-3.3zM623.9 834.1h6.6v3.2h-6.6zM640.4 834.1h3.3v3.2h-3.3z"/>
<path fill="#00ebd5" d="M597.5 722.1h6.6v3.2h-6.6zM607.4 722.1h3.3v3.2h-3.3zM617.3 722.1h3.3v3.2h-3.3zM574.4 725.3h3.3v3.2h-3.3zM630.5 731.7h3.3v3.2h-3.3zM571.1 747.7h3.3v3.2h-3.3zM637.1 754.1h3.3v3.2h-3.3zM620.6 770.1h3.3v3.2h-3.3zM617.3 773.3h3.3v3.2h-3.3zM653.6 779.7h3.3v3.2h-3.3zM653.6 818.1h3.3v3.2h-3.3zM574.4 824.5h3.3v3.2h-3.3zM597.5 834.1h3.3v3.2h-3.3zM620.6 834.1h3.3v3.2h-3.3z"/>
<path fill="#00ddf7" d="M577.7 725.3h3.3v3.2h-3.3zM604.1 725.3h3.3v3.2h-3.3zM610.7 725.3h3.3v3.2h-3.3zM574.4 728.5h3.3v3.2h-3.3zM643.7 750.9h3.3v3.2h-3.3zM647 754.1h3.3v3.2h-3.3zM650.3 757.3h3.3v3.2h-3.3zM633.8 760.5h3.3v3.2h-3.3zM607.4 779.7h3.3v3.2h-3.3zM574.4 782.9h3.3v3.2h-3.3zM574.4 789.3h3.3v3.2h-3.3zM574.4 792.5h3.3v3.2h-3.3zM574.4 795.7h3.3v3.2h-3.3zM650.3 798.9h3.3v3.2h-3.3zM574.4 805.3h3.3v3.2h-3.3zM574.4 811.7h3.3v3.2h-3.3zM577.7 821.3h3.3v3.2h-3.3zM650.3 821.3h3.3v3.2h-3.3zM577.7 824.5h3.3v3.2h-3.3zM584.3 830.9h3.3v3.2h-3.3z"/>
<path fill="#00e1ee" d="M581 725.3h6.6v3.2h-6.6zM607.4 725.3h3.3v3.2h-3.3zM614 725.3h3.3v3.2h-3.3zM620.6 725.3h3.3v3.2h-3.3zM630.5 734.9h3.3v3.2h-3.3zM653.6 782.9h3.3v3.2h-3.3zM653.6 789.3h3.3v3.2h-3.3zM574.4 798.9h3.3v3.2h-3.3zM653.6 798.9h3.3v3.2h-3.3zM574.4 802.1h3.3v3.2h-3.3zM653.6 802.1h3.3v3.2h-3.3zM653.6 814.9h3.3v3.2h-3.3zM574.4 818.1h3.3v3.2h-3.3zM630.5 830.9h3.3v3.2h-3.3zM640.4 830.9h3.3v3.2h-3.3z"/>
<path fill="#00d6fa" d="M587.6 725.3h6.6v3.2h-6.6zM597.5 725.3h3.3v3.2h-3.3zM617.3 725.3h3.3v3.2h-3.3zM620.6 728.5h6.6v3.2h-6.6zM627.2 731.7h3.3v3.2h-3.3zM574.4 741.3h3.3v3.2h-3.3zM620.6 744.5h3.3v3.2h-3.3zM574.4 747.7h3.3v3.2h-3.3zM617.3 747.7h3.3v3.2h-3.3zM614 750.9h3.3v3.2h-3.3zM607.4 757.3h3.3v3.2h-3.3zM647 757.3h3.3v3.2h-3.3zM650.3 760.5h3.3v3.2h-3.3zM650.3 763.7h3.3v3.2h-3.3zM627.2 766.9h3.3v3.2h-3.3zM614 776.5h3.3v3.2h-3.3zM650.3 776.5h3.3v3.2h-3.3zM574.4 779.7h3.3v3.2h-3.3zM650.3 779.7h3.3v3.2h-3.3zM650.3 782.9h3.3v3.2h-3.3zM574.4 786.1h3.3v3.2h-3.3zM650.3 789.3h3.3v3.2h-3.3zM650.3 802.1h3.3v3.2h-3.3zM577.7 811.7h3.3v3.2h-3.3zM643.7 821.3h3.3v3.2h-3.3zM581 824.5h3.3v3.2h-3.3zM647 824.5h3.3v3.2h-3.3zM581 827.7h3.3v3.2h-3.3zM643.7 827.7h3.3v3.2h-3.3zM587.6 830.9h3.3v3.2h-3.3zM594.2 830.9h3.3v3.2h-3.3zM637.1 830.9h3.3v3.2h-3.3z"/>
<path fill="#00c3fc" d="M594.2 725.3h3.3v3.2h-3.3zM600.8 725.3h3.3v3.2h-3.3zM610.7 728.5h3.3v3.2h-3.3zM574.4 731.7h3.3v3.2h-3.3zM623.9 731.7h3.3v3.2h-3.3zM574.4 734.9h3.3v3.2h-3.3zM617.3 734.9h6.6v3.2h-6.6zM574.4 738.1h3.3v3.2h-3.3zM610.7 738.1h3.3v3.2h-3.3zM617.3 738.1h3.3v3.2h-3.3zM623.9 738.1h3.3v3.2h-3.3zM623.9 741.3h3.3v3.2h-3.3zM617.3 744.5h3.3v3.2h-3.3zM574.4 750.9h3.3v3.2h-3.3zM574.4 754.1h3.3v3.2h-3.3zM610.7 754.1h3.3v3.2h-3.3zM640.4 754.1h6.6v3.2h-6.6zM574.4 757.3h3.3v3.2h-3.3zM640.4 757.3h3.3v3.2h-3.3zM637.1 760.5h3.3v3.2h-3.3zM574.4 763.7h3.3v3.2h-3.3zM633.8 763.7h3.3v3.2h-3.3zM643.7 766.9h9.9v3.2h-9.9zM647 770.1h6.6v3.2h-6.6zM574.4 773.3h3.3v3.2h-3.3zM643.7 773.3h3.3v3.2h-3.3zM574.4 776.5h3.3v3.2h-3.3zM633.8 779.7h3.3v3.2h-3.3zM640.4 779.7h3.3v3.2h-3.3zM647 779.7h3.3v3.2h-3.3zM577.7 782.9h3.3v3.2h-3.3zM577.7 786.1h3.3v3.2h-3.3zM647 786.1h3.3v3.2h-3.3zM640.4 789.3h3.3v3.2h-3.3zM647 789.3h3.3v3.2h-3.3zM650.3 792.5h3.3v3.2h-3.3zM647 795.7h3.3v3.2h-3.3zM577.7 798.9h3.3v3.2h-3.3zM647 802.1h3.3v3.2h-3.3zM577.7 805.3h3.3v3.2h-3.3zM647 805.3h3.3v3.2h-3.3zM650.3 811.7h3.3v3.2h-3.3zM577.7 814.9h6.6v3.2h-6.6zM643.7 814.9h3.3v3.2h-3.3zM650.3 818.1h3.3v3.2h-3.3zM581 821.3h3.3v3.2h-3.3zM587.6 824.5h3.3v3.2h-3.3zM640.4 824.5h3.3v3.2h-3.3zM590.9 827.7h3.3v3.2h-3.3zM637.1 827.7h3.3v3.2h-3.3z"/>
<path fill="#00e8de" d="M623.9 725.3h3.3v3.2h-3.3zM627.2 728.5h3.3v3.2h-3.3zM640.4 750.9h3.3v3.2h-3.3zM604.1 763.7h3.3v3.2h-3.3zM653.6 766.9h3.3v3.2h-3.3zM600.8 770.1h3.3v3.2h-3.3zM653.6 776.5h3.3v3.2h-3.3zM653.6 795.7h3.3v3.2h-3.3zM653.6 805.3h3.3v3.2h-3.3zM574.4 814.9h3.3v3.2h-3.3zM577.7 827.7h3.3v3.2h-3.3zM647 827.7h3.3v3.2h-3.3zM604.1 834.1h13.2v3.2h-13.2z"/>
<path fill="#1ffd59" d="M640.4 725.3h3.3v3.2h-3.3zM656.9 725.3h3.3v3.2h-3.3zM637.1 728.5h3.3v3.2h-3.3zM650.3 744.5h6.6v3.2h-6.6zM637.1 750.9h3.3v3.2h-3.3zM617.3 770.1h3.3v3.2h-3.3zM610.7 859.7h3.3v3.2h-3.3zM597.5 862.9h3.3v3.2h-3.3zM590.9 866.1h3.3v3.2h-3.3zM627.2 866.1h3.3v3.2h-3.3zM587.6 869.3h3.3v3.2h-3.3zM630.5 872.5h3.3v3.2h-3.3zM630.5 875.7h3.3v3.2h-3.3zM587.6 878.9h3.3v3.2h-3.3zM590.9 882.1h3.3v3.2h-3.3zM590.9 885.3h3.3v3.2h-3.3zM594.2 888.5h9.9v3.2h-9.9zM620.6 888.5h3.3v3.2h-3.3zM607.4 891.7h3.3v3.2h-3.3z"/>
<path fill="#3efb44" d="M643.7 725.3h3.3v3.2h-3.3zM653.6 725.3h3.3v3.2h-3.3zM656.9 741.3h3.3v3.2h-3.3zM623.9 763.7h3.3v3.2h-3.3zM607.4 862.9h6.6v3.2h-6.6zM600.8 866.1h9.9v3.2h-9.9zM614 866.1h3.3v3.2h-3.3zM590.9 869.3h9.9v3.2h-9.9zM623.9 869.3h3.3v3.2h-3.3zM590.9 872.5h6.6v3.2h-6.6zM604.1 872.5h3.3v3.2h-3.3zM623.9 875.7h3.3v3.2h-3.3zM607.4 878.9h3.3v3.2h-3.3zM617.3 878.9h3.3v3.2h-3.3zM597.5 882.1h3.3v3.2h-3.3zM594.2 885.3h9.9v3.2h-9.9zM620.6 885.3h3.3v3.2h-3.3zM604.1 888.5h3.3v3.2h-3.3zM617.3 888.5h3.3v3.2h-3.3z"/>
<path fill="#5efa30" d="M647 725.3h3.3v3.2h-3.3zM656.9 728.5h3.3v3.2h-3.3zM637.1 731.7h3.3v3.2h-3.3zM610.7 760.5h3.3v3.2h-3.3zM604.1 869.3h3.3v3.2h-3.3zM620.6 869.3h3.3v3.2h-3.3zM597.5 872.5h6.6v3.2h-6.6zM607.4 872.5h6.6v3.2h-6.6zM590.9 875.7h3.3v3.2h-3.3zM600.8 875.7h3.3v3.2h-3.3zM600.8 878.9h6.6v3.2h-6.6zM610.7 878.9h6.6v3.2h-6.6zM623.9 878.9h3.3v3.2h-3.3zM600.8 882.1h9.9v3.2h-9.9zM614 882.1h3.3v3.2h-3.3zM604.1 885.3h9.9v3.2h-9.9z"/>
<path fill="#6dfa2a" d="M650.3 725.3h3.3v3.2h-3.3zM660.2 734.9h3.3v3.2h-3.3zM653.6 741.3h3.3v3.2h-3.3zM627.2 760.5h3.3v3.2h-3.3zM594.2 878.9h3.3v3.2h-3.3z"/>
<path fill="#00affd" d="M577.7 728.5h3.3v3.2h-3.3zM584.3 728.5h3.3v3.2h-3.3zM577.7 731.7h3.3v3.2h-3.3zM607.4 731.7h3.3v3.2h-3.3zM617.3 731.7h3.3v3.2h-3.3zM607.4 738.1h3.3v3.2h-3.3zM607.4 750.9h6.6v3.2h-6.6zM643.7 757.3h3.3v3.2h-3.3zM604.1 760.5h3.3v3.2h-3.3zM640.4 760.5h3.3v3.2h-3.3zM637.1 763.7h3.3v3.2h-3.3zM630.5 766.9h3.3v3.2h-3.3zM637.1 766.9h6.6v3.2h-6.6zM633.8 770.1h3.3v3.2h-3.3zM643.7 770.1h3.3v3.2h-3.3zM623.9 773.3h9.9v3.2h-9.9zM637.1 773.3h6.6v3.2h-6.6zM620.6 776.5h6.6v3.2h-6.6zM630.5 776.5h3.3v3.2h-3.3zM647 776.5h3.3v3.2h-3.3zM610.7 779.7h3.3v3.2h-3.3zM627.2 779.7h3.3v3.2h-3.3zM643.7 779.7h3.3v3.2h-3.3zM581 782.9h3.3v3.2h-3.3zM587.6 782.9h3.3v3.2h-3.3zM633.8 782.9h3.3v3.2h-3.3zM647 782.9h3.3v3.2h-3.3zM584.3 786.1h3.3v3.2h-3.3zM637.1 786.1h6.6v3.2h-6.6zM584.3 789.3h3.3v3.2h-3.3zM584.3 792.5h3.3v3.2h-3.3zM581 795.7h3.3v3.2h-3.3zM640.4 795.7h3.3v3.2h-3.3zM647 798.9h3.3v3.2h-3.3zM577.7 802.1h6.6v3.2h-6.6zM643.7 805.3h3.3v3.2h-3.3zM581 811.7h6.6v3.2h-6.6zM643.7 818.1h3.3v3.2h-3.3zM637.1 824.5h3.3v3.2h-3.3zM594.2 827.7h3.3v3.2h-3.3zM633.8 827.7h3.3v3.2h-3.3zM600.8 830.9h3.3v3.2h-3.3zM623.9 830.9h3.3v3.2h-3.3z"/>
<path fill="#009cff" d="M581 728.5h3.3v3.2h-3.3zM594.2 728.5h6.6v3.2h-6.6zM604.1 734.9h3.3v3.2h-3.3zM604.1 741.3h3.3v3.2h-3.3zM577.7 744.5h3.3v3.2h-3.3zM604.1 747.7h3.3v3.2h-3.3zM610.7 747.7h3.3v3.2h-3.3zM604.1 750.9h3.3v3.2h-3.3zM577.7 757.3h3.3v3.2h-3.3zM577.7 760.5h3.3v3.2h-3.3zM600.8 766.9h3.3v3.2h-3.3zM577.7 770.1h3.3v3.2h-3.3zM577.7 773.3h3.3v3.2h-3.3zM597.5 773.3h3.3v3.2h-3.3zM584.3 779.7h3.3v3.2h-3.3zM623.9 779.7h3.3v3.2h-3.3zM594.2 782.9h3.3v3.2h-3.3zM630.5 782.9h3.3v3.2h-3.3zM633.8 786.1h3.3v3.2h-3.3zM587.6 789.3h3.3v3.2h-3.3zM637.1 789.3h3.3v3.2h-3.3zM587.6 792.5h3.3v3.2h-3.3zM643.7 802.1h3.3v3.2h-3.3zM587.6 818.1h3.3v3.2h-3.3zM590.9 824.5h3.3v3.2h-3.3zM607.4 830.9h3.3v3.2h-3.3z"/>
<path fill="#0088ff" d="M587.6 728.5h3.3v3.2h-3.3zM581 731.7h3.3v3.2h-3.3zM577.7 734.9h3.3v3.2h-3.3zM581 738.1h3.3v3.2h-3.3zM584.3 744.5h3.3v3.2h-3.3zM581 750.9h3.3v3.2h-3.3zM581 754.1h3.3v3.2h-3.3zM581 757.3h3.3v3.2h-3.3zM577.7 766.9h3.3v3.2h-3.3zM597.5 770.1h3.3v3.2h-3.3zM581 779.7h3.3v3.2h-3.3zM590.9 779.7h6.6v3.2h-6.6zM617.3 779.7h3.3v3.2h-3.3zM623.9 782.9h3.3v3.2h-3.3zM637.1 821.3h3.3v3.2h-3.3zM610.7 830.9h9.9v3.2h-9.9z"/>
<path fill="#0092ff" d="M590.9 728.5h3.3v3.2h-3.3zM584.3 731.7h3.3v3.2h-3.3zM581 734.9h3.3v3.2h-3.3zM577.7 738.1h3.3v3.2h-3.3zM577.7 741.3h6.6v3.2h-6.6zM604.1 744.5h3.3v3.2h-3.3zM577.7 747.7h3.3v3.2h-3.3zM577.7 750.9h3.3v3.2h-3.3zM577.7 754.1h3.3v3.2h-3.3zM604.1 754.1h3.3v3.2h-3.3zM604.1 757.3h3.3v3.2h-3.3zM577.7 763.7h3.3v3.2h-3.3zM577.7 776.5h3.3v3.2h-3.3zM620.6 779.7h3.3v3.2h-3.3zM590.9 786.1h3.3v3.2h-3.3zM590.9 789.3h3.3v3.2h-3.3zM584.3 798.9h3.3v3.2h-3.3zM640.4 798.9h3.3v3.2h-3.3zM584.3 802.1h3.3v3.2h-3.3zM584.3 805.3h3.3v3.2h-3.3zM584.3 808.5h3.3v3.2h-3.3zM597.5 827.7h3.3v3.2h-3.3zM630.5 827.7h3.3v3.2h-3.3z"/>
<path fill="#00a6fe" d="M600.8 728.5h3.3v3.2h-3.3zM604.1 731.7h3.3v3.2h-3.3zM604.1 738.1h3.3v3.2h-3.3zM607.4 741.3h3.3v3.2h-3.3zM617.3 741.3h3.3v3.2h-3.3zM610.7 744.5h6.6v3.2h-6.6zM640.4 763.7h3.3v3.2h-3.3zM633.8 766.9h3.3v3.2h-3.3zM630.5 770.1h3.3v3.2h-3.3zM627.2 776.5h3.3v3.2h-3.3zM633.8 776.5h3.3v3.2h-3.3zM577.7 779.7h3.3v3.2h-3.3zM584.3 782.9h3.3v3.2h-3.3zM590.9 782.9h3.3v3.2h-3.3zM597.5 782.9h3.3v3.2h-3.3zM587.6 786.1h3.3v3.2h-3.3zM581 789.3h3.3v3.2h-3.3zM581 792.5h3.3v3.2h-3.3zM640.4 792.5h3.3v3.2h-3.3zM643.7 795.7h3.3v3.2h-3.3zM643.7 808.5h3.3v3.2h-3.3zM643.7 811.7h3.3v3.2h-3.3zM584.3 814.9h3.3v3.2h-3.3zM640.4 814.9h3.3v3.2h-3.3zM587.6 821.3h3.3v3.2h-3.3zM604.1 830.9h3.3v3.2h-3.3zM620.6 830.9h3.3v3.2h-3.3z"/>
<path fill="#00b9fc" d="M604.1 728.5h6.6v3.2h-6.6zM614 728.5h3.3v3.2h-3.3zM610.7 731.7h6.6v3.2h-6.6zM620.6 731.7h3.3v3.2h-3.3zM607.4 734.9h3.3v3.2h-3.3zM614 734.9h3.3v3.2h-3.3zM623.9 734.9h3.3v3.2h-3.3zM614 738.1h3.3v3.2h-3.3zM614 741.3h3.3v3.2h-3.3zM620.6 741.3h3.3v3.2h-3.3zM607.4 744.5h3.3v3.2h-3.3zM607.4 747.7h3.3v3.2h-3.3zM614 747.7h3.3v3.2h-3.3zM607.4 754.1h3.3v3.2h-3.3zM643.7 760.5h6.6v3.2h-6.6zM643.7 763.7h6.6v3.2h-6.6zM574.4 766.9h3.3v3.2h-3.3zM574.4 770.1h3.3v3.2h-3.3zM627.2 770.1h3.3v3.2h-3.3zM637.1 770.1h6.6v3.2h-6.6zM620.6 773.3h3.3v3.2h-3.3zM633.8 773.3h3.3v3.2h-3.3zM647 773.3h3.3v3.2h-3.3zM617.3 776.5h3.3v3.2h-3.3zM637.1 776.5h9.9v3.2h-9.9zM630.5 779.7h3.3v3.2h-3.3zM637.1 779.7h3.3v3.2h-3.3zM637.1 782.9h9.9v3.2h-9.9zM581 786.1h3.3v3.2h-3.3zM643.7 786.1h3.3v3.2h-3.3zM577.7 789.3h3.3v3.2h-3.3zM643.7 789.3h3.3v3.2h-3.3zM577.7 792.5h3.3v3.2h-3.3zM643.7 792.5h3.3v3.2h-3.3zM577.7 795.7h3.3v3.2h-3.3zM584.3 795.7h3.3v3.2h-3.3zM581 798.9h3.3v3.2h-3.3zM643.7 798.9h3.3v3.2h-3.3zM581 805.3h3.3v3.2h-3.3zM581 808.5h3.3v3.2h-3.3zM650.3 808.5h3.3v3.2h-3.3zM577.7 818.1h9.9v3.2h-9.9zM640.4 818.1h3.3v3.2h-3.3zM584.3 821.3h3.3v3.2h-3.3zM640.4 821.3h3.3v3.2h-3.3zM647 821.3h3.3v3.2h-3.3zM584.3 824.5h3.3v3.2h-3.3zM587.6 827.7h3.3v3.2h-3.3z"/>
<path fill="#00ccfb" d="M617.3 728.5h3.3v3.2h-3.3zM610.7 734.9h3.3v3.2h-3.3zM627.2 734.9h3.3v3.2h-3.3zM620.6 738.1h3.3v3.2h-3.3zM627.2 738.1h3.3v3.2h-3.3zM610.7 741.3h3.3v3.2h-3.3zM574.4 744.5h3.3v3.2h-3.3zM637.1 757.3h3.3v3.2h-3.3zM574.4 760.5h3.3v3.2h-3.3zM630.5 763.7h3.3v3.2h-3.3zM623.9 770.1h3.3v3.2h-3.3zM650.3 773.3h3.3v3.2h-3.3zM597.5 776.5h3.3v3.2h-3.3zM600.8 782.9h3.3v3.2h-3.3zM650.3 786.1h3.3v3.2h-3.3zM647 792.5h3.3v3.2h-3.3zM650.3 795.7h3.3v3.2h-3.3zM650.3 805.3h3.3v3.2h-3.3zM577.7 808.5h3.3v3.2h-3.3zM647 808.5h3.3v3.2h-3.3zM647 811.7h3.3v3.2h-3.3zM647 814.9h6.6v3.2h-6.6zM647 818.1h3.3v3.2h-3.3zM643.7 824.5h3.3v3.2h-3.3zM584.3 827.7h3.3v3.2h-3.3zM640.4 827.7h3.3v3.2h-3.3zM590.9 830.9h3.3v3.2h-3.3zM597.5 830.9h3.3v3.2h-3.3zM627.2 830.9h3.3v3.2h-3.3zM633.8 830.9h3.3v3.2h-3.3z"/>
<path fill="#4efb3a" d="M640.4 728.5h3.3v3.2h-3.3zM660.2 731.7h3.3v3.2h-3.3zM633.8 738.1h3.3v3.2h-3.3zM633.8 754.1h3.3v3.2h-3.3zM630.5 757.3h3.3v3.2h-3.3zM607.4 763.7h3.3v3.2h-3.3zM620.6 766.9h3.3v3.2h-3.3zM607.4 776.5h3.3v3.2h-3.3zM597.5 866.1h3.3v3.2h-3.3zM610.7 866.1h3.3v3.2h-3.3zM617.3 866.1h6.6v3.2h-6.6zM600.8 869.3h3.3v3.2h-3.3zM607.4 869.3h13.2v3.2h-13.2zM614 872.5h16.5v3.2h-16.5zM594.2 875.7h6.6v3.2h-6.6zM604.1 875.7h19.8v3.2h-19.8zM627.2 875.7h3.3v3.2h-3.3zM590.9 878.9h3.3v3.2h-3.3zM597.5 878.9h3.3v3.2h-3.3zM620.6 878.9h3.3v3.2h-3.3zM627.2 878.9h3.3v3.2h-3.3zM594.2 882.1h3.3v3.2h-3.3zM610.7 882.1h3.3v3.2h-3.3zM617.3 882.1h9.9v3.2h-9.9zM614 885.3h6.6v3.2h-6.6zM610.7 888.5h3.3v3.2h-3.3z"/>
<path fill="#7cf924" d="M643.7 728.5h3.3v3.2h-3.3zM650.3 741.3h3.3v3.2h-3.3zM604.1 770.1h3.3v3.2h-3.3zM604.1 776.5h3.3v3.2h-3.3z"/>
<path fill="#8bf91d" d="M647 728.5h3.3v3.2h-3.3zM653.6 728.5h3.3v3.2h-3.3zM656.9 731.7h3.3v3.2h-3.3zM656.9 734.9h3.3v3.2h-3.3zM653.6 738.1h6.6v3.2h-6.6zM630.5 741.3h3.3v3.2h-3.3zM643.7 744.5h3.3v3.2h-3.3zM610.7 773.3h3.3v3.2h-3.3z"/>
<path fill="#9bf917" d="M650.3 728.5h3.3v3.2h-3.3zM653.6 734.9h3.3v3.2h-3.3zM604.1 773.3h3.3v3.2h-3.3z"/>
<path fill="#2ffc4f" d="M660.2 728.5h3.3v3.2h-3.3zM660.2 738.1h3.3v3.2h-3.3zM647 744.5h3.3v3.2h-3.3zM600.8 862.9h6.6v3.2h-6.6zM614 862.9h6.6v3.2h-6.6zM594.2 866.1h3.3v3.2h-3.3zM623.9 866.1h3.3v3.2h-3.3zM627.2 869.3h3.3v3.2h-3.3zM587.6 872.5h3.3v3.2h-3.3zM587.6 875.7h3.3v3.2h-3.3zM627.2 882.1h3.3v3.2h-3.3zM623.9 885.3h3.3v3.2h-3.3zM607.4 888.5h3.3v3.2h-3.3zM614 888.5h3.3v3.2h-3.3z"/>
<path fill="#007eff" d="M587.6 731.7h3.3v3.2h-3.3zM600.8 731.7h3.3v3.2h-3.3zM600.8 738.1h3.3v3.2h-3.3zM581 744.5h3.3v3.2h-3.3zM581 760.5h3.3v3.2h-3.3zM600.8 763.7h3.3v3.2h-3.3zM581 770.1h3.3v3.2h-3.3zM581 773.3h6.6v3.2h-6.6zM581 776.5h3.3v3.2h-3.3zM587.6 779.7h3.3v3.2h-3.3zM614 779.7h3.3v3.2h-3.3zM627.2 782.9h3.3v3.2h-3.3zM594.2 786.1h3.3v3.2h-3.3zM637.1 792.5h3.3v3.2h-3.3zM640.4 811.7h3.3v3.2h-3.3zM587.6 814.9h3.3v3.2h-3.3zM633.8 824.5h3.3v3.2h-3.3zM600.8 827.7h3.3v3.2h-3.3z"/>
<path fill="#0061ff" d="M590.9 731.7h3.3v3.2h-3.3zM590.9 734.9h3.3v3.2h-3.3zM590.9 738.1h6.6v3.2h-6.6zM594.2 741.3h6.6v3.2h-6.6zM594.2 744.5h3.3v3.2h-3.3zM600.8 744.5h3.3v3.2h-3.3zM587.6 750.9h3.3v3.2h-3.3zM594.2 750.9h3.3v3.2h-3.3zM590.9 754.1h3.3v3.2h-3.3zM600.8 754.1h3.3v3.2h-3.3zM584.3 757.3h3.3v3.2h-3.3zM590.9 760.5h3.3v3.2h-3.3zM600.8 760.5h3.3v3.2h-3.3zM587.6 766.9h6.6v3.2h-6.6zM597.5 766.9h3.3v3.2h-3.3zM584.3 776.5h9.9v3.2h-9.9zM597.5 786.1h3.3v3.2h-3.3zM633.8 789.3h3.3v3.2h-3.3zM590.9 792.5h3.3v3.2h-3.3zM637.1 795.7h3.3v3.2h-3.3zM587.6 798.9h3.3v3.2h-3.3zM587.6 802.1h3.3v3.2h-3.3zM587.6 805.3h3.3v3.2h-3.3zM637.1 814.9h3.3v3.2h-3.3zM633.8 821.3h3.3v3.2h-3.3zM623.9 827.7h3.3v3.2h-3.3z"/>
<path fill="#006bff" d="M594.2 731.7h6.6v3.2h-6.6zM597.5 734.9h3.3v3.2h-3.3zM587.6 738.1h3.3v3.2h-3.3zM584.3 741.3h3.3v3.2h-3.3zM587.6 747.7h3.3v3.2h-3.3zM597.5 747.7h3.3v3.2h-3.3zM584.3 750.9h3.3v3.2h-3.3zM600.8 750.9h3.3v3.2h-3.3zM587.6 754.1h3.3v3.2h-3.3zM597.5 754.1h3.3v3.2h-3.3zM600.8 757.3h3.3v3.2h-3.3zM584.3 760.5h6.6v3.2h-6.6zM584.3 766.9h3.3v3.2h-3.3zM604.1 782.9h6.6v3.2h-6.6zM630.5 786.1h3.3v3.2h-3.3zM594.2 824.5h3.3v3.2h-3.3zM627.2 827.7h3.3v3.2h-3.3z"/>
<path fill="#aaf810" d="M640.4 731.7h3.3v3.2h-3.3zM653.6 731.7h3.3v3.2h-3.3zM650.3 734.9h3.3v3.2h-3.3zM607.4 766.9h3.3v3.2h-3.3z"/>
<path fill="#d8f405" d="M643.7 731.7h3.3v3.2h-3.3zM614 757.3h3.3v3.2h-3.3zM610.7 763.7h3.3v3.2h-3.3zM610.7 766.9h3.3v3.2h-3.3z"/>
<path fill="#b9f80a" d="M647 731.7h6.6v3.2h-6.6zM650.3 738.1h3.3v3.2h-3.3zM647 741.3h3.3v3.2h-3.3zM627.2 744.5h3.3v3.2h-3.3zM637.1 747.7h3.3v3.2h-3.3zM614 770.1h3.3v3.2h-3.3z"/>
<path fill="#0075ff" d="M584.3 734.9h3.3v3.2h-3.3zM600.8 734.9h3.3v3.2h-3.3zM584.3 738.1h3.3v3.2h-3.3zM600.8 741.3h3.3v3.2h-3.3zM587.6 744.5h3.3v3.2h-3.3zM581 747.7h6.6v3.2h-6.6zM600.8 747.7h3.3v3.2h-3.3zM584.3 754.1h3.3v3.2h-3.3zM581 763.7h6.6v3.2h-6.6zM581 766.9h3.3v3.2h-3.3zM584.3 770.1h3.3v3.2h-3.3zM594.2 776.5h3.3v3.2h-3.3zM587.6 795.7h3.3v3.2h-3.3zM640.4 802.1h3.3v3.2h-3.3zM640.4 805.3h3.3v3.2h-3.3zM640.4 808.5h3.3v3.2h-3.3zM637.1 818.1h3.3v3.2h-3.3zM590.9 821.3h3.3v3.2h-3.3zM630.5 824.5h3.3v3.2h-3.3z"/>
<path fill="#0057ff" d="M587.6 734.9h3.3v3.2h-3.3zM594.2 734.9h3.3v3.2h-3.3zM587.6 741.3h3.3v3.2h-3.3zM597.5 744.5h3.3v3.2h-3.3zM590.9 747.7h3.3v3.2h-3.3zM590.9 750.9h3.3v3.2h-3.3zM587.6 757.3h13.2v3.2h-13.2zM594.2 760.5h3.3v3.2h-3.3zM594.2 766.9h3.3v3.2h-3.3zM587.6 770.1h3.3v3.2h-3.3zM590.9 773.3h6.6v3.2h-6.6zM620.6 782.9h3.3v3.2h-3.3zM594.2 789.3h3.3v3.2h-3.3zM637.1 798.9h3.3v3.2h-3.3zM587.6 808.5h3.3v3.2h-3.3zM587.6 811.7h3.3v3.2h-3.3zM590.9 818.1h3.3v3.2h-3.3zM604.1 827.7h3.3v3.2h-3.3z"/>
<path fill="#cef507" d="M637.1 734.9h3.3v3.2h-3.3zM620.6 763.7h3.3v3.2h-3.3zM607.4 770.1h6.6v3.2h-6.6z"/>
<path fill="#ffad00" d="M640.4 734.9h3.3v3.2h-3.3z"/>
<path fill="#ff8d00" d="M643.7 734.9h3.3v3.2h-3.3z"/>
<path fill="#e3f304" d="M647 734.9h3.3v3.2h-3.3zM640.4 744.5h3.3v3.2h-3.3zM633.8 750.9h3.3v3.2h-3.3zM630.5 754.1h3.3v3.2h-3.3z"/>
<path fill="#0044ff" d="M597.5 738.1h3.3v3.2h-3.3zM597.5 760.5h3.3v3.2h-3.3zM590.9 763.7h3.3v3.2h-3.3zM614 782.9h6.6v3.2h-6.6zM630.5 789.3h3.3v3.2h-3.3zM594.2 821.3h3.3v3.2h-3.3zM597.5 824.5h3.3v3.2h-3.3zM614 827.7h9.9v3.2h-9.9z"/>
<path fill="#fdc700" d="M637.1 738.1h3.3v3.2h-3.3zM633.8 747.7h3.3v3.2h-3.3z"/>
<path fill="#fb4a00" d="M640.4 738.1h3.3v3.2h-3.3z"/>
<path fill="#ff6c00" d="M643.7 738.1h3.3v3.2h-3.3z"/>
<path fill="#fae900" d="M647 738.1h3.3v3.2h-3.3zM637.1 744.5h3.3v3.2h-3.3z"/>
<path fill="#004dff" d="M590.9 741.3h3.3v3.2h-3.3zM590.9 744.5h3.3v3.2h-3.3zM594.2 747.7h3.3v3.2h-3.3zM597.5 750.9h3.3v3.2h-3.3zM594.2 754.1h3.3v3.2h-3.3zM587.6 763.7h3.3v3.2h-3.3zM594.2 763.7h6.6v3.2h-6.6zM590.9 770.1h6.6v3.2h-6.6zM587.6 773.3h3.3v3.2h-3.3zM610.7 782.9h3.3v3.2h-3.3zM594.2 792.5h3.3v3.2h-3.3zM633.8 792.5h3.3v3.2h-3.3zM633.8 818.1h3.3v3.2h-3.3zM607.4 827.7h3.3v3.2h-3.3z"/>
<path fill="#f8f000" d="M633.8 741.3h3.3v3.2h-3.3zM620.6 750.9h3.3v3.2h-3.3z"/>
<path fill="#febf00" d="M637.1 741.3h3.3v3.2h-3.3zM614 763.7h3.3v3.2h-3.3z"/>
<path fill="#ff9800" d="M640.4 741.3h3.3v3.2h-3.3zM633.8 744.5h3.3v3.2h-3.3zM630.5 750.9h3.3v3.2h-3.3zM623.9 757.3h3.3v3.2h-3.3z"/>
<path fill="#fcd000" d="M643.7 741.3h3.3v3.2h-3.3z"/>
<path fill="#ffa300" d="M630.5 744.5h3.3v3.2h-3.3zM614 760.5h3.3v3.2h-3.3zM620.6 760.5h3.3v3.2h-3.3z"/>
<path fill="#feb600" d="M623.9 747.7h3.3v3.2h-3.3z"/>
<path fill="#f63400" d="M627.2 747.7h3.3v3.2h-3.3z"/>
<path fill="#ff6100" d="M630.5 747.7h3.3v3.2h-3.3zM620.6 757.3h3.3v3.2h-3.3z"/>
<path fill="#f83f00" d="M623.9 750.9h3.3v3.2h-3.3z"/>
<path fill="#ed1300" d="M627.2 750.9h3.3v3.2h-3.3z"/>
<path fill="#00e4e6" d="M647 750.9h3.3v3.2h-3.3zM653.6 770.1h3.3v3.2h-3.3zM653.6 773.3h3.3v3.2h-3.3zM597.5 779.7h3.3v3.2h-3.3zM653.6 786.1h3.3v3.2h-3.3zM653.6 792.5h3.3v3.2h-3.3zM574.4 808.5h3.3v3.2h-3.3zM653.6 808.5h3.3v3.2h-3.3zM653.6 811.7h3.3v3.2h-3.3zM574.4 821.3h3.3v3.2h-3.3zM650.3 824.5h3.3v3.2h-3.3zM581 830.9h3.3v3.2h-3.3zM643.7 830.9h3.3v3.2h-3.3zM617.3 834.1h3.3v3.2h-3.3z"/>
<path fill="#fbe100" d="M617.3 754.1h3.3v3.2h-3.3z"/>
<path fill="#ff7700" d="M620.6 754.1h3.3v3.2h-3.3zM617.3 760.5h3.3v3.2h-3.3z"/>
<path fill="#fe5600" d="M623.9 754.1h3.3v3.2h-3.3z"/>
<path fill="#ff8200" d="M627.2 754.1h3.3v3.2h-3.3zM617.3 757.3h3.3v3.2h-3.3z"/>
<path fill="#edf202" d="M627.2 757.3h3.3v3.2h-3.3zM623.9 760.5h3.3v3.2h-3.3zM614 766.9h3.3v3.2h-3.3z"/>
<path fill="#fcd800" d="M617.3 763.7h3.3v3.2h-3.3z"/>
<path fill="#c3f708" d="M617.3 766.9h3.3v3.2h-3.3zM607.4 773.3h3.3v3.2h-3.3z"/>
<path fill="#003dff" d="M600.8 786.1h6.6v3.2h-6.6zM623.9 786.1h6.6v3.2h-6.6zM597.5 789.3h3.3v3.2h-3.3zM590.9 795.7h3.3v3.2h-3.3zM633.8 795.7h3.3v3.2h-3.3zM637.1 811.7h3.3v3.2h-3.3zM594.2 814.9h3.3v3.2h-3.3zM630.5 821.3h3.3v3.2h-3.3zM600.8 824.5h3.3v3.2h-3.3zM627.2 824.5h3.3v3.2h-3.3zM610.7 827.7h3.3v3.2h-3.3z"/>
<path fill="#002eff" d="M607.4 786.1h3.3v3.2h-3.3zM633.8 805.3h3.3v3.2h-3.3zM594.2 808.5h3.3v3.2h-3.3zM630.5 808.5h3.3v3.2h-3.3zM630.5 814.9h6.6v3.2h-6.6zM597.5 821.3h6.6v3.2h-6.6zM620.6 821.3h6.6v3.2h-6.6zM607.4 824.5h3.3v3.2h-3.3zM617.3 824.5h6.6v3.2h-6.6z"/>
<path fill="#0011ff" d="M610.7 786.1h3.3v3.2h-3.3zM607.4 789.3h3.3v3.2h-3.3zM614 789.3h3.3v3.2h-3.3zM604.1 792.5h6.6v3.2h-6.6zM620.6 792.5h3.3v3.2h-3.3zM623.9 795.7h6.6v3.2h-6.6zM600.8 798.9h6.6v3.2h-6.6zM623.9 798.9h6.6v3.2h-6.6zM597.5 802.1h3.3v3.2h-3.3zM623.9 802.1h3.3v3.2h-3.3zM600.8 805.3h3.3v3.2h-3.3zM620.6 808.5h9.9v3.2h-9.9zM604.1 811.7h3.3v3.2h-3.3zM623.9 811.7h6.6v3.2h-6.6zM610.7 814.9h3.3v3.2h-3.3z"/>
<path fill="#0018ff" d="M614 786.1h3.3v3.2h-3.3zM600.8 789.3h3.3v3.2h-3.3zM617.3 789.3h6.6v3.2h-6.6zM614 792.5h3.3v3.2h-3.3zM600.8 795.7h3.3v3.2h-3.3zM597.5 798.9h3.3v3.2h-3.3zM627.2 802.1h6.6v3.2h-6.6zM597.5 808.5h3.3v3.2h-3.3zM597.5 814.9h3.3v3.2h-3.3zM623.9 814.9h3.3v3.2h-3.3zM610.7 818.1h3.3v3.2h-3.3zM617.3 818.1h6.6v3.2h-6.6z"/>
<path fill="#0027ff" d="M617.3 786.1h3.3v3.2h-3.3zM604.1 789.3h3.3v3.2h-3.3zM594.2 795.7h3.3v3.2h-3.3zM633.8 798.9h3.3v3.2h-3.3zM590.9 802.1h3.3v3.2h-3.3zM594.2 805.3h3.3v3.2h-3.3zM590.9 808.5h3.3v3.2h-3.3zM633.8 808.5h3.3v3.2h-3.3zM590.9 811.7h9.9v3.2h-9.9zM597.5 818.1h3.3v3.2h-3.3zM607.4 818.1h3.3v3.2h-3.3zM623.9 818.1h3.3v3.2h-3.3zM610.7 821.3h3.3v3.2h-3.3zM610.7 824.5h6.6v3.2h-6.6zM623.9 824.5h3.3v3.2h-3.3z"/>
<path fill="#0036ff" d="M620.6 786.1h3.3v3.2h-3.3zM627.2 789.3h3.3v3.2h-3.3zM630.5 792.5h3.3v3.2h-3.3zM590.9 798.9h3.3v3.2h-3.3zM637.1 802.1h3.3v3.2h-3.3zM590.9 805.3h3.3v3.2h-3.3zM637.1 805.3h3.3v3.2h-3.3zM637.1 808.5h3.3v3.2h-3.3zM633.8 811.7h3.3v3.2h-3.3zM590.9 814.9h3.3v3.2h-3.3zM594.2 818.1h3.3v3.2h-3.3zM627.2 818.1h6.6v3.2h-6.6zM604.1 821.3h3.3v3.2h-3.3zM627.2 821.3h3.3v3.2h-3.3zM604.1 824.5h3.3v3.2h-3.3z"/>
<path fill="#000aff" d="M610.7 789.3h3.3v3.2h-3.3zM610.7 792.5h3.3v3.2h-3.3zM617.3 792.5h3.3v3.2h-3.3zM604.1 795.7h3.3v3.2h-3.3zM607.4 798.9h3.3v3.2h-3.3zM600.8 802.1h3.3v3.2h-3.3zM623.9 805.3h3.3v3.2h-3.3zM600.8 808.5h6.6v3.2h-6.6zM610.7 811.7h3.3v3.2h-3.3zM617.3 811.7h3.3v3.2h-3.3zM604.1 814.9h3.3v3.2h-3.3zM617.3 814.9h3.3v3.2h-3.3z"/>
<path fill="#0020ff" d="M623.9 789.3h3.3v3.2h-3.3zM597.5 792.5h6.6v3.2h-6.6zM623.9 792.5h6.6v3.2h-6.6zM597.5 795.7h3.3v3.2h-3.3zM630.5 795.7h3.3v3.2h-3.3zM594.2 798.9h3.3v3.2h-3.3zM630.5 798.9h3.3v3.2h-3.3zM594.2 802.1h3.3v3.2h-3.3zM633.8 802.1h3.3v3.2h-3.3zM597.5 805.3h3.3v3.2h-3.3zM627.2 805.3h6.6v3.2h-6.6zM600.8 811.7h3.3v3.2h-3.3zM630.5 811.7h3.3v3.2h-3.3zM600.8 814.9h3.3v3.2h-3.3zM607.4 814.9h3.3v3.2h-3.3zM614 814.9h3.3v3.2h-3.3zM620.6 814.9h3.3v3.2h-3.3zM627.2 814.9h3.3v3.2h-3.3zM600.8 818.1h6.6v3.2h-6.6zM614 818.1h3.3v3.2h-3.3zM607.4 821.3h3.3v3.2h-3.3zM614 821.3h6.6v3.2h-6.6z"/>
<path fill="#0003ff" d="M607.4 795.7h3.3v3.2h-3.3zM614 795.7h3.3v3.2h-3.3zM620.6 798.9h3.3v3.2h-3.3zM607.4 802.1h3.3v3.2h-3.3zM604.1 805.3h3.3v3.2h-3.3zM607.4 808.5h3.3v3.2h-3.3zM607.4 811.7h3.3v3.2h-3.3zM620.6 811.7h3.3v3.2h-3.3z"/>
<path fill="#0000f9" d="M610.7 795.7h3.3v3.2h-3.3zM617.3 795.7h3.3v3.2h-3.3zM610.7 798.9h3.3v3.2h-3.3zM604.1 802.1h3.3v3.2h-3.3zM617.3 802.1h6.6v3.2h-6.6zM614 805.3h9.9v3.2h-9.9zM610.7 808.5h3.3v3.2h-3.3z"/>
<path fill="#0000ef" d="M620.6 795.7h3.3v3.2h-3.3zM614 798.9h3.3v3.2h-3.3zM607.4 805.3h6.6v3.2h-6.6zM617.3 808.5h3.3v3.2h-3.3zM614 811.7h3.3v3.2h-3.3z"/>
<path fill="#0000e5" d="M617.3 798.9h3.3v3.2h-3.3zM610.7 802.1h3.3v3.2h-3.3zM614 808.5h3.3v3.2h-3.3z"/>
<path fill="#0000d1" d="M614 802.1h3.3v3.2h-3.3z"/>
</g>
<path d="M500.7 668.8 L500.8 669.5 L500.9 670.5 L501 671.6 L501.2 672.9 L501.4 674.2 L501.6 675.6 L501.8 676.8 L502 678 L502.2 679 L502.5 680 L502.7 680.9 L503 681.8 L503.3 682.7 L503.6 683.7 L504 684.8 L504.5 685.9 L505 687.2 L505.5 688.5 L506.1 690 L506.7 691.5 L507.4 693 L508.2 694.5 L509.1 695.9 L510.2 697.3 L511.5 698.6 L512.9 699.8 L514.4 701 L516 702.2 L517.8 703.4 L519.6 704.5 L521.5 705.7 L523.5 706.8 L525.6 707.9 L527.8 709 L530.2 710.1 L532.6 711.2 L535.1 712.3 L537.5 713.3 L540 714.3 L542.4 715.3 L544.8 716.2 L547.2 717.1 L549.7 717.9 L552.1 718.8 L554.5 719.6 L556.9 720.4 L559.2 721.2 L561.4 722 L563.5 722.8 L565.4 723.7 L567.3 724.5 L569.1 725.3 L570.9 726.1 L572.8 727 L574.6 727.8 L576.6 728.6 L578.7 729.4 L580.9 730.3 L583.1 731.1 L585.4 732 L587.6 732.8 L589.8 733.6 L591.8 734.4 L593.7 735.2 L595.4 735.9 L597.1 736.6 L598.7 737.3 L600.2 738 L601.6 738.7 L602.9 739.4 L604.1 740.1 L605.1 740.9 L606 741.8 L606.7 742.7 L607.3 743.7 L607.8 744.7 L608.2 745.7 L608.5 746.7 L608.7 747.6 L608.9 748.5 L609 749.2 L609 749.9 L608.9 750.5 L608.8 751.1 L608.6 751.6 L608.2 752.3 L607.8 753 L607.3 753.8 L606.7 754.7 L606 755.7 L605.1 756.8 L604.2 757.9 L603.2 759.1 L602.2 760.3 L601.1 761.6 L600 763 L598.8 764.5 L597.6 766.1 L596.3 767.7 L595 769.5 L593.6 771.2 L592.2 772.9 L590.7 774.5 L589.3 776 L587.8 777.4 L586.2 778.8 L584.6 780.1 L582.9 781.4 L581.3 782.6 L579.7 783.8 L578.3 784.9 L577 786 L575.8 787 L574.7 788 L573.7 788.8 L572.8 789.7 L572 790.5 L571.2 791.3 L570.6 792.1 L570 793 L569.6 793.8 L569.3 794.6 L569.1 795.4 L569 796.2 L568.9 797 L568.8 797.9 L568.8 798.9 L568.6 800 L568.4 801.2 L568.3 802.6 L568.1 804.1 L567.9 805.6 L567.7 807.2 L567.5 808.7 L567.2 810.2 L566.8 811.5 L566.4 812.7 L565.9 813.7 L565.5 814.7 L565 815.6 L564.3 816.6 L563.6 817.7 L562.7 818.9 L561.6 820.3 L560.3 822 L558.7 823.8 L557 825.8 L555.2 827.9 L553.2 830 L551.3 832.1 L549.4 834.2 L547.6 836.1 L545.8 837.9 L544 839.7 L542.2 841.5 L540.4 843.2 L538.7 844.9 L536.9 846.6 L535.2 848.4 L533.5 850.1 L531.9 851.9 L530.2 853.6 L528.6 855.4 L527.1 857.1 L525.5 858.9 L524.1 860.6 L522.6 862.4 L521.3 864.1 L520 865.8 L518.8 867.6 L517.7 869.3 L516.6 871 L515.5 872.7 L514.5 874.5 L513.5 876.3 L512.5 878.1 L511.5 880 L510.5 882 L509.6 884.1 L508.7 886.1 L507.8 888.2 L507 890.2 L506.2 892.1 L505.5 893.9 L504.9 895.7 L504.3 897.5 L503.8 899.3 L503.3 901 L502.9 902.6 L502.5 904 L502.2 905.2 L502 906.1" fill="none" stroke="#fff" stroke-width="2.1"/>
<path d="M502 906.1 L502.8 905.9 L503.7 905.6 L504.9 905.2 L506.2 904.8 L507.6 904.3 L509.1 903.8 L510.8 903.2 L512.5 902.6 L514.4 901.9 L516.5 901.2 L518.7 900.4 L521 899.5 L523.4 898.6 L525.7 897.7 L527.9 896.7 L530 895.6 L532 894.5 L533.9 893.3 L535.7 892.1 L537.5 890.8 L539.3 889.4 L540.9 888.1 L542.5 886.6 L544 885.1 L545.3 883.5 L546.6 881.9 L547.7 880.3 L548.7 878.5 L549.7 876.8 L550.7 874.9 L551.7 873 L552.8 871.1 L553.9 869.1 L555 867 L556 864.8 L557.1 862.6 L558.2 860.3 L559.3 858.1 L560.4 855.8 L561.6 853.6 L562.8 851.4 L564.1 849.2 L565.4 847 L566.7 844.7 L568.1 842.5 L569.4 840.4 L570.8 838.2 L572.1 836.1 L573.4 834 L574.7 832 L576 830.1 L577.4 828.1 L578.7 826.2 L580 824.2 L581.3 822.3 L582.6 820.3 L583.9 818.3 L585.3 816.2 L586.6 814.2 L588 812.1 L589.3 810.1 L590.6 808.1 L591.9 806.3 L593.1 804.5 L594.3 802.8 L595.5 801.2 L596.7 799.6 L597.9 798.1 L599 796.7 L600.1 795.4 L601.1 794.1 L602 793 L602.8 792 L603.6 791.1 L604.2 790.4 L604.8 789.7 L605.4 789.1 L606 788.5 L606.5 788 L607.1 787.5 L607.7 787 L608.2 786.6 L608.8 786.3 L609.3 785.9 L609.8 785.7 L610.3 785.4 L610.9 785.2 L611.5 785 L612.1 784.8 L612.7 784.6 L613.4 784.5 L614 784.3 L614.7 784.2 L615.4 784.2 L616.2 784.2 L617 784.3 L617.9 784.4 L618.9 784.4 L619.9 784.4 L621 784.6 L622.1 784.8 L623.2 785.3 L624.3 786 L625.4 787 L626.4 788.3 L627.5 789.9 L628.5 791.6 L629.6 793.6 L630.6 795.8 L631.6 798.2 L632.7 800.9 L633.7 803.7 L634.7 806.8 L635.8 810.2 L636.8 813.9 L637.9 817.7 L638.9 821.7 L639.9 825.9 L641 830 L642 834.2 L643 838.5 L644 843 L645 847.7 L646 852.4 L647 857.1 L648 861.7 L649.1 866.2 L650.3 870.3 L651.6 874.3 L652.9 878.2 L654.3 882.1 L655.7 885.8 L657.1 889.3 L658.6 892.5 L660 895.5 L661.4 898 L662.8 900.1 L664.2 901.9 L665.7 903.3 L667.1 904.5 L668.5 905.5 L669.9 906.3 L671.2 907 L672.5 907.7 L673.7 908.3 L675 908.7 L676.2 908.9 L677.4 909 L678.5 909 L679.5 909 L680.3 909 L680.9 909.1" fill="none" stroke="#fff" stroke-width="2.1"/>
<ellipse cx="611.5" cy="780.1" rx="58.5" ry="62.6" fill="none" stroke="#000" stroke-width="4.4" stroke-dasharray="4.3 5"/>
<ellipse cx="620" cy="762.2" rx="59" ry="14.5" transform="rotate(-45.3 620 762.2)" fill="none" stroke="#ff0000" stroke-width="4" stroke-dasharray="3.9 4"/>
<rect x="498.5" y="667.7" width="182.7" height="244.3" fill="none" stroke="#111" stroke-width="1.3"/>
<path d="M497.1 464.6 h-4.8 M497.1 527.6 h-4.8 M497.1 590.3 h-4.8 M497.1 652.5 h-4.8 M498.5 711.7 h-4.8 M498.5 775.6 h-4.8 M498.5 838.4 h-4.8 M498.5 900.8 h-4.8 M549.2 664.2 v2.2 M549.2 667.7 v-1.8 M604.7 664.2 v2.2 M604.7 667.7 v-1.8 M661.2 664.2 v2.2 M661.2 667.7 v-1.8 M550.8 912.0 v5.5 M606 912.0 v5.5 M662.4 912.0 v5.5" stroke="#000" stroke-width="1.3" fill="none"/>
<text x="0" y="0" font-family='"Liberation Sans", sans-serif' font-size="22.50" font-weight="normal" fill="#000" text-anchor="middle" transform="translate(488.8,464.6) rotate(-90)">1110</text>
<text x="0" y="0" font-family='"Liberation Sans", sans-serif' font-size="22.50" font-weight="normal" fill="#000" text-anchor="middle" transform="translate(488.8,527.6) rotate(-90)">1100</text>
<text x="0" y="0" font-family='"Liberation Sans", sans-serif' font-size="22.50" font-weight="normal" fill="#000" text-anchor="middle" transform="translate(488.8,590.3) rotate(-90)">1090</text>
<text x="0" y="0" font-family='"Liberation Sans", sans-serif' font-size="22.50" font-weight="normal" fill="#000" text-anchor="middle" transform="translate(488.8,652.5) rotate(-90)">1080</text>
<text x="0" y="0" font-family='"Liberation Sans", sans-serif' font-size="22.50" font-weight="normal" fill="#000" text-anchor="middle" transform="translate(488.8,711.7) rotate(-90)">1110</text>
<text x="0" y="0" font-family='"Liberation Sans", sans-serif' font-size="22.50" font-weight="normal" fill="#000" text-anchor="middle" transform="translate(488.8,775.6) rotate(-90)">1100</text>
<text x="0" y="0" font-family='"Liberation Sans", sans-serif' font-size="22.50" font-weight="normal" fill="#000" text-anchor="middle" transform="translate(488.8,838.4) rotate(-90)">1090</text>
<text x="0" y="0" font-family='"Liberation Sans", sans-serif' font-size="22.50" font-weight="normal" fill="#000" text-anchor="middle" transform="translate(488.8,900.8) rotate(-90)">1080</text>
<text x="0" y="0" font-family='"Liberation Sans", sans-serif' font-size="24.80" font-weight="normal" fill="#000" text-anchor="middle" transform="translate(454.4,551.3) rotate(-90)">Energy (eV)</text>
<text x="0" y="0" font-family='"Liberation Sans", sans-serif' font-size="24.80" font-weight="normal" fill="#000" text-anchor="middle" transform="translate(455.2,803) rotate(-90)">Energy (eV)</text>
<text x="535.3" y="936.9" font-family='"Liberation Sans", sans-serif' font-size="22.80" font-weight="normal" fill="#000" text-anchor="start" >545</text>
<text x="591.3" y="936.9" font-family='"Liberation Sans", sans-serif' font-size="22.80" font-weight="normal" fill="#000" text-anchor="start" >550</text>
<text x="647.2" y="936.9" font-family='"Liberation Sans", sans-serif' font-size="22.80" font-weight="normal" fill="#000" text-anchor="start" >555</text>
<text x="510.8" y="973.4" font-family='"Liberation Sans", sans-serif' font-size="25.70" font-weight="normal" fill="#000" text-anchor="start" >Energy (eV)</text>
<text x="436" y="444.7" font-family='"Liberation Sans", sans-serif' font-size="34.50" font-weight="bold" fill="#000" text-anchor="start" >D</text>
<text x="437.4" y="700" font-family='"Liberation Sans", sans-serif' font-size="34.50" font-weight="bold" fill="#000" text-anchor="start" >E</text>
<text x="504.6" y="441.4" font-family='"Liberation Sans", sans-serif' font-size="23.24" font-weight="bold" fill="#000" text-anchor="start" >Experiment</text>
<text x="504" y="656.3" font-family='"Liberation Sans", sans-serif' font-size="23.29" font-weight="bold" fill="#000" text-anchor="start" >550 eV</text>
<text x="504.6" y="690" font-family='"Liberation Sans", sans-serif' font-size="23.38" font-weight="bold" fill="#000" text-anchor="start" >Model</text>
<text x="620.5" y="710.8" font-family='"Liberation Sans", sans-serif' font-size="24.72" font-weight="bold" fill="#ff0000" text-anchor="start" >SHG</text>
<text x="599.6" y="868.9" font-family='"Liberation Sans", sans-serif' font-size="25.90" font-weight="bold" fill="#000" text-anchor="start" >TA</text>
</svg>
</body></html>
